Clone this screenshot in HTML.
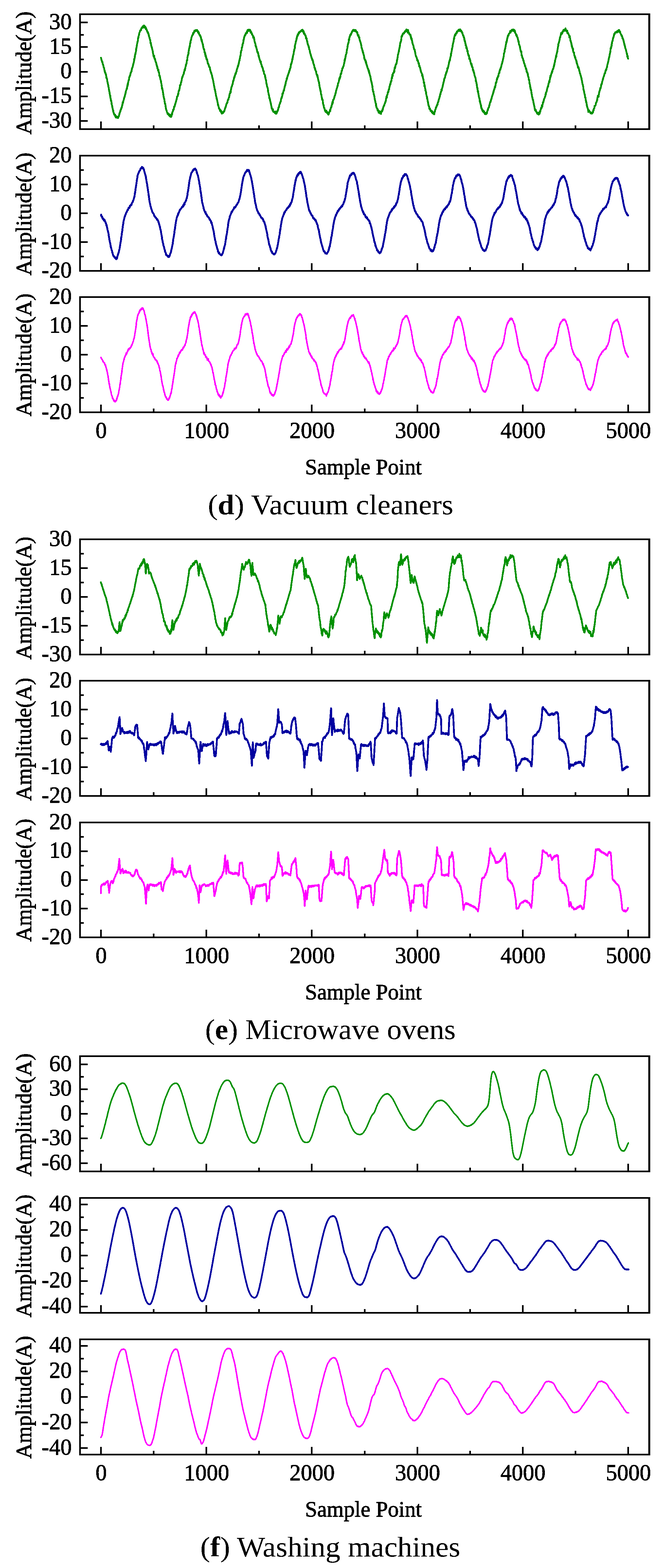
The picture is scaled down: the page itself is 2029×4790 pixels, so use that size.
<!DOCTYPE html><html><head><meta charset="utf-8"><style>html,body{margin:0;padding:0;background:#fff;}svg{display:block}text{font-family:"Liberation Serif","DejaVu Serif",serif;fill:#000}.t{font-size:67.5px;stroke:#000;stroke-width:1.3px;stroke-linejoin:round}.n{font-size:69px}.c{font-size:86px}</style></head><body><svg width="2029" height="4790" viewBox="0 0 2029 4790"><rect x="0" y="0" width="2029" height="4790" fill="#fff"/><defs><filter id="bin" x="0" y="0" width="100%" height="100%" filterUnits="userSpaceOnUse"><feComponentTransfer><feFuncA type="discrete" tableValues="0 1"/></feComponentTransfer></filter></defs><g filter="url(#bin)"><polyline fill="none" stroke="#009100" stroke-width="5.6" stroke-linejoin="round" stroke-linecap="round" points="308.5,176.4 309.1,178.1 309.8,181.3 310.4,184.5 311.1,185.8 311.7,188.9 312.4,189.2 313.0,189.1 313.7,194.4 314.3,196.8 314.9,197.1 315.6,199.5 316.2,202.2 316.9,206.2 317.5,206.7 318.2,207.6 318.8,213.3 319.5,213.9 320.1,218.6 320.7,219.7 321.4,222.8 322.0,222.3 322.7,226.4 323.3,226.0 324.0,228.6 324.6,231.7 325.3,238.4 325.9,237.6 326.5,239.5 327.2,242.2 327.8,248.2 328.5,249.6 329.1,253.9 329.8,257.1 330.4,257.4 331.1,264.3 331.7,266.5 332.3,268.5 333.0,274.6 333.6,277.2 334.3,280.3 334.9,283.8 335.6,289.6 336.2,290.8 336.9,292.1 337.5,300.7 338.1,299.9 338.8,304.6 339.4,309.3 340.1,307.9 340.7,313.2 341.4,319.8 342.0,320.7 342.7,323.2 343.3,327.8 343.9,329.6 344.6,334.1 345.2,335.8 345.9,337.2 346.5,343.4 347.2,344.0 347.8,346.8 348.5,347.0 349.1,350.4 349.7,350.4 350.4,350.8 351.0,349.9 351.7,350.4 352.3,355.6 353.0,355.6 353.6,353.9 354.3,359.3 354.9,357.3 355.5,357.3 356.2,355.5 356.8,357.0 357.5,359.3 358.1,359.7 358.8,359.8 359.4,357.0 360.1,360.6 360.7,360.4 361.3,358.4 362.0,357.3 362.6,355.6 363.3,355.3 363.9,351.4 364.6,350.3 365.2,345.5 365.9,344.4 366.5,343.6 367.1,340.4 367.8,340.1 368.4,335.6 369.1,335.4 369.7,332.3 370.4,333.5 371.0,328.5 371.7,329.9 372.3,328.4 372.9,323.2 373.6,322.1 374.2,318.0 374.9,312.2 375.5,315.4 376.2,312.7 376.8,309.0 377.5,306.2 378.1,305.0 378.7,302.7 379.4,298.8 380.0,296.7 380.7,297.0 381.3,292.9 382.0,290.2 382.6,289.7 383.3,284.9 383.9,284.4 384.5,278.7 385.2,277.6 385.8,275.3 386.5,273.9 387.1,270.5 387.8,271.2 388.4,267.0 389.1,261.8 389.7,263.5 390.3,255.6 391.0,257.5 391.6,250.4 392.3,250.6 392.9,245.2 393.6,243.8 394.2,244.2 394.8,236.9 395.5,234.2 396.1,234.5 396.8,232.6 397.4,230.3 398.1,229.6 398.7,223.9 399.4,224.7 400.0,221.8 400.6,221.0 401.3,218.7 401.9,217.7 402.6,211.1 403.2,211.5 403.9,207.3 404.5,206.7 405.2,205.5 405.8,202.4 406.4,200.3 407.1,196.6 407.7,194.4 408.4,191.4 409.0,190.2 409.7,186.1 410.3,178.6 411.0,179.5 411.6,176.8 412.2,171.1 412.9,165.8 413.5,167.5 414.2,161.9 414.8,159.3 415.5,157.7 416.1,149.6 416.8,147.2 417.4,143.2 418.0,140.8 418.7,135.0 419.3,133.0 420.0,128.8 420.6,127.1 421.3,124.1 421.9,116.5 422.6,116.6 423.2,112.0 423.8,109.5 424.5,107.3 425.1,104.6 425.8,100.1 426.4,99.6 427.1,97.6 427.7,95.9 428.4,92.6 429.0,92.3 429.6,91.7 430.3,92.2 430.9,92.5 431.6,87.4 432.2,86.3 432.9,87.3 433.5,85.2 434.2,84.0 434.8,83.1 435.4,82.2 436.1,84.0 436.7,80.0 437.4,84.4 438.0,80.2 438.7,80.6 439.3,79.7 440.0,77.8 440.6,78.4 441.2,83.1 441.9,84.3 442.5,80.3 443.2,84.0 443.8,83.0 444.5,82.3 445.1,87.5 445.8,89.3 446.4,86.3 447.0,87.9 447.7,89.7 448.3,90.5 449.0,93.5 449.6,96.1 450.3,95.2 450.9,98.2 451.6,100.9 452.2,98.7 452.8,101.3 453.5,102.1 454.1,106.4 454.8,108.0 455.4,111.0 456.1,113.4 456.7,114.3 457.4,118.8 458.0,119.7 458.6,122.7 459.3,122.5 459.9,131.3 460.6,129.9 461.2,134.3 461.9,136.8 462.5,142.0 463.2,142.9 463.8,143.5 464.4,147.6 465.1,150.0 465.7,153.3 466.4,153.4 467.0,158.1 467.7,164.4 468.3,164.3 469.0,169.0 469.6,173.6 470.2,171.2 470.9,170.2 471.5,174.7 472.2,179.0 472.8,180.8 473.5,179.3 474.1,183.1 474.8,185.4 475.4,187.7 476.0,189.7 476.7,190.5 477.3,193.1 478.0,195.9 478.6,200.4 479.3,199.9 479.9,204.1 480.6,203.2 481.2,209.5 481.8,209.6 482.5,211.5 483.1,216.0 483.8,212.8 484.4,215.5 485.1,221.2 485.7,221.3 486.4,224.4 487.0,232.1 487.6,229.6 488.3,232.7 488.9,235.2 489.6,240.1 490.2,241.8 490.9,244.8 491.5,245.8 492.2,250.8 492.8,254.9 493.4,255.8 494.1,263.1 494.7,266.4 495.4,272.5 496.0,270.0 496.7,274.5 497.3,278.1 498.0,282.0 498.6,286.5 499.2,289.9 499.9,294.2 500.5,297.6 501.2,300.6 501.8,301.4 502.5,306.3 503.1,310.6 503.8,314.6 504.4,317.9 505.0,317.3 505.7,322.5 506.3,326.6 507.0,330.5 507.6,334.9 508.3,335.8 508.9,336.6 509.6,340.9 510.2,342.3 510.8,343.5 511.5,344.0 512.1,348.0 512.8,346.7 513.4,348.8 514.1,346.7 514.7,350.5 515.4,349.0 516.0,348.1 516.6,352.1 517.3,353.3 517.9,352.5 518.6,353.4 519.2,355.7 519.9,353.6 520.5,351.2 521.2,355.5 521.8,355.6 522.4,357.2 523.1,354.8 523.7,355.8 524.4,353.7 525.0,347.7 525.7,349.7 526.3,344.3 527.0,341.6 527.6,341.9 528.2,339.5 528.9,335.1 529.5,336.9 530.2,335.6 530.8,334.9 531.5,330.4 532.1,325.9 532.8,324.7 533.4,326.0 534.0,323.8 534.7,321.1 535.3,317.5 536.0,316.3 536.6,313.4 537.3,311.1 537.9,310.0 538.6,307.3 539.2,304.6 539.8,302.8 540.5,299.5 541.1,294.8 541.8,294.7 542.4,293.3 543.1,294.0 543.7,287.9 544.4,289.6 545.0,286.3 545.6,279.9 546.3,277.8 546.9,276.8 547.6,277.1 548.2,272.3 548.9,270.3 549.5,265.4 550.1,260.0 550.8,261.0 551.4,260.1 552.1,258.2 552.7,253.7 553.4,251.4 554.0,250.6 554.7,245.9 555.3,245.7 555.9,239.3 556.6,237.1 557.2,234.8 557.9,235.4 558.5,231.6 559.2,230.7 559.8,229.1 560.5,227.0 561.1,226.7 561.7,225.0 562.4,219.0 563.0,218.7 563.7,215.9 564.3,212.4 565.0,215.0 565.6,211.1 566.3,207.0 566.9,204.2 567.5,203.0 568.2,197.8 568.8,196.4 569.5,196.0 570.1,192.5 570.8,186.4 571.4,183.8 572.1,184.8 572.7,175.9 573.3,173.9 574.0,169.3 574.6,169.1 575.3,165.6 575.9,163.6 576.6,153.6 577.2,154.7 577.9,147.9 578.5,148.1 579.1,143.0 579.8,142.7 580.4,137.0 581.1,131.4 581.7,132.3 582.4,125.2 583.0,123.4 583.7,122.7 584.3,118.8 584.9,116.0 585.6,112.7 586.2,111.3 586.9,109.9 587.5,107.6 588.2,107.6 588.8,106.9 589.5,103.5 590.1,100.8 590.7,104.0 591.4,100.2 592.0,100.4 592.7,100.0 593.3,95.9 594.0,97.5 594.6,93.2 595.3,96.5 595.9,93.9 596.5,94.4 597.2,94.9 597.8,92.1 598.5,93.1 599.1,91.6 599.8,92.6 600.4,94.4 601.1,92.8 601.7,92.8 602.3,91.6 603.0,95.4 603.6,94.5 604.3,98.2 604.9,94.9 605.6,98.9 606.2,101.2 606.9,99.2 607.5,98.4 608.1,104.2 608.8,104.8 609.4,105.5 610.1,107.6 610.7,106.3 611.4,109.9 612.0,111.2 612.7,110.3 613.3,114.2 613.9,113.9 614.6,118.4 615.2,121.1 615.9,124.6 616.5,120.7 617.2,127.1 617.8,128.8 618.5,131.9 619.1,134.2 619.7,136.9 620.4,136.0 621.0,143.6 621.7,146.9 622.3,148.4 623.0,151.5 623.6,150.3 624.3,152.6 624.9,158.2 625.5,161.4 626.2,162.0 626.8,161.3 627.5,171.0 628.1,167.4 628.8,172.5 629.4,171.0 630.1,176.8 630.7,177.5 631.3,181.7 632.0,182.8 632.6,180.6 633.3,183.6 633.9,187.7 634.6,190.4 635.2,194.2 635.9,193.5 636.5,194.9 637.1,196.9 637.8,199.0 638.4,202.8 639.1,203.0 639.7,205.0 640.4,204.6 641.0,205.5 641.7,211.0 642.3,214.1 642.9,214.9 643.6,217.8 644.2,220.1 644.9,221.0 645.5,224.9 646.2,224.1 646.8,227.6 647.5,229.4 648.1,232.5 648.7,236.0 649.4,239.0 650.0,240.6 650.7,244.1 651.3,245.9 652.0,249.5 652.6,255.1 653.3,255.9 653.9,261.7 654.5,263.8 655.2,266.5 655.8,272.8 656.5,272.1 657.1,275.2 657.8,279.0 658.4,282.7 659.1,285.8 659.7,290.1 660.3,292.1 661.0,295.7 661.6,297.6 662.3,302.9 662.9,303.3 663.6,306.3 664.2,309.8 664.9,313.3 665.5,314.6 666.1,321.6 666.8,320.7 667.4,323.9 668.1,326.3 668.7,328.4 669.4,332.1 670.0,332.9 670.7,332.4 671.3,333.8 671.9,335.2 672.6,339.2 673.2,336.5 673.9,336.2 674.5,337.3 675.2,339.5 675.8,343.4 676.5,339.7 677.1,342.2 677.7,347.0 678.4,342.4 679.0,346.1 679.7,346.2 680.3,345.4 681.0,342.3 681.6,345.4 682.3,344.3 682.9,341.8 683.5,340.4 684.2,341.7 684.8,340.2 685.5,340.2 686.1,337.5 686.8,333.7 687.4,332.0 688.1,330.7 688.7,327.3 689.3,328.6 690.0,325.4 690.6,322.2 691.3,320.6 691.9,317.8 692.6,317.1 693.2,316.4 693.9,313.2 694.5,313.7 695.1,312.8 695.8,306.9 696.4,306.0 697.1,303.4 697.7,304.9 698.4,300.5 699.0,298.8 699.7,297.1 700.3,297.4 700.9,291.9 701.6,287.5 702.2,286.3 702.9,285.8 703.5,282.5 704.2,278.9 704.8,282.9 705.5,276.0 706.1,272.5 706.7,270.0 707.4,266.0 708.0,264.7 708.7,263.8 709.3,261.4 710.0,258.1 710.6,258.0 711.2,254.7 711.9,250.6 712.5,246.4 713.2,247.7 713.8,245.1 714.5,242.3 715.1,238.0 715.8,238.1 716.4,233.3 717.0,235.4 717.7,231.9 718.3,229.9 719.0,226.2 719.6,223.8 720.3,226.4 720.9,223.5 721.6,219.4 722.2,219.3 722.8,218.9 723.5,212.5 724.1,211.6 724.8,209.6 725.4,209.2 726.1,204.5 726.7,204.6 727.4,200.0 728.0,201.1 728.6,198.5 729.3,194.1 729.9,193.0 730.6,187.8 731.2,185.7 731.9,184.9 732.5,180.2 733.2,177.9 733.8,172.6 734.4,172.3 735.1,168.9 735.7,162.9 736.4,158.0 737.0,155.1 737.7,155.1 738.3,151.4 739.0,145.6 739.6,145.1 740.2,143.2 740.9,137.9 741.5,134.2 742.2,133.4 742.8,132.0 743.5,128.8 744.1,122.2 744.8,121.8 745.4,118.0 746.0,114.7 746.7,111.6 747.3,111.1 748.0,107.9 748.6,108.9 749.3,106.8 749.9,106.9 750.6,102.0 751.2,103.0 751.8,103.2 752.5,101.6 753.1,100.4 753.8,97.9 754.4,101.1 755.1,99.3 755.7,97.4 756.4,91.7 757.0,93.8 757.6,95.2 758.3,93.2 758.9,90.5 759.6,94.2 760.2,94.2 760.9,91.2 761.5,92.4 762.2,92.2 762.8,94.4 763.4,90.4 764.1,91.3 764.7,93.8 765.4,94.3 766.0,99.9 766.7,96.1 767.3,98.5 768.0,98.5 768.6,99.2 769.2,102.2 769.9,105.8 770.5,103.5 771.2,106.8 771.8,107.5 772.5,109.4 773.1,110.3 773.8,115.2 774.4,110.5 775.0,113.7 775.7,114.1 776.3,114.7 777.0,120.4 777.6,126.1 778.3,127.0 778.9,130.2 779.6,131.6 780.2,133.2 780.8,139.4 781.5,137.8 782.1,143.4 782.8,142.6 783.4,145.7 784.1,148.5 784.7,150.6 785.4,153.8 786.0,156.4 786.6,160.7 787.3,160.2 787.9,159.3 788.6,161.4 789.2,164.9 789.9,168.3 790.5,172.9 791.2,171.4 791.8,176.1 792.4,178.2 793.1,180.6 793.7,181.9 794.4,184.8 795.0,186.2 795.7,189.9 796.3,190.5 797.0,187.8 797.6,193.9 798.2,196.2 798.9,196.8 799.5,198.5 800.2,203.7 800.8,204.2 801.5,204.2 802.1,207.3 802.8,209.5 803.4,208.9 804.0,214.8 804.7,215.4 805.3,218.5 806.0,217.0 806.6,225.1 807.3,225.0 807.9,226.9 808.6,227.0 809.2,229.4 809.8,230.4 810.5,238.1 811.1,236.7 811.8,241.3 812.4,244.9 813.1,245.8 813.7,251.6 814.4,256.8 815.0,257.1 815.6,262.4 816.3,264.2 816.9,265.7 817.6,268.9 818.2,269.8 818.9,276.1 819.5,281.7 820.2,283.5 820.8,287.0 821.4,290.7 822.1,291.0 822.7,296.0 823.4,301.5 824.0,299.8 824.7,304.1 825.3,306.1 826.0,309.4 826.6,311.5 827.2,315.6 827.9,316.5 828.5,320.9 829.2,323.8 829.8,326.3 830.5,331.9 831.1,331.7 831.8,333.5 832.4,333.8 833.0,337.6 833.7,333.3 834.3,337.0 835.0,340.2 835.6,341.9 836.3,340.3 836.9,340.7 837.6,342.6 838.2,341.9 838.8,343.8 839.5,342.3 840.1,345.1 840.8,344.4 841.4,343.0 842.1,340.6 842.7,347.2 843.4,346.4 844.0,347.2 844.6,344.5 845.3,347.0 845.9,344.1 846.6,341.6 847.2,341.5 847.9,339.6 848.5,337.0 849.2,338.0 849.8,335.0 850.4,331.3 851.1,328.5 851.7,327.2 852.4,328.0 853.0,323.8 853.7,319.7 854.3,318.1 855.0,317.3 855.6,316.7 856.2,312.0 856.9,312.1 857.5,311.1 858.2,308.4 858.8,302.4 859.5,302.5 860.1,298.7 860.8,299.5 861.4,294.8 862.0,295.3 862.7,292.3 863.3,285.5 864.0,286.2 864.6,286.2 865.3,283.2 865.9,280.2 866.6,276.3 867.2,277.0 867.8,276.9 868.5,272.0 869.1,269.2 869.8,266.6 870.4,262.1 871.1,261.4 871.7,258.1 872.4,259.0 873.0,253.0 873.6,248.4 874.3,248.2 874.9,246.7 875.6,244.4 876.2,239.2 876.9,241.6 877.5,237.9 878.1,234.6 878.8,231.9 879.4,231.9 880.1,228.6 880.7,227.6 881.4,225.0 882.0,223.5 882.7,223.3 883.3,219.5 883.9,216.0 884.6,217.3 885.2,214.0 885.9,210.4 886.5,211.4 887.2,207.1 887.8,207.0 888.5,200.9 889.1,196.4 889.7,194.4 890.4,195.7 891.0,191.3 891.7,189.6 892.3,186.7 893.0,181.2 893.6,183.2 894.3,175.9 894.9,174.8 895.5,169.1 896.2,168.1 896.8,166.4 897.5,161.5 898.1,157.4 898.8,155.1 899.4,150.8 900.1,149.0 900.7,148.3 901.3,139.5 902.0,136.5 902.6,134.3 903.3,131.4 903.9,126.8 904.6,126.5 905.2,124.0 905.9,120.2 906.5,115.0 907.1,116.9 907.8,110.0 908.4,111.2 909.1,110.4 909.7,105.0 910.4,106.2 911.0,107.2 911.7,104.4 912.3,101.1 912.9,99.7 913.6,101.5 914.2,99.1 914.9,97.7 915.5,99.3 916.2,96.8 916.8,96.7 917.5,97.0 918.1,96.3 918.7,94.9 919.4,94.5 920.0,95.2 920.7,94.7 921.3,91.8 922.0,93.3 922.6,92.2 923.3,91.8 923.9,93.2 924.5,90.6 925.2,96.6 925.8,94.5 926.5,97.2 927.1,94.3 927.8,95.5 928.4,103.0 929.1,102.4 929.7,100.8 930.3,101.8 931.0,103.2 931.6,106.0 932.3,106.5 932.9,107.5 933.6,110.2 934.2,109.7 934.9,117.0 935.5,113.5 936.1,118.3 936.8,116.9 937.4,121.3 938.1,124.9 938.7,125.2 939.4,130.1 940.0,132.8 940.7,136.6 941.3,136.4 941.9,138.0 942.6,139.5 943.2,143.9 943.9,144.3 944.5,148.5 945.2,151.2 945.8,152.5 946.5,154.1 947.1,159.0 947.7,161.2 948.4,163.5 949.0,165.4 949.7,169.5 950.3,168.4 951.0,173.1 951.6,173.8 952.3,178.1 952.9,178.1 953.5,180.1 954.2,183.5 954.8,181.2 955.5,186.1 956.1,185.6 956.8,188.9 957.4,193.7 958.1,195.2 958.7,195.7 959.3,198.4 960.0,200.5 960.6,203.1 961.3,207.8 961.9,207.0 962.6,212.4 963.2,209.9 963.9,213.8 964.5,215.7 965.1,216.8 965.8,218.0 966.4,223.0 967.1,225.7 967.7,226.6 968.4,230.5 969.0,230.9 969.7,228.7 970.3,235.8 970.9,235.3 971.6,241.5 972.2,241.5 972.9,245.5 973.5,248.2 974.2,250.3 974.8,251.5 975.5,257.5 976.1,261.0 976.7,266.2 977.4,266.7 978.0,271.4 978.7,272.6 979.3,277.3 980.0,277.4 980.6,287.2 981.3,287.5 981.9,288.6 982.5,293.9 983.2,297.8 983.8,300.0 984.5,304.9 985.1,305.2 985.8,304.0 986.4,309.2 987.1,316.2 987.7,318.8 988.3,321.0 989.0,321.5 989.6,327.4 990.3,329.7 990.9,329.1 991.6,331.1 992.2,334.7 992.9,337.1 993.5,338.8 994.1,338.3 994.8,341.9 995.4,337.6 996.1,340.9 996.7,339.8 997.4,338.1 998.0,340.1 998.7,344.9 999.3,341.9 999.9,342.0 1000.6,345.9 1001.2,346.7 1001.9,345.6 1002.5,348.6 1003.2,343.4 1003.8,350.4 1004.5,348.3 1005.1,346.8 1005.7,345.1 1006.4,342.6 1007.0,340.7 1007.7,339.8 1008.3,335.6 1009.0,339.6 1009.6,334.0 1010.3,333.4 1010.9,330.1 1011.5,328.1 1012.2,328.2 1012.8,325.8 1013.5,321.4 1014.1,320.2 1014.8,320.1 1015.4,313.3 1016.1,310.9 1016.7,315.5 1017.3,310.4 1018.0,304.5 1018.6,305.5 1019.3,304.4 1019.9,303.1 1020.6,301.6 1021.2,298.9 1021.9,297.4 1022.5,292.9 1023.1,292.7 1023.8,290.6 1024.4,289.7 1025.1,285.4 1025.7,284.6 1026.4,281.1 1027.0,276.7 1027.7,275.6 1028.3,273.1 1028.9,271.0 1029.6,269.2 1030.2,267.2 1030.9,265.1 1031.5,260.9 1032.2,261.7 1032.8,254.9 1033.4,254.8 1034.1,253.7 1034.7,250.8 1035.4,248.7 1036.0,244.8 1036.7,243.9 1037.3,238.3 1038.0,239.4 1038.6,239.7 1039.2,234.9 1039.9,235.0 1040.5,229.5 1041.2,225.6 1041.8,224.3 1042.5,225.9 1043.1,223.0 1043.8,216.6 1044.4,217.3 1045.0,215.9 1045.7,212.1 1046.3,207.7 1047.0,207.7 1047.6,207.7 1048.3,205.2 1048.9,202.5 1049.6,202.4 1050.2,200.7 1050.8,196.2 1051.5,195.4 1052.1,191.1 1052.8,188.0 1053.4,181.1 1054.1,183.8 1054.7,179.5 1055.4,176.5 1056.0,172.3 1056.6,168.1 1057.3,167.7 1057.9,165.2 1058.6,163.4 1059.2,158.8 1059.9,152.8 1060.5,150.1 1061.2,148.5 1061.8,143.9 1062.4,139.7 1063.1,135.5 1063.7,134.3 1064.4,130.7 1065.0,130.6 1065.7,126.5 1066.3,118.7 1067.0,122.5 1067.6,116.4 1068.2,112.9 1068.9,111.5 1069.5,110.2 1070.2,107.1 1070.8,105.7 1071.5,104.7 1072.1,106.7 1072.8,102.6 1073.4,102.8 1074.0,101.2 1074.7,98.9 1075.3,97.2 1076.0,95.9 1076.6,97.5 1077.3,94.2 1077.9,93.1 1078.6,92.5 1079.2,91.4 1079.8,93.6 1080.5,93.2 1081.1,91.0 1081.8,94.6 1082.4,91.6 1083.1,92.8 1083.7,92.4 1084.4,94.9 1085.0,93.7 1085.6,92.5 1086.3,91.4 1086.9,91.9 1087.6,94.5 1088.2,95.5 1088.9,97.6 1089.5,96.5 1090.2,98.8 1090.8,98.5 1091.4,97.7 1092.1,102.2 1092.7,106.1 1093.4,106.4 1094.0,108.9 1094.7,109.9 1095.3,107.0 1096.0,110.3 1096.6,115.0 1097.2,113.0 1097.9,114.0 1098.5,119.2 1099.2,122.2 1099.8,124.2 1100.5,125.8 1101.1,127.9 1101.8,129.6 1102.4,132.2 1103.0,134.8 1103.7,136.9 1104.3,140.6 1105.0,146.9 1105.6,147.0 1106.3,148.7 1106.9,152.4 1107.6,152.7 1108.2,157.4 1108.8,160.9 1109.5,159.2 1110.1,162.9 1110.8,166.1 1111.4,167.2 1112.1,169.2 1112.7,172.7 1113.4,179.7 1114.0,178.7 1114.6,180.4 1115.3,183.4 1115.9,183.3 1116.6,183.5 1117.2,188.5 1117.9,191.6 1118.5,188.0 1119.2,194.4 1119.8,197.8 1120.4,197.3 1121.1,199.0 1121.7,203.1 1122.4,202.5 1123.0,206.8 1123.7,209.5 1124.3,209.6 1125.0,210.6 1125.6,215.0 1126.2,215.4 1126.9,218.2 1127.5,215.2 1128.2,223.5 1128.8,222.1 1129.5,226.9 1130.1,229.4 1130.8,230.3 1131.4,232.5 1132.0,234.6 1132.7,239.1 1133.3,243.7 1134.0,246.7 1134.6,248.1 1135.3,251.3 1135.9,253.3 1136.6,258.4 1137.2,260.6 1137.8,263.1 1138.5,268.8 1139.1,274.9 1139.8,277.6 1140.4,281.3 1141.1,279.3 1141.7,286.9 1142.4,286.5 1143.0,290.9 1143.6,292.1 1144.3,296.5 1144.9,301.5 1145.6,304.6 1146.2,307.0 1146.9,309.9 1147.5,314.2 1148.2,316.4 1148.8,316.6 1149.4,325.4 1150.1,324.7 1150.7,329.3 1151.4,329.6 1152.0,330.3 1152.7,333.3 1153.3,332.9 1154.0,338.1 1154.6,334.3 1155.2,338.3 1155.9,337.0 1156.5,338.7 1157.2,344.4 1157.8,342.0 1158.5,341.0 1159.1,339.3 1159.8,342.2 1160.4,342.8 1161.0,346.2 1161.7,341.7 1162.3,341.4 1163.0,344.8 1163.6,345.5 1164.3,348.1 1164.9,343.8 1165.6,339.8 1166.2,341.5 1166.8,338.8 1167.5,338.3 1168.1,339.2 1168.8,333.3 1169.4,336.0 1170.1,332.4 1170.7,329.6 1171.4,326.7 1172.0,325.6 1172.6,323.8 1173.3,323.8 1173.9,322.8 1174.6,318.5 1175.2,317.9 1175.9,316.9 1176.5,314.9 1177.2,311.5 1177.8,311.9 1178.4,308.9 1179.1,307.4 1179.7,302.1 1180.4,299.6 1181.0,294.6 1181.7,298.6 1182.3,295.0 1183.0,290.0 1183.6,289.7 1184.2,287.7 1184.9,281.9 1185.5,283.2 1186.2,282.3 1186.8,280.3 1187.5,275.1 1188.1,272.9 1188.8,273.5 1189.4,270.5 1190.0,265.4 1190.7,263.0 1191.3,262.7 1192.0,258.0 1192.6,255.6 1193.3,257.2 1193.9,252.2 1194.5,248.4 1195.2,247.7 1195.8,248.0 1196.5,242.4 1197.1,238.2 1197.8,234.4 1198.4,238.8 1199.1,228.2 1199.7,232.7 1200.3,227.0 1201.0,224.5 1201.6,223.0 1202.3,222.5 1202.9,222.9 1203.6,217.9 1204.2,218.3 1204.9,219.5 1205.5,208.2 1206.1,209.9 1206.8,205.9 1207.4,208.5 1208.1,202.2 1208.7,199.7 1209.4,197.3 1210.0,197.6 1210.7,197.1 1211.3,192.5 1211.9,193.3 1212.6,189.5 1213.2,183.4 1213.9,182.2 1214.5,177.7 1215.2,174.5 1215.8,167.8 1216.5,165.8 1217.1,165.0 1217.7,159.5 1218.4,159.7 1219.0,155.4 1219.7,149.7 1220.3,149.9 1221.0,144.7 1221.6,143.1 1222.3,137.2 1222.9,131.3 1223.5,132.5 1224.2,127.9 1224.8,126.9 1225.5,124.4 1226.1,121.7 1226.8,114.1 1227.4,109.9 1228.1,110.9 1228.7,110.9 1229.3,106.7 1230.0,107.3 1230.6,104.1 1231.3,103.9 1231.9,102.8 1232.6,101.2 1233.2,102.2 1233.9,101.0 1234.5,102.3 1235.1,99.2 1235.8,100.1 1236.4,97.1 1237.1,97.8 1237.7,95.3 1238.4,94.1 1239.0,96.9 1239.7,95.4 1240.3,95.3 1240.9,92.1 1241.6,90.2 1242.2,91.6 1242.9,93.7 1243.5,90.7 1244.2,96.2 1244.8,91.3 1245.5,95.6 1246.1,100.0 1246.7,91.3 1247.4,94.0 1248.0,99.5 1248.7,98.4 1249.3,100.2 1250.0,100.8 1250.6,104.9 1251.3,104.7 1251.9,104.0 1252.5,105.8 1253.2,105.5 1253.8,108.9 1254.5,106.3 1255.1,113.1 1255.8,112.9 1256.4,118.5 1257.1,119.3 1257.7,117.0 1258.3,123.3 1259.0,123.2 1259.6,126.8 1260.3,131.2 1260.9,132.6 1261.6,135.4 1262.2,137.9 1262.9,138.1 1263.5,140.7 1264.1,145.2 1264.8,148.2 1265.4,148.5 1266.1,151.6 1266.7,152.1 1267.4,151.7 1268.0,157.2 1268.7,161.2 1269.3,163.8 1269.9,167.3 1270.6,169.7 1271.2,172.1 1271.9,173.2 1272.5,175.4 1273.2,175.4 1273.8,179.4 1274.5,181.1 1275.1,184.9 1275.7,181.8 1276.4,185.7 1277.0,185.4 1277.7,189.1 1278.3,189.8 1279.0,194.8 1279.6,195.0 1280.3,193.5 1280.9,202.4 1281.5,200.2 1282.2,201.3 1282.8,205.5 1283.5,206.8 1284.1,207.9 1284.8,213.2 1285.4,213.3 1286.1,217.5 1286.7,219.2 1287.3,221.1 1288.0,222.3 1288.6,223.9 1289.3,225.5 1289.9,231.1 1290.6,227.3 1291.2,231.1 1291.9,234.3 1292.5,238.9 1293.1,241.2 1293.8,243.0 1294.4,246.3 1295.1,253.2 1295.7,252.0 1296.4,251.4 1297.0,263.2 1297.7,261.4 1298.3,265.7 1298.9,269.8 1299.6,270.2 1300.2,277.9 1300.9,278.7 1301.5,279.5 1302.2,285.7 1302.8,289.3 1303.5,291.5 1304.1,295.6 1304.7,295.1 1305.4,302.5 1306.0,302.2 1306.7,308.8 1307.3,308.2 1308.0,312.6 1308.6,320.1 1309.3,318.4 1309.9,323.3 1310.5,325.0 1311.2,324.1 1311.8,331.2 1312.5,333.2 1313.1,330.4 1313.8,334.1 1314.4,332.6 1315.1,335.8 1315.7,338.9 1316.3,338.3 1317.0,336.9 1317.6,338.3 1318.3,340.8 1318.9,341.4 1319.6,342.5 1320.2,344.0 1320.9,340.1 1321.5,344.1 1322.1,346.7 1322.8,345.9 1323.4,344.1 1324.1,344.6 1324.7,346.3 1325.4,347.4 1326.0,346.3 1326.7,349.4 1327.3,347.0 1327.9,341.4 1328.6,341.9 1329.2,338.6 1329.9,335.3 1330.5,334.5 1331.2,333.7 1331.8,328.1 1332.5,328.8 1333.1,328.7 1333.7,324.8 1334.4,323.5 1335.0,323.8 1335.7,320.2 1336.3,318.6 1337.0,319.8 1337.6,314.6 1338.3,312.8 1338.9,311.0 1339.5,311.1 1340.2,306.7 1340.8,304.0 1341.5,301.7 1342.1,301.7 1342.8,296.4 1343.4,297.5 1344.1,293.5 1344.7,288.5 1345.3,289.8 1346.0,287.2 1346.6,282.1 1347.3,282.4 1347.9,279.9 1348.6,276.7 1349.2,272.8 1349.9,276.4 1350.5,271.5 1351.1,269.5 1351.8,267.2 1352.4,264.3 1353.1,261.8 1353.7,257.3 1354.4,256.9 1355.0,252.6 1355.6,249.6 1356.3,249.1 1356.9,245.1 1357.6,239.9 1358.2,239.9 1358.9,239.3 1359.5,235.9 1360.2,235.2 1360.8,230.9 1361.4,227.8 1362.1,228.8 1362.7,225.7 1363.4,221.3 1364.0,222.3 1364.7,219.1 1365.3,219.4 1366.0,217.0 1366.6,214.5 1367.2,207.8 1367.9,210.2 1368.5,208.3 1369.2,206.2 1369.8,203.2 1370.5,199.4 1371.1,197.8 1371.8,191.9 1372.4,192.4 1373.0,187.5 1373.7,186.6 1374.3,183.1 1375.0,183.6 1375.6,178.2 1376.3,175.0 1376.9,172.1 1377.6,172.3 1378.2,163.8 1378.8,162.9 1379.5,159.6 1380.1,155.8 1380.8,152.2 1381.4,147.5 1382.1,146.9 1382.7,142.8 1383.4,137.2 1384.0,134.1 1384.6,131.8 1385.3,129.2 1385.9,126.7 1386.6,122.4 1387.2,117.2 1387.9,118.3 1388.5,111.0 1389.2,109.7 1389.8,109.7 1390.4,105.6 1391.1,108.1 1391.7,107.3 1392.4,105.4 1393.0,102.7 1393.7,101.5 1394.3,100.8 1395.0,98.7 1395.6,101.7 1396.2,96.1 1396.9,98.6 1397.5,96.5 1398.2,95.3 1398.8,95.9 1399.5,95.7 1400.1,94.5 1400.8,92.3 1401.4,90.8 1402.0,90.6 1402.7,93.1 1403.3,92.6 1404.0,92.8 1404.6,90.4 1405.3,95.0 1405.9,89.6 1406.6,93.2 1407.2,94.3 1407.8,93.1 1408.5,92.8 1409.1,94.9 1409.8,94.7 1410.4,97.5 1411.1,96.8 1411.7,98.0 1412.4,101.7 1413.0,100.4 1413.6,104.0 1414.3,105.6 1414.9,108.9 1415.6,109.2 1416.2,108.8 1416.9,114.1 1417.5,112.5 1418.2,115.1 1418.8,117.5 1419.4,124.4 1420.1,123.3 1420.7,124.7 1421.4,129.9 1422.0,131.1 1422.7,138.1 1423.3,135.3 1424.0,140.1 1424.6,139.9 1425.2,147.2 1425.9,145.2 1426.5,149.4 1427.2,150.1 1427.8,155.7 1428.5,157.6 1429.1,155.1 1429.8,163.0 1430.4,165.2 1431.0,166.8 1431.7,170.5 1432.3,168.9 1433.0,170.2 1433.6,176.6 1434.3,180.6 1434.9,177.6 1435.6,179.7 1436.2,182.3 1436.8,183.7 1437.5,189.3 1438.1,190.1 1438.8,194.2 1439.4,196.3 1440.1,194.1 1440.7,199.1 1441.4,196.0 1442.0,201.9 1442.6,205.3 1443.3,204.8 1443.9,205.0 1444.6,209.4 1445.2,214.4 1445.9,213.6 1446.5,213.9 1447.2,219.3 1447.8,221.9 1448.4,220.9 1449.1,224.6 1449.7,229.1 1450.4,230.2 1451.0,233.3 1451.7,234.0 1452.3,236.9 1453.0,237.9 1453.6,241.7 1454.2,248.8 1454.9,248.6 1455.5,251.1 1456.2,255.2 1456.8,257.6 1457.5,263.8 1458.1,267.9 1458.8,267.9 1459.4,274.6 1460.0,279.8 1460.7,277.5 1461.3,283.9 1462.0,286.5 1462.6,291.7 1463.3,294.9 1463.9,297.8 1464.6,299.6 1465.2,301.4 1465.8,309.1 1466.5,306.7 1467.1,313.1 1467.8,316.0 1468.4,316.1 1469.1,320.5 1469.7,326.1 1470.4,323.1 1471.0,330.5 1471.6,330.9 1472.3,333.0 1472.9,332.5 1473.6,337.0 1474.2,335.5 1474.9,339.5 1475.5,337.2 1476.2,341.5 1476.8,341.7 1477.4,338.6 1478.1,342.2 1478.7,343.3 1479.4,340.3 1480.0,344.2 1480.7,346.9 1481.3,344.7 1482.0,348.6 1482.6,344.9 1483.2,345.1 1483.9,348.5 1484.5,348.8 1485.2,347.5 1485.8,347.8 1486.5,347.9 1487.1,343.5 1487.8,346.4 1488.4,341.9 1489.0,340.1 1489.7,338.1 1490.3,335.4 1491.0,336.3 1491.6,331.3 1492.3,330.8 1492.9,329.9 1493.6,329.3 1494.2,327.1 1494.8,322.5 1495.5,323.0 1496.1,319.3 1496.8,315.6 1497.4,313.7 1498.1,310.9 1498.7,312.2 1499.4,311.6 1500.0,305.9 1500.6,305.2 1501.3,301.8 1501.9,301.7 1502.6,297.5 1503.2,296.1 1503.9,294.2 1504.5,292.4 1505.2,290.5 1505.8,288.6 1506.4,286.4 1507.1,282.9 1507.7,283.4 1508.4,277.2 1509.0,278.2 1509.7,274.1 1510.3,273.7 1511.0,271.8 1511.6,265.5 1512.2,267.3 1512.9,266.7 1513.5,263.4 1514.2,260.3 1514.8,253.6 1515.5,254.6 1516.1,250.9 1516.8,252.0 1517.4,247.2 1518.0,244.3 1518.7,240.0 1519.3,242.1 1520.0,237.6 1520.6,236.0 1521.3,236.2 1521.9,232.3 1522.5,230.8 1523.2,232.5 1523.8,225.4 1524.5,223.7 1525.1,223.5 1525.8,223.3 1526.4,216.5 1527.1,216.8 1527.7,213.6 1528.3,211.0 1529.0,212.5 1529.6,208.1 1530.3,208.0 1530.9,205.5 1531.6,203.4 1532.2,201.0 1532.9,196.7 1533.5,195.9 1534.1,193.9 1534.8,191.4 1535.4,187.6 1536.1,186.9 1536.7,183.4 1537.4,179.6 1538.0,177.6 1538.7,173.8 1539.3,171.6 1539.9,164.0 1540.6,162.2 1541.2,160.7 1541.9,158.3 1542.5,151.1 1543.2,151.0 1543.8,148.3 1544.5,144.2 1545.1,140.8 1545.7,135.6 1546.4,134.9 1547.0,128.2 1547.7,130.5 1548.3,125.0 1549.0,125.1 1549.6,117.4 1550.3,118.3 1550.9,115.2 1551.5,110.9 1552.2,108.1 1552.8,110.2 1553.5,107.2 1554.1,107.7 1554.8,103.9 1555.4,103.3 1556.1,102.6 1556.7,102.2 1557.3,100.7 1558.0,100.3 1558.6,97.2 1559.3,94.6 1559.9,99.8 1560.6,95.8 1561.2,95.6 1561.9,93.3 1562.5,95.3 1563.1,93.3 1563.8,94.4 1564.4,90.9 1565.1,91.6 1565.7,91.8 1566.4,90.7 1567.0,91.6 1567.7,93.9 1568.3,90.2 1568.9,91.1 1569.6,92.2 1570.2,90.8 1570.9,91.1 1571.5,95.9 1572.2,96.3 1572.8,93.2 1573.5,94.5 1574.1,99.5 1574.7,101.5 1575.4,101.9 1576.0,103.0 1576.7,106.3 1577.3,105.0 1578.0,108.7 1578.6,110.1 1579.3,107.9 1579.9,112.2 1580.5,112.9 1581.2,113.7 1581.8,115.6 1582.5,120.1 1583.1,122.0 1583.8,126.3 1584.4,124.5 1585.1,129.2 1585.7,135.1 1586.3,135.8 1587.0,137.1 1587.6,140.0 1588.3,140.2 1588.9,143.5 1589.6,149.4 1590.2,151.2 1590.9,155.9 1591.5,155.8 1592.1,158.5 1592.8,156.5 1593.4,163.6 1594.1,169.9 1594.7,169.8 1595.4,170.8 1596.0,175.4 1596.7,177.0 1597.3,178.3 1597.9,179.1 1598.6,182.1 1599.2,185.5 1599.9,184.6 1600.5,189.0 1601.2,190.9 1601.8,194.5 1602.5,195.5 1603.1,195.1 1603.7,201.2 1604.4,200.6 1605.0,201.4 1605.7,205.4 1606.3,206.4 1607.0,210.8 1607.6,208.6 1608.3,211.0 1608.9,214.6 1609.5,220.2 1610.2,221.1 1610.8,219.7 1611.5,220.7 1612.1,225.4 1612.8,226.1 1613.4,231.8 1614.1,233.6 1614.7,235.9 1615.3,237.9 1616.0,244.3 1616.6,243.1 1617.3,245.7 1617.9,253.4 1618.6,257.2 1619.2,257.7 1619.9,262.9 1620.5,269.4 1621.1,267.2 1621.8,271.6 1622.4,276.1 1623.1,274.9 1623.7,281.7 1624.4,286.7 1625.0,288.5 1625.7,293.9 1626.3,296.7 1626.9,298.0 1627.6,302.8 1628.2,305.7 1628.9,304.9 1629.5,309.4 1630.2,312.7 1630.8,316.4 1631.5,319.6 1632.1,321.0 1632.7,326.5 1633.4,325.9 1634.0,333.2 1634.7,334.0 1635.3,337.6 1636.0,336.9 1636.6,336.5 1637.3,335.9 1637.9,340.6 1638.5,340.4 1639.2,341.9 1639.8,343.4 1640.5,345.0 1641.1,343.6 1641.8,347.5 1642.4,344.9 1643.1,345.6 1643.7,347.3 1644.3,348.4 1645.0,349.5 1645.6,344.1 1646.3,350.0 1646.9,345.0 1647.6,346.8 1648.2,347.7 1648.9,347.3 1649.5,341.7 1650.1,338.8 1650.8,341.7 1651.4,338.8 1652.1,334.6 1652.7,334.0 1653.4,329.3 1654.0,331.9 1654.7,328.1 1655.3,329.3 1655.9,321.5 1656.6,324.6 1657.2,325.2 1657.9,319.6 1658.5,317.7 1659.2,312.1 1659.8,314.1 1660.5,311.5 1661.1,308.4 1661.7,304.6 1662.4,305.4 1663.0,301.4 1663.7,300.2 1664.3,299.5 1665.0,296.7 1665.6,294.6 1666.3,294.1 1666.9,288.1 1667.5,290.5 1668.2,283.7 1668.8,281.8 1669.5,281.4 1670.1,280.3 1670.8,277.1 1671.4,273.6 1672.1,270.8 1672.7,269.3 1673.3,265.7 1674.0,266.0 1674.6,262.2 1675.3,262.9 1675.9,256.4 1676.6,255.0 1677.2,253.5 1677.8,248.3 1678.5,246.7 1679.1,250.4 1679.8,243.0 1680.4,243.3 1681.1,236.6 1681.7,231.8 1682.4,234.9 1683.0,231.8 1683.6,230.3 1684.3,227.2 1684.9,224.8 1685.6,221.7 1686.2,223.8 1686.9,217.4 1687.5,219.9 1688.2,215.9 1688.8,212.4 1689.4,211.2 1690.1,212.1 1690.7,209.6 1691.4,207.1 1692.0,204.1 1692.7,199.7 1693.3,201.6 1694.0,196.0 1694.6,193.1 1695.2,190.5 1695.9,187.8 1696.5,183.1 1697.2,181.9 1697.8,178.3 1698.5,175.7 1699.1,170.5 1699.8,173.9 1700.4,165.1 1701.0,164.7 1701.7,161.6 1702.3,159.5 1703.0,157.6 1703.6,151.5 1704.3,148.5 1704.9,142.9 1705.6,142.9 1706.2,134.5 1706.8,133.3 1707.5,131.1 1708.1,129.1 1708.8,126.3 1709.4,124.0 1710.1,120.0 1710.7,116.3 1711.4,113.9 1712.0,113.6 1712.6,109.4 1713.3,108.7 1713.9,105.3 1714.6,101.2 1715.2,102.2 1715.9,102.8 1716.5,104.0 1717.2,102.6 1717.8,102.1 1718.4,96.9 1719.1,98.6 1719.7,96.3 1720.4,96.7 1721.0,94.7 1721.7,91.7 1722.3,94.7 1723.0,93.6 1723.6,93.9 1724.2,90.5 1724.9,93.5 1725.5,93.5 1726.2,93.7 1726.8,93.7 1727.5,90.4 1728.1,86.8 1728.8,93.4 1729.4,90.4 1730.0,92.2 1730.7,95.3 1731.3,94.6 1732.0,95.4 1732.6,97.2 1733.3,93.7 1733.9,101.5 1734.6,98.7 1735.2,100.1 1735.8,103.0 1736.5,103.1 1737.1,103.2 1737.8,105.9 1738.4,106.9 1739.1,107.9 1739.7,114.2 1740.4,109.6 1741.0,110.1 1741.6,114.5 1742.3,116.7 1742.9,123.5 1743.6,123.8 1744.2,127.7 1744.9,130.0 1745.5,129.9 1746.2,135.6 1746.8,136.9 1747.4,142.5 1748.1,141.9 1748.7,143.9 1749.4,147.8 1750.0,150.3 1750.7,148.2 1751.3,156.1 1752.0,158.3 1752.6,160.3 1753.2,159.3 1753.9,160.1 1754.5,165.5 1755.2,169.7 1755.8,171.4 1756.5,171.0 1757.1,176.6 1757.8,174.6 1758.4,176.7 1759.0,181.1 1759.7,182.1 1760.3,183.9 1761.0,184.5 1761.6,191.0 1762.3,189.1 1762.9,193.8 1763.6,196.5 1764.2,197.0 1764.8,199.6 1765.5,203.0 1766.1,206.1 1766.8,207.0 1767.4,204.8 1768.1,205.9 1768.7,210.1 1769.4,211.2 1770.0,216.2 1770.6,217.5 1771.3,218.9 1771.9,223.4 1772.6,225.4 1773.2,225.7 1773.9,228.7 1774.5,232.4 1775.2,232.3 1775.8,236.0 1776.4,236.5 1777.1,241.1 1777.7,244.7 1778.4,247.1 1779.0,250.8 1779.7,255.0 1780.3,257.9 1781.0,259.2 1781.6,262.8 1782.2,264.9 1782.9,273.4 1783.5,274.3 1784.2,277.6 1784.8,279.8 1785.5,284.2 1786.1,287.5 1786.8,288.5 1787.4,292.8 1788.0,298.3 1788.7,297.0 1789.3,300.7 1790.0,306.4 1790.6,306.8 1791.3,312.5 1791.9,312.3 1792.6,317.8 1793.2,321.9 1793.8,324.1 1794.5,327.5 1795.1,328.4 1795.8,330.7 1796.4,332.8 1797.1,335.3 1797.7,341.9 1798.4,336.3 1799.0,340.8 1799.6,338.0 1800.3,337.4 1800.9,339.7 1801.6,341.7 1802.2,342.2 1802.9,342.8 1803.5,344.3 1804.2,345.0 1804.8,346.1 1805.4,343.0 1806.1,345.5 1806.7,344.2 1807.4,346.7 1808.0,346.4 1808.7,347.0 1809.3,346.0 1810.0,345.4 1810.6,344.8 1811.2,344.7 1811.9,343.1 1812.5,337.1 1813.2,338.8 1813.8,337.0 1814.5,332.2 1815.1,331.0 1815.8,330.2 1816.4,330.0 1817.0,323.3 1817.7,324.9 1818.3,322.7 1819.0,322.1 1819.6,322.3 1820.3,320.3 1820.9,315.3 1821.6,313.3 1822.2,312.5 1822.8,312.1 1823.5,310.6 1824.1,306.7 1824.8,306.6 1825.4,300.4 1826.1,297.9 1826.7,292.8 1827.4,294.1 1828.0,294.6 1828.6,292.9 1829.3,295.2 1829.9,288.0 1830.6,285.1 1831.2,280.8 1831.9,279.2 1832.5,277.0 1833.2,275.4 1833.8,272.4 1834.4,268.7 1835.1,270.9 1835.7,267.5 1836.4,266.7 1837.0,259.1 1837.7,257.2 1838.3,255.8 1839.0,256.8 1839.6,251.9 1840.2,250.2 1840.9,247.3 1841.5,245.4 1842.2,241.8 1842.8,241.2 1843.5,236.7 1844.1,235.6 1844.7,234.4 1845.4,232.1 1846.0,230.7 1846.7,226.5 1847.3,226.5 1848.0,223.6 1848.6,223.0 1849.3,223.0 1849.9,217.0 1850.5,218.5 1851.2,213.6 1851.8,212.1 1852.5,213.7 1853.1,210.4 1853.8,207.5 1854.4,205.9 1855.1,204.2 1855.7,198.4 1856.3,197.7 1857.0,193.9 1857.6,192.7 1858.3,188.6 1858.9,187.6 1859.6,183.4 1860.2,179.3 1860.9,177.3 1861.5,175.1 1862.1,173.2 1862.8,167.9 1863.4,164.5 1864.1,162.4 1864.7,160.0 1865.4,154.3 1866.0,147.4 1866.7,148.9 1867.3,144.3 1867.9,140.9 1868.6,142.7 1869.2,134.9 1869.9,133.4 1870.5,126.9 1871.2,126.9 1871.8,125.0 1872.5,121.1 1873.1,117.7 1873.7,116.4 1874.4,113.1 1875.0,113.3 1875.7,109.6 1876.3,106.5 1877.0,103.3 1877.6,104.4 1878.3,104.1 1878.9,101.4 1879.5,100.7 1880.2,98.6 1880.8,98.7 1881.5,99.9 1882.1,98.4 1882.8,97.8 1883.4,96.8 1884.1,96.4 1884.7,97.5 1885.3,99.3 1886.0,96.3 1886.6,98.3 1887.3,94.3 1887.9,94.1 1888.6,96.9 1889.2,92.7 1889.9,92.4 1890.5,93.9 1891.1,91.5 1891.8,91.6 1892.4,97.6 1893.1,94.4 1893.7,96.2 1894.4,97.2 1895.0,97.3 1895.7,101.3 1896.3,102.2 1896.9,103.9 1897.6,105.0 1898.2,105.2 1898.9,109.0 1899.5,109.7 1900.2,108.3 1900.8,110.9 1901.5,111.6 1902.1,117.1 1902.7,116.8 1903.4,118.5 1904.0,119.6 1904.7,123.1 1905.3,123.0 1906.0,127.4 1906.6,130.0 1907.3,132.7 1907.9,134.1 1908.5,138.8 1909.2,138.4 1909.8,142.0 1910.5,145.0 1911.1,147.7 1911.8,149.3 1912.4,151.0 1913.1,153.6 1913.7,157.1 1914.3,158.7 1915.0,162.5 1915.6,162.9 1916.3,167.5 1916.9,173.4 1917.6,169.7 1918.2,174.1 1918.9,178.5 1919.5,178.9"/><g fill="#000" shape-rendering="crispEdges"><rect x="242" y="41" width="1745" height="5"/><rect x="242" y="392" width="1745" height="5"/><rect x="242" y="41" width="5" height="356"/><rect x="1981" y="41" width="6" height="356"/><rect x="247" y="66.1" width="21" height="5"/><rect x="247" y="141.3" width="21" height="5"/><rect x="247" y="216.5" width="21" height="5"/><rect x="247" y="291.7" width="21" height="5"/><rect x="247" y="366.9" width="21" height="5"/><rect x="247" y="103.7" width="9" height="5"/><rect x="247" y="178.9" width="9" height="5"/><rect x="247" y="254.1" width="9" height="5"/><rect x="247" y="329.3" width="9" height="5"/><rect x="306" y="371" width="5" height="21"/><rect x="628" y="371" width="5" height="21"/><rect x="950" y="371" width="5" height="21"/><rect x="1273" y="371" width="5" height="21"/><rect x="1595" y="371" width="5" height="21"/><rect x="1917" y="371" width="5" height="21"/><rect x="467" y="383" width="5" height="9"/><rect x="789" y="383" width="5" height="9"/><rect x="1112" y="383" width="5" height="9"/><rect x="1434" y="383" width="5" height="9"/><rect x="1756" y="383" width="5" height="9"/></g><text x="219.3" y="88.7" class="t n" text-anchor="end">30</text><text x="219.3" y="163.9" class="t n" text-anchor="end">15</text><text x="219.3" y="239.1" class="t n" text-anchor="end">0</text><text x="219.3" y="314.3" class="t n" text-anchor="end">-15</text><text x="219.3" y="389.5" class="t n" text-anchor="end">-30</text><text transform="translate(95,223.0) rotate(-90)" class="t" text-anchor="middle" textLength="376" lengthAdjust="spacingAndGlyphs">Amplitude(A)</text><polyline fill="none" stroke="#0000a0" stroke-width="5.8" stroke-linejoin="round" stroke-linecap="round" points="308.5,657.9 309.1,655.9 309.8,658.8 310.4,662.1 311.1,661.0 311.7,663.2 312.4,661.8 313.0,666.0 313.7,668.2 314.3,666.7 314.9,668.0 315.6,669.0 316.2,671.7 316.9,669.9 317.5,669.5 318.2,674.2 318.8,671.9 319.5,674.8 320.1,672.7 320.7,675.9 321.4,677.8 322.0,677.7 322.7,679.7 323.3,682.3 324.0,682.6 324.6,685.8 325.3,689.2 325.9,687.4 326.5,692.3 327.2,695.1 327.8,696.8 328.5,701.5 329.1,704.1 329.8,706.1 330.4,709.1 331.1,711.8 331.7,714.4 332.3,719.9 333.0,722.9 333.6,726.8 334.3,732.4 334.9,734.7 335.6,739.3 336.2,740.4 336.9,744.3 337.5,747.8 338.1,752.3 338.8,753.7 339.4,757.4 340.1,758.5 340.7,761.8 341.4,765.0 342.0,765.6 342.7,768.2 343.3,772.0 343.9,772.4 344.6,776.0 345.2,778.0 345.9,779.3 346.5,781.7 347.2,782.7 347.8,783.4 348.5,782.6 349.1,783.6 349.7,786.4 350.4,785.2 351.0,787.8 351.7,788.1 352.3,788.2 353.0,789.3 353.6,787.5 354.3,790.1 354.9,791.8 355.5,788.8 356.2,789.8 356.8,788.7 357.5,790.2 358.1,784.5 358.8,783.1 359.4,781.3 360.1,779.1 360.7,776.2 361.3,775.9 362.0,772.5 362.6,771.9 363.3,769.0 363.9,765.0 364.6,762.9 365.2,761.4 365.9,755.9 366.5,752.6 367.1,749.1 367.8,743.6 368.4,740.3 369.1,737.4 369.7,732.8 370.4,725.4 371.0,724.4 371.7,718.0 372.3,713.0 372.9,708.5 373.6,705.9 374.2,700.1 374.9,694.7 375.5,689.1 376.2,685.9 376.8,682.3 377.5,676.4 378.1,673.1 378.7,671.0 379.4,669.3 380.0,665.7 380.7,663.6 381.3,660.7 382.0,660.8 382.6,657.5 383.3,656.1 383.9,655.4 384.5,652.5 385.2,651.2 385.8,650.3 386.5,648.1 387.1,648.7 387.8,646.0 388.4,644.3 389.1,643.2 389.7,641.3 390.3,642.5 391.0,641.7 391.6,638.8 392.3,637.5 392.9,634.7 393.6,635.3 394.2,636.0 394.8,633.3 395.5,634.2 396.1,634.0 396.8,628.9 397.4,630.4 398.1,629.2 398.7,628.5 399.4,626.3 400.0,626.9 400.6,625.0 401.3,626.3 401.9,625.6 402.6,621.5 403.2,620.2 403.9,620.0 404.5,619.0 405.2,617.6 405.8,617.1 406.4,613.2 407.1,612.4 407.7,610.8 408.4,609.0 409.0,606.3 409.7,604.6 410.3,601.9 411.0,600.8 411.6,595.4 412.2,589.6 412.9,588.3 413.5,583.5 414.2,578.2 414.8,573.8 415.5,569.4 416.1,566.9 416.8,559.8 417.4,556.8 418.0,552.2 418.7,547.1 419.3,544.6 420.0,540.1 420.6,534.5 421.3,534.1 421.9,531.4 422.6,530.8 423.2,528.6 423.8,527.5 424.5,525.6 425.1,524.9 425.8,523.2 426.4,521.5 427.1,521.2 427.7,520.6 428.4,519.5 429.0,516.6 429.6,516.0 430.3,514.2 430.9,513.4 431.6,514.2 432.2,512.5 432.9,514.2 433.5,509.8 434.2,510.7 434.8,511.9 435.4,512.8 436.1,511.2 436.7,514.1 437.4,513.8 438.0,513.4 438.7,515.6 439.3,518.0 440.0,518.5 440.6,522.7 441.2,523.6 441.9,526.8 442.5,529.5 443.2,530.5 443.8,534.3 444.5,533.8 445.1,539.3 445.8,539.7 446.4,546.2 447.0,547.9 447.7,553.4 448.3,557.1 449.0,559.3 449.6,562.8 450.3,569.1 450.9,570.9 451.6,577.5 452.2,581.1 452.8,585.2 453.5,589.5 454.1,596.7 454.8,597.8 455.4,603.6 456.1,609.1 456.7,613.8 457.4,618.1 458.0,621.0 458.6,622.2 459.3,626.2 459.9,629.9 460.6,632.0 461.2,632.4 461.9,636.7 462.5,639.2 463.2,639.1 463.8,641.7 464.4,643.8 465.1,646.1 465.7,648.5 466.4,649.5 467.0,650.0 467.7,651.0 468.3,651.6 469.0,652.5 469.6,654.0 470.2,655.2 470.9,657.6 471.5,659.9 472.2,659.4 472.8,660.9 473.5,661.6 474.1,662.2 474.8,664.2 475.4,664.9 476.0,664.8 476.7,665.4 477.3,667.1 478.0,666.8 478.6,668.4 479.3,670.2 479.9,670.1 480.6,669.2 481.2,672.9 481.8,672.1 482.5,673.2 483.1,674.4 483.8,678.2 484.4,676.8 485.1,680.6 485.7,682.9 486.4,685.1 487.0,686.5 487.6,689.5 488.3,692.3 488.9,693.4 489.6,698.3 490.2,701.5 490.9,702.4 491.5,705.7 492.2,708.8 492.8,714.9 493.4,716.5 494.1,721.1 494.7,723.6 495.4,730.4 496.0,732.3 496.7,736.0 497.3,740.6 498.0,742.7 498.6,743.8 499.2,748.4 499.9,751.4 500.5,752.4 501.2,754.7 501.8,757.1 502.5,761.4 503.1,763.0 503.8,764.2 504.4,768.2 505.0,770.4 505.7,770.7 506.3,771.6 507.0,776.0 507.6,778.9 508.3,778.7 508.9,779.2 509.6,779.2 510.2,779.3 510.8,781.0 511.5,782.4 512.1,782.2 512.8,784.0 513.4,783.5 514.1,784.6 514.7,781.4 515.4,783.5 516.0,785.0 516.6,784.3 517.3,782.7 517.9,782.8 518.6,780.4 519.2,778.8 519.9,775.4 520.5,774.9 521.2,773.2 521.8,771.7 522.4,769.3 523.1,765.9 523.7,763.7 524.4,759.8 525.0,759.0 525.7,754.1 526.3,751.4 527.0,747.9 527.6,746.1 528.2,741.4 528.9,735.2 529.5,730.6 530.2,727.8 530.8,723.0 531.5,720.0 532.1,715.6 532.8,711.6 533.4,705.5 534.0,701.8 534.7,697.8 535.3,693.2 536.0,687.5 536.6,683.3 537.3,680.4 537.9,674.2 538.6,672.7 539.2,670.1 539.8,665.9 540.5,663.9 541.1,662.8 541.8,660.0 542.4,659.8 543.1,657.5 543.7,657.5 544.4,652.3 545.0,654.0 545.6,649.9 546.3,650.1 546.9,649.0 547.6,646.9 548.2,645.2 548.9,643.7 549.5,641.3 550.1,641.7 550.8,640.1 551.4,640.5 552.1,638.1 552.7,637.6 553.4,637.3 554.0,636.0 554.7,635.1 555.3,634.0 555.9,632.9 556.6,633.0 557.2,632.5 557.9,630.1 558.5,631.9 559.2,629.9 559.8,626.8 560.5,630.4 561.1,627.3 561.7,624.9 562.4,626.4 563.0,620.8 563.7,625.1 564.3,619.6 565.0,618.3 565.6,617.6 566.3,617.5 566.9,615.4 567.5,615.2 568.2,611.7 568.8,611.9 569.5,609.1 570.1,605.7 570.8,605.7 571.4,602.1 572.1,598.2 572.7,596.1 573.3,589.5 574.0,586.2 574.6,584.0 575.3,578.4 575.9,574.8 576.6,570.0 577.2,564.5 577.9,560.8 578.5,554.7 579.1,552.8 579.8,547.7 580.4,545.6 581.1,541.5 581.7,540.1 582.4,537.4 583.0,535.7 583.7,531.8 584.3,529.8 584.9,527.2 585.6,526.9 586.2,526.8 586.9,526.1 587.5,524.3 588.2,523.7 588.8,521.1 589.5,520.7 590.1,521.6 590.7,520.6 591.4,517.7 592.0,518.1 592.7,518.0 593.3,516.0 594.0,517.2 594.6,516.8 595.3,516.7 595.9,518.1 596.5,515.1 597.2,517.5 597.8,517.4 598.5,518.6 599.1,518.4 599.8,520.9 600.4,522.6 601.1,526.4 601.7,526.9 602.3,530.6 603.0,531.0 603.6,533.2 604.3,535.8 604.9,536.0 605.6,540.3 606.2,543.1 606.9,546.6 607.5,550.3 608.1,552.4 608.8,555.8 609.4,561.9 610.1,563.1 610.7,567.7 611.4,571.4 612.0,576.3 612.7,582.5 613.3,586.8 613.9,587.9 614.6,594.0 615.2,600.3 615.9,603.0 616.5,608.2 617.2,613.9 617.8,618.1 618.5,620.6 619.1,621.8 619.7,625.1 620.4,628.2 621.0,630.4 621.7,632.6 622.3,637.9 623.0,638.1 623.6,640.7 624.3,642.9 624.9,643.8 625.5,644.9 626.2,646.5 626.8,649.1 627.5,649.4 628.1,647.9 628.8,652.4 629.4,654.2 630.1,653.2 630.7,654.0 631.3,655.2 632.0,658.0 632.6,656.9 633.3,659.8 633.9,661.2 634.6,661.6 635.2,662.0 635.9,662.1 636.5,663.0 637.1,664.6 637.8,664.4 638.4,666.2 639.1,666.2 639.7,669.5 640.4,670.6 641.0,669.1 641.7,672.4 642.3,672.3 642.9,673.3 643.6,674.9 644.2,676.2 644.9,675.7 645.5,681.4 646.2,679.7 646.8,680.2 647.5,684.7 648.1,687.0 648.7,688.7 649.4,690.0 650.0,695.9 650.7,697.2 651.3,700.3 652.0,702.4 652.6,706.0 653.3,709.1 653.9,713.9 654.5,717.2 655.2,721.8 655.8,725.4 656.5,728.3 657.1,731.5 657.8,735.7 658.4,735.8 659.1,740.6 659.7,744.7 660.3,744.9 661.0,749.4 661.6,750.5 662.3,753.4 662.9,755.5 663.6,757.9 664.2,761.0 664.9,762.5 665.5,762.5 666.1,769.0 666.8,768.4 667.4,769.6 668.1,772.5 668.7,773.9 669.4,771.2 670.0,774.8 670.7,773.1 671.3,775.6 671.9,776.8 672.6,777.2 673.2,777.6 673.9,777.6 674.5,778.9 675.2,779.5 675.8,779.7 676.5,778.6 677.1,778.5 677.7,779.5 678.4,778.1 679.0,775.8 679.7,775.4 680.3,773.6 681.0,772.5 681.6,769.9 682.3,767.2 682.9,764.5 683.5,763.4 684.2,759.1 684.8,759.1 685.5,753.3 686.1,752.9 686.8,750.3 687.4,748.0 688.1,746.8 688.7,740.2 689.3,736.1 690.0,730.4 690.6,730.1 691.3,722.8 691.9,721.1 692.6,716.0 693.2,715.3 693.9,708.3 694.5,704.7 695.1,699.4 695.8,695.7 696.4,692.4 697.1,685.7 697.7,681.7 698.4,677.9 699.0,674.1 699.7,671.1 700.3,669.6 700.9,668.5 701.6,666.1 702.2,661.1 702.9,659.7 703.5,658.4 704.2,657.3 704.8,655.2 705.5,653.6 706.1,652.6 706.7,651.6 707.4,647.2 708.0,648.0 708.7,647.7 709.3,647.3 710.0,645.6 710.6,642.9 711.2,641.8 711.9,641.8 712.5,640.5 713.2,639.9 713.8,639.7 714.5,636.2 715.1,636.3 715.8,633.2 716.4,635.8 717.0,634.4 717.7,632.5 718.3,632.9 719.0,633.3 719.6,632.1 720.3,630.2 720.9,629.2 721.6,628.8 722.2,626.8 722.8,625.9 723.5,625.7 724.1,625.0 724.8,624.2 725.4,622.2 726.1,620.7 726.7,620.4 727.4,618.7 728.0,618.2 728.6,617.9 729.3,616.0 729.9,612.5 730.6,611.1 731.2,608.0 731.9,607.6 732.5,604.5 733.2,601.2 733.8,598.4 734.4,596.4 735.1,592.1 735.7,587.9 736.4,585.1 737.0,579.7 737.7,574.9 738.3,572.0 739.0,564.9 739.6,563.0 740.2,558.8 740.9,555.3 741.5,552.7 742.2,548.5 742.8,545.9 743.5,541.4 744.1,540.0 744.8,537.8 745.4,536.6 746.0,536.3 746.7,533.6 747.3,533.2 748.0,530.2 748.6,530.1 749.3,527.2 749.9,527.2 750.6,526.1 751.2,525.8 751.8,524.9 752.5,523.6 753.1,522.6 753.8,523.6 754.4,521.8 755.1,519.0 755.7,521.4 756.4,521.2 757.0,521.4 757.6,522.0 758.3,519.1 758.9,520.4 759.6,520.6 760.2,519.9 760.9,520.4 761.5,525.4 762.2,525.1 762.8,527.4 763.4,529.7 764.1,531.8 764.7,534.5 765.4,535.0 766.0,538.3 766.7,540.7 767.3,542.3 768.0,545.4 768.6,548.8 769.2,552.0 769.9,553.8 770.5,558.4 771.2,562.5 771.8,566.8 772.5,570.1 773.1,574.9 773.8,577.8 774.4,581.9 775.0,588.6 775.7,590.6 776.3,594.2 777.0,599.1 777.6,604.7 778.3,606.8 778.9,613.0 779.6,617.3 780.2,620.5 780.8,622.5 781.5,624.4 782.1,627.1 782.8,630.8 783.4,634.8 784.1,636.6 784.7,639.1 785.4,640.3 786.0,643.8 786.6,643.5 787.3,644.5 787.9,646.7 788.6,647.4 789.2,650.2 789.9,652.0 790.5,652.3 791.2,651.5 791.8,652.7 792.4,655.3 793.1,654.7 793.7,657.3 794.4,656.5 795.0,658.6 795.7,660.7 796.3,660.3 797.0,662.9 797.6,663.9 798.2,665.3 798.9,664.4 799.5,665.5 800.2,666.4 800.8,667.5 801.5,666.5 802.1,669.3 802.8,670.5 803.4,669.4 804.0,670.3 804.7,672.5 805.3,675.9 806.0,675.9 806.6,676.0 807.3,678.1 807.9,678.2 808.6,683.1 809.2,683.0 809.8,686.5 810.5,686.8 811.1,690.6 811.8,692.0 812.4,696.4 813.1,699.8 813.7,702.2 814.4,704.7 815.0,708.5 815.6,709.7 816.3,713.2 816.9,718.0 817.6,723.1 818.2,725.5 818.9,729.3 819.5,730.1 820.2,734.2 820.8,737.0 821.4,740.7 822.1,745.2 822.7,746.5 823.4,749.3 824.0,750.0 824.7,752.6 825.3,755.8 826.0,757.6 826.6,757.7 827.2,762.5 827.9,764.4 828.5,765.5 829.2,767.7 829.8,768.8 830.5,769.0 831.1,768.7 831.8,773.3 832.4,772.3 833.0,773.1 833.7,774.1 834.3,774.9 835.0,775.8 835.6,775.0 836.3,777.0 836.9,777.0 837.6,777.2 838.2,777.2 838.8,777.2 839.5,775.3 840.1,775.4 840.8,774.0 841.4,772.9 842.1,772.4 842.7,770.6 843.4,769.0 844.0,765.8 844.6,764.7 845.3,763.0 845.9,759.5 846.6,756.9 847.2,757.1 847.9,750.8 848.5,749.5 849.2,746.4 849.8,741.5 850.4,738.9 851.1,735.8 851.7,729.1 852.4,728.8 853.0,723.9 853.7,719.0 854.3,717.0 855.0,711.8 855.6,707.2 856.2,701.0 856.9,700.3 857.5,695.0 858.2,689.8 858.8,686.0 859.5,683.2 860.1,677.8 860.8,675.0 861.4,671.8 862.0,668.5 862.7,666.2 863.3,664.6 864.0,662.6 864.6,662.1 865.3,659.3 865.9,657.2 866.6,656.4 867.2,654.4 867.8,653.9 868.5,650.1 869.1,648.2 869.8,649.7 870.4,647.7 871.1,647.3 871.7,644.6 872.4,644.4 873.0,643.8 873.6,643.0 874.3,641.7 874.9,641.9 875.6,639.1 876.2,639.7 876.9,637.5 877.5,637.2 878.1,635.3 878.8,635.7 879.4,633.9 880.1,635.2 880.7,632.8 881.4,632.9 882.0,631.7 882.7,631.0 883.3,629.2 883.9,631.4 884.6,628.0 885.2,628.9 885.9,625.0 886.5,627.2 887.2,625.0 887.8,624.5 888.5,619.8 889.1,621.5 889.7,618.6 890.4,617.7 891.0,617.4 891.7,614.0 892.3,611.0 893.0,609.8 893.6,606.2 894.3,604.5 894.9,600.7 895.5,597.3 896.2,592.7 896.8,587.1 897.5,584.9 898.1,581.0 898.8,577.5 899.4,573.2 900.1,566.5 900.7,565.1 901.3,561.4 902.0,557.4 902.6,554.7 903.3,549.3 903.9,551.1 904.6,545.7 905.2,543.0 905.9,543.1 906.5,541.0 907.1,538.7 907.8,536.2 908.4,537.8 909.1,537.4 909.7,533.6 910.4,532.0 911.0,533.0 911.7,534.1 912.3,529.4 912.9,530.3 913.6,528.2 914.2,528.8 914.9,528.6 915.5,528.1 916.2,525.7 916.8,525.4 917.5,529.0 918.1,527.6 918.7,524.7 919.4,527.2 920.0,529.0 920.7,528.5 921.3,530.0 922.0,531.5 922.6,533.7 923.3,535.5 923.9,537.7 924.5,539.0 925.2,542.3 925.8,543.9 926.5,545.9 927.1,546.7 927.8,550.2 928.4,553.5 929.1,555.8 929.7,559.0 930.3,561.5 931.0,565.5 931.6,567.5 932.3,571.6 932.9,576.9 933.6,581.3 934.2,584.0 934.9,588.6 935.5,593.3 936.1,598.8 936.8,603.4 937.4,605.5 938.1,609.3 938.7,613.4 939.4,619.4 940.0,620.4 940.7,625.1 941.3,627.0 941.9,629.8 942.6,633.8 943.2,636.1 943.9,640.0 944.5,641.0 945.2,644.0 945.8,643.4 946.5,645.4 947.1,646.1 947.7,648.1 948.4,650.5 949.0,650.7 949.7,652.7 950.3,652.8 951.0,654.2 951.6,656.6 952.3,656.6 952.9,657.6 953.5,659.0 954.2,658.8 954.8,659.0 955.5,662.2 956.1,663.1 956.8,666.0 957.4,664.6 958.1,665.8 958.7,668.4 959.3,666.7 960.0,667.1 960.6,669.4 961.3,669.8 961.9,671.3 962.6,670.3 963.2,673.7 963.9,673.4 964.5,672.0 965.1,675.2 965.8,675.9 966.4,677.9 967.1,680.4 967.7,680.8 968.4,682.1 969.0,685.6 969.7,686.2 970.3,687.5 970.9,690.0 971.6,695.2 972.2,697.1 972.9,700.3 973.5,700.1 974.2,703.5 974.8,706.6 975.5,711.7 976.1,715.6 976.7,717.9 977.4,721.4 978.0,725.8 978.7,727.8 979.3,730.3 980.0,733.6 980.6,737.8 981.3,741.7 981.9,742.4 982.5,744.5 983.2,747.3 983.8,749.8 984.5,752.2 985.1,753.0 985.8,756.0 986.4,757.9 987.1,761.1 987.7,762.7 988.3,763.6 989.0,766.5 989.6,768.1 990.3,768.3 990.9,767.7 991.6,769.6 992.2,769.2 992.9,771.7 993.5,772.6 994.1,774.5 994.8,774.3 995.4,772.8 996.1,774.4 996.7,774.4 997.4,774.7 998.0,775.6 998.7,775.5 999.3,774.5 999.9,773.0 1000.6,772.1 1001.2,770.7 1001.9,769.7 1002.5,769.0 1003.2,766.8 1003.8,765.7 1004.5,761.7 1005.1,762.9 1005.7,758.9 1006.4,754.0 1007.0,754.7 1007.7,753.1 1008.3,749.1 1009.0,744.5 1009.6,742.7 1010.3,738.3 1010.9,735.2 1011.5,732.0 1012.2,724.6 1012.8,724.2 1013.5,721.1 1014.1,717.2 1014.8,712.3 1015.4,708.3 1016.1,703.9 1016.7,700.6 1017.3,698.1 1018.0,691.7 1018.6,688.3 1019.3,684.1 1019.9,681.5 1020.6,677.1 1021.2,674.5 1021.9,671.1 1022.5,670.1 1023.1,666.2 1023.8,664.0 1024.4,663.3 1025.1,661.0 1025.7,659.5 1026.4,656.1 1027.0,658.2 1027.7,654.5 1028.3,654.6 1028.9,652.0 1029.6,649.4 1030.2,649.8 1030.9,647.9 1031.5,647.9 1032.2,643.9 1032.8,643.9 1033.4,642.7 1034.1,644.3 1034.7,643.1 1035.4,639.8 1036.0,640.2 1036.7,639.5 1037.3,638.0 1038.0,638.9 1038.6,636.0 1039.2,636.0 1039.9,634.8 1040.5,635.3 1041.2,633.3 1041.8,633.8 1042.5,631.3 1043.1,630.3 1043.8,629.7 1044.4,629.3 1045.0,628.3 1045.7,630.8 1046.3,626.1 1047.0,626.2 1047.6,624.7 1048.3,623.9 1048.9,623.8 1049.6,621.7 1050.2,619.0 1050.8,616.8 1051.5,617.4 1052.1,616.0 1052.8,611.7 1053.4,612.2 1054.1,606.9 1054.7,606.4 1055.4,604.2 1056.0,598.7 1056.6,594.3 1057.3,593.8 1057.9,586.9 1058.6,585.1 1059.2,579.1 1059.9,576.8 1060.5,573.8 1061.2,567.4 1061.8,563.2 1062.4,558.6 1063.1,556.1 1063.7,554.2 1064.4,552.4 1065.0,550.1 1065.7,547.4 1066.3,545.9 1067.0,543.5 1067.6,544.4 1068.2,540.4 1068.9,539.5 1069.5,535.6 1070.2,536.5 1070.8,536.8 1071.5,534.7 1072.1,535.6 1072.8,534.1 1073.4,534.6 1074.0,530.3 1074.7,530.5 1075.3,531.8 1076.0,530.0 1076.6,528.5 1077.3,528.5 1077.9,528.3 1078.6,529.4 1079.2,529.0 1079.8,528.2 1080.5,527.5 1081.1,529.9 1081.8,531.1 1082.4,529.9 1083.1,533.6 1083.7,533.1 1084.4,535.8 1085.0,537.0 1085.6,538.2 1086.3,541.3 1086.9,543.3 1087.6,547.1 1088.2,549.0 1088.9,549.9 1089.5,551.5 1090.2,554.4 1090.8,556.3 1091.4,561.5 1092.1,564.8 1092.7,567.1 1093.4,571.4 1094.0,575.1 1094.7,579.8 1095.3,581.6 1096.0,587.7 1096.6,590.0 1097.2,596.0 1097.9,597.2 1098.5,603.6 1099.2,605.8 1099.8,612.4 1100.5,615.2 1101.1,617.1 1101.8,622.4 1102.4,624.4 1103.0,627.8 1103.7,632.4 1104.3,632.2 1105.0,634.5 1105.6,638.4 1106.3,638.8 1106.9,642.2 1107.6,644.2 1108.2,644.7 1108.8,646.9 1109.5,645.1 1110.1,650.5 1110.8,649.3 1111.4,650.2 1112.1,654.4 1112.7,655.2 1113.4,653.9 1114.0,656.0 1114.6,656.1 1115.3,656.2 1115.9,658.8 1116.6,660.6 1117.2,663.3 1117.9,661.2 1118.5,663.3 1119.2,662.8 1119.8,663.7 1120.4,666.2 1121.1,663.7 1121.7,665.1 1122.4,666.2 1123.0,669.1 1123.7,669.1 1124.3,670.0 1125.0,670.8 1125.6,672.4 1126.2,671.7 1126.9,673.0 1127.5,673.9 1128.2,676.0 1128.8,675.3 1129.5,677.9 1130.1,682.5 1130.8,682.0 1131.4,683.3 1132.0,684.2 1132.7,687.7 1133.3,689.9 1134.0,692.6 1134.6,693.6 1135.3,697.3 1135.9,699.9 1136.6,702.8 1137.2,704.4 1137.8,708.9 1138.5,713.5 1139.1,714.5 1139.8,719.3 1140.4,721.5 1141.1,724.5 1141.7,726.5 1142.4,729.5 1143.0,733.9 1143.6,736.2 1144.3,740.0 1144.9,739.3 1145.6,743.0 1146.2,744.2 1146.9,748.1 1147.5,752.1 1148.2,750.4 1148.8,754.0 1149.4,756.0 1150.1,758.0 1150.7,759.2 1151.4,760.9 1152.0,764.7 1152.7,763.1 1153.3,765.9 1154.0,766.7 1154.6,765.2 1155.2,766.9 1155.9,769.0 1156.5,771.4 1157.2,769.9 1157.8,770.2 1158.5,771.4 1159.1,773.1 1159.8,772.9 1160.4,773.7 1161.0,772.3 1161.7,771.4 1162.3,770.4 1163.0,771.3 1163.6,769.2 1164.3,767.5 1164.9,767.2 1165.6,765.2 1166.2,761.0 1166.8,761.2 1167.5,758.5 1168.1,757.8 1168.8,755.2 1169.4,754.9 1170.1,750.9 1170.7,746.9 1171.4,743.0 1172.0,740.6 1172.6,737.6 1173.3,734.7 1173.9,731.7 1174.6,727.6 1175.2,723.1 1175.9,720.8 1176.5,715.1 1177.2,713.2 1177.8,710.1 1178.4,705.3 1179.1,702.0 1179.7,697.5 1180.4,690.6 1181.0,687.6 1181.7,683.0 1182.3,678.2 1183.0,674.7 1183.6,673.8 1184.2,669.2 1184.9,667.8 1185.5,665.9 1186.2,663.4 1186.8,663.4 1187.5,660.9 1188.1,658.5 1188.8,656.2 1189.4,655.8 1190.0,654.2 1190.7,651.7 1191.3,650.0 1192.0,649.5 1192.6,647.9 1193.3,648.5 1193.9,647.4 1194.5,645.7 1195.2,645.3 1195.8,644.6 1196.5,641.3 1197.1,642.3 1197.8,642.2 1198.4,639.8 1199.1,637.5 1199.7,638.6 1200.3,636.6 1201.0,637.6 1201.6,636.9 1202.3,636.4 1202.9,635.0 1203.6,632.2 1204.2,634.6 1204.9,630.8 1205.5,632.8 1206.1,631.1 1206.8,629.0 1207.4,628.3 1208.1,627.6 1208.7,628.5 1209.4,625.3 1210.0,625.5 1210.7,620.5 1211.3,622.1 1211.9,620.2 1212.6,620.1 1213.2,617.8 1213.9,616.8 1214.5,612.5 1215.2,611.7 1215.8,608.2 1216.5,606.4 1217.1,602.8 1217.7,597.2 1218.4,595.8 1219.0,592.9 1219.7,586.8 1220.3,584.3 1221.0,579.2 1221.6,573.5 1222.3,571.2 1222.9,565.7 1223.5,564.2 1224.2,558.9 1224.8,556.2 1225.5,555.4 1226.1,552.5 1226.8,550.9 1227.4,547.8 1228.1,545.1 1228.7,546.6 1229.3,543.0 1230.0,544.2 1230.6,542.7 1231.3,542.6 1231.9,537.5 1232.6,538.7 1233.2,537.6 1233.9,537.7 1234.5,535.1 1235.1,537.8 1235.8,534.9 1236.4,532.0 1237.1,534.2 1237.7,533.4 1238.4,532.4 1239.0,533.7 1239.7,532.7 1240.3,531.7 1240.9,532.7 1241.6,533.2 1242.2,534.8 1242.9,535.3 1243.5,537.0 1244.2,537.1 1244.8,539.7 1245.5,542.6 1246.1,546.9 1246.7,545.5 1247.4,547.5 1248.0,551.2 1248.7,554.4 1249.3,555.8 1250.0,556.1 1250.6,560.9 1251.3,563.1 1251.9,565.3 1252.5,567.3 1253.2,571.7 1253.8,575.0 1254.5,579.0 1255.1,580.3 1255.8,584.7 1256.4,589.7 1257.1,594.9 1257.7,598.0 1258.3,600.4 1259.0,605.8 1259.6,608.1 1260.3,612.6 1260.9,616.4 1261.6,619.4 1262.2,622.6 1262.9,626.8 1263.5,628.9 1264.1,628.7 1264.8,634.9 1265.4,636.4 1266.1,637.0 1266.7,640.3 1267.4,642.8 1268.0,645.0 1268.7,644.5 1269.3,645.4 1269.9,646.3 1270.6,649.0 1271.2,649.1 1271.9,652.4 1272.5,652.2 1273.2,654.1 1273.8,654.2 1274.5,654.5 1275.1,655.2 1275.7,658.3 1276.4,656.9 1277.0,659.7 1277.7,661.2 1278.3,661.2 1279.0,663.4 1279.6,662.7 1280.3,663.2 1280.9,664.4 1281.5,664.4 1282.2,666.0 1282.8,666.4 1283.5,668.7 1284.1,667.9 1284.8,669.7 1285.4,670.1 1286.1,670.6 1286.7,671.3 1287.3,674.2 1288.0,675.2 1288.6,675.0 1289.3,675.4 1289.9,677.0 1290.6,678.0 1291.2,679.2 1291.9,681.9 1292.5,684.5 1293.1,687.6 1293.8,689.7 1294.4,691.5 1295.1,693.1 1295.7,695.5 1296.4,698.2 1297.0,701.1 1297.7,703.3 1298.3,707.0 1298.9,710.2 1299.6,713.5 1300.2,717.7 1300.9,721.3 1301.5,722.5 1302.2,725.3 1302.8,728.7 1303.5,731.5 1304.1,731.2 1304.7,736.9 1305.4,738.7 1306.0,740.4 1306.7,744.0 1307.3,744.7 1308.0,744.9 1308.6,747.9 1309.3,750.2 1309.9,752.1 1310.5,754.4 1311.2,755.2 1311.8,757.9 1312.5,759.6 1313.1,760.1 1313.8,760.2 1314.4,761.6 1315.1,762.1 1315.7,765.7 1316.3,763.1 1317.0,762.6 1317.6,764.3 1318.3,766.6 1318.9,767.6 1319.6,766.8 1320.2,768.5 1320.9,766.8 1321.5,768.2 1322.1,766.1 1322.8,764.8 1323.4,767.4 1324.1,763.8 1324.7,763.6 1325.4,762.8 1326.0,760.4 1326.7,758.3 1327.3,755.1 1327.9,755.9 1328.6,751.2 1329.2,748.2 1329.9,747.6 1330.5,745.4 1331.2,743.4 1331.8,741.7 1332.5,736.7 1333.1,733.5 1333.7,729.6 1334.4,724.1 1335.0,722.6 1335.7,719.4 1336.3,714.6 1337.0,714.0 1337.6,710.0 1338.3,705.3 1338.9,701.8 1339.5,696.6 1340.2,693.7 1340.8,687.4 1341.5,683.5 1342.1,680.2 1342.8,677.7 1343.4,673.4 1344.1,670.4 1344.7,669.8 1345.3,665.9 1346.0,663.4 1346.6,661.8 1347.3,658.5 1347.9,657.1 1348.6,657.6 1349.2,655.1 1349.9,654.7 1350.5,651.8 1351.1,652.1 1351.8,649.0 1352.4,648.4 1353.1,646.6 1353.7,646.8 1354.4,647.1 1355.0,642.7 1355.6,643.8 1356.3,641.2 1356.9,641.2 1357.6,640.0 1358.2,637.9 1358.9,638.6 1359.5,636.7 1360.2,638.9 1360.8,635.7 1361.4,636.1 1362.1,635.3 1362.7,634.4 1363.4,633.4 1364.0,631.3 1364.7,634.2 1365.3,631.5 1366.0,631.5 1366.6,628.7 1367.2,629.6 1367.9,627.8 1368.5,627.7 1369.2,625.6 1369.8,624.2 1370.5,624.6 1371.1,623.0 1371.8,623.3 1372.4,620.3 1373.0,618.3 1373.7,618.4 1374.3,615.1 1375.0,616.8 1375.6,614.7 1376.3,612.3 1376.9,609.0 1377.6,605.6 1378.2,602.5 1378.8,599.0 1379.5,594.6 1380.1,592.2 1380.8,589.5 1381.4,585.6 1382.1,578.0 1382.7,578.6 1383.4,572.3 1384.0,566.8 1384.6,564.4 1385.3,562.9 1385.9,559.2 1386.6,555.6 1387.2,552.7 1387.9,552.5 1388.5,548.6 1389.2,547.4 1389.8,545.0 1390.4,543.5 1391.1,544.3 1391.7,544.4 1392.4,541.4 1393.0,539.0 1393.7,539.2 1394.3,538.7 1395.0,535.6 1395.6,538.4 1396.2,535.6 1396.9,536.5 1397.5,535.2 1398.2,534.6 1398.8,532.7 1399.5,534.9 1400.1,534.1 1400.8,535.0 1401.4,532.7 1402.0,533.6 1402.7,532.9 1403.3,535.0 1404.0,535.2 1404.6,534.9 1405.3,537.6 1405.9,538.4 1406.6,540.3 1407.2,543.1 1407.8,546.4 1408.5,545.8 1409.1,548.6 1409.8,549.8 1410.4,555.0 1411.1,557.0 1411.7,560.1 1412.4,561.5 1413.0,562.4 1413.6,565.9 1414.3,569.7 1414.9,572.6 1415.6,575.3 1416.2,580.0 1416.9,583.0 1417.5,587.2 1418.2,593.5 1418.8,595.5 1419.4,597.4 1420.1,603.3 1420.7,607.1 1421.4,611.6 1422.0,615.4 1422.7,617.3 1423.3,622.0 1424.0,625.7 1424.6,630.7 1425.2,630.7 1425.9,634.7 1426.5,636.9 1427.2,636.4 1427.8,638.6 1428.5,643.3 1429.1,642.1 1429.8,644.1 1430.4,646.8 1431.0,646.6 1431.7,650.3 1432.3,651.1 1433.0,652.5 1433.6,653.2 1434.3,652.1 1434.9,655.5 1435.6,656.3 1436.2,657.0 1436.8,656.8 1437.5,658.3 1438.1,658.1 1438.8,660.7 1439.4,662.2 1440.1,662.2 1440.7,662.5 1441.4,664.3 1442.0,663.8 1442.6,662.9 1443.3,666.2 1443.9,666.3 1444.6,665.7 1445.2,668.6 1445.9,669.6 1446.5,670.8 1447.2,670.1 1447.8,671.0 1448.4,672.7 1449.1,673.6 1449.7,673.5 1450.4,675.3 1451.0,679.2 1451.7,679.4 1452.3,681.1 1453.0,682.4 1453.6,685.5 1454.2,688.1 1454.9,690.2 1455.5,693.9 1456.2,694.5 1456.8,697.6 1457.5,699.1 1458.1,703.7 1458.8,706.3 1459.4,710.2 1460.0,713.7 1460.7,715.2 1461.3,719.6 1462.0,721.6 1462.6,726.0 1463.3,727.4 1463.9,732.0 1464.6,733.3 1465.2,735.8 1465.8,737.1 1466.5,739.8 1467.1,742.3 1467.8,743.3 1468.4,746.0 1469.1,747.7 1469.7,749.5 1470.4,752.3 1471.0,754.4 1471.6,755.4 1472.3,757.7 1472.9,758.2 1473.6,758.5 1474.2,759.7 1474.9,761.8 1475.5,763.6 1476.2,763.1 1476.8,763.9 1477.4,763.3 1478.1,765.5 1478.7,765.8 1479.4,765.3 1480.0,766.9 1480.7,766.8 1481.3,765.0 1482.0,765.0 1482.6,765.2 1483.2,764.7 1483.9,765.0 1484.5,762.1 1485.2,761.3 1485.8,759.6 1486.5,758.7 1487.1,756.4 1487.8,754.8 1488.4,752.3 1489.0,749.2 1489.7,748.3 1490.3,748.3 1491.0,745.2 1491.6,743.0 1492.3,739.2 1492.9,734.5 1493.6,731.2 1494.2,728.8 1494.8,724.4 1495.5,722.1 1496.1,719.3 1496.8,715.6 1497.4,711.3 1498.1,705.2 1498.7,704.3 1499.4,697.8 1500.0,693.9 1500.6,691.5 1501.3,687.3 1501.9,683.8 1502.6,679.4 1503.2,675.2 1503.9,673.0 1504.5,669.4 1505.2,666.8 1505.8,665.4 1506.4,663.3 1507.1,661.8 1507.7,659.6 1508.4,659.5 1509.0,656.3 1509.7,655.1 1510.3,654.9 1511.0,650.4 1511.6,652.5 1512.2,651.2 1512.9,648.9 1513.5,650.2 1514.2,647.9 1514.8,647.7 1515.5,646.2 1516.1,644.3 1516.8,642.9 1517.4,641.1 1518.0,640.5 1518.7,639.3 1519.3,639.1 1520.0,639.4 1520.6,637.0 1521.3,638.0 1521.9,637.4 1522.5,634.4 1523.2,634.5 1523.8,634.4 1524.5,633.1 1525.1,632.3 1525.8,633.9 1526.4,631.8 1527.1,632.1 1527.7,629.8 1528.3,629.8 1529.0,626.7 1529.6,626.5 1530.3,626.8 1530.9,624.9 1531.6,625.0 1532.2,622.4 1532.9,620.6 1533.5,619.5 1534.1,620.3 1534.8,617.0 1535.4,614.3 1536.1,612.6 1536.7,609.5 1537.4,609.4 1538.0,604.3 1538.7,602.2 1539.3,597.7 1539.9,593.9 1540.6,590.1 1541.2,587.7 1541.9,582.9 1542.5,580.3 1543.2,576.5 1543.8,570.7 1544.5,567.9 1545.1,566.7 1545.7,563.1 1546.4,559.5 1547.0,555.3 1547.7,553.5 1548.3,551.6 1549.0,552.5 1549.6,549.3 1550.3,547.5 1550.9,546.5 1551.5,545.5 1552.2,545.1 1552.8,542.0 1553.5,541.4 1554.1,542.2 1554.8,542.3 1555.4,538.3 1556.1,540.3 1556.7,537.8 1557.3,536.4 1558.0,538.9 1558.6,537.1 1559.3,537.4 1559.9,536.2 1560.6,536.1 1561.2,534.3 1561.9,535.7 1562.5,536.5 1563.1,535.8 1563.8,538.1 1564.4,539.3 1565.1,537.9 1565.7,542.6 1566.4,544.0 1567.0,545.2 1567.7,548.2 1568.3,551.3 1568.9,549.8 1569.6,553.7 1570.2,555.3 1570.9,557.3 1571.5,560.3 1572.2,563.0 1572.8,564.4 1573.5,564.8 1574.1,569.5 1574.7,572.4 1575.4,577.8 1576.0,579.6 1576.7,584.2 1577.3,585.8 1578.0,590.5 1578.6,593.9 1579.3,597.7 1579.9,601.8 1580.5,606.6 1581.2,608.2 1581.8,614.1 1582.5,617.5 1583.1,620.0 1583.8,623.4 1584.4,625.0 1585.1,626.9 1585.7,630.2 1586.3,632.6 1587.0,635.0 1587.6,636.3 1588.3,641.1 1588.9,640.6 1589.6,643.6 1590.2,645.4 1590.9,645.4 1591.5,647.1 1592.1,647.3 1592.8,647.9 1593.4,652.6 1594.1,651.2 1594.7,650.1 1595.4,652.2 1596.0,652.5 1596.7,654.9 1597.3,657.4 1597.9,658.0 1598.6,657.0 1599.2,657.7 1599.9,660.3 1600.5,660.6 1601.2,660.9 1601.8,663.8 1602.5,663.0 1603.1,661.7 1603.7,661.8 1604.4,664.9 1605.0,663.6 1605.7,666.8 1606.3,667.9 1607.0,670.2 1607.6,667.6 1608.3,669.9 1608.9,668.0 1609.5,671.1 1610.2,672.4 1610.8,675.6 1611.5,673.4 1612.1,676.8 1612.8,678.2 1613.4,682.1 1614.1,680.6 1614.7,682.5 1615.3,686.3 1616.0,687.7 1616.6,689.6 1617.3,691.3 1617.9,694.5 1618.6,695.3 1619.2,700.2 1619.9,703.6 1620.5,706.6 1621.1,712.0 1621.8,713.4 1622.4,714.5 1623.1,718.1 1623.7,721.9 1624.4,723.3 1625.0,728.3 1625.7,729.0 1626.3,730.5 1626.9,732.6 1627.6,736.4 1628.2,736.6 1628.9,737.6 1629.5,742.0 1630.2,742.7 1630.8,747.1 1631.5,749.3 1632.1,748.4 1632.7,750.7 1633.4,752.0 1634.0,754.2 1634.7,755.1 1635.3,754.9 1636.0,754.8 1636.6,757.6 1637.3,759.9 1637.9,757.5 1638.5,758.9 1639.2,759.5 1639.8,760.6 1640.5,758.9 1641.1,761.7 1641.8,761.5 1642.4,764.3 1643.1,763.0 1643.7,762.9 1644.3,761.5 1645.0,760.3 1645.6,760.4 1646.3,756.5 1646.9,758.1 1647.6,756.0 1648.2,753.6 1648.9,753.5 1649.5,749.7 1650.1,747.8 1650.8,746.8 1651.4,742.5 1652.1,742.3 1652.7,739.7 1653.4,738.2 1654.0,735.9 1654.7,731.6 1655.3,727.9 1655.9,724.6 1656.6,719.9 1657.2,719.9 1657.9,715.1 1658.5,712.3 1659.2,705.3 1659.8,703.6 1660.5,699.8 1661.1,696.8 1661.7,690.8 1662.4,688.2 1663.0,683.5 1663.7,682.0 1664.3,675.0 1665.0,672.6 1665.6,669.8 1666.3,666.6 1666.9,665.8 1667.5,663.7 1668.2,660.8 1668.8,659.2 1669.5,658.2 1670.1,656.4 1670.8,655.5 1671.4,652.9 1672.1,651.3 1672.7,651.1 1673.3,648.0 1674.0,650.5 1674.6,648.0 1675.3,644.9 1675.9,646.2 1676.6,646.5 1677.2,642.4 1677.8,642.4 1678.5,643.3 1679.1,640.3 1679.8,641.3 1680.4,640.8 1681.1,638.8 1681.7,638.4 1682.4,638.3 1683.0,636.8 1683.6,636.8 1684.3,635.0 1684.9,634.4 1685.6,632.9 1686.2,633.5 1686.9,633.7 1687.5,632.9 1688.2,631.0 1688.8,628.2 1689.4,628.1 1690.1,628.7 1690.7,626.0 1691.4,627.2 1692.0,623.8 1692.7,624.2 1693.3,621.7 1694.0,620.6 1694.6,620.2 1695.2,618.1 1695.9,617.9 1696.5,615.1 1697.2,612.0 1697.8,606.7 1698.5,607.6 1699.1,605.2 1699.8,603.0 1700.4,597.3 1701.0,596.6 1701.7,592.3 1702.3,587.4 1703.0,585.1 1703.6,578.2 1704.3,574.7 1704.9,572.8 1705.6,569.6 1706.2,567.6 1706.8,565.0 1707.5,560.4 1708.1,557.8 1708.8,555.8 1709.4,553.9 1710.1,553.0 1710.7,550.7 1711.4,551.6 1712.0,548.9 1712.6,546.4 1713.3,545.5 1713.9,546.5 1714.6,545.4 1715.2,542.8 1715.9,541.5 1716.5,544.2 1717.2,542.4 1717.8,541.1 1718.4,539.5 1719.1,541.1 1719.7,539.1 1720.4,539.8 1721.0,536.7 1721.7,538.6 1722.3,539.1 1723.0,539.3 1723.6,538.2 1724.2,539.3 1724.9,542.1 1725.5,541.9 1726.2,545.0 1726.8,545.9 1727.5,548.2 1728.1,550.1 1728.8,551.3 1729.4,553.5 1730.0,553.8 1730.7,555.3 1731.3,558.5 1732.0,561.6 1732.6,562.0 1733.3,567.6 1733.9,570.2 1734.6,570.3 1735.2,573.2 1735.8,575.8 1736.5,580.2 1737.1,584.7 1737.8,587.4 1738.4,589.8 1739.1,594.9 1739.7,598.4 1740.4,602.7 1741.0,606.1 1741.6,607.8 1742.3,612.0 1742.9,617.4 1743.6,620.8 1744.2,623.4 1744.9,625.0 1745.5,629.4 1746.2,630.9 1746.8,635.4 1747.4,636.8 1748.1,637.2 1748.7,638.7 1749.4,642.7 1750.0,644.0 1750.7,643.9 1751.3,646.5 1752.0,648.0 1752.6,648.1 1753.2,649.6 1753.9,649.7 1754.5,651.1 1755.2,653.6 1755.8,654.0 1756.5,654.9 1757.1,657.2 1757.8,657.7 1758.4,656.5 1759.0,660.2 1759.7,658.4 1760.3,660.0 1761.0,661.3 1761.6,661.4 1762.3,662.2 1762.9,662.1 1763.6,664.6 1764.2,665.1 1764.8,665.8 1765.5,664.3 1766.1,666.0 1766.8,668.7 1767.4,668.9 1768.1,670.1 1768.7,670.1 1769.4,670.8 1770.0,669.6 1770.6,675.0 1771.3,673.1 1771.9,674.9 1772.6,677.4 1773.2,678.3 1773.9,680.4 1774.5,681.6 1775.2,682.4 1775.8,687.1 1776.4,686.2 1777.1,690.1 1777.7,690.4 1778.4,693.8 1779.0,695.3 1779.7,698.6 1780.3,701.0 1781.0,705.1 1781.6,709.2 1782.2,710.8 1782.9,713.8 1783.5,715.3 1784.2,722.3 1784.8,723.0 1785.5,724.2 1786.1,729.1 1786.8,730.5 1787.4,730.3 1788.0,733.3 1788.7,737.8 1789.3,737.3 1790.0,739.5 1790.6,741.9 1791.3,744.2 1791.9,746.3 1792.6,749.2 1793.2,750.6 1793.8,750.8 1794.5,752.9 1795.1,752.4 1795.8,755.8 1796.4,758.8 1797.1,757.4 1797.7,757.5 1798.4,758.1 1799.0,759.2 1799.6,760.8 1800.3,758.9 1800.9,761.8 1801.6,760.8 1802.2,762.2 1802.9,763.4 1803.5,760.9 1804.2,765.1 1804.8,762.8 1805.4,760.7 1806.1,760.6 1806.7,758.3 1807.4,758.0 1808.0,757.0 1808.7,752.7 1809.3,753.6 1810.0,751.8 1810.6,751.0 1811.2,748.8 1811.9,745.4 1812.5,743.5 1813.2,742.0 1813.8,740.3 1814.5,736.1 1815.1,735.6 1815.8,731.0 1816.4,727.6 1817.0,724.9 1817.7,720.6 1818.3,718.2 1819.0,714.9 1819.6,708.7 1820.3,706.2 1820.9,702.2 1821.6,699.8 1822.2,695.3 1822.8,691.7 1823.5,687.4 1824.1,682.3 1824.8,681.3 1825.4,677.3 1826.1,674.6 1826.7,675.7 1827.4,671.1 1828.0,667.4 1828.6,664.7 1829.3,664.0 1829.9,660.4 1830.6,658.6 1831.2,658.9 1831.9,655.6 1832.5,653.9 1833.2,654.0 1833.8,654.4 1834.4,650.6 1835.1,651.3 1835.7,650.5 1836.4,649.0 1837.0,648.7 1837.7,646.1 1838.3,645.5 1839.0,644.1 1839.6,643.9 1840.2,644.4 1840.9,642.9 1841.5,641.0 1842.2,641.6 1842.8,637.4 1843.5,640.0 1844.1,639.7 1844.7,637.2 1845.4,636.9 1846.0,637.1 1846.7,636.6 1847.3,635.3 1848.0,634.1 1848.6,633.5 1849.3,633.8 1849.9,632.3 1850.5,631.0 1851.2,630.2 1851.8,633.3 1852.5,630.0 1853.1,628.8 1853.8,627.2 1854.4,625.6 1855.1,623.6 1855.7,622.6 1856.3,622.0 1857.0,620.4 1857.6,616.9 1858.3,617.7 1858.9,614.8 1859.6,611.1 1860.2,609.6 1860.9,609.0 1861.5,603.2 1862.1,600.5 1862.8,596.9 1863.4,592.3 1864.1,589.2 1864.7,586.1 1865.4,581.0 1866.0,577.8 1866.7,574.7 1867.3,571.6 1867.9,569.0 1868.6,567.0 1869.2,564.6 1869.9,561.7 1870.5,560.6 1871.2,559.1 1871.8,554.8 1872.5,555.2 1873.1,553.9 1873.7,553.0 1874.4,551.9 1875.0,550.9 1875.7,550.0 1876.3,550.0 1877.0,547.4 1877.6,548.3 1878.3,545.8 1878.9,548.2 1879.5,546.7 1880.2,544.0 1880.8,544.7 1881.5,544.8 1882.1,543.4 1882.8,544.6 1883.4,543.3 1884.1,545.6 1884.7,543.8 1885.3,544.3 1886.0,543.8 1886.6,544.4 1887.3,547.4 1887.9,546.2 1888.6,550.1 1889.2,553.3 1889.9,555.5 1890.5,553.2 1891.1,556.8 1891.8,559.2 1892.4,561.2 1893.1,563.6 1893.7,563.2 1894.4,567.2 1895.0,567.8 1895.7,572.6 1896.3,577.6 1896.9,577.1 1897.6,581.3 1898.2,584.3 1898.9,585.8 1899.5,591.2 1900.2,593.3 1900.8,598.1 1901.5,602.4 1902.1,604.6 1902.7,609.4 1903.4,611.3 1904.0,615.3 1904.7,619.9 1905.3,622.6 1906.0,625.7 1906.6,629.2 1907.3,630.6 1907.9,634.2 1908.5,635.7 1909.2,639.6 1909.8,640.5 1910.5,642.2 1911.1,645.2 1911.8,646.5 1912.4,648.0 1913.1,648.1 1913.7,650.9 1914.3,650.8 1915.0,650.8 1915.6,653.1 1916.3,656.2 1916.9,655.3 1917.6,655.3 1918.2,657.6 1918.9,657.0 1919.5,658.4"/><g fill="#000" shape-rendering="crispEdges"><rect x="242" y="473" width="1745" height="5"/><rect x="242" y="825" width="1745" height="5"/><rect x="242" y="473" width="5" height="357"/><rect x="1981" y="473" width="6" height="357"/><rect x="247" y="473.0" width="21" height="5"/><rect x="247" y="561.0" width="21" height="5"/><rect x="247" y="649.0" width="21" height="5"/><rect x="247" y="737.0" width="21" height="5"/><rect x="247" y="825.0" width="21" height="5"/><rect x="247" y="517.0" width="9" height="5"/><rect x="247" y="605.0" width="9" height="5"/><rect x="247" y="693.0" width="9" height="5"/><rect x="247" y="781.0" width="9" height="5"/><rect x="306" y="804" width="5" height="21"/><rect x="628" y="804" width="5" height="21"/><rect x="950" y="804" width="5" height="21"/><rect x="1273" y="804" width="5" height="21"/><rect x="1595" y="804" width="5" height="21"/><rect x="1917" y="804" width="5" height="21"/><rect x="467" y="816" width="5" height="9"/><rect x="789" y="816" width="5" height="9"/><rect x="1112" y="816" width="5" height="9"/><rect x="1434" y="816" width="5" height="9"/><rect x="1756" y="816" width="5" height="9"/></g><text x="219.3" y="495.6" class="t n" text-anchor="end">20</text><text x="219.3" y="583.6" class="t n" text-anchor="end">10</text><text x="219.3" y="671.6" class="t n" text-anchor="end">0</text><text x="219.3" y="759.6" class="t n" text-anchor="end">-10</text><text x="219.3" y="847.6" class="t n" text-anchor="end">-20</text><text transform="translate(95,653.8) rotate(-90)" class="t" text-anchor="middle" textLength="376" lengthAdjust="spacingAndGlyphs">Amplitude(A)</text><polyline fill="none" stroke="#ff00ff" stroke-width="4.6" stroke-linejoin="round" stroke-linecap="round" points="308.5,1091.7 309.1,1093.8 309.8,1095.3 310.4,1096.2 311.1,1096.9 311.7,1097.4 312.4,1098.6 313.0,1100.5 313.7,1101.0 314.3,1101.5 314.9,1105.1 315.6,1104.9 316.2,1105.9 316.9,1106.1 317.5,1107.2 318.2,1108.2 318.8,1110.2 319.5,1109.3 320.1,1111.1 320.7,1115.0 321.4,1114.3 322.0,1117.4 322.7,1115.4 323.3,1120.3 324.0,1122.4 324.6,1124.2 325.3,1127.1 325.9,1129.6 326.5,1130.3 327.2,1134.9 327.8,1137.1 328.5,1139.8 329.1,1145.8 329.8,1146.0 330.4,1151.3 331.1,1155.1 331.7,1161.7 332.3,1163.6 333.0,1168.1 333.6,1173.0 334.3,1172.7 334.9,1178.4 335.6,1182.7 336.2,1185.4 336.9,1187.5 337.5,1190.2 338.1,1193.7 338.8,1195.5 339.4,1197.7 340.1,1203.9 340.7,1205.4 341.4,1208.5 342.0,1209.5 342.7,1209.9 343.3,1213.0 343.9,1217.1 344.6,1217.7 345.2,1217.2 345.9,1220.3 346.5,1220.8 347.2,1221.2 347.8,1225.0 348.5,1222.5 349.1,1223.9 349.7,1224.3 350.4,1227.0 351.0,1227.2 351.7,1227.4 352.3,1226.5 353.0,1226.8 353.6,1226.1 354.3,1222.9 354.9,1222.4 355.5,1223.7 356.2,1222.1 356.8,1217.3 357.5,1218.1 358.1,1213.9 358.8,1211.4 359.4,1212.0 360.1,1209.4 360.7,1206.5 361.3,1205.3 362.0,1203.0 362.6,1199.3 363.3,1194.3 363.9,1192.4 364.6,1188.1 365.2,1184.4 365.9,1181.4 366.5,1173.5 367.1,1174.5 367.8,1168.1 368.4,1162.1 369.1,1160.3 369.7,1153.2 370.4,1147.8 371.0,1146.1 371.7,1140.2 372.3,1137.2 372.9,1130.1 373.6,1125.8 374.2,1120.9 374.9,1115.0 375.5,1112.3 376.2,1107.8 376.8,1105.8 377.5,1105.4 378.1,1100.8 378.7,1098.1 379.4,1098.3 380.0,1092.6 380.7,1092.3 381.3,1090.1 382.0,1090.0 382.6,1087.1 383.3,1085.3 383.9,1084.7 384.5,1082.7 385.2,1084.3 385.8,1078.4 386.5,1080.5 387.1,1080.7 387.8,1077.9 388.4,1076.6 389.1,1073.6 389.7,1074.4 390.3,1071.8 391.0,1072.3 391.6,1067.2 392.3,1068.4 392.9,1065.6 393.6,1068.6 394.2,1065.6 394.8,1066.9 395.5,1064.0 396.1,1063.0 396.8,1065.2 397.4,1063.7 398.1,1062.9 398.7,1062.4 399.4,1060.4 400.0,1059.8 400.6,1059.4 401.3,1056.2 401.9,1054.5 402.6,1055.7 403.2,1053.4 403.9,1051.3 404.5,1050.2 405.2,1049.4 405.8,1045.8 406.4,1044.1 407.1,1042.5 407.7,1041.7 408.4,1036.7 409.0,1034.8 409.7,1035.1 410.3,1031.6 411.0,1026.3 411.6,1024.9 412.2,1019.1 412.9,1015.3 413.5,1012.0 414.2,1007.1 414.8,1004.2 415.5,998.0 416.1,995.1 416.8,984.7 417.4,981.4 418.0,978.0 418.7,975.8 419.3,971.6 420.0,968.0 420.6,965.3 421.3,962.7 421.9,962.6 422.6,958.7 423.2,958.3 423.8,957.8 424.5,956.4 425.1,953.1 425.8,951.1 426.4,953.1 427.1,947.9 427.7,947.1 428.4,948.6 429.0,947.7 429.6,946.3 430.3,944.1 430.9,945.1 431.6,945.4 432.2,942.9 432.9,945.6 433.5,942.3 434.2,940.6 434.8,941.5 435.4,940.8 436.1,941.2 436.7,941.4 437.4,943.1 438.0,945.6 438.7,946.4 439.3,948.1 440.0,948.4 440.6,950.2 441.2,954.2 441.9,958.2 442.5,960.6 443.2,962.3 443.8,962.7 444.5,966.8 445.1,970.4 445.8,974.6 446.4,975.9 447.0,980.3 447.7,984.4 448.3,988.0 449.0,989.9 449.6,996.6 450.3,998.7 450.9,1003.9 451.6,1010.2 452.2,1013.8 452.8,1019.7 453.5,1025.4 454.1,1029.5 454.8,1035.3 455.4,1038.2 456.1,1043.3 456.7,1046.5 457.4,1049.7 458.0,1058.3 458.6,1057.0 459.3,1062.8 459.9,1063.1 460.6,1067.2 461.2,1068.5 461.9,1069.1 462.5,1075.3 463.2,1074.6 463.8,1076.7 464.4,1080.8 465.1,1078.9 465.7,1081.2 466.4,1083.3 467.0,1084.8 467.7,1080.9 468.3,1086.9 469.0,1089.9 469.6,1089.9 470.2,1090.4 470.9,1091.6 471.5,1092.4 472.2,1094.8 472.8,1093.8 473.5,1096.2 474.1,1098.3 474.8,1098.5 475.4,1098.9 476.0,1098.2 476.7,1099.5 477.3,1101.6 478.0,1102.0 478.6,1102.7 479.3,1101.4 479.9,1105.9 480.6,1105.6 481.2,1106.5 481.8,1110.0 482.5,1109.9 483.1,1111.4 483.8,1114.0 484.4,1114.5 485.1,1116.0 485.7,1118.1 486.4,1122.3 487.0,1124.4 487.6,1124.2 488.3,1131.6 488.9,1132.7 489.6,1134.8 490.2,1138.8 490.9,1141.6 491.5,1146.0 492.2,1149.3 492.8,1152.7 493.4,1158.7 494.1,1162.1 494.7,1166.1 495.4,1170.0 496.0,1172.8 496.7,1177.5 497.3,1178.2 498.0,1180.0 498.6,1182.9 499.2,1186.3 499.9,1191.8 500.5,1191.1 501.2,1196.5 501.8,1198.1 502.5,1198.1 503.1,1204.3 503.8,1204.0 504.4,1206.8 505.0,1209.2 505.7,1211.8 506.3,1211.5 507.0,1213.8 507.6,1212.8 508.3,1213.6 508.9,1218.0 509.6,1217.7 510.2,1218.3 510.8,1220.2 511.5,1220.8 512.1,1219.7 512.8,1220.6 513.4,1222.8 514.1,1221.5 514.7,1219.8 515.4,1221.3 516.0,1219.9 516.6,1215.4 517.3,1214.3 517.9,1216.6 518.6,1214.5 519.2,1210.3 519.9,1210.4 520.5,1207.0 521.2,1205.1 521.8,1201.4 522.4,1203.2 523.1,1200.3 523.7,1196.3 524.4,1190.2 525.0,1188.2 525.7,1186.5 526.3,1179.7 527.0,1175.4 527.6,1172.6 528.2,1168.8 528.9,1163.8 529.5,1158.6 530.2,1155.7 530.8,1150.8 531.5,1147.3 532.1,1143.4 532.8,1139.7 533.4,1133.5 534.0,1129.5 534.7,1124.8 535.3,1118.7 536.0,1115.3 536.6,1111.3 537.3,1111.6 537.9,1106.0 538.6,1104.9 539.2,1102.7 539.8,1100.5 540.5,1095.7 541.1,1094.2 541.8,1094.5 542.4,1093.4 543.1,1090.3 543.7,1089.4 544.4,1085.2 545.0,1088.0 545.6,1087.2 546.3,1083.9 546.9,1082.3 547.6,1081.0 548.2,1079.1 548.9,1076.2 549.5,1078.3 550.1,1077.5 550.8,1078.0 551.4,1074.4 552.1,1072.6 552.7,1073.2 553.4,1070.4 554.0,1071.0 554.7,1068.3 555.3,1069.0 555.9,1070.0 556.6,1068.7 557.2,1069.0 557.9,1068.5 558.5,1065.0 559.2,1063.3 559.8,1060.9 560.5,1062.6 561.1,1061.8 561.7,1061.9 562.4,1057.9 563.0,1057.5 563.7,1057.5 564.3,1054.5 565.0,1053.3 565.6,1055.0 566.3,1050.0 566.9,1049.1 567.5,1047.9 568.2,1046.0 568.8,1041.0 569.5,1038.9 570.1,1035.5 570.8,1036.0 571.4,1031.5 572.1,1025.4 572.7,1024.0 573.3,1019.3 574.0,1016.6 574.6,1007.3 575.3,1003.6 575.9,999.7 576.6,995.6 577.2,992.3 577.9,988.8 578.5,984.2 579.1,982.8 579.8,977.2 580.4,976.7 581.1,974.6 581.7,969.5 582.4,969.5 583.0,967.1 583.7,967.1 584.3,968.3 584.9,963.4 585.6,964.8 586.2,960.5 586.9,962.9 587.5,962.3 588.2,958.5 588.8,957.5 589.5,957.1 590.1,958.1 590.7,954.7 591.4,957.2 592.0,955.4 592.7,955.4 593.3,954.5 594.0,952.7 594.6,954.6 595.3,953.0 595.9,953.3 596.5,957.2 597.2,957.7 597.8,958.0 598.5,960.0 599.1,960.7 599.8,965.7 600.4,964.3 601.1,966.5 601.7,969.9 602.3,973.7 603.0,974.1 603.6,977.2 604.3,978.4 604.9,982.2 605.6,984.2 606.2,988.9 606.9,989.8 607.5,998.1 608.1,999.9 608.8,1001.7 609.4,1008.3 610.1,1009.5 610.7,1016.3 611.4,1018.8 612.0,1024.4 612.7,1027.9 613.3,1031.5 613.9,1036.3 614.6,1041.1 615.2,1042.0 615.9,1048.8 616.5,1053.6 617.2,1054.2 617.8,1057.4 618.5,1059.8 619.1,1061.8 619.7,1068.0 620.4,1067.9 621.0,1070.0 621.7,1073.6 622.3,1075.2 623.0,1081.2 623.6,1079.6 624.3,1078.0 624.9,1084.1 625.5,1083.7 626.2,1083.9 626.8,1084.7 627.5,1084.4 628.1,1090.0 628.8,1088.7 629.4,1088.7 630.1,1092.7 630.7,1092.0 631.3,1090.6 632.0,1092.4 632.6,1094.4 633.3,1099.5 633.9,1097.2 634.6,1097.3 635.2,1099.1 635.9,1099.6 636.5,1096.3 637.1,1101.5 637.8,1103.3 638.4,1102.6 639.1,1104.2 639.7,1105.1 640.4,1105.8 641.0,1105.8 641.7,1107.6 642.3,1110.7 642.9,1110.6 643.6,1111.1 644.2,1113.9 644.9,1113.6 645.5,1116.0 646.2,1120.4 646.8,1120.9 647.5,1121.0 648.1,1124.0 648.7,1128.7 649.4,1130.0 650.0,1134.8 650.7,1138.6 651.3,1139.0 652.0,1142.9 652.6,1146.1 653.3,1150.5 653.9,1153.8 654.5,1158.5 655.2,1160.6 655.8,1163.2 656.5,1167.4 657.1,1169.2 657.8,1175.6 658.4,1177.1 659.1,1176.8 659.7,1179.0 660.3,1183.4 661.0,1186.2 661.6,1190.0 662.3,1190.1 662.9,1191.8 663.6,1197.0 664.2,1196.4 664.9,1198.4 665.5,1200.3 666.1,1204.0 666.8,1203.2 667.4,1207.1 668.1,1204.1 668.7,1206.8 669.4,1209.4 670.0,1206.9 670.7,1208.0 671.3,1211.1 671.9,1208.0 672.6,1212.9 673.2,1211.6 673.9,1210.9 674.5,1215.7 675.2,1211.5 675.8,1212.7 676.5,1211.8 677.1,1212.2 677.7,1209.2 678.4,1209.7 679.0,1208.0 679.7,1205.6 680.3,1204.8 681.0,1199.1 681.6,1200.9 682.3,1198.0 682.9,1195.2 683.5,1192.5 684.2,1189.1 684.8,1186.3 685.5,1184.7 686.1,1181.3 686.8,1177.1 687.4,1172.3 688.1,1168.5 688.7,1166.3 689.3,1164.5 690.0,1155.0 690.6,1152.5 691.3,1149.3 691.9,1145.0 692.6,1141.9 693.2,1138.3 693.9,1133.2 694.5,1128.5 695.1,1124.4 695.8,1121.1 696.4,1115.4 697.1,1110.5 697.7,1108.8 698.4,1105.3 699.0,1105.5 699.7,1100.5 700.3,1098.2 700.9,1097.5 701.6,1096.2 702.2,1091.6 702.9,1091.5 703.5,1088.2 704.2,1088.0 704.8,1085.2 705.5,1085.1 706.1,1085.4 706.7,1082.3 707.4,1081.5 708.0,1079.0 708.7,1079.4 709.3,1078.2 710.0,1075.5 710.6,1074.1 711.2,1073.6 711.9,1072.2 712.5,1072.0 713.2,1070.7 713.8,1069.7 714.5,1069.5 715.1,1069.2 715.8,1068.3 716.4,1064.5 717.0,1066.9 717.7,1066.4 718.3,1065.8 719.0,1064.5 719.6,1063.3 720.3,1064.2 720.9,1064.4 721.6,1060.4 722.2,1061.9 722.8,1058.3 723.5,1057.2 724.1,1054.7 724.8,1052.7 725.4,1053.1 726.1,1052.9 726.7,1052.2 727.4,1050.0 728.0,1047.2 728.6,1048.0 729.3,1043.1 729.9,1040.9 730.6,1037.2 731.2,1035.1 731.9,1030.8 732.5,1028.0 733.2,1023.6 733.8,1021.4 734.4,1014.9 735.1,1008.6 735.7,1005.9 736.4,1001.1 737.0,998.6 737.7,991.5 738.3,991.1 739.0,985.9 739.6,983.8 740.2,982.3 740.9,977.0 741.5,975.9 742.2,973.6 742.8,971.6 743.5,970.9 744.1,970.1 744.8,967.8 745.4,967.8 746.0,966.1 746.7,966.0 747.3,966.1 748.0,964.1 748.6,963.0 749.3,961.5 749.9,959.2 750.6,962.3 751.2,959.3 751.8,961.8 752.5,959.9 753.1,958.8 753.8,960.8 754.4,960.2 755.1,957.5 755.7,957.8 756.4,958.6 757.0,960.5 757.6,957.8 758.3,962.4 758.9,965.1 759.6,963.6 760.2,967.1 760.9,970.5 761.5,970.6 762.2,974.1 762.8,975.6 763.4,978.4 764.1,982.5 764.7,982.6 765.4,986.6 766.0,991.2 766.7,994.1 767.3,995.1 768.0,1000.2 768.6,1003.2 769.2,1006.2 769.9,1010.9 770.5,1017.1 771.2,1018.4 771.8,1022.2 772.5,1026.3 773.1,1029.5 773.8,1035.5 774.4,1039.3 775.0,1042.4 775.7,1048.9 776.3,1049.8 777.0,1052.9 777.6,1057.2 778.3,1058.7 778.9,1062.7 779.6,1067.6 780.2,1067.4 780.8,1070.7 781.5,1072.7 782.1,1075.0 782.8,1075.1 783.4,1077.8 784.1,1080.9 784.7,1080.7 785.4,1081.7 786.0,1084.8 786.6,1085.6 787.3,1086.7 787.9,1088.1 788.6,1087.9 789.2,1088.0 789.9,1087.9 790.5,1089.9 791.2,1091.1 791.8,1092.0 792.4,1092.8 793.1,1096.0 793.7,1095.4 794.4,1096.8 795.0,1098.2 795.7,1099.4 796.3,1100.3 797.0,1100.8 797.6,1102.9 798.2,1101.4 798.9,1103.0 799.5,1103.7 800.2,1104.4 800.8,1104.9 801.5,1107.7 802.1,1108.2 802.8,1111.4 803.4,1113.5 804.0,1114.7 804.7,1111.7 805.3,1118.0 806.0,1117.0 806.6,1117.8 807.3,1122.6 807.9,1122.2 808.6,1124.4 809.2,1128.1 809.8,1128.8 810.5,1133.8 811.1,1138.5 811.8,1140.2 812.4,1144.9 813.1,1149.7 813.7,1153.2 814.4,1152.0 815.0,1159.1 815.6,1161.5 816.3,1165.3 816.9,1167.1 817.6,1170.5 818.2,1173.4 818.9,1177.1 819.5,1179.9 820.2,1181.4 820.8,1182.3 821.4,1182.2 822.1,1185.7 822.7,1186.9 823.4,1190.8 824.0,1193.6 824.7,1197.1 825.3,1197.2 826.0,1201.6 826.6,1200.5 827.2,1199.2 827.9,1201.8 828.5,1201.6 829.2,1204.5 829.8,1206.6 830.5,1206.2 831.1,1206.9 831.8,1205.4 832.4,1205.0 833.0,1209.0 833.7,1208.9 834.3,1208.9 835.0,1209.3 835.6,1210.2 836.3,1207.8 836.9,1206.5 837.6,1205.4 838.2,1206.2 838.8,1203.4 839.5,1203.9 840.1,1198.7 840.8,1199.5 841.4,1196.6 842.1,1194.9 842.7,1193.0 843.4,1191.5 844.0,1190.3 844.6,1183.3 845.3,1182.6 845.9,1179.5 846.6,1173.8 847.2,1173.2 847.9,1168.7 848.5,1165.8 849.2,1160.6 849.8,1158.0 850.4,1154.5 851.1,1151.5 851.7,1146.9 852.4,1141.8 853.0,1142.1 853.7,1135.6 854.3,1132.0 855.0,1127.6 855.6,1125.5 856.2,1117.7 856.9,1115.8 857.5,1111.4 858.2,1108.6 858.8,1107.5 859.5,1103.3 860.1,1102.8 860.8,1099.4 861.4,1096.5 862.0,1094.2 862.7,1092.3 863.3,1090.9 864.0,1086.4 864.6,1087.2 865.3,1088.0 865.9,1085.9 866.6,1084.7 867.2,1082.9 867.8,1082.3 868.5,1081.6 869.1,1077.2 869.8,1078.3 870.4,1077.8 871.1,1076.7 871.7,1075.6 872.4,1072.5 873.0,1072.8 873.6,1071.0 874.3,1075.8 874.9,1070.4 875.6,1068.7 876.2,1066.7 876.9,1068.5 877.5,1070.1 878.1,1066.3 878.8,1067.2 879.4,1068.0 880.1,1065.7 880.7,1062.7 881.4,1061.7 882.0,1061.5 882.7,1062.9 883.3,1057.3 883.9,1061.2 884.6,1058.7 885.2,1059.4 885.9,1054.6 886.5,1054.5 887.2,1052.7 887.8,1052.4 888.5,1051.2 889.1,1049.4 889.7,1050.5 890.4,1044.9 891.0,1043.1 891.7,1042.8 892.3,1039.9 893.0,1036.5 893.6,1031.5 894.3,1029.4 894.9,1026.2 895.5,1023.2 896.2,1020.8 896.8,1015.7 897.5,1010.7 898.1,1006.8 898.8,1002.2 899.4,997.3 900.1,994.2 900.7,991.3 901.3,987.9 902.0,985.7 902.6,983.3 903.3,980.1 903.9,980.7 904.6,974.7 905.2,976.4 905.9,972.3 906.5,972.2 907.1,969.7 907.8,970.0 908.4,970.3 909.1,966.6 909.7,966.8 910.4,966.0 911.0,965.2 911.7,963.1 912.3,962.6 912.9,962.7 913.6,964.4 914.2,962.4 914.9,961.2 915.5,958.6 916.2,960.1 916.8,960.5 917.5,958.7 918.1,960.4 918.7,960.5 919.4,960.8 920.0,964.0 920.7,962.0 921.3,964.2 922.0,966.9 922.6,970.0 923.3,970.2 923.9,970.8 924.5,975.6 925.2,978.4 925.8,978.5 926.5,983.4 927.1,986.8 927.8,987.2 928.4,990.5 929.1,993.0 929.7,996.6 930.3,998.8 931.0,1002.9 931.6,1007.0 932.3,1010.6 932.9,1013.2 933.6,1016.9 934.2,1021.1 934.9,1025.5 935.5,1034.8 936.1,1036.0 936.8,1039.5 937.4,1043.1 938.1,1049.6 938.7,1049.3 939.4,1054.1 940.0,1058.4 940.7,1060.2 941.3,1063.7 941.9,1066.9 942.6,1067.8 943.2,1071.4 943.9,1074.8 944.5,1075.7 945.2,1076.8 945.8,1079.7 946.5,1078.1 947.1,1082.6 947.7,1080.2 948.4,1082.5 949.0,1086.2 949.7,1085.9 950.3,1085.6 951.0,1088.4 951.6,1090.8 952.3,1090.1 952.9,1088.7 953.5,1094.3 954.2,1092.7 954.8,1094.4 955.5,1095.5 956.1,1096.7 956.8,1097.5 957.4,1096.5 958.1,1097.9 958.7,1100.8 959.3,1098.2 960.0,1102.8 960.6,1101.1 961.3,1102.6 961.9,1102.1 962.6,1104.2 963.2,1104.3 963.9,1106.8 964.5,1106.6 965.1,1108.7 965.8,1107.7 966.4,1112.9 967.1,1112.1 967.7,1115.0 968.4,1117.4 969.0,1120.5 969.7,1121.5 970.3,1126.4 970.9,1128.7 971.6,1128.5 972.2,1134.1 972.9,1132.9 973.5,1138.3 974.2,1141.0 974.8,1144.7 975.5,1147.9 976.1,1152.4 976.7,1155.9 977.4,1158.8 978.0,1160.2 978.7,1163.0 979.3,1165.7 980.0,1169.7 980.6,1173.1 981.3,1177.6 981.9,1177.0 982.5,1179.0 983.2,1182.9 983.8,1183.5 984.5,1185.0 985.1,1188.7 985.8,1189.5 986.4,1192.5 987.1,1197.0 987.7,1196.9 988.3,1198.3 989.0,1198.3 989.6,1201.1 990.3,1201.4 990.9,1203.0 991.6,1202.6 992.2,1203.2 992.9,1202.8 993.5,1203.7 994.1,1205.1 994.8,1205.5 995.4,1206.0 996.1,1206.3 996.7,1204.5 997.4,1209.6 998.0,1205.8 998.7,1204.3 999.3,1202.1 999.9,1203.8 1000.6,1200.4 1001.2,1198.2 1001.9,1198.2 1002.5,1198.3 1003.2,1194.3 1003.8,1193.5 1004.5,1188.9 1005.1,1188.8 1005.7,1183.2 1006.4,1182.9 1007.0,1181.3 1007.7,1177.8 1008.3,1175.2 1009.0,1169.7 1009.6,1164.6 1010.3,1163.2 1010.9,1158.1 1011.5,1157.0 1012.2,1151.6 1012.8,1145.1 1013.5,1146.1 1014.1,1138.6 1014.8,1134.8 1015.4,1134.9 1016.1,1130.2 1016.7,1125.3 1017.3,1118.4 1018.0,1116.2 1018.6,1112.1 1019.3,1107.6 1019.9,1105.6 1020.6,1102.9 1021.2,1101.2 1021.9,1097.0 1022.5,1097.5 1023.1,1092.3 1023.8,1093.1 1024.4,1092.1 1025.1,1088.6 1025.7,1087.4 1026.4,1089.3 1027.0,1085.0 1027.7,1085.9 1028.3,1084.0 1028.9,1080.7 1029.6,1081.8 1030.2,1079.1 1030.9,1079.1 1031.5,1075.0 1032.2,1076.7 1032.8,1077.2 1033.4,1076.1 1034.1,1074.9 1034.7,1072.6 1035.4,1072.0 1036.0,1069.9 1036.7,1070.1 1037.3,1069.4 1038.0,1068.4 1038.6,1068.3 1039.2,1067.0 1039.9,1065.6 1040.5,1064.9 1041.2,1065.9 1041.8,1066.7 1042.5,1064.6 1043.1,1062.3 1043.8,1065.1 1044.4,1061.5 1045.0,1059.2 1045.7,1059.5 1046.3,1059.1 1047.0,1054.1 1047.6,1053.4 1048.3,1054.3 1048.9,1050.8 1049.6,1049.4 1050.2,1051.0 1050.8,1044.2 1051.5,1047.2 1052.1,1044.3 1052.8,1043.1 1053.4,1038.7 1054.1,1037.3 1054.7,1032.1 1055.4,1026.9 1056.0,1024.3 1056.6,1021.3 1057.3,1015.0 1057.9,1014.1 1058.6,1007.4 1059.2,1004.8 1059.9,1000.2 1060.5,996.8 1061.2,993.6 1061.8,990.9 1062.4,989.1 1063.1,986.1 1063.7,982.2 1064.4,980.7 1065.0,980.1 1065.7,977.8 1066.3,976.5 1067.0,974.6 1067.6,973.1 1068.2,972.2 1068.9,972.1 1069.5,970.3 1070.2,971.1 1070.8,972.2 1071.5,967.7 1072.1,969.0 1072.8,967.3 1073.4,967.0 1074.0,964.0 1074.7,965.9 1075.3,963.5 1076.0,964.1 1076.6,964.8 1077.3,965.1 1077.9,962.3 1078.6,962.4 1079.2,962.3 1079.8,961.6 1080.5,964.7 1081.1,966.0 1081.8,968.1 1082.4,969.5 1083.1,971.9 1083.7,974.6 1084.4,972.8 1085.0,979.9 1085.6,979.2 1086.3,980.9 1086.9,983.5 1087.6,987.3 1088.2,988.9 1088.9,992.1 1089.5,995.8 1090.2,997.5 1090.8,1001.1 1091.4,1004.5 1092.1,1006.2 1092.7,1012.1 1093.4,1013.9 1094.0,1019.1 1094.7,1021.7 1095.3,1026.0 1096.0,1029.6 1096.6,1035.2 1097.2,1039.0 1097.9,1043.2 1098.5,1045.8 1099.2,1048.8 1099.8,1051.7 1100.5,1056.8 1101.1,1058.8 1101.8,1063.8 1102.4,1067.2 1103.0,1067.8 1103.7,1069.9 1104.3,1073.2 1105.0,1075.6 1105.6,1074.3 1106.3,1077.7 1106.9,1080.4 1107.6,1076.5 1108.2,1080.7 1108.8,1082.6 1109.5,1082.4 1110.1,1085.5 1110.8,1083.4 1111.4,1088.6 1112.1,1089.3 1112.7,1088.7 1113.4,1090.5 1114.0,1088.7 1114.6,1093.6 1115.3,1093.5 1115.9,1093.1 1116.6,1093.6 1117.2,1093.9 1117.9,1095.6 1118.5,1093.9 1119.2,1098.2 1119.8,1098.1 1120.4,1098.0 1121.1,1100.3 1121.7,1101.0 1122.4,1102.1 1123.0,1103.1 1123.7,1104.6 1124.3,1104.8 1125.0,1107.1 1125.6,1105.6 1126.2,1109.3 1126.9,1105.6 1127.5,1107.4 1128.2,1109.6 1128.8,1113.0 1129.5,1115.2 1130.1,1114.8 1130.8,1118.2 1131.4,1119.8 1132.0,1123.8 1132.7,1123.7 1133.3,1128.6 1134.0,1129.8 1134.6,1134.8 1135.3,1136.2 1135.9,1137.8 1136.6,1142.3 1137.2,1145.7 1137.8,1147.5 1138.5,1151.9 1139.1,1153.3 1139.8,1161.0 1140.4,1159.9 1141.1,1162.7 1141.7,1168.1 1142.4,1170.3 1143.0,1170.0 1143.6,1174.9 1144.3,1176.6 1144.9,1177.1 1145.6,1180.4 1146.2,1181.5 1146.9,1185.3 1147.5,1185.8 1148.2,1186.7 1148.8,1189.5 1149.4,1194.5 1150.1,1192.3 1150.7,1194.5 1151.4,1196.9 1152.0,1194.8 1152.7,1199.8 1153.3,1195.8 1154.0,1199.9 1154.6,1197.8 1155.2,1200.6 1155.9,1203.0 1156.5,1201.7 1157.2,1201.9 1157.8,1202.0 1158.5,1201.6 1159.1,1204.4 1159.8,1202.6 1160.4,1201.7 1161.0,1202.3 1161.7,1202.2 1162.3,1201.1 1163.0,1197.5 1163.6,1196.1 1164.3,1196.6 1164.9,1195.6 1165.6,1190.5 1166.2,1192.3 1166.8,1188.1 1167.5,1187.4 1168.1,1186.6 1168.8,1182.0 1169.4,1180.0 1170.1,1175.1 1170.7,1171.0 1171.4,1171.0 1172.0,1166.0 1172.6,1162.5 1173.3,1161.1 1173.9,1158.1 1174.6,1151.4 1175.2,1150.4 1175.9,1146.2 1176.5,1142.8 1177.2,1138.9 1177.8,1135.7 1178.4,1130.2 1179.1,1125.6 1179.7,1123.7 1180.4,1120.9 1181.0,1115.1 1181.7,1113.4 1182.3,1109.1 1183.0,1103.9 1183.6,1100.0 1184.2,1100.2 1184.9,1099.9 1185.5,1095.4 1186.2,1097.5 1186.8,1093.7 1187.5,1089.1 1188.1,1088.6 1188.8,1090.0 1189.4,1089.0 1190.0,1084.5 1190.7,1084.4 1191.3,1084.0 1192.0,1081.6 1192.6,1081.8 1193.3,1082.5 1193.9,1077.9 1194.5,1078.9 1195.2,1078.4 1195.8,1077.9 1196.5,1074.9 1197.1,1075.3 1197.8,1072.6 1198.4,1072.9 1199.1,1070.3 1199.7,1071.5 1200.3,1071.1 1201.0,1072.1 1201.6,1070.3 1202.3,1067.2 1202.9,1063.4 1203.6,1068.4 1204.2,1067.4 1204.9,1064.8 1205.5,1063.9 1206.1,1064.6 1206.8,1062.8 1207.4,1064.1 1208.1,1061.5 1208.7,1058.9 1209.4,1056.9 1210.0,1058.2 1210.7,1057.2 1211.3,1055.1 1211.9,1053.1 1212.6,1052.6 1213.2,1052.8 1213.9,1049.8 1214.5,1047.4 1215.2,1047.9 1215.8,1046.8 1216.5,1042.3 1217.1,1039.9 1217.7,1036.1 1218.4,1033.9 1219.0,1031.4 1219.7,1027.5 1220.3,1024.7 1221.0,1021.1 1221.6,1016.7 1222.3,1012.5 1222.9,1006.4 1223.5,1005.5 1224.2,1000.3 1224.8,997.9 1225.5,992.4 1226.1,991.2 1226.8,989.4 1227.4,985.3 1228.1,984.0 1228.7,982.6 1229.3,978.2 1230.0,977.9 1230.6,975.4 1231.3,975.1 1231.9,974.5 1232.6,974.3 1233.2,975.0 1233.9,971.7 1234.5,971.6 1235.1,970.0 1235.8,970.1 1236.4,970.2 1237.1,969.9 1237.7,967.1 1238.4,965.7 1239.0,967.3 1239.7,965.9 1240.3,964.4 1240.9,967.0 1241.6,966.2 1242.2,967.1 1242.9,964.1 1243.5,965.7 1244.2,967.4 1244.8,970.0 1245.5,969.4 1246.1,969.3 1246.7,972.7 1247.4,974.7 1248.0,975.3 1248.7,979.8 1249.3,980.1 1250.0,981.4 1250.6,985.2 1251.3,987.4 1251.9,988.4 1252.5,991.5 1253.2,994.5 1253.8,996.9 1254.5,999.9 1255.1,1004.5 1255.8,1007.3 1256.4,1009.3 1257.1,1012.0 1257.7,1015.5 1258.3,1022.2 1259.0,1023.5 1259.6,1027.8 1260.3,1032.6 1260.9,1035.9 1261.6,1039.5 1262.2,1042.3 1262.9,1049.8 1263.5,1051.2 1264.1,1055.3 1264.8,1058.2 1265.4,1059.2 1266.1,1062.2 1266.7,1067.1 1267.4,1068.5 1268.0,1070.0 1268.7,1074.2 1269.3,1073.1 1269.9,1076.1 1270.6,1077.3 1271.2,1078.5 1271.9,1077.9 1272.5,1081.4 1273.2,1083.1 1273.8,1081.5 1274.5,1085.5 1275.1,1086.6 1275.7,1088.7 1276.4,1086.4 1277.0,1088.5 1277.7,1089.2 1278.3,1090.5 1279.0,1091.9 1279.6,1093.7 1280.3,1094.6 1280.9,1093.9 1281.5,1095.1 1282.2,1093.9 1282.8,1097.8 1283.5,1098.2 1284.1,1099.6 1284.8,1097.2 1285.4,1101.4 1286.1,1099.6 1286.7,1099.5 1287.3,1102.5 1288.0,1102.2 1288.6,1106.9 1289.3,1105.7 1289.9,1108.5 1290.6,1107.3 1291.2,1108.8 1291.9,1111.3 1292.5,1110.7 1293.1,1113.2 1293.8,1116.3 1294.4,1118.3 1295.1,1121.7 1295.7,1122.3 1296.4,1121.6 1297.0,1127.7 1297.7,1128.7 1298.3,1132.5 1298.9,1133.7 1299.6,1137.3 1300.2,1141.5 1300.9,1146.9 1301.5,1148.6 1302.2,1149.6 1302.8,1154.4 1303.5,1156.1 1304.1,1160.2 1304.7,1164.7 1305.4,1164.3 1306.0,1167.0 1306.7,1170.6 1307.3,1172.6 1308.0,1173.9 1308.6,1177.1 1309.3,1177.9 1309.9,1180.7 1310.5,1185.5 1311.2,1184.6 1311.8,1187.0 1312.5,1189.1 1313.1,1189.0 1313.8,1191.6 1314.4,1191.4 1315.1,1191.7 1315.7,1193.7 1316.3,1196.8 1317.0,1196.5 1317.6,1195.1 1318.3,1197.3 1318.9,1198.7 1319.6,1198.3 1320.2,1198.1 1320.9,1198.8 1321.5,1198.6 1322.1,1200.7 1322.8,1200.0 1323.4,1199.4 1324.1,1198.4 1324.7,1200.1 1325.4,1196.5 1326.0,1196.7 1326.7,1191.7 1327.3,1189.9 1327.9,1188.0 1328.6,1187.4 1329.2,1187.2 1329.9,1183.4 1330.5,1182.9 1331.2,1179.8 1331.8,1179.6 1332.5,1176.6 1333.1,1172.4 1333.7,1167.5 1334.4,1166.6 1335.0,1160.2 1335.7,1156.0 1336.3,1157.9 1337.0,1152.8 1337.6,1150.5 1338.3,1145.8 1338.9,1142.6 1339.5,1138.2 1340.2,1133.1 1340.8,1129.5 1341.5,1126.5 1342.1,1122.8 1342.8,1118.5 1343.4,1114.5 1344.1,1110.3 1344.7,1107.8 1345.3,1104.4 1346.0,1104.3 1346.6,1099.2 1347.3,1095.8 1347.9,1095.8 1348.6,1096.0 1349.2,1090.7 1349.9,1091.2 1350.5,1093.2 1351.1,1088.2 1351.8,1085.8 1352.4,1084.9 1353.1,1082.5 1353.7,1082.2 1354.4,1081.8 1355.0,1083.5 1355.6,1081.3 1356.3,1078.7 1356.9,1077.1 1357.6,1078.3 1358.2,1076.9 1358.9,1074.5 1359.5,1076.7 1360.2,1075.9 1360.8,1072.9 1361.4,1071.5 1362.1,1071.7 1362.7,1073.3 1363.4,1069.6 1364.0,1070.7 1364.7,1067.4 1365.3,1067.7 1366.0,1066.5 1366.6,1065.3 1367.2,1066.0 1367.9,1063.5 1368.5,1062.1 1369.2,1062.4 1369.8,1060.2 1370.5,1061.8 1371.1,1058.8 1371.8,1058.5 1372.4,1059.1 1373.0,1056.7 1373.7,1056.0 1374.3,1054.8 1375.0,1052.5 1375.6,1049.7 1376.3,1049.9 1376.9,1047.5 1377.6,1047.7 1378.2,1043.3 1378.8,1039.2 1379.5,1036.5 1380.1,1033.5 1380.8,1031.3 1381.4,1028.3 1382.1,1023.6 1382.7,1021.5 1383.4,1017.4 1384.0,1010.5 1384.6,1009.0 1385.3,1001.7 1385.9,1002.6 1386.6,997.4 1387.2,996.7 1387.9,992.3 1388.5,991.3 1389.2,987.6 1389.8,985.8 1390.4,984.4 1391.1,981.7 1391.7,979.2 1392.4,980.9 1393.0,977.9 1393.7,978.0 1394.3,977.1 1395.0,973.3 1395.6,978.1 1396.2,975.3 1396.9,976.0 1397.5,973.3 1398.2,972.6 1398.8,966.7 1399.5,970.7 1400.1,968.3 1400.8,968.6 1401.4,970.5 1402.0,969.1 1402.7,967.4 1403.3,969.3 1404.0,969.5 1404.6,969.7 1405.3,973.2 1405.9,973.4 1406.6,973.3 1407.2,974.7 1407.8,978.4 1408.5,979.5 1409.1,981.2 1409.8,983.2 1410.4,984.1 1411.1,986.8 1411.7,988.8 1412.4,993.2 1413.0,995.3 1413.6,996.2 1414.3,1001.6 1414.9,1002.1 1415.6,1006.4 1416.2,1009.7 1416.9,1011.1 1417.5,1016.4 1418.2,1020.4 1418.8,1023.9 1419.4,1026.8 1420.1,1027.1 1420.7,1037.2 1421.4,1038.4 1422.0,1042.7 1422.7,1045.1 1423.3,1050.6 1424.0,1056.8 1424.6,1054.9 1425.2,1060.8 1425.9,1062.2 1426.5,1066.5 1427.2,1068.6 1427.8,1070.1 1428.5,1070.5 1429.1,1072.5 1429.8,1076.2 1430.4,1076.4 1431.0,1079.0 1431.7,1079.8 1432.3,1081.0 1433.0,1081.6 1433.6,1084.4 1434.3,1084.9 1434.9,1085.4 1435.6,1086.6 1436.2,1088.8 1436.8,1086.4 1437.5,1090.2 1438.1,1089.6 1438.8,1091.3 1439.4,1090.9 1440.1,1096.3 1440.7,1091.6 1441.4,1095.4 1442.0,1097.5 1442.6,1096.5 1443.3,1094.5 1443.9,1097.5 1444.6,1100.5 1445.2,1100.3 1445.9,1098.7 1446.5,1103.1 1447.2,1102.3 1447.8,1103.3 1448.4,1101.0 1449.1,1105.3 1449.7,1104.2 1450.4,1108.0 1451.0,1109.4 1451.7,1108.4 1452.3,1110.5 1453.0,1115.3 1453.6,1114.1 1454.2,1116.1 1454.9,1119.8 1455.5,1120.9 1456.2,1123.2 1456.8,1126.5 1457.5,1129.0 1458.1,1131.7 1458.8,1134.0 1459.4,1138.5 1460.0,1140.1 1460.7,1145.3 1461.3,1146.5 1462.0,1149.9 1462.6,1154.1 1463.3,1154.4 1463.9,1155.7 1464.6,1159.1 1465.2,1165.2 1465.8,1164.2 1466.5,1168.0 1467.1,1170.6 1467.8,1173.4 1468.4,1174.7 1469.1,1174.9 1469.7,1178.0 1470.4,1181.2 1471.0,1183.5 1471.6,1184.9 1472.3,1185.3 1472.9,1185.1 1473.6,1190.3 1474.2,1190.0 1474.9,1191.4 1475.5,1192.7 1476.2,1192.0 1476.8,1192.6 1477.4,1195.9 1478.1,1196.1 1478.7,1193.8 1479.4,1195.4 1480.0,1195.6 1480.7,1197.3 1481.3,1197.4 1482.0,1196.4 1482.6,1197.5 1483.2,1197.6 1483.9,1195.3 1484.5,1193.1 1485.2,1194.5 1485.8,1190.4 1486.5,1189.5 1487.1,1189.9 1487.8,1187.1 1488.4,1185.4 1489.0,1182.7 1489.7,1180.8 1490.3,1181.4 1491.0,1179.5 1491.6,1174.2 1492.3,1172.8 1492.9,1169.5 1493.6,1166.5 1494.2,1161.7 1494.8,1161.9 1495.5,1155.6 1496.1,1154.8 1496.8,1149.5 1497.4,1145.2 1498.1,1145.3 1498.7,1139.3 1499.4,1136.6 1500.0,1133.0 1500.6,1129.0 1501.3,1126.6 1501.9,1122.6 1502.6,1116.5 1503.2,1112.5 1503.9,1110.9 1504.5,1109.1 1505.2,1101.6 1505.8,1100.8 1506.4,1099.6 1507.1,1099.3 1507.7,1096.8 1508.4,1093.9 1509.0,1093.9 1509.7,1089.0 1510.3,1089.5 1511.0,1087.8 1511.6,1088.4 1512.2,1087.1 1512.9,1085.8 1513.5,1083.3 1514.2,1082.9 1514.8,1082.0 1515.5,1080.2 1516.1,1079.4 1516.8,1076.8 1517.4,1078.1 1518.0,1078.3 1518.7,1076.1 1519.3,1073.3 1520.0,1075.1 1520.6,1073.5 1521.3,1073.3 1521.9,1071.6 1522.5,1071.1 1523.2,1071.8 1523.8,1070.4 1524.5,1068.2 1525.1,1067.3 1525.8,1066.9 1526.4,1066.2 1527.1,1067.1 1527.7,1066.4 1528.3,1063.9 1529.0,1065.8 1529.6,1063.5 1530.3,1064.9 1530.9,1061.9 1531.6,1061.3 1532.2,1060.9 1532.9,1057.5 1533.5,1058.0 1534.1,1056.3 1534.8,1054.8 1535.4,1053.9 1536.1,1049.6 1536.7,1050.4 1537.4,1047.6 1538.0,1047.5 1538.7,1043.8 1539.3,1040.6 1539.9,1037.4 1540.6,1034.3 1541.2,1029.9 1541.9,1024.7 1542.5,1023.4 1543.2,1019.6 1543.8,1016.0 1544.5,1008.4 1545.1,1005.9 1545.7,1004.0 1546.4,1001.0 1547.0,1000.1 1547.7,996.8 1548.3,993.8 1549.0,991.7 1549.6,990.8 1550.3,988.9 1550.9,985.7 1551.5,984.8 1552.2,986.9 1552.8,983.0 1553.5,980.5 1554.1,982.1 1554.8,980.0 1555.4,981.3 1556.1,977.5 1556.7,979.3 1557.3,978.7 1558.0,976.9 1558.6,972.8 1559.3,976.1 1559.9,976.4 1560.6,973.8 1561.2,973.8 1561.9,971.7 1562.5,975.3 1563.1,975.6 1563.8,974.0 1564.4,973.5 1565.1,974.2 1565.7,974.3 1566.4,978.8 1567.0,979.4 1567.7,980.2 1568.3,980.7 1568.9,983.0 1569.6,986.1 1570.2,988.8 1570.9,988.2 1571.5,990.1 1572.2,989.9 1572.8,996.0 1573.5,996.3 1574.1,1002.6 1574.7,1004.6 1575.4,1007.7 1576.0,1010.4 1576.7,1014.0 1577.3,1016.9 1578.0,1019.8 1578.6,1023.9 1579.3,1026.2 1579.9,1030.8 1580.5,1034.3 1581.2,1036.1 1581.8,1041.4 1582.5,1045.5 1583.1,1049.5 1583.8,1052.9 1584.4,1055.4 1585.1,1060.0 1585.7,1060.1 1586.3,1062.1 1587.0,1065.1 1587.6,1069.5 1588.3,1073.1 1588.9,1073.6 1589.6,1074.7 1590.2,1075.5 1590.9,1078.3 1591.5,1079.8 1592.1,1078.7 1592.8,1082.8 1593.4,1081.7 1594.1,1083.0 1594.7,1086.9 1595.4,1085.8 1596.0,1087.8 1596.7,1089.3 1597.3,1091.3 1597.9,1091.9 1598.6,1090.3 1599.2,1092.2 1599.9,1092.3 1600.5,1094.9 1601.2,1094.7 1601.8,1095.4 1602.5,1097.8 1603.1,1098.7 1603.7,1096.7 1604.4,1097.8 1605.0,1099.9 1605.7,1099.6 1606.3,1099.4 1607.0,1098.6 1607.6,1103.0 1608.3,1101.9 1608.9,1100.9 1609.5,1104.5 1610.2,1103.8 1610.8,1110.2 1611.5,1106.2 1612.1,1109.6 1612.8,1113.6 1613.4,1111.9 1614.1,1113.4 1614.7,1115.2 1615.3,1117.3 1616.0,1121.0 1616.6,1124.2 1617.3,1126.1 1617.9,1127.9 1618.6,1130.0 1619.2,1134.0 1619.9,1136.4 1620.5,1138.5 1621.1,1142.4 1621.8,1143.0 1622.4,1146.2 1623.1,1153.2 1623.7,1155.0 1624.4,1158.6 1625.0,1160.9 1625.7,1161.1 1626.3,1165.5 1626.9,1167.8 1627.6,1168.9 1628.2,1169.4 1628.9,1172.9 1629.5,1174.9 1630.2,1175.2 1630.8,1177.6 1631.5,1179.4 1632.1,1180.5 1632.7,1184.5 1633.4,1184.3 1634.0,1186.6 1634.7,1185.4 1635.3,1186.5 1636.0,1189.7 1636.6,1187.4 1637.3,1191.3 1637.9,1189.0 1638.5,1190.9 1639.2,1192.8 1639.8,1193.6 1640.5,1193.0 1641.1,1192.9 1641.8,1194.0 1642.4,1192.4 1643.1,1194.4 1643.7,1191.9 1644.3,1191.0 1645.0,1192.4 1645.6,1188.3 1646.3,1189.1 1646.9,1189.2 1647.6,1185.3 1648.2,1183.1 1648.9,1179.9 1649.5,1180.0 1650.1,1175.6 1650.8,1173.8 1651.4,1172.3 1652.1,1169.7 1652.7,1168.4 1653.4,1166.8 1654.0,1162.2 1654.7,1158.7 1655.3,1156.4 1655.9,1153.9 1656.6,1152.4 1657.2,1146.3 1657.9,1143.4 1658.5,1142.2 1659.2,1136.9 1659.8,1132.6 1660.5,1130.2 1661.1,1125.6 1661.7,1122.0 1662.4,1121.2 1663.0,1115.9 1663.7,1111.2 1664.3,1107.3 1665.0,1103.8 1665.6,1105.7 1666.3,1101.0 1666.9,1097.8 1667.5,1095.2 1668.2,1092.7 1668.8,1094.4 1669.5,1092.0 1670.1,1091.4 1670.8,1087.6 1671.4,1089.1 1672.1,1084.6 1672.7,1083.8 1673.3,1083.3 1674.0,1085.7 1674.6,1082.7 1675.3,1079.9 1675.9,1081.8 1676.6,1079.3 1677.2,1078.3 1677.8,1076.1 1678.5,1076.0 1679.1,1075.2 1679.8,1075.2 1680.4,1073.9 1681.1,1073.3 1681.7,1071.4 1682.4,1071.9 1683.0,1069.7 1683.6,1072.6 1684.3,1068.1 1684.9,1069.3 1685.6,1067.0 1686.2,1067.7 1686.9,1066.0 1687.5,1064.5 1688.2,1066.4 1688.8,1064.9 1689.4,1064.4 1690.1,1063.1 1690.7,1064.7 1691.4,1061.9 1692.0,1061.0 1692.7,1060.7 1693.3,1058.9 1694.0,1059.5 1694.6,1054.6 1695.2,1054.6 1695.9,1051.4 1696.5,1053.6 1697.2,1052.4 1697.8,1048.9 1698.5,1049.7 1699.1,1045.1 1699.8,1043.8 1700.4,1040.4 1701.0,1036.5 1701.7,1033.5 1702.3,1027.9 1703.0,1026.2 1703.6,1025.4 1704.3,1018.8 1704.9,1018.0 1705.6,1012.5 1706.2,1010.7 1706.8,1006.9 1707.5,1001.4 1708.1,1001.3 1708.8,998.9 1709.4,996.4 1710.1,993.8 1710.7,989.5 1711.4,991.1 1712.0,989.7 1712.6,986.1 1713.3,988.0 1713.9,985.4 1714.6,982.5 1715.2,983.0 1715.9,982.8 1716.5,982.2 1717.2,981.7 1717.8,980.5 1718.4,978.9 1719.1,976.8 1719.7,976.5 1720.4,978.0 1721.0,977.7 1721.7,975.4 1722.3,978.3 1723.0,976.3 1723.6,975.9 1724.2,976.8 1724.9,976.6 1725.5,975.1 1726.2,978.2 1726.8,978.1 1727.5,978.8 1728.1,979.2 1728.8,982.7 1729.4,981.1 1730.0,984.7 1730.7,986.5 1731.3,988.6 1732.0,990.8 1732.6,993.1 1733.3,992.3 1733.9,995.8 1734.6,998.6 1735.2,999.7 1735.8,1004.7 1736.5,1005.7 1737.1,1009.4 1737.8,1013.6 1738.4,1014.6 1739.1,1020.9 1739.7,1021.6 1740.4,1027.2 1741.0,1029.1 1741.6,1031.5 1742.3,1036.1 1742.9,1041.3 1743.6,1044.4 1744.2,1048.6 1744.9,1053.2 1745.5,1056.4 1746.2,1057.8 1746.8,1059.8 1747.4,1065.4 1748.1,1065.6 1748.7,1067.2 1749.4,1069.9 1750.0,1073.4 1750.7,1072.6 1751.3,1077.3 1752.0,1076.4 1752.6,1076.6 1753.2,1082.6 1753.9,1080.9 1754.5,1081.9 1755.2,1083.1 1755.8,1085.5 1756.5,1085.9 1757.1,1088.2 1757.8,1087.2 1758.4,1087.6 1759.0,1090.0 1759.7,1091.3 1760.3,1091.6 1761.0,1091.9 1761.6,1092.7 1762.3,1093.7 1762.9,1094.3 1763.6,1096.8 1764.2,1099.4 1764.8,1095.7 1765.5,1095.4 1766.1,1099.8 1766.8,1099.5 1767.4,1099.0 1768.1,1098.9 1768.7,1100.1 1769.4,1100.1 1770.0,1102.7 1770.6,1103.1 1771.3,1104.1 1771.9,1106.3 1772.6,1105.3 1773.2,1107.4 1773.9,1108.4 1774.5,1111.9 1775.2,1111.8 1775.8,1116.4 1776.4,1116.5 1777.1,1122.5 1777.7,1122.6 1778.4,1122.6 1779.0,1126.4 1779.7,1128.0 1780.3,1133.0 1781.0,1131.8 1781.6,1136.2 1782.2,1140.1 1782.9,1142.7 1783.5,1145.8 1784.2,1147.2 1784.8,1151.3 1785.5,1156.1 1786.1,1157.0 1786.8,1157.4 1787.4,1160.7 1788.0,1164.2 1788.7,1165.0 1789.3,1167.7 1790.0,1169.0 1790.6,1173.7 1791.3,1174.8 1791.9,1174.6 1792.6,1177.6 1793.2,1178.5 1793.8,1178.0 1794.5,1182.4 1795.1,1182.9 1795.8,1185.0 1796.4,1186.0 1797.1,1186.0 1797.7,1188.6 1798.4,1190.1 1799.0,1186.4 1799.6,1188.9 1800.3,1187.9 1800.9,1189.7 1801.6,1190.1 1802.2,1189.8 1802.9,1189.9 1803.5,1192.5 1804.2,1189.2 1804.8,1191.4 1805.4,1189.1 1806.1,1185.1 1806.7,1187.1 1807.4,1183.8 1808.0,1185.1 1808.7,1182.3 1809.3,1181.5 1810.0,1179.3 1810.6,1179.2 1811.2,1177.5 1811.9,1174.0 1812.5,1174.6 1813.2,1171.5 1813.8,1167.1 1814.5,1166.0 1815.1,1163.4 1815.8,1160.6 1816.4,1155.8 1817.0,1153.2 1817.7,1149.5 1818.3,1146.7 1819.0,1140.8 1819.6,1140.4 1820.3,1138.9 1820.9,1132.8 1821.6,1129.5 1822.2,1125.8 1822.8,1124.5 1823.5,1117.2 1824.1,1115.0 1824.8,1111.4 1825.4,1110.1 1826.1,1104.6 1826.7,1102.8 1827.4,1098.7 1828.0,1098.9 1828.6,1098.0 1829.3,1094.4 1829.9,1094.0 1830.6,1090.7 1831.2,1091.2 1831.9,1088.6 1832.5,1087.5 1833.2,1086.0 1833.8,1085.5 1834.4,1084.8 1835.1,1082.8 1835.7,1082.4 1836.4,1080.5 1837.0,1080.2 1837.7,1081.8 1838.3,1078.1 1839.0,1075.4 1839.6,1075.9 1840.2,1074.7 1840.9,1074.0 1841.5,1074.4 1842.2,1074.8 1842.8,1071.4 1843.5,1070.4 1844.1,1070.3 1844.7,1069.9 1845.4,1069.3 1846.0,1069.2 1846.7,1068.1 1847.3,1067.8 1848.0,1066.7 1848.6,1067.7 1849.3,1066.5 1849.9,1064.3 1850.5,1064.6 1851.2,1066.4 1851.8,1062.3 1852.5,1064.4 1853.1,1058.1 1853.8,1058.6 1854.4,1057.6 1855.1,1058.2 1855.7,1057.5 1856.3,1055.1 1857.0,1053.4 1857.6,1052.9 1858.3,1050.1 1858.9,1047.7 1859.6,1045.8 1860.2,1045.4 1860.9,1044.0 1861.5,1038.1 1862.1,1035.7 1862.8,1031.0 1863.4,1026.3 1864.1,1023.0 1864.7,1021.0 1865.4,1016.3 1866.0,1011.9 1866.7,1010.4 1867.3,1007.0 1867.9,1003.6 1868.6,1002.1 1869.2,1000.2 1869.9,998.2 1870.5,995.0 1871.2,993.8 1871.8,990.3 1872.5,990.3 1873.1,986.9 1873.7,986.2 1874.4,988.3 1875.0,984.5 1875.7,985.4 1876.3,982.3 1877.0,982.6 1877.6,982.5 1878.3,980.8 1878.9,981.7 1879.5,979.9 1880.2,979.3 1880.8,979.4 1881.5,978.3 1882.1,979.6 1882.8,977.4 1883.4,979.3 1884.1,976.9 1884.7,977.0 1885.3,976.7 1886.0,978.7 1886.6,974.8 1887.3,979.9 1887.9,980.6 1888.6,983.1 1889.2,981.9 1889.9,986.0 1890.5,985.9 1891.1,990.2 1891.8,990.5 1892.4,993.2 1893.1,993.3 1893.7,996.9 1894.4,999.8 1895.0,1000.6 1895.7,1005.2 1896.3,1007.6 1896.9,1008.3 1897.6,1014.4 1898.2,1014.0 1898.9,1018.6 1899.5,1022.6 1900.2,1024.6 1900.8,1027.7 1901.5,1032.7 1902.1,1035.7 1902.7,1038.0 1903.4,1041.7 1904.0,1046.4 1904.7,1050.9 1905.3,1054.6 1906.0,1057.4 1906.6,1058.6 1907.3,1061.3 1907.9,1064.1 1908.5,1065.2 1909.2,1069.5 1909.8,1071.8 1910.5,1073.8 1911.1,1072.7 1911.8,1079.4 1912.4,1078.0 1913.1,1079.2 1913.7,1080.9 1914.3,1079.3 1915.0,1081.9 1915.6,1083.4 1916.3,1086.5 1916.9,1085.8 1917.6,1087.8 1918.2,1088.2 1918.9,1088.9 1919.5,1090.6"/><g fill="#000" shape-rendering="crispEdges"><rect x="242" y="905" width="1745" height="5"/><rect x="242" y="1257" width="1745" height="5"/><rect x="242" y="905" width="5" height="357"/><rect x="1981" y="905" width="6" height="357"/><rect x="247" y="905.0" width="21" height="5"/><rect x="247" y="993.0" width="21" height="5"/><rect x="247" y="1081.0" width="21" height="5"/><rect x="247" y="1169.0" width="21" height="5"/><rect x="247" y="1257.0" width="21" height="5"/><rect x="247" y="949.0" width="9" height="5"/><rect x="247" y="1037.0" width="9" height="5"/><rect x="247" y="1125.0" width="9" height="5"/><rect x="247" y="1213.0" width="9" height="5"/><rect x="306" y="1236" width="5" height="21"/><rect x="628" y="1236" width="5" height="21"/><rect x="950" y="1236" width="5" height="21"/><rect x="1273" y="1236" width="5" height="21"/><rect x="1595" y="1236" width="5" height="21"/><rect x="1917" y="1236" width="5" height="21"/><rect x="467" y="1248" width="5" height="9"/><rect x="789" y="1248" width="5" height="9"/><rect x="1112" y="1248" width="5" height="9"/><rect x="1434" y="1248" width="5" height="9"/><rect x="1756" y="1248" width="5" height="9"/></g><text x="219.3" y="927.6" class="t n" text-anchor="end">20</text><text x="219.3" y="1015.6" class="t n" text-anchor="end">10</text><text x="219.3" y="1103.6" class="t n" text-anchor="end">0</text><text x="219.3" y="1191.6" class="t n" text-anchor="end">-10</text><text x="219.3" y="1279.6" class="t n" text-anchor="end">-20</text><text transform="translate(95,1084.4) rotate(-90)" class="t" text-anchor="middle" textLength="376" lengthAdjust="spacingAndGlyphs">Amplitude(A)</text><polyline fill="none" stroke="#009100" stroke-width="5.4" stroke-linejoin="round" stroke-linecap="round" points="308.2,1778.8 308.9,1781.9 309.5,1783.2 310.1,1784.4 310.7,1784.2 311.3,1789.3 312.0,1791.2 312.6,1792.0 313.2,1793.8 313.8,1796.9 314.4,1797.5 315.1,1801.0 315.7,1801.3 316.3,1803.5 316.9,1806.2 317.5,1806.8 318.2,1809.9 318.8,1812.2 319.4,1812.5 320.0,1816.3 320.6,1816.9 321.3,1819.7 321.9,1821.2 322.5,1822.5 323.1,1824.3 323.7,1825.2 324.4,1827.9 325.0,1830.3 325.6,1834.8 326.2,1836.6 326.8,1837.0 327.4,1841.3 328.0,1843.2 328.6,1845.1 329.2,1848.3 329.8,1851.0 330.4,1852.2 331.0,1855.3 331.6,1858.5 332.2,1860.2 332.8,1864.2 333.4,1866.7 334.0,1868.9 334.6,1871.5 335.3,1875.7 335.9,1879.2 336.5,1881.4 337.1,1882.3 337.7,1886.8 338.3,1888.4 338.9,1891.5 339.5,1894.7 340.1,1894.1 340.7,1897.7 341.3,1899.4 341.9,1901.3 342.5,1908.5 343.1,1908.3 343.7,1905.3 344.3,1910.7 344.9,1910.6 345.5,1915.3 346.1,1915.0 346.7,1916.1 347.4,1918.3 348.0,1920.4 348.6,1921.3 349.2,1921.7 349.8,1922.8 350.4,1925.0 351.0,1922.4 351.6,1925.7 352.2,1926.3 352.8,1926.4 353.4,1930.0 354.0,1926.4 354.6,1929.3 355.2,1928.7 355.8,1932.4 356.4,1930.6 357.0,1932.3 357.6,1933.6 358.2,1929.5 358.8,1934.7 359.5,1932.4 360.1,1931.8 360.7,1930.4 361.4,1930.6 362.0,1928.7 362.7,1929.1 363.4,1919.1 364.1,1911.3 364.8,1904.8 365.5,1900.1 366.1,1908.9 366.7,1913.8 367.3,1919.1 367.9,1927.9 368.6,1925.3 369.3,1922.4 370.0,1918.3 370.7,1912.4 371.4,1912.9 372.1,1912.4 372.8,1907.5 373.4,1900.2 374.1,1900.4 374.8,1894.3 375.4,1899.2 376.0,1895.7 376.6,1892.9 377.2,1895.0 377.8,1891.9 378.4,1893.0 379.0,1891.5 379.6,1889.0 380.2,1890.7 380.8,1887.2 381.4,1889.3 382.1,1886.0 382.7,1883.0 383.3,1880.5 383.9,1883.3 384.5,1881.5 385.2,1876.6 385.8,1878.6 386.4,1875.2 387.0,1873.2 387.7,1871.9 388.3,1870.1 388.9,1870.4 389.5,1867.1 390.1,1863.2 390.8,1865.4 391.4,1862.3 392.0,1858.5 392.6,1857.3 393.2,1854.9 393.9,1854.0 394.5,1852.5 395.1,1850.5 395.7,1847.8 396.3,1845.8 397.0,1845.4 397.6,1842.7 398.2,1842.9 398.8,1838.4 399.4,1837.9 400.1,1835.4 400.7,1832.8 401.3,1832.8 401.9,1829.9 402.5,1827.1 403.2,1825.8 403.8,1825.0 404.4,1821.3 405.0,1821.6 405.6,1818.6 406.2,1815.4 406.8,1814.4 407.4,1812.3 408.0,1808.9 408.7,1806.1 409.3,1805.2 409.9,1802.4 410.5,1797.8 411.1,1796.1 411.7,1792.8 412.3,1789.4 412.9,1785.1 413.5,1784.3 414.1,1780.2 414.7,1777.0 415.3,1775.3 415.9,1769.8 416.5,1767.1 417.1,1764.3 417.7,1760.8 418.3,1758.6 418.9,1757.2 419.5,1753.5 420.1,1752.9 420.8,1747.1 421.4,1746.0 422.0,1740.7 422.6,1740.2 423.2,1736.5 423.8,1739.3 424.4,1737.3 425.0,1735.9 425.7,1737.4 426.3,1735.8 426.9,1733.5 427.5,1729.9 428.1,1727.5 428.8,1729.3 429.4,1727.8 430.0,1726.2 430.6,1726.0 431.2,1722.3 431.8,1727.7 432.4,1721.3 433.1,1721.2 433.7,1722.9 434.3,1717.1 434.9,1721.6 435.5,1720.7 436.1,1716.9 436.7,1714.2 437.3,1714.5 438.0,1709.7 438.7,1715.8 439.4,1711.2 440.1,1707.8 440.8,1710.2 441.4,1716.5 442.0,1721.4 442.7,1718.1 443.3,1722.5 444.0,1729.8 444.7,1743.6 445.4,1752.1 446.0,1750.2 446.6,1741.2 447.3,1735.4 447.9,1729.6 448.6,1727.4 449.3,1722.7 449.9,1727.9 450.6,1727.2 451.3,1726.0 451.9,1725.5 452.6,1729.8 453.3,1736.7 454.0,1738.0 454.7,1745.2 455.4,1752.5 456.1,1748.9 456.8,1749.5 457.5,1748.0 458.1,1749.6 458.8,1749.7 459.5,1749.2 460.1,1750.6 460.7,1751.2 461.3,1753.4 461.9,1755.8 462.5,1759.8 463.1,1760.1 463.7,1761.5 464.3,1765.2 464.9,1766.9 465.5,1767.1 466.1,1768.8 466.8,1771.9 467.4,1773.1 468.0,1773.3 468.6,1776.1 469.2,1777.3 469.9,1780.1 470.5,1779.5 471.1,1782.9 471.7,1784.0 472.3,1784.0 473.0,1787.7 473.6,1789.1 474.2,1788.7 474.8,1793.9 475.4,1792.7 476.1,1794.8 476.7,1797.2 477.3,1800.1 477.9,1801.8 478.5,1803.0 479.2,1806.2 479.8,1807.2 480.4,1809.9 481.0,1813.0 481.6,1812.6 482.3,1812.3 482.9,1816.3 483.5,1818.0 484.1,1821.2 484.8,1823.3 485.4,1824.4 486.0,1826.6 486.6,1829.5 487.2,1831.8 487.9,1831.8 488.5,1837.1 489.1,1838.5 489.7,1840.6 490.3,1844.1 490.9,1846.1 491.5,1850.2 492.1,1854.5 492.7,1857.8 493.3,1860.5 494.0,1862.9 494.6,1865.5 495.2,1871.2 495.8,1873.5 496.4,1874.8 497.0,1875.0 497.6,1879.0 498.2,1880.0 498.8,1886.7 499.4,1887.7 500.0,1888.7 500.6,1891.8 501.2,1898.6 501.8,1899.0 502.4,1896.5 503.0,1900.1 503.6,1899.9 504.2,1900.6 504.8,1905.4 505.4,1911.0 506.0,1911.2 506.7,1910.1 507.3,1910.9 507.9,1913.6 508.5,1916.4 509.1,1912.7 509.7,1913.1 510.3,1921.9 510.9,1919.8 511.5,1923.8 512.1,1922.2 512.7,1926.1 513.3,1922.8 513.9,1926.4 514.5,1929.8 515.1,1929.7 515.7,1927.3 516.3,1931.4 516.9,1928.8 517.5,1927.9 518.1,1933.6 518.8,1936.8 519.4,1936.5 520.0,1932.3 520.6,1935.9 521.3,1933.7 522.0,1929.3 522.7,1922.9 523.3,1929.3 524.0,1927.3 524.7,1918.3 525.4,1906.0 526.1,1898.6 526.8,1894.6 527.5,1900.8 528.1,1906.8 528.8,1911.9 529.4,1919.7 530.0,1924.1 530.7,1920.6 531.4,1915.5 532.1,1913.7 532.7,1908.4 533.4,1906.8 534.1,1902.3 534.7,1898.9 535.3,1902.5 535.9,1896.9 536.5,1898.6 537.1,1898.8 537.7,1898.3 538.3,1892.0 538.9,1896.2 539.5,1895.7 540.1,1895.3 540.7,1888.4 541.4,1889.6 542.0,1889.2 542.6,1887.4 543.2,1888.8 543.9,1884.6 544.5,1886.1 545.1,1883.9 545.7,1879.9 546.3,1879.3 547.0,1878.8 547.6,1878.3 548.2,1878.2 548.8,1874.7 549.5,1874.0 550.1,1869.0 550.7,1865.3 551.3,1866.4 552.0,1865.3 552.6,1862.4 553.2,1859.7 553.9,1859.2 554.5,1858.8 555.1,1854.6 555.8,1852.0 556.4,1849.9 557.0,1850.6 557.6,1846.6 558.3,1845.2 558.9,1843.6 559.5,1841.3 560.1,1837.3 560.8,1836.8 561.4,1834.6 562.0,1832.1 562.6,1830.4 563.2,1826.8 563.9,1825.0 564.5,1822.5 565.1,1821.4 565.7,1818.0 566.3,1816.8 566.9,1812.2 567.6,1809.9 568.2,1806.4 568.8,1803.4 569.4,1800.4 570.0,1796.9 570.6,1793.6 571.2,1788.4 571.8,1788.6 572.4,1783.5 573.0,1779.4 573.6,1774.3 574.2,1772.1 574.8,1765.2 575.4,1762.7 576.0,1759.3 576.6,1755.7 577.2,1750.6 577.8,1745.3 578.4,1737.6 579.0,1741.2 579.7,1740.0 580.3,1738.4 580.9,1737.3 581.5,1734.9 582.1,1732.7 582.7,1734.9 583.3,1734.3 583.9,1728.6 584.5,1731.6 585.1,1729.6 585.7,1730.3 586.4,1728.4 587.0,1729.6 587.6,1728.8 588.2,1727.9 588.8,1722.4 589.5,1726.6 590.1,1724.3 590.7,1721.0 591.3,1724.5 591.9,1719.2 592.6,1723.7 593.2,1724.8 593.8,1719.0 594.4,1721.5 595.0,1719.6 595.7,1719.3 596.3,1713.8 596.9,1717.7 597.5,1715.8 598.1,1716.5 598.8,1714.0 599.4,1715.9 600.0,1713.1 600.6,1713.3 601.3,1717.4 601.9,1716.9 602.6,1721.2 603.2,1721.8 603.8,1724.9 604.5,1728.3 605.1,1736.6 605.7,1743.0 606.3,1746.4 606.9,1753.5 607.5,1758.6 608.1,1749.8 608.8,1745.7 609.4,1741.1 610.1,1731.2 610.7,1721.9 611.4,1727.9 612.1,1727.8 612.7,1734.6 613.4,1732.4 614.1,1734.1 614.7,1734.6 615.4,1738.6 616.1,1739.5 616.8,1741.3 617.4,1745.1 618.1,1746.3 618.8,1752.0 619.4,1749.8 620.0,1753.2 620.6,1754.0 621.3,1754.7 621.9,1760.8 622.5,1757.2 623.1,1763.9 623.7,1761.7 624.4,1765.4 625.0,1769.9 625.6,1766.0 626.2,1768.7 626.8,1773.7 627.5,1774.2 628.1,1775.2 628.7,1777.6 629.3,1778.4 629.9,1781.5 630.6,1784.9 631.2,1784.7 631.8,1787.1 632.4,1790.1 633.0,1792.7 633.7,1792.0 634.3,1794.7 634.9,1795.7 635.5,1797.5 636.1,1799.6 636.8,1801.3 637.4,1802.1 638.0,1803.8 638.6,1806.8 639.2,1809.4 639.9,1812.3 640.5,1812.6 641.1,1814.8 641.7,1817.3 642.3,1819.3 643.0,1820.4 643.6,1822.5 644.2,1826.2 644.8,1826.2 645.4,1828.1 646.0,1829.1 646.6,1833.0 647.2,1834.4 647.8,1838.3 648.4,1838.3 649.0,1841.4 649.6,1844.7 650.2,1848.7 650.8,1849.1 651.4,1855.1 652.0,1856.8 652.6,1859.9 653.3,1862.9 653.9,1866.0 654.5,1869.3 655.1,1870.1 655.7,1876.8 656.3,1879.5 656.9,1881.3 657.5,1885.7 658.1,1892.4 658.7,1892.9 659.3,1894.9 659.9,1901.5 660.5,1900.6 661.1,1904.9 661.7,1905.6 662.3,1907.6 662.9,1910.8 663.5,1911.9 664.1,1910.9 664.7,1913.4 665.4,1915.3 666.0,1915.7 666.6,1917.8 667.2,1917.8 667.8,1918.4 668.4,1920.6 669.0,1919.0 669.6,1922.6 670.2,1921.9 670.8,1921.0 671.4,1922.2 672.0,1923.1 672.6,1924.4 673.2,1925.6 673.8,1925.8 674.5,1925.3 675.1,1931.4 675.7,1931.2 676.3,1930.3 676.9,1933.2 677.6,1932.7 678.2,1932.2 678.8,1934.0 679.4,1941.2 680.0,1938.0 680.7,1939.1 681.3,1936.5 682.0,1936.9 682.6,1938.9 683.3,1932.4 684.0,1931.9 684.6,1930.2 685.3,1926.8 686.0,1919.4 686.7,1907.6 687.4,1898.9 688.1,1888.2 688.8,1900.4 689.4,1904.1 690.1,1911.1 690.7,1920.9 691.4,1924.3 692.0,1921.3 692.7,1915.7 693.4,1913.3 694.1,1908.5 694.7,1906.1 695.4,1901.0 696.0,1898.8 696.6,1897.9 697.2,1896.7 697.8,1894.7 698.4,1895.5 699.0,1893.7 699.6,1891.5 700.2,1888.2 700.8,1889.2 701.4,1885.3 702.1,1886.7 702.7,1885.9 703.3,1884.4 703.9,1883.5 704.5,1883.1 705.1,1886.1 705.7,1882.4 706.3,1881.9 706.9,1882.8 707.5,1881.5 708.1,1880.3 708.7,1875.4 709.3,1873.6 709.9,1876.8 710.5,1870.8 711.1,1868.6 711.7,1867.0 712.3,1865.9 712.9,1861.6 713.5,1861.1 714.2,1858.5 714.8,1856.9 715.5,1854.1 716.1,1851.1 716.8,1848.5 717.4,1844.7 718.1,1845.6 718.7,1841.2 719.3,1840.0 719.9,1839.6 720.5,1835.6 721.2,1834.4 721.8,1831.5 722.4,1830.1 723.0,1827.3 723.7,1824.7 724.3,1824.1 724.9,1820.6 725.5,1817.5 726.1,1816.2 726.7,1813.3 727.3,1808.2 727.9,1806.3 728.6,1802.6 729.2,1800.3 729.8,1794.0 730.4,1791.7 731.0,1785.7 731.6,1783.3 732.2,1780.3 732.9,1775.3 733.5,1769.3 734.2,1763.9 734.9,1757.8 735.5,1752.6 736.2,1748.4 736.9,1744.8 737.6,1741.0 738.2,1737.6 738.9,1734.1 739.6,1724.1 740.2,1722.6 740.9,1726.1 741.6,1727.8 742.3,1733.8 742.9,1735.9 743.6,1737.0 744.3,1740.1 744.9,1740.5 745.5,1736.0 746.1,1734.4 746.7,1735.1 747.3,1732.7 747.9,1733.0 748.5,1729.3 749.1,1728.5 749.7,1724.2 750.3,1721.7 750.9,1723.1 751.5,1716.8 752.1,1722.8 752.7,1723.4 753.4,1720.9 754.0,1719.6 754.6,1721.9 755.2,1718.8 755.8,1720.5 756.4,1722.7 757.1,1718.0 757.7,1717.2 758.4,1714.8 759.1,1712.9 759.7,1711.6 760.4,1709.8 761.1,1714.6 761.8,1710.5 762.4,1716.0 763.1,1720.5 763.8,1719.5 764.4,1723.5 765.1,1728.4 765.8,1736.6 766.5,1743.3 767.1,1750.2 767.8,1754.7 768.5,1759.0 769.2,1751.3 769.9,1742.8 770.6,1735.5 771.3,1719.2 771.9,1730.9 772.6,1733.3 773.2,1744.3 773.9,1750.2 774.5,1756.7 775.2,1756.6 775.9,1755.2 776.5,1753.0 777.2,1753.8 777.9,1754.4 778.6,1751.8 779.2,1753.2 779.8,1752.6 780.4,1757.2 781.0,1756.1 781.6,1756.9 782.2,1758.6 782.8,1759.2 783.4,1761.3 784.0,1764.5 784.6,1765.1 785.2,1767.5 785.8,1769.1 786.4,1767.8 787.0,1771.1 787.6,1773.9 788.2,1776.4 788.8,1773.7 789.5,1775.3 790.1,1779.1 790.7,1779.8 791.3,1781.5 791.9,1785.4 792.5,1786.6 793.1,1787.6 793.7,1792.2 794.3,1794.8 794.9,1797.7 795.5,1800.4 796.1,1802.1 796.7,1804.1 797.3,1805.8 797.9,1806.9 798.5,1810.0 799.1,1813.3 799.7,1815.0 800.3,1818.2 800.9,1818.3 801.5,1818.9 802.2,1823.2 802.8,1825.4 803.4,1825.4 804.0,1826.8 804.6,1830.2 805.2,1832.6 805.9,1832.8 806.5,1835.4 807.1,1836.8 807.7,1838.3 808.3,1840.1 809.0,1843.2 809.6,1844.6 810.2,1846.2 810.8,1846.3 811.5,1856.1 812.1,1859.0 812.8,1865.5 813.4,1870.0 814.1,1877.4 814.7,1878.6 815.3,1884.1 815.9,1887.3 816.5,1892.4 817.1,1892.9 817.7,1897.1 818.3,1901.3 818.9,1908.7 819.6,1906.6 820.2,1913.8 820.9,1916.0 821.6,1921.9 822.3,1926.8 822.9,1929.7 823.6,1926.6 824.3,1923.2 824.9,1918.1 825.6,1915.5 826.3,1909.5 827.0,1908.6 827.6,1909.8 828.3,1912.8 829.0,1916.7 829.6,1918.0 830.3,1920.2 831.0,1923.6 831.6,1917.1 832.2,1923.8 832.8,1923.7 833.4,1924.3 834.0,1922.5 834.6,1927.3 835.2,1929.5 835.8,1930.0 836.4,1928.4 837.0,1930.8 837.6,1932.5 838.2,1935.6 838.9,1935.3 839.5,1933.7 840.1,1934.6 840.7,1935.8 841.3,1937.0 841.9,1936.2 842.5,1940.3 843.1,1937.8 843.8,1933.8 844.4,1932.9 845.1,1927.1 845.8,1924.1 846.4,1916.7 847.1,1918.8 847.8,1910.0 848.4,1902.5 849.1,1896.2 849.7,1888.5 850.3,1880.1 851.0,1887.7 851.7,1888.4 852.4,1894.5 853.0,1899.9 853.7,1900.1 854.4,1905.3 855.1,1898.8 855.8,1896.6 856.5,1889.6 857.2,1883.5 857.8,1886.3 858.4,1885.4 859.0,1882.6 859.6,1884.9 860.2,1883.2 860.8,1886.1 861.4,1884.4 862.0,1881.0 862.6,1881.0 863.3,1879.8 863.9,1879.5 864.5,1877.8 865.1,1877.0 865.7,1874.6 866.3,1871.2 866.9,1870.3 867.5,1871.3 868.1,1869.3 868.7,1866.3 869.3,1864.7 869.9,1862.6 870.5,1860.8 871.1,1857.1 871.7,1857.6 872.3,1854.1 872.9,1852.9 873.5,1848.3 874.1,1848.9 874.7,1847.9 875.4,1842.6 876.0,1844.0 876.6,1841.0 877.2,1837.9 877.8,1835.2 878.4,1835.6 879.0,1832.8 879.6,1831.0 880.2,1828.3 880.8,1825.8 881.4,1825.2 882.0,1821.6 882.6,1821.2 883.2,1817.0 883.8,1815.6 884.4,1813.1 885.0,1813.5 885.6,1808.8 886.2,1807.3 886.8,1806.9 887.5,1804.5 888.1,1802.3 888.7,1798.0 889.3,1792.8 889.9,1788.9 890.5,1782.2 891.1,1779.2 891.7,1775.7 892.3,1771.8 892.9,1766.3 893.5,1762.8 894.2,1758.1 894.8,1756.1 895.5,1750.5 896.2,1744.6 896.9,1740.0 897.5,1736.3 898.2,1731.2 898.8,1728.7 899.5,1722.4 900.2,1724.1 900.8,1721.5 901.5,1716.9 902.1,1714.0 902.8,1710.4 903.5,1720.8 904.2,1723.1 904.9,1726.6 905.6,1733.8 906.3,1735.1 906.9,1733.8 907.6,1731.2 908.3,1729.4 909.0,1726.1 909.6,1720.5 910.3,1721.4 910.9,1718.2 911.5,1720.5 912.1,1717.5 912.7,1720.0 913.4,1718.6 914.0,1713.8 914.6,1719.1 915.2,1718.4 915.8,1712.7 916.5,1715.5 917.1,1716.0 917.7,1712.9 918.3,1714.8 918.9,1712.4 919.5,1713.7 920.1,1710.8 920.7,1709.1 921.3,1709.9 921.9,1709.8 922.5,1707.7 923.1,1705.2 923.7,1703.6 924.4,1708.3 925.1,1711.5 925.8,1717.1 926.4,1720.7 927.1,1723.8 927.8,1727.7 928.4,1736.1 929.1,1746.4 929.7,1753.7 930.4,1759.1 931.0,1768.5 931.7,1761.9 932.3,1756.6 932.9,1750.7 933.6,1744.4 934.2,1737.4 934.8,1739.7 935.4,1748.2 936.0,1753.7 936.7,1754.6 937.3,1760.6 937.9,1763.5 938.5,1764.1 939.1,1762.5 939.7,1763.1 940.3,1763.0 940.9,1759.8 941.5,1763.0 942.1,1762.4 942.7,1759.0 943.3,1763.0 943.9,1761.9 944.6,1763.6 945.3,1765.1 945.9,1765.4 946.6,1766.0 947.3,1768.1 947.9,1769.5 948.6,1774.7 949.2,1776.2 949.8,1775.5 950.4,1777.6 951.0,1780.5 951.7,1782.7 952.3,1783.4 952.9,1785.1 953.5,1790.2 954.2,1791.2 954.8,1790.6 955.4,1792.5 956.0,1795.4 956.6,1798.6 957.3,1801.1 957.9,1802.4 958.5,1803.4 959.1,1807.3 959.7,1809.8 960.4,1811.4 961.0,1813.2 961.6,1816.3 962.2,1817.9 962.8,1819.1 963.5,1822.4 964.1,1823.3 964.7,1827.5 965.3,1829.2 965.9,1830.1 966.6,1833.3 967.2,1836.4 967.8,1835.6 968.4,1839.5 969.0,1843.3 969.7,1842.6 970.3,1846.0 970.9,1847.0 971.5,1850.4 972.1,1850.3 972.8,1856.7 973.4,1863.4 974.1,1869.8 974.7,1875.7 975.4,1881.5 976.0,1887.2 976.7,1891.3 977.4,1896.2 978.1,1898.1 978.7,1904.1 979.4,1914.9 980.0,1917.2 980.6,1918.3 981.2,1922.0 981.8,1926.4 982.4,1927.1 983.0,1936.5 983.6,1934.7 984.2,1939.1 984.9,1941.7 985.6,1928.2 986.3,1931.1 986.9,1923.3 987.6,1922.8 988.3,1921.0 988.9,1921.5 989.5,1923.6 990.1,1922.5 990.7,1925.0 991.3,1923.6 991.9,1926.4 992.5,1925.1 993.1,1930.8 993.7,1927.2 994.3,1933.0 994.9,1930.9 995.5,1931.8 996.1,1936.0 996.7,1934.0 997.4,1929.6 998.0,1936.1 998.6,1928.4 999.2,1936.8 999.8,1935.7 1000.4,1933.9 1001.0,1938.5 1001.6,1938.6 1002.2,1945.3 1002.8,1940.3 1003.4,1947.2 1004.0,1946.8 1004.6,1942.9 1005.2,1943.4 1005.9,1941.9 1006.6,1931.6 1007.2,1925.6 1007.9,1918.0 1008.6,1909.5 1009.2,1904.4 1009.9,1898.7 1010.5,1893.0 1011.2,1890.1 1011.8,1888.2 1012.5,1883.0 1013.1,1887.5 1013.8,1894.6 1014.5,1901.9 1015.2,1910.3 1015.8,1915.1 1016.5,1920.2 1017.2,1914.4 1017.9,1911.2 1018.5,1907.6 1019.2,1896.0 1019.9,1887.9 1020.5,1886.1 1021.1,1884.0 1021.8,1883.5 1022.4,1884.2 1023.0,1881.8 1023.6,1879.1 1024.2,1877.5 1024.8,1879.2 1025.4,1877.0 1026.0,1878.1 1026.6,1875.3 1027.2,1874.8 1027.8,1871.8 1028.4,1871.6 1029.0,1869.9 1029.6,1869.5 1030.2,1868.7 1030.8,1865.4 1031.4,1863.0 1032.0,1864.5 1032.6,1861.1 1033.2,1859.4 1033.8,1857.4 1034.5,1856.2 1035.1,1853.7 1035.7,1851.3 1036.3,1849.4 1036.9,1845.8 1037.5,1844.0 1038.1,1842.5 1038.7,1840.7 1039.3,1838.6 1039.9,1836.8 1040.5,1834.6 1041.1,1832.1 1041.7,1829.0 1042.3,1829.2 1042.9,1827.0 1043.5,1823.7 1044.1,1822.9 1044.7,1820.8 1045.3,1818.1 1045.9,1814.1 1046.6,1812.3 1047.2,1810.5 1047.8,1810.2 1048.4,1805.5 1049.0,1803.6 1049.6,1800.5 1050.2,1798.8 1050.8,1797.2 1051.4,1792.5 1052.0,1789.3 1052.7,1785.5 1053.3,1777.4 1054.0,1769.2 1054.7,1764.0 1055.4,1756.7 1056.0,1744.3 1056.6,1743.0 1057.2,1740.8 1057.8,1732.9 1058.5,1729.0 1059.1,1727.2 1059.7,1720.0 1060.3,1713.1 1060.9,1709.8 1061.5,1706.8 1062.2,1710.2 1062.9,1703.2 1063.6,1708.6 1064.2,1700.7 1064.9,1703.5 1065.6,1704.5 1066.2,1712.1 1066.9,1720.0 1067.6,1724.8 1068.3,1729.7 1068.9,1731.5 1069.5,1729.9 1070.1,1728.1 1070.8,1727.0 1071.4,1722.7 1072.0,1724.1 1072.6,1720.3 1073.2,1720.3 1073.8,1716.7 1074.4,1715.2 1075.0,1709.7 1075.6,1710.2 1076.3,1707.8 1077.0,1710.0 1077.6,1710.0 1078.3,1712.3 1078.9,1706.8 1079.6,1717.8 1080.2,1709.2 1080.9,1711.3 1081.6,1709.4 1082.2,1699.1 1082.9,1703.4 1083.6,1706.4 1084.3,1695.4 1084.9,1707.0 1085.6,1706.5 1086.3,1711.3 1087.0,1716.7 1087.6,1715.6 1088.3,1724.0 1089.0,1733.4 1089.7,1744.5 1090.4,1757.9 1091.1,1772.6 1091.8,1765.8 1092.5,1763.4 1093.1,1759.8 1093.8,1756.2 1094.5,1754.9 1095.2,1754.2 1095.8,1754.8 1096.5,1758.5 1097.2,1759.6 1097.8,1766.1 1098.5,1763.1 1099.2,1768.7 1099.8,1767.7 1100.5,1766.3 1101.2,1763.4 1101.8,1762.4 1102.5,1762.6 1103.1,1762.1 1103.8,1759.2 1104.4,1758.4 1105.0,1762.2 1105.6,1764.4 1106.2,1763.7 1106.8,1765.0 1107.5,1766.5 1108.1,1772.2 1108.7,1771.1 1109.3,1771.9 1109.9,1775.7 1110.5,1779.6 1111.1,1780.6 1111.7,1780.1 1112.3,1784.0 1112.9,1786.1 1113.5,1788.6 1114.1,1790.1 1114.7,1793.4 1115.3,1795.1 1115.9,1798.6 1116.5,1800.3 1117.1,1800.9 1117.7,1802.7 1118.3,1805.8 1118.9,1808.9 1119.6,1810.8 1120.2,1812.3 1120.8,1811.4 1121.4,1815.9 1122.0,1817.6 1122.6,1819.8 1123.2,1820.9 1123.8,1823.4 1124.5,1825.1 1125.1,1830.0 1125.7,1830.1 1126.3,1831.1 1126.9,1833.1 1127.6,1834.9 1128.2,1837.0 1128.8,1838.3 1129.4,1840.6 1130.0,1843.1 1130.6,1844.4 1131.2,1845.4 1131.9,1847.9 1132.5,1848.4 1133.1,1848.7 1133.7,1849.4 1134.3,1852.0 1134.9,1860.7 1135.6,1869.3 1136.2,1878.2 1136.9,1884.1 1137.5,1891.7 1138.1,1899.9 1138.8,1906.4 1139.4,1909.0 1140.1,1916.2 1140.7,1924.2 1141.4,1926.6 1142.1,1930.5 1142.7,1930.1 1143.4,1943.3 1144.1,1946.3 1144.8,1949.7 1145.4,1942.6 1146.1,1935.0 1146.7,1932.2 1147.4,1926.6 1148.1,1923.6 1148.7,1919.9 1149.4,1927.1 1150.1,1925.3 1150.8,1929.3 1151.4,1925.6 1152.1,1930.1 1152.7,1933.0 1153.3,1931.1 1153.9,1928.1 1154.5,1931.7 1155.1,1934.6 1155.7,1930.6 1156.3,1931.3 1156.9,1936.3 1157.5,1934.1 1158.1,1939.0 1158.8,1935.2 1159.4,1934.3 1160.0,1937.8 1160.6,1944.3 1161.2,1939.2 1161.8,1942.1 1162.4,1943.6 1163.0,1941.4 1163.6,1947.3 1164.2,1945.8 1164.9,1943.1 1165.5,1934.4 1166.2,1930.9 1166.9,1925.2 1167.6,1928.1 1168.2,1924.7 1168.9,1921.4 1169.6,1917.4 1170.2,1908.6 1170.9,1903.3 1171.6,1899.1 1172.3,1895.3 1172.9,1884.4 1173.6,1879.0 1174.3,1870.5 1175.0,1873.4 1175.6,1877.9 1176.3,1878.8 1177.0,1881.4 1177.6,1886.9 1178.3,1888.9 1179.0,1885.9 1179.7,1883.4 1180.3,1881.6 1181.0,1877.7 1181.7,1876.5 1182.3,1873.3 1183.0,1876.2 1183.7,1877.5 1184.3,1878.5 1185.0,1878.6 1185.6,1880.6 1186.3,1881.1 1186.9,1887.3 1187.6,1884.6 1188.3,1882.7 1189.0,1880.7 1189.7,1874.1 1190.4,1871.8 1191.0,1870.4 1191.6,1867.6 1192.2,1865.3 1192.8,1864.2 1193.4,1864.2 1194.0,1861.5 1194.6,1858.8 1195.3,1856.7 1195.9,1853.0 1196.5,1853.4 1197.1,1850.7 1197.7,1846.8 1198.3,1845.6 1198.9,1842.8 1199.5,1840.1 1200.1,1837.2 1200.7,1835.1 1201.3,1832.5 1201.9,1831.3 1202.5,1828.8 1203.1,1826.8 1203.7,1824.3 1204.3,1822.1 1204.9,1822.3 1205.5,1816.7 1206.1,1817.5 1206.7,1814.7 1207.4,1812.4 1208.0,1809.9 1208.6,1808.1 1209.2,1804.5 1209.9,1801.6 1210.6,1800.1 1211.2,1795.9 1211.9,1795.7 1212.6,1793.3 1213.3,1781.7 1213.9,1776.9 1214.6,1772.4 1215.2,1758.2 1215.8,1744.0 1216.5,1737.5 1217.2,1731.2 1217.9,1724.5 1218.6,1719.9 1219.3,1716.9 1220.0,1720.3 1220.7,1715.8 1221.3,1720.6 1222.0,1719.5 1222.7,1726.7 1223.4,1721.7 1224.1,1709.8 1224.8,1697.7 1225.5,1693.1 1226.1,1699.5 1226.8,1705.9 1227.4,1714.2 1228.1,1719.8 1228.7,1717.7 1229.3,1725.3 1229.9,1719.6 1230.5,1718.1 1231.1,1721.3 1231.8,1715.9 1232.4,1711.8 1233.0,1710.4 1233.6,1712.5 1234.2,1713.2 1234.8,1713.2 1235.4,1708.5 1236.0,1707.1 1236.6,1711.7 1237.2,1705.9 1237.8,1710.1 1238.4,1706.4 1239.0,1705.8 1239.6,1704.1 1240.2,1704.8 1240.8,1702.3 1241.4,1701.2 1242.0,1702.1 1242.6,1700.3 1243.2,1702.2 1243.8,1701.1 1244.5,1699.8 1245.1,1699.4 1245.7,1698.8 1246.3,1708.6 1247.0,1709.1 1247.6,1712.4 1248.2,1718.1 1248.9,1725.1 1249.5,1728.8 1250.2,1734.6 1250.8,1740.1 1251.5,1746.5 1252.1,1752.5 1252.8,1760.6 1253.5,1765.9 1254.2,1774.8 1254.9,1781.2 1255.6,1778.0 1256.4,1771.4 1257.1,1764.7 1257.8,1756.1 1258.4,1761.6 1259.1,1763.9 1259.7,1767.8 1260.3,1770.1 1261.0,1775.1 1261.6,1776.2 1262.3,1778.8 1262.9,1780.4 1263.6,1778.7 1264.2,1780.5 1264.9,1775.9 1265.6,1770.0 1266.3,1764.2 1267.0,1760.9 1267.6,1762.2 1268.2,1766.0 1268.9,1768.4 1269.5,1770.6 1270.1,1772.8 1270.7,1775.8 1271.3,1776.4 1271.9,1780.7 1272.5,1780.0 1273.1,1784.2 1273.7,1787.0 1274.3,1788.1 1274.9,1789.7 1275.5,1794.5 1276.1,1795.6 1276.7,1799.4 1277.3,1801.8 1277.9,1803.5 1278.5,1805.9 1279.1,1809.2 1279.7,1810.7 1280.3,1811.5 1281.0,1814.5 1281.6,1816.9 1282.2,1818.6 1282.8,1820.6 1283.4,1822.3 1284.0,1824.4 1284.6,1825.6 1285.2,1827.2 1285.8,1831.1 1286.4,1831.1 1287.0,1833.5 1287.6,1833.6 1288.2,1836.7 1288.8,1837.4 1289.4,1842.5 1290.0,1840.4 1290.6,1842.1 1291.2,1845.5 1291.9,1852.8 1292.6,1856.5 1293.4,1866.1 1294.1,1873.9 1294.7,1879.3 1295.3,1890.0 1295.9,1896.2 1296.5,1903.3 1297.2,1907.1 1297.8,1909.6 1298.5,1910.4 1299.2,1920.4 1299.8,1917.6 1300.5,1919.6 1301.2,1930.3 1301.9,1935.1 1302.5,1945.7 1303.2,1948.8 1303.9,1957.4 1304.5,1963.8 1305.2,1956.2 1305.9,1947.6 1306.6,1940.1 1307.2,1936.8 1307.9,1923.4 1308.6,1916.1 1309.2,1918.7 1309.8,1923.0 1310.4,1924.9 1311.0,1928.4 1311.6,1925.4 1312.2,1931.4 1312.8,1932.6 1313.4,1934.6 1314.0,1935.9 1314.6,1930.8 1315.2,1936.6 1315.8,1936.5 1316.4,1932.8 1317.0,1936.3 1317.7,1940.6 1318.3,1936.0 1318.9,1938.6 1319.5,1936.8 1320.1,1936.5 1320.7,1937.5 1321.3,1940.0 1321.9,1945.4 1322.5,1945.4 1323.1,1942.8 1323.7,1948.3 1324.3,1946.7 1324.9,1946.5 1325.5,1950.5 1326.2,1943.1 1326.9,1937.5 1327.5,1940.5 1328.2,1928.8 1328.9,1930.6 1329.6,1921.8 1330.2,1920.3 1330.8,1915.2 1331.5,1909.9 1332.1,1902.0 1332.8,1900.9 1333.5,1891.9 1334.2,1881.7 1334.9,1873.8 1335.6,1865.9 1336.3,1866.0 1336.9,1869.1 1337.6,1869.5 1338.3,1873.3 1339.0,1875.7 1339.6,1880.0 1340.3,1875.3 1341.0,1872.0 1341.6,1870.4 1342.3,1865.0 1343.0,1864.6 1343.7,1860.2 1344.3,1862.6 1345.0,1867.0 1345.6,1868.6 1346.3,1872.4 1346.9,1871.6 1347.6,1876.2 1348.3,1877.7 1348.9,1880.6 1349.5,1876.0 1350.1,1877.0 1350.7,1873.6 1351.3,1869.7 1351.9,1866.8 1352.5,1864.8 1353.1,1864.8 1353.7,1860.7 1354.4,1858.4 1355.0,1857.2 1355.6,1854.7 1356.2,1852.9 1356.8,1851.4 1357.4,1849.0 1358.0,1847.5 1358.6,1843.5 1359.2,1842.7 1359.8,1840.3 1360.4,1838.7 1361.0,1836.5 1361.6,1834.0 1362.2,1832.2 1362.8,1831.4 1363.4,1828.0 1364.0,1825.4 1364.6,1825.0 1365.2,1823.3 1365.8,1820.2 1366.5,1818.0 1367.1,1814.7 1367.7,1812.7 1368.3,1811.4 1368.9,1808.6 1369.5,1805.5 1370.1,1802.5 1370.7,1798.7 1371.3,1791.5 1371.9,1782.6 1372.5,1774.3 1373.1,1766.7 1373.8,1759.8 1374.5,1756.0 1375.1,1748.1 1375.8,1747.2 1376.5,1742.0 1377.1,1738.3 1377.8,1733.7 1378.5,1730.0 1379.2,1728.8 1379.8,1720.9 1380.5,1720.4 1381.2,1718.2 1381.9,1709.6 1382.6,1704.7 1383.3,1704.6 1384.0,1699.8 1384.7,1705.0 1385.3,1709.1 1386.0,1709.7 1386.7,1716.4 1387.4,1722.2 1388.0,1722.9 1388.7,1721.0 1389.3,1717.1 1390.0,1719.5 1390.7,1720.3 1391.3,1710.3 1392.0,1713.4 1392.6,1711.8 1393.3,1706.2 1393.9,1705.6 1394.5,1703.0 1395.1,1702.6 1395.7,1703.9 1396.3,1704.1 1396.9,1701.8 1397.5,1702.6 1398.1,1700.0 1398.7,1696.4 1399.3,1702.6 1399.9,1701.8 1400.5,1697.0 1401.1,1702.8 1401.7,1699.4 1402.3,1698.4 1403.0,1702.6 1403.6,1691.6 1404.2,1693.6 1404.8,1699.6 1405.5,1697.6 1406.2,1696.2 1406.8,1702.5 1407.5,1700.4 1408.2,1696.4 1408.9,1701.9 1409.5,1709.6 1410.2,1716.0 1410.9,1710.9 1411.6,1720.3 1412.2,1722.9 1412.9,1726.2 1413.6,1735.5 1414.3,1739.1 1415.1,1747.0 1415.7,1755.2 1416.3,1758.3 1417.0,1763.5 1417.6,1768.0 1418.3,1772.5 1418.9,1773.3 1419.6,1770.7 1420.3,1771.7 1421.0,1773.1 1421.6,1771.2 1422.3,1771.6 1422.9,1775.6 1423.5,1777.9 1424.1,1777.5 1424.7,1779.2 1425.3,1782.8 1425.9,1784.5 1426.5,1785.5 1427.1,1788.8 1427.8,1790.8 1428.4,1792.3 1429.0,1797.0 1429.6,1797.3 1430.2,1798.6 1430.8,1800.7 1431.5,1804.4 1432.1,1804.4 1432.7,1804.6 1433.3,1807.4 1433.9,1809.1 1434.6,1810.4 1435.2,1813.0 1435.8,1814.8 1436.4,1816.4 1437.0,1818.4 1437.6,1822.0 1438.2,1822.3 1438.8,1826.9 1439.5,1828.6 1440.1,1831.2 1440.7,1831.3 1441.3,1837.3 1441.9,1836.7 1442.5,1839.9 1443.1,1843.3 1443.7,1844.1 1444.3,1846.3 1444.9,1846.6 1445.5,1850.3 1446.1,1853.0 1446.7,1855.5 1447.3,1856.5 1447.9,1859.0 1448.5,1861.3 1449.1,1862.5 1449.7,1864.8 1450.3,1870.3 1450.9,1869.5 1451.5,1874.4 1452.2,1875.4 1452.8,1879.6 1453.4,1879.4 1454.0,1883.3 1454.6,1885.5 1455.2,1888.8 1455.9,1893.6 1456.6,1895.9 1457.3,1901.1 1457.9,1904.5 1458.6,1910.7 1459.3,1913.1 1460.0,1914.5 1460.6,1920.6 1461.3,1925.2 1462.0,1927.3 1462.6,1936.7 1463.3,1935.8 1464.0,1938.2 1464.7,1935.6 1465.3,1937.9 1466.0,1942.7 1466.7,1938.0 1467.3,1938.0 1468.0,1932.9 1468.6,1927.1 1469.3,1924.0 1469.9,1917.1 1470.5,1921.6 1471.1,1920.3 1471.7,1921.8 1472.3,1929.6 1472.9,1926.6 1473.5,1925.0 1474.1,1934.1 1474.7,1931.6 1475.3,1925.7 1475.9,1935.0 1476.6,1938.2 1477.2,1937.6 1477.8,1941.7 1478.4,1938.0 1479.0,1940.6 1479.6,1937.5 1480.2,1941.2 1480.8,1945.3 1481.4,1943.6 1482.0,1943.6 1482.6,1939.1 1483.2,1943.9 1483.8,1942.4 1484.4,1948.3 1485.0,1945.4 1485.6,1948.9 1486.2,1946.4 1486.8,1954.3 1487.5,1944.1 1488.2,1944.6 1488.9,1948.0 1489.5,1939.4 1490.2,1934.0 1490.9,1935.0 1491.5,1930.4 1492.2,1924.6 1492.9,1913.3 1493.6,1912.4 1494.2,1902.8 1494.9,1904.4 1495.6,1895.9 1496.2,1889.8 1496.9,1886.0 1497.6,1880.3 1498.3,1872.8 1498.9,1870.8 1499.5,1867.4 1500.1,1864.5 1500.8,1866.8 1501.4,1865.8 1502.0,1864.2 1502.6,1862.2 1503.2,1859.5 1503.8,1860.2 1504.4,1860.0 1505.0,1857.6 1505.6,1857.2 1506.2,1853.6 1506.8,1854.2 1507.4,1852.9 1508.0,1849.3 1508.6,1847.9 1509.2,1847.6 1509.8,1847.2 1510.4,1846.3 1511.0,1844.5 1511.7,1842.8 1512.3,1840.9 1512.9,1839.2 1513.5,1837.8 1514.1,1835.8 1514.8,1833.5 1515.4,1831.9 1516.0,1829.4 1516.6,1828.7 1517.2,1825.6 1517.9,1825.7 1518.5,1822.3 1519.1,1820.7 1519.7,1818.0 1520.3,1816.5 1521.0,1815.1 1521.6,1813.1 1522.2,1810.6 1522.8,1808.3 1523.4,1807.5 1524.1,1805.8 1524.7,1804.3 1525.3,1803.1 1525.9,1799.7 1526.5,1796.2 1527.2,1796.2 1527.8,1792.0 1528.4,1790.1 1529.0,1790.1 1529.6,1787.2 1530.2,1783.5 1530.8,1781.1 1531.4,1779.3 1532.0,1774.9 1532.6,1775.1 1533.2,1771.7 1533.9,1770.5 1534.6,1762.6 1535.2,1761.5 1535.9,1755.0 1536.6,1753.6 1537.3,1746.3 1537.9,1745.2 1538.6,1739.1 1539.3,1734.3 1539.9,1731.5 1540.6,1728.8 1541.3,1724.7 1542.0,1724.1 1542.6,1719.0 1543.3,1707.2 1544.0,1709.4 1544.6,1702.0 1545.3,1702.7 1546.0,1708.5 1546.7,1707.0 1547.3,1710.8 1548.0,1717.4 1548.7,1719.8 1549.3,1727.3 1550.0,1722.5 1550.7,1721.0 1551.4,1721.9 1552.0,1714.5 1552.7,1713.7 1553.4,1709.2 1554.0,1711.3 1554.6,1712.3 1555.2,1712.1 1555.8,1707.6 1556.4,1704.9 1557.0,1703.7 1557.6,1701.2 1558.2,1703.9 1558.8,1706.0 1559.4,1695.7 1560.1,1695.9 1560.8,1704.4 1561.4,1696.6 1562.1,1701.1 1562.8,1696.8 1563.5,1701.6 1564.1,1700.9 1564.8,1698.7 1565.5,1699.7 1566.2,1697.1 1566.8,1697.7 1567.5,1700.1 1568.2,1701.7 1568.8,1700.7 1569.5,1703.7 1570.2,1708.4 1570.9,1711.8 1571.5,1715.9 1572.2,1720.0 1572.8,1728.4 1573.5,1732.7 1574.1,1739.0 1574.8,1744.0 1575.5,1750.6 1576.1,1753.4 1576.8,1763.1 1577.4,1767.0 1578.1,1772.7 1578.7,1774.5 1579.3,1776.7 1579.9,1777.9 1580.5,1778.9 1581.1,1780.0 1581.7,1780.0 1582.3,1783.7 1582.9,1784.7 1583.5,1786.3 1584.1,1790.8 1584.7,1787.9 1585.3,1791.5 1585.9,1794.3 1586.5,1795.7 1587.1,1797.6 1587.7,1796.7 1588.4,1798.6 1589.0,1801.8 1589.6,1802.5 1590.2,1806.0 1590.8,1806.2 1591.4,1807.8 1592.0,1809.6 1592.6,1810.6 1593.2,1812.6 1593.8,1813.5 1594.4,1815.7 1595.0,1816.9 1595.6,1819.1 1596.2,1819.2 1596.8,1821.6 1597.4,1825.8 1598.0,1828.0 1598.6,1829.3 1599.2,1832.4 1599.8,1834.1 1600.4,1839.4 1601.1,1838.4 1601.7,1843.9 1602.3,1843.9 1602.9,1847.6 1603.5,1849.3 1604.1,1851.6 1604.7,1855.4 1605.3,1857.7 1605.9,1859.0 1606.5,1860.7 1607.1,1866.4 1607.7,1868.1 1608.3,1869.1 1608.9,1870.2 1609.5,1872.5 1610.1,1873.9 1610.7,1876.9 1611.3,1875.8 1611.9,1878.7 1612.5,1879.2 1613.2,1883.6 1613.8,1886.0 1614.4,1885.0 1615.0,1889.9 1615.7,1895.3 1616.4,1896.7 1617.1,1899.7 1617.7,1907.2 1618.4,1910.3 1619.1,1912.3 1619.7,1919.0 1620.4,1920.0 1621.1,1918.9 1621.8,1927.0 1622.4,1929.4 1623.1,1937.4 1623.7,1936.0 1624.4,1938.7 1625.0,1943.6 1625.7,1946.3 1626.4,1937.1 1627.1,1935.9 1627.8,1929.8 1628.5,1928.7 1629.2,1927.4 1629.8,1916.4 1630.5,1913.5 1631.2,1916.0 1631.8,1918.7 1632.5,1921.0 1633.2,1925.0 1633.9,1929.7 1634.5,1926.5 1635.1,1926.9 1635.7,1927.1 1636.3,1935.3 1636.9,1936.9 1637.6,1930.8 1638.2,1931.5 1638.8,1937.0 1639.4,1940.4 1640.0,1941.2 1640.6,1940.1 1641.2,1942.0 1641.8,1941.7 1642.4,1940.1 1643.1,1946.9 1643.7,1942.8 1644.3,1940.6 1644.9,1942.8 1645.5,1940.8 1646.2,1945.3 1646.8,1948.6 1647.4,1943.3 1648.0,1949.9 1648.6,1953.0 1649.3,1945.0 1650.0,1937.4 1650.7,1934.5 1651.3,1932.1 1652.0,1926.2 1652.7,1922.7 1653.3,1916.9 1654.0,1909.0 1654.7,1902.3 1655.4,1894.0 1656.0,1893.3 1656.7,1886.6 1657.4,1880.9 1658.1,1873.5 1658.7,1871.0 1659.3,1867.4 1659.9,1868.6 1660.5,1866.5 1661.1,1863.1 1661.8,1862.4 1662.4,1863.7 1663.0,1861.6 1663.6,1859.1 1664.2,1858.3 1664.8,1857.1 1665.4,1854.4 1666.0,1853.4 1666.6,1851.3 1667.2,1850.0 1667.8,1849.2 1668.4,1846.2 1669.0,1846.2 1669.6,1844.0 1670.2,1843.0 1670.8,1841.5 1671.4,1839.8 1672.0,1837.3 1672.6,1835.3 1673.2,1832.5 1673.8,1831.1 1674.5,1827.8 1675.1,1826.4 1675.7,1825.2 1676.3,1822.5 1676.9,1820.9 1677.5,1818.0 1678.1,1818.6 1678.7,1815.2 1679.3,1814.4 1679.9,1812.5 1680.5,1811.7 1681.1,1808.9 1681.7,1806.7 1682.3,1804.2 1682.9,1804.1 1683.5,1800.8 1684.1,1800.1 1684.7,1798.6 1685.3,1792.5 1685.9,1791.0 1686.6,1790.2 1687.2,1788.8 1687.8,1785.4 1688.4,1783.0 1689.0,1780.8 1689.6,1779.3 1690.2,1779.0 1690.8,1776.1 1691.4,1772.3 1692.0,1771.6 1692.6,1770.8 1693.2,1767.9 1693.8,1767.0 1694.4,1765.0 1695.0,1763.2 1695.7,1761.8 1696.4,1756.8 1697.0,1752.4 1697.7,1749.5 1698.4,1747.4 1699.1,1747.7 1699.7,1741.1 1700.4,1740.1 1701.1,1734.9 1701.7,1726.2 1702.4,1728.0 1703.1,1722.0 1703.8,1717.7 1704.4,1715.3 1705.1,1719.3 1705.8,1707.8 1706.4,1707.2 1707.1,1708.7 1707.8,1711.8 1708.5,1710.2 1709.1,1718.6 1709.8,1722.0 1710.5,1727.1 1711.2,1733.4 1711.8,1728.0 1712.5,1725.9 1713.2,1727.1 1713.8,1716.9 1714.5,1717.6 1715.2,1717.0 1715.8,1711.9 1716.4,1712.6 1717.0,1710.1 1717.6,1713.0 1718.2,1710.2 1718.8,1713.0 1719.4,1712.7 1720.0,1709.5 1720.6,1707.6 1721.2,1708.4 1721.8,1707.1 1722.4,1703.1 1723.1,1708.0 1723.7,1705.1 1724.3,1705.7 1724.9,1699.5 1725.5,1704.3 1726.1,1706.6 1726.7,1702.0 1727.3,1696.0 1728.0,1700.5 1728.6,1700.9 1729.3,1702.3 1730.0,1701.8 1730.6,1704.3 1731.3,1702.5 1732.0,1707.7 1732.7,1708.7 1733.3,1714.0 1734.0,1719.6 1734.7,1719.4 1735.4,1725.3 1736.0,1727.6 1736.6,1734.4 1737.3,1740.3 1737.9,1748.5 1738.6,1750.8 1739.3,1759.9 1740.0,1762.1 1740.7,1769.9 1741.4,1777.3 1742.1,1777.7 1742.7,1776.3 1743.4,1776.8 1744.1,1779.9 1744.8,1778.1 1745.4,1780.9 1746.1,1783.0 1746.8,1786.9 1747.5,1792.7 1748.1,1795.2 1748.8,1797.9 1749.5,1799.0 1750.1,1802.3 1750.7,1803.6 1751.3,1805.1 1751.9,1808.1 1752.5,1806.8 1753.1,1810.3 1753.7,1811.8 1754.3,1812.6 1754.9,1816.5 1755.5,1815.3 1756.1,1818.5 1756.7,1820.6 1757.3,1820.5 1757.9,1823.3 1758.5,1825.7 1759.1,1829.3 1759.8,1831.5 1760.4,1833.2 1761.0,1834.9 1761.6,1834.6 1762.2,1839.3 1762.8,1841.0 1763.4,1845.1 1764.0,1847.7 1764.6,1851.0 1765.2,1851.9 1765.8,1854.4 1766.4,1854.9 1767.0,1858.5 1767.6,1859.5 1768.2,1863.9 1768.8,1863.5 1769.4,1866.7 1770.0,1868.0 1770.6,1870.4 1771.2,1873.5 1771.9,1874.3 1772.5,1877.3 1773.1,1877.7 1773.7,1882.9 1774.3,1882.8 1775.0,1887.9 1775.7,1892.3 1776.4,1888.1 1777.0,1892.9 1777.7,1896.9 1778.4,1903.3 1779.0,1904.4 1779.7,1910.0 1780.4,1911.9 1781.1,1918.6 1781.7,1918.8 1782.4,1924.7 1783.1,1917.3 1783.7,1921.1 1784.4,1931.1 1785.1,1928.6 1785.8,1927.4 1786.4,1932.4 1787.1,1927.4 1787.7,1925.2 1788.4,1919.5 1789.0,1919.5 1789.7,1916.9 1790.4,1910.3 1791.0,1912.5 1791.6,1912.7 1792.2,1917.5 1792.8,1919.4 1793.4,1917.0 1794.0,1918.9 1794.6,1922.4 1795.2,1925.2 1795.8,1924.5 1796.5,1926.0 1797.1,1928.5 1797.7,1928.9 1798.3,1931.5 1798.9,1930.1 1799.5,1928.1 1800.1,1926.8 1800.7,1934.0 1801.3,1931.9 1801.9,1932.7 1802.5,1933.6 1803.1,1931.1 1803.8,1934.9 1804.4,1930.0 1805.0,1936.4 1805.6,1935.9 1806.2,1943.7 1806.9,1940.9 1807.5,1940.0 1808.1,1941.7 1808.7,1943.9 1809.3,1940.9 1810.0,1943.0 1810.6,1939.7 1811.3,1943.9 1812.0,1934.7 1812.7,1926.6 1813.3,1930.4 1814.0,1931.5 1814.7,1919.3 1815.3,1924.7 1816.0,1913.2 1816.7,1911.2 1817.4,1904.2 1818.0,1900.8 1818.7,1893.2 1819.4,1887.5 1820.0,1880.0 1820.7,1878.5 1821.4,1869.5 1822.1,1865.3 1822.7,1864.1 1823.3,1861.7 1823.9,1861.3 1824.5,1859.9 1825.1,1858.3 1825.7,1857.7 1826.3,1856.5 1826.9,1854.1 1827.5,1852.6 1828.1,1851.9 1828.7,1851.3 1829.3,1851.0 1829.9,1849.4 1830.5,1846.6 1831.1,1845.6 1831.7,1843.2 1832.3,1842.6 1833.0,1840.0 1833.6,1838.6 1834.2,1836.4 1834.8,1834.6 1835.4,1834.4 1836.0,1829.5 1836.6,1828.6 1837.2,1826.0 1837.8,1825.4 1838.4,1824.2 1839.0,1820.2 1839.6,1815.9 1840.2,1817.0 1840.8,1815.4 1841.4,1811.7 1842.0,1811.4 1842.6,1810.0 1843.2,1806.2 1843.8,1807.4 1844.4,1805.6 1845.1,1803.8 1845.7,1800.9 1846.3,1799.6 1846.9,1797.7 1847.5,1796.8 1848.1,1793.3 1848.7,1793.8 1849.3,1790.7 1849.9,1785.8 1850.5,1788.1 1851.1,1784.4 1851.7,1781.6 1852.3,1780.3 1852.9,1775.1 1853.5,1774.8 1854.1,1768.5 1854.7,1767.5 1855.3,1768.0 1855.9,1765.1 1856.5,1759.9 1857.1,1756.1 1857.8,1756.3 1858.4,1751.9 1859.0,1747.6 1859.7,1743.7 1860.4,1735.8 1861.0,1734.8 1861.7,1723.9 1862.4,1727.1 1863.1,1718.7 1863.7,1719.6 1864.4,1718.1 1865.1,1720.2 1865.8,1718.9 1866.4,1716.6 1867.1,1720.7 1867.8,1724.2 1868.4,1726.6 1869.1,1726.4 1869.8,1729.5 1870.5,1733.4 1871.1,1736.0 1871.8,1733.9 1872.4,1732.3 1873.1,1731.3 1873.7,1728.5 1874.4,1725.1 1875.0,1722.1 1875.7,1719.4 1876.3,1725.9 1876.9,1724.4 1877.6,1718.3 1878.2,1720.2 1878.8,1721.1 1879.4,1723.2 1880.1,1717.1 1880.7,1718.3 1881.3,1720.0 1881.9,1712.0 1882.6,1713.8 1883.2,1714.6 1883.8,1711.8 1884.4,1718.2 1885.0,1713.9 1885.6,1711.2 1886.2,1707.1 1886.8,1710.9 1887.4,1709.3 1888.0,1705.3 1888.6,1704.5 1889.3,1702.1 1890.0,1706.1 1890.6,1708.9 1891.3,1709.5 1892.0,1708.8 1892.6,1709.8 1893.3,1710.1 1894.0,1714.5 1894.7,1722.6 1895.3,1724.8 1896.0,1726.0 1896.7,1732.8 1897.3,1738.8 1898.0,1743.8 1898.7,1748.1 1899.4,1752.4 1900.0,1759.3 1900.7,1766.4 1901.4,1768.3 1902.0,1771.2 1902.6,1776.5 1903.3,1778.7 1903.9,1784.4 1904.5,1785.4 1905.1,1788.3 1905.7,1788.8 1906.4,1791.4 1907.0,1794.2 1907.6,1793.0 1908.2,1793.9 1908.8,1796.8 1909.4,1798.2 1910.1,1800.5 1910.8,1801.7 1911.5,1804.9 1912.1,1806.4 1912.8,1806.3 1913.5,1810.2 1914.1,1812.7 1914.8,1815.5 1915.5,1815.9 1916.2,1817.7 1916.8,1821.6 1917.5,1821.9 1918.2,1824.6 1918.9,1827.0"/><g fill="#000" shape-rendering="crispEdges"><rect x="242" y="1645" width="1745" height="5"/><rect x="242" y="1997" width="1745" height="5"/><rect x="242" y="1645" width="5" height="357"/><rect x="1981" y="1645" width="6" height="357"/><rect x="247" y="1645.0" width="21" height="5"/><rect x="247" y="1733.0" width="21" height="5"/><rect x="247" y="1821.0" width="21" height="5"/><rect x="247" y="1909.0" width="21" height="5"/><rect x="247" y="1997.0" width="21" height="5"/><rect x="247" y="1689.0" width="9" height="5"/><rect x="247" y="1777.0" width="9" height="5"/><rect x="247" y="1865.0" width="9" height="5"/><rect x="247" y="1953.0" width="9" height="5"/><rect x="306" y="1976" width="5" height="21"/><rect x="628" y="1976" width="5" height="21"/><rect x="950" y="1976" width="5" height="21"/><rect x="1273" y="1976" width="5" height="21"/><rect x="1595" y="1976" width="5" height="21"/><rect x="1917" y="1976" width="5" height="21"/><rect x="467" y="1988" width="5" height="9"/><rect x="789" y="1988" width="5" height="9"/><rect x="1112" y="1988" width="5" height="9"/><rect x="1434" y="1988" width="5" height="9"/><rect x="1756" y="1988" width="5" height="9"/></g><text x="219.3" y="1667.6" class="t n" text-anchor="end">30</text><text x="219.3" y="1755.6" class="t n" text-anchor="end">15</text><text x="219.3" y="1843.6" class="t n" text-anchor="end">0</text><text x="219.3" y="1931.6" class="t n" text-anchor="end">-15</text><text x="219.3" y="2019.6" class="t n" text-anchor="end">-30</text><text transform="translate(95,1827.3) rotate(-90)" class="t" text-anchor="middle" textLength="376" lengthAdjust="spacingAndGlyphs">Amplitude(A)</text><polyline fill="none" stroke="#0000a0" stroke-width="5.6" stroke-linejoin="round" stroke-linecap="round" points="308.2,2273.6 308.9,2272.8 309.5,2271.5 310.1,2274.5 310.8,2272.8 311.4,2272.8 312.0,2276.4 312.6,2275.1 313.3,2272.6 313.9,2273.6 314.5,2274.1 315.2,2273.6 315.8,2272.2 316.4,2276.0 317.1,2276.2 317.7,2275.6 318.3,2274.9 318.9,2275.3 319.5,2275.4 320.1,2272.6 320.7,2273.1 321.3,2272.3 321.9,2273.5 322.5,2272.4 323.2,2269.8 323.8,2270.3 324.4,2273.0 325.0,2268.6 325.6,2269.3 326.2,2267.5 326.8,2269.3 327.4,2266.8 328.0,2265.5 328.6,2263.7 329.2,2264.2 329.8,2271.3 330.5,2276.8 331.1,2279.7 331.8,2289.3 332.4,2292.5 333.1,2289.4 333.8,2288.9 334.4,2285.9 335.1,2284.0 335.8,2281.9 336.5,2280.6 337.1,2285.1 337.8,2288.6 338.5,2296.7 339.2,2288.4 339.8,2283.8 340.5,2276.0 341.2,2269.2 341.8,2261.7 342.5,2256.2 343.1,2253.8 343.7,2252.7 344.3,2254.3 344.9,2250.0 345.5,2253.0 346.1,2253.6 346.7,2252.5 347.4,2254.6 348.0,2253.6 348.6,2252.6 349.2,2250.7 349.8,2251.5 350.4,2247.9 351.0,2247.1 351.6,2247.4 352.2,2246.0 352.8,2246.7 353.4,2242.5 354.0,2239.0 354.6,2241.3 355.2,2240.0 355.8,2236.1 356.4,2236.4 357.0,2234.7 357.6,2229.4 358.2,2227.6 358.8,2224.6 359.5,2225.0 360.1,2223.2 360.7,2221.0 361.3,2214.8 361.9,2211.6 362.5,2206.9 363.1,2202.9 363.7,2199.5 364.3,2195.4 364.9,2193.5 365.5,2190.5 366.1,2203.9 366.7,2216.1 367.3,2228.4 367.9,2242.4 368.5,2240.9 369.1,2237.4 369.7,2235.6 370.3,2232.9 370.9,2230.3 371.5,2228.8 372.2,2225.0 372.8,2225.6 373.4,2224.1 374.1,2228.9 374.8,2228.4 375.4,2234.3 376.1,2235.5 376.8,2235.2 377.4,2235.9 378.0,2235.1 378.7,2236.7 379.3,2237.5 379.9,2240.5 380.5,2235.4 381.1,2239.1 381.8,2236.8 382.4,2238.1 383.0,2239.0 383.6,2238.8 384.2,2238.7 384.9,2238.1 385.5,2238.2 386.1,2238.3 386.7,2239.5 387.3,2235.8 387.9,2237.0 388.5,2235.8 389.1,2236.1 389.7,2236.1 390.3,2238.5 390.9,2239.8 391.5,2238.6 392.1,2235.1 392.7,2236.6 393.3,2234.8 393.9,2236.8 394.5,2237.8 395.1,2236.7 395.7,2237.0 396.4,2235.5 397.0,2232.9 397.6,2233.2 398.2,2236.1 398.8,2237.4 399.4,2238.7 400.1,2236.9 400.7,2237.8 401.3,2238.5 401.9,2239.9 402.5,2238.8 403.2,2237.8 403.8,2241.1 404.4,2240.5 405.0,2240.9 405.6,2239.2 406.2,2241.4 406.8,2239.6 407.4,2239.7 408.0,2242.6 408.7,2242.8 409.3,2244.6 409.9,2246.3 410.5,2240.0 411.2,2238.0 411.9,2230.5 412.6,2227.9 413.2,2220.8 413.9,2218.3 414.6,2217.2 415.2,2216.9 415.9,2217.4 416.5,2213.6 417.2,2215.8 417.8,2214.1 418.5,2214.8 419.1,2214.7 419.8,2223.2 420.5,2232.8 421.3,2241.3 422.0,2253.2 422.6,2252.1 423.2,2254.1 423.8,2252.2 424.4,2256.4 425.1,2253.8 425.7,2257.2 426.3,2255.6 426.9,2257.5 427.5,2257.1 428.1,2258.7 428.8,2258.4 429.4,2260.6 430.0,2260.3 430.6,2260.9 431.2,2262.7 431.9,2260.8 432.5,2264.7 433.1,2264.3 433.7,2263.5 434.3,2267.4 435.0,2267.7 435.6,2271.5 436.2,2269.8 436.8,2271.8 437.4,2273.2 438.1,2271.6 438.7,2276.1 439.3,2275.3 439.9,2283.4 440.5,2288.6 441.1,2291.2 441.7,2293.9 442.3,2301.1 442.9,2305.9 443.5,2311.5 444.1,2315.0 444.7,2318.6 445.4,2324.9 446.0,2314.4 446.7,2308.6 447.4,2295.9 448.0,2286.5 448.7,2277.9 449.4,2266.9 450.1,2271.4 450.7,2275.1 451.4,2278.0 452.1,2281.7 452.7,2287.0 453.4,2289.3 454.1,2284.3 454.8,2282.8 455.4,2281.7 456.1,2277.1 456.8,2275.4 457.5,2272.6 458.1,2273.5 458.7,2272.7 459.3,2272.9 459.9,2272.1 460.6,2273.9 461.2,2272.3 461.8,2276.0 462.4,2273.8 463.0,2273.7 463.7,2275.2 464.3,2274.2 464.9,2274.6 465.5,2274.6 466.1,2273.7 466.7,2273.4 467.3,2273.7 467.9,2276.1 468.5,2273.8 469.1,2274.1 469.8,2274.0 470.4,2275.6 471.0,2277.3 471.6,2273.4 472.2,2275.4 472.8,2274.8 473.4,2274.2 474.0,2275.3 474.6,2272.9 475.2,2275.7 475.8,2274.9 476.4,2273.3 477.0,2276.8 477.6,2275.8 478.2,2275.8 478.9,2271.9 479.5,2273.1 480.1,2272.4 480.8,2273.6 481.4,2274.2 482.0,2269.5 482.7,2271.6 483.3,2271.1 483.9,2272.2 484.5,2270.4 485.2,2268.4 485.8,2269.5 486.4,2268.0 487.1,2267.9 487.7,2268.6 488.4,2267.3 489.0,2267.6 489.7,2264.5 490.4,2269.0 491.1,2266.9 491.7,2265.5 492.3,2266.7 492.9,2269.3 493.5,2274.9 494.2,2279.6 494.8,2286.7 495.4,2289.3 496.0,2290.7 496.6,2296.8 497.2,2300.7 497.8,2302.9 498.4,2299.8 499.0,2294.0 499.6,2288.1 500.2,2282.8 500.8,2279.5 501.4,2276.4 502.0,2268.6 502.6,2263.6 503.2,2261.9 503.8,2252.9 504.5,2258.3 505.1,2254.7 505.7,2255.6 506.3,2256.5 506.9,2251.5 507.6,2251.4 508.2,2255.1 508.8,2251.1 509.4,2250.7 510.0,2250.6 510.7,2251.1 511.3,2250.8 511.9,2248.6 512.5,2246.8 513.1,2246.0 513.7,2245.2 514.3,2245.3 514.9,2242.5 515.5,2243.6 516.1,2238.8 516.7,2239.4 517.3,2239.9 517.9,2238.0 518.6,2233.9 519.2,2229.5 519.8,2226.9 520.4,2224.8 521.0,2222.6 521.6,2219.1 522.2,2214.6 522.8,2212.8 523.4,2211.6 524.0,2209.2 524.7,2199.4 525.4,2193.9 526.1,2185.3 526.8,2179.9 527.5,2197.7 528.1,2205.4 528.8,2217.2 529.4,2229.2 530.0,2240.8 530.7,2237.1 531.3,2236.8 531.9,2233.7 532.5,2233.2 533.1,2226.3 533.7,2226.3 534.3,2224.7 534.9,2217.6 535.5,2223.3 536.2,2222.6 536.9,2227.7 537.5,2231.2 538.2,2231.5 538.8,2234.2 539.5,2235.1 540.1,2238.7 540.8,2239.7 541.4,2237.8 542.0,2237.8 542.6,2238.4 543.3,2238.8 543.9,2235.4 544.5,2237.5 545.2,2236.4 545.8,2237.9 546.4,2238.5 547.1,2237.4 547.7,2238.5 548.3,2235.4 549.0,2236.0 549.6,2235.1 550.2,2236.4 550.8,2236.4 551.5,2236.1 552.1,2234.7 552.7,2236.2 553.4,2235.7 554.0,2237.1 554.6,2236.0 555.3,2237.9 555.9,2236.6 556.5,2233.9 557.1,2236.1 557.8,2234.4 558.4,2237.6 559.0,2238.2 559.7,2236.3 560.3,2236.9 560.9,2234.8 561.6,2234.1 562.2,2236.7 562.8,2237.5 563.4,2236.2 564.1,2238.7 564.7,2239.4 565.3,2240.2 566.0,2241.8 566.6,2241.2 567.2,2240.0 567.9,2241.0 568.5,2242.0 569.1,2240.2 569.7,2243.8 570.4,2243.6 571.0,2237.6 571.7,2232.7 572.3,2234.1 573.0,2225.7 573.6,2221.4 574.2,2220.8 574.8,2218.0 575.4,2215.2 576.0,2214.1 576.6,2210.2 577.2,2210.6 577.8,2205.8 578.4,2206.6 579.1,2209.6 579.7,2209.7 580.4,2217.1 581.0,2215.8 581.7,2221.6 582.4,2227.6 583.1,2236.7 583.8,2243.5 584.5,2255.8 585.1,2254.5 585.7,2256.1 586.4,2255.4 587.0,2255.9 587.6,2255.8 588.2,2255.9 588.8,2257.6 589.5,2257.6 590.1,2257.9 590.7,2256.8 591.3,2258.9 591.9,2260.7 592.6,2259.9 593.2,2261.8 593.8,2262.0 594.4,2261.6 595.0,2262.6 595.6,2263.6 596.2,2265.0 596.8,2265.8 597.4,2268.5 598.0,2266.4 598.6,2265.9 599.2,2271.5 599.8,2272.0 600.4,2274.5 601.0,2280.1 601.6,2280.6 602.2,2281.5 602.8,2284.0 603.4,2284.9 604.1,2288.0 604.7,2288.0 605.3,2289.9 605.9,2292.2 606.6,2304.5 607.3,2314.1 608.0,2320.7 608.7,2332.7 609.4,2320.2 610.0,2311.1 610.7,2298.4 611.4,2289.4 612.1,2277.2 612.7,2266.2 613.4,2271.3 614.1,2276.2 614.7,2279.9 615.4,2283.6 616.1,2292.4 616.8,2294.3 617.4,2289.1 618.1,2285.1 618.8,2281.0 619.4,2280.6 620.1,2279.9 620.8,2272.5 621.4,2274.4 622.0,2272.5 622.7,2276.5 623.3,2275.7 623.9,2275.7 624.6,2277.2 625.2,2277.8 625.8,2277.1 626.5,2275.0 627.1,2274.2 627.7,2274.7 628.4,2273.9 629.0,2278.7 629.6,2276.2 630.2,2276.7 630.9,2277.0 631.5,2279.2 632.1,2275.5 632.7,2277.7 633.3,2276.3 633.9,2275.5 634.5,2272.9 635.1,2276.5 635.7,2274.1 636.3,2274.3 636.9,2275.0 637.5,2274.6 638.1,2275.8 638.7,2273.2 639.3,2274.1 639.9,2274.1 640.5,2273.5 641.2,2274.2 641.8,2272.7 642.4,2274.5 643.0,2271.7 643.6,2270.3 644.2,2271.7 644.8,2272.9 645.5,2270.1 646.1,2269.5 646.7,2269.4 647.3,2269.6 647.9,2268.7 648.6,2268.9 649.2,2265.7 649.8,2269.6 650.4,2267.9 651.0,2265.5 651.7,2275.5 652.4,2281.3 653.1,2289.8 653.7,2293.3 654.4,2304.1 655.1,2309.0 655.7,2306.6 656.4,2310.6 657.1,2309.6 657.8,2309.0 658.4,2310.4 659.1,2308.4 659.8,2302.7 660.4,2292.5 661.1,2283.4 661.8,2276.6 662.5,2265.7 663.1,2255.7 663.8,2254.6 664.4,2255.2 665.0,2256.1 665.6,2253.3 666.2,2252.0 666.9,2254.1 667.5,2252.3 668.1,2251.5 668.7,2253.7 669.3,2248.7 670.0,2250.0 670.6,2246.7 671.2,2248.1 671.8,2248.0 672.4,2247.5 673.1,2243.1 673.7,2244.6 674.3,2243.3 674.9,2240.9 675.5,2243.1 676.2,2238.5 676.8,2236.1 677.4,2236.6 678.0,2232.3 678.6,2235.7 679.3,2233.7 679.9,2229.0 680.5,2227.5 681.1,2224.6 681.7,2223.6 682.3,2217.4 682.9,2213.7 683.5,2209.9 684.1,2209.4 684.7,2204.8 685.3,2203.9 686.0,2197.8 686.7,2189.8 687.4,2182.3 688.1,2178.3 688.8,2190.4 689.4,2204.9 690.1,2219.8 690.7,2230.8 691.4,2245.2 692.0,2242.7 692.7,2232.1 693.4,2223.9 694.1,2217.9 694.7,2210.4 695.4,2202.5 696.1,2209.6 696.7,2216.2 697.4,2222.2 698.1,2229.0 698.8,2232.0 699.4,2238.4 700.1,2241.2 700.7,2239.2 701.3,2241.1 701.9,2239.6 702.5,2237.0 703.2,2239.3 703.8,2236.9 704.4,2238.3 705.0,2239.3 705.6,2240.1 706.3,2236.9 706.9,2237.6 707.5,2236.8 708.1,2237.4 708.7,2233.0 709.3,2235.9 709.9,2236.8 710.5,2237.0 711.1,2235.4 711.7,2237.5 712.3,2237.8 712.9,2236.5 713.5,2236.1 714.2,2235.6 714.8,2236.0 715.5,2237.1 716.1,2237.2 716.8,2234.3 717.4,2233.4 718.1,2233.3 718.7,2235.8 719.3,2235.0 719.9,2235.2 720.5,2235.6 721.2,2235.6 721.8,2235.1 722.4,2234.1 723.0,2234.8 723.7,2235.9 724.3,2236.4 724.9,2235.6 725.5,2235.7 726.1,2238.2 726.8,2236.8 727.5,2238.7 728.1,2239.0 728.8,2239.3 729.5,2239.4 730.2,2241.7 730.8,2231.2 731.5,2223.4 732.2,2210.6 732.8,2210.0 733.4,2209.8 734.0,2207.2 734.6,2206.4 735.2,2205.2 735.8,2200.3 736.4,2200.3 737.0,2198.0 737.6,2199.5 738.2,2195.9 738.9,2199.4 739.6,2203.7 740.2,2203.6 740.9,2206.9 741.6,2210.0 742.3,2211.8 742.9,2223.3 743.6,2232.1 744.3,2241.7 745.0,2243.2 745.6,2245.3 746.3,2248.0 747.0,2250.7 747.6,2251.7 748.3,2257.0 748.9,2257.8 749.5,2256.9 750.1,2256.5 750.7,2257.4 751.3,2257.8 751.9,2258.2 752.5,2260.3 753.2,2257.0 753.8,2258.8 754.4,2259.5 755.0,2260.1 755.6,2261.1 756.2,2261.4 756.8,2263.4 757.4,2266.5 758.0,2268.9 758.6,2267.6 759.2,2270.5 759.8,2271.9 760.4,2274.0 761.0,2275.2 761.6,2277.7 762.2,2280.5 762.8,2280.0 763.4,2283.8 764.0,2283.6 764.6,2285.6 765.3,2289.3 765.9,2290.6 766.5,2295.5 767.1,2305.0 767.8,2312.2 768.4,2321.3 769.0,2330.0 769.7,2338.9 770.4,2321.7 771.1,2304.4 771.8,2285.7 772.5,2267.6 773.2,2279.0 773.9,2291.9 774.6,2301.4 775.3,2314.9 776.0,2310.2 776.6,2309.7 777.3,2303.9 778.0,2302.0 778.6,2301.0 779.3,2298.5 779.9,2295.1 780.6,2295.5 781.2,2286.2 781.9,2279.8 782.6,2271.9 783.2,2275.0 783.8,2274.1 784.5,2273.7 785.1,2271.1 785.7,2273.9 786.3,2273.0 786.9,2274.3 787.6,2275.1 788.2,2273.1 788.8,2274.5 789.4,2275.5 790.0,2274.7 790.7,2274.2 791.3,2273.4 791.9,2274.1 792.6,2273.4 793.2,2276.5 793.8,2275.4 794.4,2273.8 795.1,2275.6 795.7,2274.0 796.3,2271.5 797.0,2277.5 797.6,2277.6 798.2,2274.3 798.9,2275.4 799.5,2276.7 800.1,2276.1 800.7,2275.6 801.3,2275.4 802.0,2275.2 802.6,2274.2 803.2,2274.5 803.8,2273.4 804.4,2272.1 805.0,2272.5 805.6,2269.7 806.2,2273.1 806.8,2268.4 807.4,2270.1 808.0,2270.3 808.6,2270.0 809.2,2269.4 809.8,2270.3 810.4,2266.8 811.0,2267.7 811.6,2267.6 812.2,2266.4 812.8,2265.8 813.5,2278.9 814.3,2286.8 815.0,2297.7 815.7,2308.6 816.3,2310.0 817.0,2311.8 817.7,2312.7 818.4,2314.8 819.0,2315.8 819.7,2317.6 820.3,2309.1 821.0,2296.6 821.6,2290.1 822.3,2277.7 822.9,2269.5 823.6,2266.1 824.3,2262.9 824.9,2258.0 825.6,2260.0 826.3,2254.2 827.0,2251.5 827.6,2253.7 828.2,2252.3 828.8,2254.5 829.4,2254.0 830.1,2252.6 830.7,2251.9 831.3,2252.4 831.9,2249.5 832.5,2251.3 833.2,2251.1 833.8,2250.2 834.4,2250.9 835.0,2248.6 835.6,2250.6 836.2,2250.1 836.8,2245.8 837.4,2246.6 838.0,2247.4 838.7,2245.0 839.3,2242.1 839.9,2241.1 840.5,2242.5 841.1,2242.8 841.7,2236.2 842.3,2234.8 842.9,2230.9 843.5,2228.7 844.1,2226.7 844.7,2223.4 845.3,2219.7 845.9,2220.5 846.5,2214.8 847.1,2211.9 847.8,2204.7 848.4,2194.4 849.1,2185.3 849.7,2177.9 850.3,2166.4 851.1,2178.8 851.8,2189.3 852.5,2198.9 853.2,2207.9 853.8,2207.4 854.5,2204.6 855.2,2205.9 855.9,2205.8 856.5,2205.9 857.2,2204.3 857.9,2204.9 858.5,2205.7 859.2,2208.1 859.9,2209.6 860.6,2212.4 861.2,2212.2 861.9,2220.9 862.6,2230.8 863.3,2239.8 863.9,2239.6 864.5,2236.6 865.1,2236.9 865.7,2237.0 866.4,2238.6 867.0,2237.5 867.6,2237.3 868.2,2238.1 868.8,2234.8 869.5,2237.2 870.1,2235.8 870.7,2233.9 871.3,2236.2 871.9,2232.5 872.6,2232.9 873.2,2234.1 873.8,2234.8 874.4,2234.1 875.0,2231.6 875.7,2233.9 876.3,2234.2 876.9,2237.6 877.5,2236.1 878.1,2234.5 878.8,2232.9 879.4,2234.8 880.0,2233.3 880.6,2235.5 881.2,2236.2 881.9,2235.7 882.5,2237.0 883.1,2236.7 883.7,2236.8 884.3,2240.0 885.0,2239.3 885.6,2238.6 886.2,2238.5 886.8,2240.1 887.5,2241.1 888.1,2236.1 888.8,2231.5 889.5,2224.8 890.1,2217.4 890.8,2216.1 891.5,2209.6 892.1,2207.8 892.7,2207.0 893.3,2202.0 893.9,2202.0 894.5,2200.4 895.1,2201.2 895.7,2196.7 896.3,2196.4 896.9,2197.4 897.5,2194.8 898.2,2193.2 898.9,2195.7 899.6,2191.3 900.2,2193.2 900.9,2192.0 901.6,2192.6 902.3,2197.7 903.0,2203.0 903.7,2210.4 904.4,2214.5 905.0,2224.9 905.7,2231.9 906.3,2241.6 907.0,2247.9 907.6,2255.6 908.2,2257.3 908.9,2258.7 909.5,2254.8 910.1,2257.9 910.7,2258.9 911.3,2256.5 912.0,2257.5 912.6,2259.8 913.2,2258.2 913.8,2258.8 914.4,2262.1 915.1,2259.0 915.7,2259.4 916.3,2258.8 916.9,2261.5 917.5,2262.6 918.1,2267.6 918.7,2268.1 919.3,2266.2 919.9,2271.5 920.5,2271.2 921.1,2271.2 921.7,2273.7 922.3,2275.5 922.9,2276.5 923.5,2277.6 924.2,2281.1 924.8,2284.7 925.4,2286.7 926.0,2288.6 926.6,2293.2 927.2,2293.0 927.8,2298.0 928.4,2308.3 929.0,2321.2 929.6,2331.7 930.2,2345.2 930.8,2335.5 931.4,2325.5 932.0,2319.0 932.6,2310.2 933.2,2302.6 933.8,2293.2 934.5,2293.5 935.2,2296.0 935.8,2295.7 936.5,2299.4 937.2,2304.5 937.9,2306.8 938.5,2302.1 939.2,2297.7 939.8,2294.3 940.5,2290.4 941.1,2283.8 941.8,2281.1 942.5,2279.9 943.1,2276.2 943.7,2274.9 944.4,2274.2 945.0,2274.1 945.6,2273.9 946.3,2273.5 946.9,2272.2 947.5,2274.8 948.2,2274.1 948.8,2274.4 949.4,2276.8 950.1,2275.4 950.7,2273.7 951.3,2275.4 952.0,2272.7 952.6,2276.1 953.2,2275.2 953.8,2274.7 954.4,2275.8 955.0,2277.0 955.6,2274.6 956.2,2274.1 956.8,2278.2 957.4,2275.6 958.0,2277.6 958.6,2274.9 959.2,2276.3 959.8,2275.1 960.4,2276.9 961.1,2275.8 961.7,2275.4 962.3,2278.3 962.9,2276.9 963.5,2273.9 964.1,2276.4 964.7,2275.0 965.3,2274.2 965.9,2274.5 966.6,2274.2 967.2,2274.4 967.8,2272.8 968.4,2271.0 969.0,2272.2 969.7,2273.6 970.3,2270.2 970.9,2272.3 971.5,2271.7 972.1,2270.0 972.8,2278.7 973.5,2285.1 974.2,2293.3 974.8,2300.2 975.5,2309.9 976.2,2318.8 976.8,2316.9 977.4,2320.0 978.0,2316.5 978.6,2318.9 979.2,2319.5 979.8,2323.7 980.4,2321.5 981.0,2324.0 981.7,2309.5 982.3,2301.4 983.0,2291.1 983.6,2279.4 984.2,2265.1 984.9,2266.5 985.6,2264.9 986.3,2263.2 986.9,2259.7 987.6,2254.6 988.3,2254.2 988.9,2255.2 989.5,2252.5 990.1,2253.8 990.8,2252.0 991.4,2252.3 992.0,2252.7 992.6,2250.3 993.2,2254.5 993.9,2250.5 994.5,2250.3 995.1,2248.4 995.7,2249.0 996.3,2248.1 997.0,2245.6 997.6,2244.6 998.2,2246.0 998.8,2244.6 999.4,2240.4 1000.1,2240.1 1000.7,2241.5 1001.3,2240.9 1001.9,2240.8 1002.5,2237.5 1003.2,2239.0 1003.8,2236.9 1004.4,2235.7 1005.1,2231.4 1005.8,2228.2 1006.4,2222.9 1007.1,2218.7 1007.8,2211.9 1008.4,2207.7 1009.1,2197.5 1009.7,2189.3 1010.4,2180.5 1011.0,2171.3 1011.7,2163.8 1012.4,2183.8 1013.1,2204.6 1013.8,2224.2 1014.5,2245.8 1015.2,2236.5 1015.8,2229.5 1016.5,2220.8 1017.2,2213.1 1017.9,2204.0 1018.5,2194.4 1019.2,2200.2 1019.9,2210.6 1020.5,2214.6 1021.2,2220.8 1021.9,2226.0 1022.6,2231.7 1023.2,2236.0 1023.8,2230.8 1024.4,2232.2 1025.1,2232.2 1025.7,2230.8 1026.3,2230.6 1027.0,2231.4 1027.6,2231.8 1028.2,2231.7 1028.9,2233.3 1029.5,2230.8 1030.1,2232.8 1030.7,2234.2 1031.4,2233.4 1032.0,2230.8 1032.6,2228.4 1033.3,2233.3 1033.9,2232.7 1034.5,2231.1 1035.2,2233.4 1035.8,2231.1 1036.4,2231.7 1037.1,2230.1 1037.7,2231.7 1038.3,2230.6 1038.9,2230.4 1039.6,2232.3 1040.2,2231.1 1040.8,2228.7 1041.5,2231.4 1042.1,2231.5 1042.7,2229.2 1043.3,2230.5 1044.0,2231.9 1044.6,2232.3 1045.2,2233.5 1045.8,2235.0 1046.4,2234.3 1047.1,2238.4 1047.7,2235.5 1048.3,2236.5 1048.9,2240.6 1049.5,2241.9 1050.2,2239.6 1050.8,2240.1 1051.5,2231.6 1052.1,2227.1 1052.8,2218.4 1053.5,2209.7 1054.1,2203.9 1054.8,2197.8 1055.4,2195.3 1056.0,2195.6 1056.6,2192.7 1057.2,2190.1 1057.8,2187.9 1058.5,2187.0 1059.1,2186.3 1059.7,2184.2 1060.3,2182.8 1060.9,2180.1 1061.5,2181.7 1062.2,2183.1 1062.8,2182.1 1063.5,2181.4 1064.1,2186.1 1064.8,2202.8 1065.5,2219.6 1066.2,2238.6 1066.9,2256.2 1067.6,2254.5 1068.2,2256.8 1068.8,2255.4 1069.4,2257.8 1070.1,2257.6 1070.7,2259.5 1071.3,2258.1 1072.0,2259.0 1072.6,2258.4 1073.2,2258.5 1073.9,2257.4 1074.5,2260.8 1075.1,2260.0 1075.7,2259.3 1076.4,2260.5 1077.0,2260.0 1077.6,2260.8 1078.2,2263.3 1078.9,2265.8 1079.5,2265.1 1080.1,2264.9 1080.7,2267.2 1081.3,2271.5 1082.0,2269.4 1082.6,2273.2 1083.2,2272.6 1083.8,2275.1 1084.4,2275.3 1085.1,2274.6 1085.7,2280.1 1086.4,2287.5 1087.1,2288.6 1087.8,2293.5 1088.4,2296.4 1089.1,2300.7 1089.8,2314.9 1090.5,2328.7 1091.2,2344.6 1091.9,2355.3 1092.6,2345.0 1093.2,2334.3 1093.9,2323.3 1094.5,2312.9 1095.2,2305.7 1095.8,2304.5 1096.5,2310.7 1097.2,2312.0 1097.8,2312.6 1098.5,2313.5 1099.2,2317.0 1099.9,2310.0 1100.5,2304.3 1101.2,2294.8 1101.9,2288.3 1102.5,2281.6 1103.2,2274.3 1103.8,2274.0 1104.5,2272.7 1105.1,2272.9 1105.7,2274.3 1106.4,2275.0 1107.0,2276.7 1107.6,2278.5 1108.3,2277.9 1108.9,2276.3 1109.5,2278.3 1110.1,2275.9 1110.8,2275.5 1111.4,2279.3 1112.0,2275.0 1112.7,2276.0 1113.3,2276.3 1113.9,2278.7 1114.5,2276.1 1115.1,2278.0 1115.7,2276.5 1116.3,2275.6 1116.9,2277.6 1117.5,2277.6 1118.1,2276.0 1118.7,2276.4 1119.3,2276.6 1120.0,2279.0 1120.6,2278.5 1121.2,2278.3 1121.8,2278.7 1122.4,2277.5 1123.0,2278.9 1123.6,2277.6 1124.2,2276.7 1124.8,2277.7 1125.4,2278.9 1126.0,2277.8 1126.6,2278.0 1127.2,2273.5 1127.8,2274.4 1128.4,2274.1 1129.0,2271.4 1129.6,2271.9 1130.2,2270.1 1130.8,2268.1 1131.4,2270.0 1132.1,2265.8 1132.7,2267.9 1133.4,2278.6 1134.1,2290.6 1134.8,2303.2 1135.5,2316.0 1136.1,2317.9 1136.7,2321.4 1137.3,2320.6 1137.9,2326.7 1138.5,2328.2 1139.1,2330.9 1139.7,2329.8 1140.3,2330.1 1140.9,2334.3 1141.5,2336.9 1142.2,2326.0 1142.8,2313.4 1143.5,2302.5 1144.1,2291.3 1144.8,2277.5 1145.4,2270.4 1146.0,2255.0 1146.7,2256.2 1147.4,2256.6 1148.1,2253.5 1148.7,2253.8 1149.4,2255.3 1150.1,2252.1 1150.7,2253.0 1151.3,2251.2 1151.9,2250.3 1152.5,2250.2 1153.1,2248.1 1153.7,2247.4 1154.3,2248.1 1154.9,2246.4 1155.5,2245.9 1156.1,2242.8 1156.7,2243.6 1157.3,2244.4 1157.9,2243.2 1158.6,2241.6 1159.2,2239.7 1159.8,2238.8 1160.4,2239.3 1161.0,2239.8 1161.6,2237.2 1162.2,2238.0 1162.9,2233.9 1163.5,2233.9 1164.2,2229.0 1164.9,2228.5 1165.5,2224.9 1166.2,2225.1 1166.9,2219.6 1167.6,2212.3 1168.2,2207.1 1168.9,2202.2 1169.6,2195.4 1170.2,2190.8 1171.0,2180.3 1171.7,2171.8 1172.4,2162.0 1173.1,2149.1 1173.7,2158.8 1174.3,2169.1 1174.9,2177.7 1175.5,2187.6 1176.1,2189.8 1176.7,2189.8 1177.3,2190.1 1177.9,2190.2 1178.5,2193.6 1179.1,2191.7 1179.7,2193.4 1180.3,2192.7 1181.0,2193.6 1181.7,2194.8 1182.3,2194.5 1183.0,2196.0 1183.7,2195.8 1184.4,2194.2 1185.2,2235.4 1185.8,2239.6 1186.4,2237.6 1187.0,2240.3 1187.6,2238.4 1188.2,2237.4 1188.8,2239.1 1189.4,2238.0 1190.0,2238.4 1190.6,2237.1 1191.2,2239.2 1191.8,2239.8 1192.4,2237.7 1193.0,2240.1 1193.6,2236.4 1194.2,2236.9 1194.8,2233.8 1195.5,2232.8 1196.1,2237.5 1196.7,2236.0 1197.3,2235.0 1197.9,2230.7 1198.5,2232.6 1199.1,2233.0 1199.7,2232.7 1200.3,2233.2 1201.0,2231.7 1201.6,2232.9 1202.2,2231.8 1202.8,2232.9 1203.4,2234.0 1204.1,2232.7 1204.7,2233.5 1205.3,2233.4 1205.9,2234.2 1206.5,2235.5 1207.2,2235.6 1207.9,2236.8 1208.5,2235.5 1209.2,2237.9 1209.8,2240.4 1210.5,2239.3 1211.1,2240.8 1211.8,2241.1 1212.5,2227.3 1213.1,2208.2 1213.8,2191.0 1214.4,2189.2 1215.0,2186.3 1215.6,2182.0 1216.2,2179.1 1216.8,2174.6 1217.4,2170.6 1218.0,2166.7 1218.6,2163.1 1219.3,2165.0 1220.0,2168.2 1220.7,2169.6 1221.3,2171.9 1222.0,2174.6 1222.7,2175.8 1223.4,2181.1 1224.1,2188.9 1224.8,2195.6 1225.5,2201.6 1226.1,2213.9 1226.8,2221.9 1227.4,2231.4 1228.1,2241.4 1228.7,2253.6 1229.3,2252.5 1230.0,2254.7 1230.6,2253.7 1231.2,2253.8 1231.8,2255.5 1232.4,2256.0 1233.1,2255.9 1233.7,2254.8 1234.3,2256.1 1234.9,2255.6 1235.6,2257.2 1236.2,2258.2 1236.8,2260.4 1237.4,2261.4 1238.0,2261.4 1238.6,2262.8 1239.2,2262.8 1239.8,2267.1 1240.4,2266.5 1241.0,2269.0 1241.6,2267.1 1242.2,2268.1 1242.8,2270.0 1243.5,2272.2 1244.2,2275.7 1244.9,2277.4 1245.5,2283.3 1246.2,2285.6 1246.9,2289.8 1247.5,2293.2 1248.2,2295.9 1248.9,2303.5 1249.6,2309.1 1250.2,2310.6 1250.9,2315.7 1251.6,2325.7 1252.3,2334.8 1252.9,2342.0 1253.6,2355.6 1254.3,2363.7 1254.9,2370.6 1255.6,2354.5 1256.4,2342.7 1257.1,2330.1 1257.8,2314.0 1258.4,2315.5 1259.1,2313.7 1259.7,2316.3 1260.4,2315.0 1261.0,2320.6 1261.7,2319.7 1262.4,2317.3 1263.0,2318.6 1263.7,2313.6 1264.4,2305.1 1265.0,2296.4 1265.7,2289.5 1266.4,2283.3 1267.0,2273.1 1267.7,2270.3 1268.3,2272.4 1268.9,2270.9 1269.5,2271.6 1270.1,2273.0 1270.8,2272.4 1271.4,2271.2 1272.0,2272.6 1272.6,2271.6 1273.2,2273.3 1273.9,2272.3 1274.5,2273.1 1275.1,2272.3 1275.7,2273.6 1276.3,2272.4 1277.0,2272.6 1277.6,2271.9 1278.2,2272.8 1278.8,2270.3 1279.4,2276.1 1280.1,2271.7 1280.7,2272.7 1281.3,2272.0 1281.9,2272.0 1282.6,2273.1 1283.2,2271.9 1283.8,2271.6 1284.4,2270.0 1285.0,2270.2 1285.6,2269.5 1286.2,2272.9 1286.8,2268.4 1287.4,2268.4 1288.0,2269.6 1288.6,2270.8 1289.2,2266.4 1289.9,2265.7 1290.5,2267.1 1291.2,2266.6 1291.8,2263.5 1292.4,2262.2 1293.2,2274.4 1293.9,2287.7 1294.6,2297.7 1295.3,2309.9 1295.9,2311.4 1296.6,2314.2 1297.3,2317.8 1298.0,2319.5 1298.6,2322.6 1299.3,2323.8 1300.0,2328.6 1300.6,2334.4 1301.3,2337.8 1302.0,2341.5 1302.7,2347.7 1303.3,2351.9 1304.0,2342.7 1304.7,2333.1 1305.5,2326.7 1306.2,2320.2 1306.8,2303.0 1307.5,2289.1 1308.1,2277.2 1308.7,2264.1 1309.4,2250.8 1310.0,2250.5 1310.6,2252.7 1311.2,2252.3 1311.8,2252.7 1312.4,2251.4 1313.0,2249.4 1313.6,2251.0 1314.2,2248.4 1314.8,2248.3 1315.4,2246.9 1316.1,2249.4 1316.7,2248.5 1317.3,2245.9 1317.9,2245.5 1318.5,2245.3 1319.2,2244.9 1319.8,2245.1 1320.4,2243.5 1321.0,2243.3 1321.6,2240.2 1322.3,2241.2 1322.9,2238.6 1323.5,2242.6 1324.1,2240.9 1324.7,2238.8 1325.3,2238.1 1325.9,2238.1 1326.5,2235.5 1327.1,2231.0 1327.7,2231.6 1328.3,2227.6 1328.9,2228.4 1329.6,2226.6 1330.2,2222.2 1330.9,2216.6 1331.6,2208.9 1332.2,2203.6 1332.9,2198.3 1333.6,2191.7 1334.3,2174.2 1334.9,2153.8 1335.6,2138.9 1336.3,2154.0 1336.9,2166.7 1337.6,2177.9 1338.2,2179.9 1338.8,2181.0 1339.4,2179.8 1340.0,2182.3 1340.6,2180.8 1341.2,2181.8 1341.9,2182.5 1342.5,2185.9 1343.1,2183.0 1343.7,2183.1 1344.3,2186.8 1345.0,2187.3 1345.7,2190.1 1346.4,2189.0 1347.0,2194.3 1347.7,2195.9 1348.3,2216.4 1348.9,2242.1 1349.5,2240.1 1350.2,2240.2 1350.8,2238.8 1351.4,2238.4 1352.1,2239.9 1352.7,2238.7 1353.3,2241.3 1354.0,2241.9 1354.6,2240.0 1355.2,2238.8 1355.9,2240.4 1356.5,2239.6 1357.1,2241.3 1357.8,2241.3 1358.4,2240.5 1359.0,2241.1 1359.6,2242.3 1360.3,2243.1 1360.9,2240.1 1361.5,2241.7 1362.1,2240.4 1362.7,2239.2 1363.4,2242.2 1364.0,2241.0 1364.6,2240.6 1365.2,2240.8 1365.8,2240.1 1366.5,2239.4 1367.1,2243.6 1367.7,2243.0 1368.3,2242.7 1368.9,2244.1 1369.5,2245.0 1370.1,2243.6 1370.7,2245.1 1371.3,2229.8 1371.9,2216.9 1372.5,2201.7 1373.1,2191.0 1373.7,2186.9 1374.3,2187.5 1374.9,2187.0 1375.5,2185.4 1376.1,2186.6 1376.7,2184.7 1377.3,2183.8 1377.9,2183.8 1378.6,2179.8 1379.3,2179.3 1380.0,2175.6 1380.6,2173.0 1381.3,2167.0 1382.0,2166.0 1382.7,2169.2 1383.4,2174.9 1384.1,2181.0 1384.8,2184.2 1385.4,2197.3 1386.1,2212.7 1386.7,2226.3 1387.4,2241.1 1388.0,2250.0 1388.6,2253.4 1389.2,2253.1 1389.8,2253.1 1390.4,2255.0 1391.1,2253.9 1391.7,2253.1 1392.3,2255.5 1392.9,2256.9 1393.5,2260.3 1394.1,2257.5 1394.7,2257.4 1395.3,2256.8 1395.9,2259.4 1396.6,2260.0 1397.2,2261.0 1397.8,2259.4 1398.4,2260.7 1399.0,2259.2 1399.7,2262.9 1400.3,2261.1 1400.9,2260.0 1401.5,2265.5 1402.1,2265.2 1402.7,2266.2 1403.4,2267.4 1404.0,2266.8 1404.6,2270.7 1405.2,2269.2 1405.8,2274.2 1406.4,2273.3 1407.0,2271.8 1407.6,2276.5 1408.2,2279.2 1408.9,2280.3 1409.5,2286.0 1410.2,2288.4 1410.9,2291.9 1411.6,2293.4 1412.2,2302.4 1412.9,2309.0 1413.6,2318.8 1414.2,2325.5 1414.9,2334.6 1415.6,2345.9 1416.3,2352.7 1417.0,2345.6 1417.7,2337.5 1418.4,2332.3 1419.1,2326.0 1419.7,2324.4 1420.3,2324.8 1420.9,2323.4 1421.5,2326.8 1422.1,2324.2 1422.7,2324.8 1423.3,2327.2 1423.9,2324.7 1424.5,2323.0 1425.1,2323.8 1425.7,2324.5 1426.3,2327.3 1426.9,2324.3 1427.6,2322.7 1428.2,2323.1 1428.8,2322.7 1429.4,2319.0 1430.0,2320.8 1430.6,2319.1 1431.2,2317.5 1431.8,2312.8 1432.4,2315.2 1433.0,2316.5 1433.6,2314.2 1434.2,2317.3 1434.8,2314.2 1435.4,2312.6 1436.0,2314.5 1436.6,2313.9 1437.2,2314.4 1437.8,2312.8 1438.4,2314.6 1439.1,2312.1 1439.7,2312.8 1440.3,2310.9 1441.0,2311.4 1441.6,2312.5 1442.2,2311.3 1442.9,2311.4 1443.5,2311.6 1444.1,2312.1 1444.7,2312.7 1445.4,2312.5 1446.0,2312.7 1446.6,2311.5 1447.3,2310.4 1447.9,2308.9 1448.5,2310.4 1449.1,2310.1 1449.7,2308.9 1450.3,2313.7 1450.9,2309.3 1451.5,2312.4 1452.2,2312.8 1452.8,2312.0 1453.4,2315.9 1454.0,2312.7 1454.6,2311.9 1455.2,2316.0 1455.8,2313.5 1456.4,2313.5 1457.0,2314.8 1457.6,2316.1 1458.2,2317.8 1458.8,2319.0 1459.4,2317.4 1460.0,2320.6 1460.6,2323.9 1461.3,2326.1 1462.0,2332.9 1462.6,2340.0 1463.2,2335.2 1463.8,2327.2 1464.5,2321.2 1465.1,2315.6 1465.7,2307.6 1466.3,2296.6 1466.9,2281.8 1467.5,2271.1 1468.1,2261.5 1468.7,2250.4 1469.3,2252.6 1469.9,2251.9 1470.5,2253.8 1471.1,2251.9 1471.7,2250.6 1472.3,2251.6 1472.9,2248.4 1473.5,2247.4 1474.1,2248.8 1474.7,2249.6 1475.4,2245.8 1476.0,2248.6 1476.6,2248.1 1477.2,2245.9 1477.8,2246.3 1478.5,2245.2 1479.1,2245.2 1479.7,2245.7 1480.3,2243.1 1480.9,2245.1 1481.6,2244.4 1482.2,2244.0 1482.8,2239.7 1483.4,2238.8 1484.0,2241.1 1484.7,2238.3 1485.3,2237.1 1485.9,2235.9 1486.5,2234.1 1487.1,2234.4 1487.8,2232.7 1488.4,2231.7 1489.0,2232.1 1489.6,2228.8 1490.3,2230.8 1490.9,2225.3 1491.5,2227.5 1492.2,2218.4 1492.9,2216.9 1493.6,2213.3 1494.2,2208.1 1494.9,2205.0 1495.5,2193.4 1496.2,2180.7 1496.8,2173.0 1497.5,2163.6 1498.1,2150.9 1498.7,2151.9 1499.3,2155.8 1499.9,2159.6 1500.5,2162.1 1501.2,2165.7 1501.8,2167.5 1502.4,2169.9 1503.0,2169.1 1503.6,2175.6 1504.2,2173.7 1504.8,2175.7 1505.5,2175.0 1506.1,2176.2 1506.7,2177.4 1507.3,2180.4 1507.9,2181.2 1508.6,2181.0 1509.2,2183.7 1509.8,2181.5 1510.4,2183.6 1511.0,2183.3 1511.6,2186.4 1512.2,2185.5 1512.9,2187.6 1513.5,2189.4 1514.1,2185.2 1514.7,2191.6 1515.3,2189.9 1515.9,2189.9 1516.5,2188.6 1517.1,2191.5 1517.7,2189.0 1518.3,2192.4 1518.9,2192.2 1519.6,2195.0 1520.2,2192.3 1520.8,2194.3 1521.4,2194.6 1522.0,2195.9 1522.7,2193.0 1523.3,2194.5 1523.9,2191.6 1524.5,2192.3 1525.2,2193.6 1525.8,2193.5 1526.4,2191.4 1527.0,2192.0 1527.6,2193.0 1528.3,2191.0 1528.9,2191.0 1529.5,2189.5 1530.1,2192.1 1530.7,2192.1 1531.4,2189.6 1532.0,2188.7 1532.6,2190.6 1533.2,2188.6 1533.8,2186.2 1534.4,2184.5 1535.0,2184.7 1535.6,2187.6 1536.2,2183.1 1536.8,2186.9 1537.5,2182.3 1538.1,2181.2 1538.7,2182.4 1539.3,2179.5 1539.9,2179.0 1540.6,2175.8 1541.3,2174.2 1542.0,2173.5 1542.6,2173.4 1543.3,2170.9 1543.9,2172.4 1544.6,2178.9 1545.2,2181.2 1545.9,2184.3 1546.5,2187.1 1547.2,2202.6 1547.9,2225.3 1548.6,2240.2 1549.3,2259.2 1550.0,2260.5 1550.6,2260.3 1551.2,2259.2 1551.8,2259.1 1552.5,2259.7 1553.1,2260.6 1553.7,2260.4 1554.3,2259.1 1554.9,2260.5 1555.6,2260.6 1556.2,2261.1 1556.8,2260.6 1557.4,2262.3 1558.0,2262.0 1558.6,2264.1 1559.2,2264.2 1559.8,2264.6 1560.4,2265.3 1561.0,2267.6 1561.6,2269.7 1562.3,2271.9 1562.9,2271.3 1563.5,2271.9 1564.1,2273.6 1564.7,2277.6 1565.3,2277.6 1565.9,2278.4 1566.5,2281.7 1567.1,2280.5 1567.7,2284.1 1568.3,2285.5 1568.9,2287.0 1569.5,2287.2 1570.2,2293.4 1570.9,2297.7 1571.5,2297.1 1572.2,2302.4 1572.9,2306.4 1573.5,2311.9 1574.2,2310.4 1574.8,2311.7 1575.4,2315.0 1576.0,2319.7 1576.7,2329.2 1577.4,2341.5 1578.1,2355.6 1578.7,2348.1 1579.4,2345.7 1580.1,2347.4 1580.8,2344.9 1581.4,2339.7 1582.1,2339.9 1582.7,2338.6 1583.3,2338.2 1583.9,2336.3 1584.5,2336.1 1585.1,2335.0 1585.7,2335.6 1586.3,2334.6 1586.9,2336.6 1587.5,2334.6 1588.1,2331.0 1588.8,2332.5 1589.4,2332.6 1590.0,2329.9 1590.6,2329.7 1591.2,2327.0 1591.8,2326.8 1592.4,2323.4 1593.0,2324.5 1593.6,2320.4 1594.2,2322.7 1594.8,2318.7 1595.4,2317.6 1596.1,2320.8 1596.7,2319.5 1597.3,2319.6 1597.9,2319.7 1598.5,2318.8 1599.2,2317.4 1599.8,2318.5 1600.4,2318.4 1601.0,2318.3 1601.6,2319.9 1602.3,2316.0 1602.9,2317.2 1603.5,2318.0 1604.1,2316.8 1604.7,2316.0 1605.4,2317.0 1606.0,2319.3 1606.6,2317.7 1607.2,2319.0 1607.8,2317.4 1608.5,2319.1 1609.1,2317.8 1609.7,2317.7 1610.3,2319.1 1610.9,2319.7 1611.5,2322.2 1612.1,2318.6 1612.7,2322.1 1613.4,2324.2 1614.0,2324.4 1614.6,2322.7 1615.2,2322.9 1615.8,2323.8 1616.4,2325.4 1617.1,2326.0 1617.7,2326.9 1618.4,2327.9 1619.1,2326.3 1619.7,2326.9 1620.4,2327.4 1621.1,2329.3 1621.8,2333.0 1622.4,2335.5 1623.1,2340.5 1623.8,2339.9 1624.4,2341.2 1625.1,2333.7 1625.8,2321.4 1626.5,2313.4 1627.1,2294.1 1627.8,2273.7 1628.5,2253.0 1629.2,2251.3 1629.8,2249.5 1630.5,2250.2 1631.2,2249.0 1631.8,2250.0 1632.5,2248.2 1633.1,2248.8 1633.7,2245.5 1634.3,2248.5 1634.9,2245.7 1635.5,2244.3 1636.1,2244.2 1636.7,2244.8 1637.4,2246.7 1638.0,2245.7 1638.6,2242.8 1639.2,2243.7 1639.8,2242.6 1640.4,2239.9 1641.0,2239.8 1641.6,2237.6 1642.2,2238.4 1642.8,2235.2 1643.4,2236.9 1644.0,2235.9 1644.6,2235.3 1645.2,2234.0 1645.8,2235.4 1646.4,2232.2 1647.0,2231.8 1647.6,2231.3 1648.2,2230.3 1648.8,2228.8 1649.5,2225.9 1650.1,2224.0 1650.7,2223.2 1651.3,2219.6 1652.0,2216.2 1652.7,2212.0 1653.3,2209.5 1654.0,2203.9 1654.7,2202.4 1655.3,2193.3 1656.0,2183.2 1656.6,2177.0 1657.3,2163.9 1657.9,2161.5 1658.5,2161.0 1659.1,2161.7 1659.7,2159.7 1660.3,2166.1 1660.9,2163.1 1661.5,2164.0 1662.2,2166.5 1662.8,2165.5 1663.4,2165.2 1664.0,2167.8 1664.6,2166.2 1665.2,2169.1 1665.8,2168.9 1666.4,2170.9 1667.0,2168.4 1667.6,2172.2 1668.2,2171.6 1668.8,2174.4 1669.4,2171.9 1670.0,2176.3 1670.6,2175.8 1671.2,2176.9 1671.8,2175.9 1672.4,2178.6 1673.0,2179.7 1673.6,2178.8 1674.3,2179.3 1674.9,2180.8 1675.5,2184.0 1676.1,2182.5 1676.7,2183.7 1677.3,2183.1 1677.9,2183.0 1678.5,2183.4 1679.1,2182.7 1679.7,2185.1 1680.3,2183.9 1680.9,2184.2 1681.5,2181.6 1682.1,2183.5 1682.7,2181.8 1683.3,2181.6 1683.9,2183.3 1684.5,2180.0 1685.1,2180.8 1685.7,2181.5 1686.4,2181.8 1687.0,2179.2 1687.6,2181.0 1688.3,2181.6 1689.0,2180.4 1689.6,2179.7 1690.3,2180.7 1691.0,2184.7 1691.6,2183.4 1692.2,2180.9 1692.8,2181.2 1693.4,2180.9 1694.0,2180.4 1694.6,2180.2 1695.2,2182.6 1695.8,2178.0 1696.4,2178.6 1697.0,2176.8 1697.7,2176.7 1698.4,2176.0 1699.1,2176.5 1699.7,2175.8 1700.4,2176.6 1701.1,2176.1 1701.7,2175.3 1702.4,2179.7 1703.1,2176.3 1703.8,2179.0 1704.4,2182.1 1705.1,2178.9 1705.8,2191.0 1706.4,2200.6 1707.1,2208.5 1707.8,2221.8 1708.5,2242.2 1709.1,2256.6 1709.7,2256.2 1710.3,2259.0 1711.0,2256.7 1711.6,2259.5 1712.2,2257.8 1712.8,2259.6 1713.4,2257.9 1714.0,2259.2 1714.6,2258.9 1715.2,2259.6 1715.8,2261.2 1716.4,2261.1 1717.0,2262.0 1717.6,2263.8 1718.2,2262.4 1718.8,2260.5 1719.4,2263.0 1720.0,2263.8 1720.6,2265.5 1721.2,2265.9 1721.8,2266.6 1722.4,2265.9 1723.1,2267.8 1723.7,2265.9 1724.3,2270.3 1724.9,2270.0 1725.5,2270.9 1726.1,2270.5 1726.7,2271.9 1727.3,2271.7 1727.9,2275.4 1728.5,2274.9 1729.1,2280.0 1729.7,2281.4 1730.3,2285.4 1730.9,2284.7 1731.5,2286.6 1732.1,2289.0 1732.7,2290.8 1733.3,2292.6 1734.0,2295.3 1734.7,2299.4 1735.4,2304.1 1736.0,2308.5 1736.7,2311.4 1737.4,2315.4 1738.0,2327.4 1738.7,2339.5 1739.4,2349.0 1740.1,2348.1 1740.7,2346.5 1741.4,2344.2 1742.1,2340.6 1742.7,2338.6 1743.4,2334.7 1744.0,2336.2 1744.7,2337.8 1745.3,2335.7 1745.9,2338.9 1746.5,2339.0 1747.1,2336.7 1747.8,2338.4 1748.4,2335.3 1749.0,2335.8 1749.6,2336.7 1750.2,2337.2 1750.9,2336.9 1751.5,2336.0 1752.1,2339.3 1752.7,2336.6 1753.3,2336.1 1754.0,2336.2 1754.6,2335.1 1755.2,2334.0 1755.8,2333.1 1756.4,2331.2 1757.1,2334.9 1757.7,2331.3 1758.3,2329.8 1758.9,2330.5 1759.6,2329.0 1760.2,2333.6 1760.8,2331.3 1761.4,2332.5 1762.0,2332.4 1762.7,2331.1 1763.3,2330.9 1763.9,2329.1 1764.5,2329.7 1765.1,2328.9 1765.8,2329.6 1766.4,2328.5 1767.0,2330.9 1767.6,2330.1 1768.2,2328.9 1768.9,2326.9 1769.5,2330.0 1770.1,2330.3 1770.7,2329.0 1771.3,2327.4 1772.0,2329.7 1772.6,2330.5 1773.2,2326.5 1773.8,2329.8 1774.4,2326.7 1775.1,2329.2 1775.7,2331.4 1776.4,2330.2 1777.0,2331.7 1777.7,2331.7 1778.4,2333.1 1779.0,2337.2 1779.7,2336.9 1780.4,2335.4 1781.1,2336.0 1781.7,2337.2 1782.4,2340.7 1783.1,2338.8 1783.7,2340.6 1784.4,2333.0 1785.1,2326.0 1785.8,2323.8 1786.4,2316.2 1787.1,2309.6 1787.8,2304.0 1788.4,2292.7 1789.1,2281.5 1789.7,2269.0 1790.4,2261.3 1791.0,2248.9 1791.6,2249.5 1792.2,2247.5 1792.8,2248.1 1793.4,2247.6 1794.0,2248.7 1794.6,2248.0 1795.2,2247.1 1795.8,2245.5 1796.5,2244.3 1797.1,2244.4 1797.7,2244.2 1798.3,2243.8 1799.0,2242.4 1799.6,2245.8 1800.2,2243.5 1800.8,2240.0 1801.4,2240.8 1802.1,2240.0 1802.7,2241.6 1803.3,2242.2 1803.9,2239.0 1804.5,2240.6 1805.1,2238.8 1805.7,2240.1 1806.3,2239.7 1806.9,2237.7 1807.5,2237.7 1808.1,2236.1 1808.8,2235.0 1809.4,2233.4 1810.0,2234.7 1810.6,2231.9 1811.3,2229.1 1812.0,2227.1 1812.7,2224.6 1813.3,2221.2 1814.0,2219.5 1814.7,2217.7 1815.3,2211.8 1816.0,2209.9 1816.7,2202.5 1817.4,2198.2 1818.0,2196.2 1818.7,2187.4 1819.4,2176.0 1820.1,2168.1 1820.9,2158.9 1821.5,2160.4 1822.2,2160.1 1822.8,2161.4 1823.5,2160.5 1824.1,2164.0 1824.8,2165.6 1825.4,2168.4 1826.1,2166.1 1826.7,2166.8 1827.3,2166.8 1827.9,2169.5 1828.5,2165.2 1829.1,2167.3 1829.7,2171.7 1830.3,2170.0 1830.9,2167.6 1831.5,2169.5 1832.1,2170.9 1832.7,2170.9 1833.4,2170.3 1834.0,2169.9 1834.6,2172.5 1835.2,2171.8 1835.8,2173.3 1836.4,2173.1 1837.0,2172.4 1837.6,2175.3 1838.2,2173.2 1838.8,2174.6 1839.4,2173.4 1840.0,2174.1 1840.6,2174.3 1841.2,2173.9 1841.8,2175.3 1842.4,2176.9 1843.0,2177.9 1843.6,2177.5 1844.2,2175.6 1844.9,2177.9 1845.5,2176.7 1846.1,2178.6 1846.7,2174.8 1847.3,2178.5 1848.0,2176.0 1848.6,2178.4 1849.2,2176.5 1849.8,2178.4 1850.4,2177.0 1851.1,2175.1 1851.7,2176.4 1852.3,2177.5 1852.9,2177.5 1853.5,2174.1 1854.1,2175.1 1854.7,2175.3 1855.3,2175.5 1855.9,2175.7 1856.5,2173.9 1857.1,2172.6 1857.8,2174.6 1858.4,2173.4 1859.0,2173.6 1859.7,2170.4 1860.4,2170.6 1861.0,2167.3 1861.7,2167.4 1862.4,2165.9 1863.1,2167.3 1863.7,2166.5 1864.4,2168.6 1865.1,2168.7 1865.8,2170.6 1866.4,2172.6 1867.1,2183.8 1867.8,2188.0 1868.4,2196.9 1869.1,2208.2 1869.7,2221.7 1870.4,2232.9 1871.0,2245.8 1871.7,2257.0 1872.3,2260.0 1872.9,2259.0 1873.5,2255.4 1874.2,2258.3 1874.8,2258.4 1875.4,2255.8 1876.0,2257.9 1876.7,2258.8 1877.3,2258.8 1877.9,2260.3 1878.5,2258.2 1879.1,2261.9 1879.7,2262.3 1880.3,2262.2 1880.9,2261.7 1881.5,2262.5 1882.2,2262.3 1882.8,2264.8 1883.4,2264.4 1884.0,2266.8 1884.6,2264.1 1885.2,2267.3 1885.8,2265.4 1886.4,2266.8 1887.0,2266.4 1887.6,2269.3 1888.2,2269.3 1888.8,2271.0 1889.4,2273.0 1890.0,2271.7 1890.6,2273.1 1891.3,2277.2 1892.0,2279.3 1892.6,2282.0 1893.3,2286.5 1894.0,2290.1 1894.7,2293.8 1895.3,2299.3 1896.0,2302.7 1896.7,2309.5 1897.3,2315.9 1898.0,2319.1 1898.7,2325.5 1899.4,2331.3 1900.1,2339.4 1900.8,2348.5 1901.5,2353.5 1902.2,2351.5 1902.8,2352.7 1903.5,2352.1 1904.1,2352.7 1904.8,2349.0 1905.4,2349.1 1906.1,2349.7 1906.8,2347.2 1907.4,2350.3 1908.0,2345.8 1908.6,2347.0 1909.2,2345.7 1909.8,2346.4 1910.4,2347.9 1911.0,2347.2 1911.6,2347.2 1912.2,2346.4 1912.8,2342.6 1913.4,2345.2 1914.0,2342.0 1914.6,2343.4 1915.2,2343.1 1915.8,2342.5 1916.4,2343.4 1917.0,2341.3 1917.6,2344.3 1918.2,2342.4 1918.9,2342.7"/><g fill="#000" shape-rendering="crispEdges"><rect x="242" y="2077" width="1745" height="5"/><rect x="242" y="2429" width="1745" height="5"/><rect x="242" y="2077" width="5" height="357"/><rect x="1981" y="2077" width="6" height="357"/><rect x="247" y="2077.0" width="21" height="5"/><rect x="247" y="2165.0" width="21" height="5"/><rect x="247" y="2253.0" width="21" height="5"/><rect x="247" y="2341.0" width="21" height="5"/><rect x="247" y="2429.0" width="21" height="5"/><rect x="247" y="2121.0" width="9" height="5"/><rect x="247" y="2209.0" width="9" height="5"/><rect x="247" y="2297.0" width="9" height="5"/><rect x="247" y="2385.0" width="9" height="5"/><rect x="306" y="2408" width="5" height="21"/><rect x="628" y="2408" width="5" height="21"/><rect x="950" y="2408" width="5" height="21"/><rect x="1273" y="2408" width="5" height="21"/><rect x="1595" y="2408" width="5" height="21"/><rect x="1917" y="2408" width="5" height="21"/><rect x="467" y="2420" width="5" height="9"/><rect x="789" y="2420" width="5" height="9"/><rect x="1112" y="2420" width="5" height="9"/><rect x="1434" y="2420" width="5" height="9"/><rect x="1756" y="2420" width="5" height="9"/></g><text x="219.3" y="2099.6" class="t n" text-anchor="end">20</text><text x="219.3" y="2187.6" class="t n" text-anchor="end">10</text><text x="219.3" y="2275.6" class="t n" text-anchor="end">0</text><text x="219.3" y="2363.6" class="t n" text-anchor="end">-10</text><text x="219.3" y="2451.6" class="t n" text-anchor="end">-20</text><text transform="translate(95,2258.4) rotate(-90)" class="t" text-anchor="middle" textLength="376" lengthAdjust="spacingAndGlyphs">Amplitude(A)</text><polyline fill="none" stroke="#ff00ff" stroke-width="5.2" stroke-linejoin="round" stroke-linecap="round" points="308.2,2728.8 309.0,2706.8 309.7,2705.1 310.3,2707.2 311.0,2702.7 311.7,2704.2 312.3,2703.1 313.0,2702.3 313.6,2702.5 314.3,2700.6 314.9,2702.5 315.5,2702.2 316.1,2701.1 316.7,2701.7 317.3,2699.2 317.9,2698.0 318.5,2699.4 319.1,2699.7 319.7,2703.0 320.3,2699.3 320.9,2700.3 321.5,2699.5 322.1,2700.5 322.7,2697.3 323.4,2697.4 324.0,2695.7 324.6,2694.2 325.2,2693.4 325.8,2693.1 326.4,2695.4 327.1,2693.4 327.8,2692.3 328.5,2692.0 329.2,2690.8 329.8,2696.0 330.4,2700.5 331.0,2706.0 331.6,2710.8 332.3,2712.9 333.0,2720.7 333.6,2727.6 334.3,2718.4 335.1,2713.4 335.8,2707.9 336.5,2703.0 337.1,2700.4 337.8,2697.3 338.5,2696.2 339.2,2694.9 339.8,2692.0 340.5,2691.9 341.2,2691.4 341.8,2690.8 342.5,2692.5 343.2,2694.7 343.9,2696.0 344.5,2698.4 345.2,2696.0 345.9,2695.8 346.5,2692.6 347.2,2691.4 347.9,2686.5 348.6,2684.9 349.2,2684.7 349.9,2682.2 350.6,2681.2 351.2,2679.1 351.9,2676.3 352.6,2677.6 353.3,2675.5 353.9,2670.7 354.6,2670.6 355.3,2670.0 356.0,2669.6 356.6,2667.2 357.3,2663.9 358.0,2665.0 358.6,2662.0 359.3,2662.2 360.0,2659.3 360.7,2658.5 361.3,2653.0 362.0,2647.6 362.7,2640.5 363.3,2637.1 364.0,2630.6 364.7,2623.4 365.3,2633.3 366.0,2642.3 366.6,2652.2 367.3,2661.4 367.9,2667.9 368.6,2668.3 369.3,2665.2 370.0,2661.9 370.7,2662.4 371.4,2658.9 372.1,2657.0 372.8,2658.2 373.4,2657.1 374.1,2653.7 374.8,2654.6 375.4,2658.6 376.1,2660.6 376.8,2667.9 377.4,2665.0 378.0,2665.2 378.6,2661.6 379.2,2665.3 379.8,2663.5 380.4,2664.7 381.0,2661.7 381.6,2665.2 382.2,2665.4 382.8,2665.8 383.5,2659.6 384.1,2664.4 384.7,2664.2 385.3,2660.0 385.9,2663.1 386.6,2664.1 387.2,2666.2 387.8,2663.5 388.4,2665.0 389.0,2664.8 389.7,2665.5 390.3,2664.7 390.9,2666.5 391.5,2666.6 392.1,2663.6 392.7,2666.8 393.3,2664.4 393.9,2665.0 394.5,2666.8 395.1,2665.5 395.7,2666.1 396.4,2666.4 397.0,2666.1 397.6,2666.0 398.3,2666.8 399.0,2670.3 399.6,2671.7 400.3,2672.5 401.0,2673.2 401.6,2674.9 402.2,2674.2 402.8,2672.8 403.4,2675.4 404.0,2676.1 404.6,2676.8 405.2,2675.1 405.8,2675.7 406.4,2677.5 407.0,2676.9 407.7,2676.0 408.4,2676.0 409.1,2673.9 409.7,2674.4 410.4,2671.1 411.1,2671.6 411.7,2668.8 412.4,2668.7 413.1,2663.4 413.8,2661.2 414.4,2661.0 415.1,2656.6 415.8,2657.0 416.4,2658.3 417.1,2658.8 417.8,2656.8 418.5,2659.3 419.1,2658.9 419.8,2662.7 420.5,2666.3 421.2,2669.2 421.8,2672.2 422.5,2672.7 423.2,2673.2 423.8,2674.9 424.5,2677.5 425.2,2678.5 425.8,2679.9 426.4,2678.9 427.0,2680.1 427.6,2683.3 428.2,2681.5 428.8,2684.5 429.4,2684.2 430.0,2683.4 430.6,2683.0 431.2,2686.4 431.8,2685.7 432.4,2686.7 433.1,2686.4 433.7,2691.1 434.3,2690.8 434.9,2691.7 435.5,2693.2 436.1,2694.0 436.7,2694.8 437.3,2696.3 438.0,2697.0 438.6,2695.7 439.3,2701.7 440.0,2702.9 440.6,2704.1 441.3,2707.8 442.0,2709.3 442.7,2712.8 443.3,2723.8 444.0,2732.0 444.7,2738.9 445.5,2750.1 446.2,2761.0 446.8,2746.0 447.4,2735.7 448.0,2725.1 448.6,2711.6 449.3,2707.7 450.0,2706.2 450.7,2702.5 451.4,2701.9 452.1,2705.3 452.8,2708.5 453.5,2712.1 454.2,2720.3 454.9,2714.7 455.5,2710.1 456.2,2707.6 456.8,2706.9 457.5,2703.8 458.1,2701.1 458.7,2702.3 459.3,2703.3 459.9,2701.9 460.6,2701.0 461.2,2701.4 461.8,2702.8 462.4,2702.0 463.0,2701.4 463.7,2703.0 464.3,2704.6 464.9,2704.5 465.5,2703.4 466.1,2706.4 466.8,2703.0 467.4,2704.1 468.0,2702.6 468.6,2705.5 469.2,2704.5 469.9,2702.6 470.5,2703.9 471.1,2707.4 471.7,2706.2 472.3,2705.6 473.0,2706.7 473.6,2703.7 474.2,2704.4 474.8,2703.4 475.4,2703.7 476.1,2704.0 476.7,2704.9 477.3,2705.2 477.9,2704.8 478.5,2706.7 479.2,2702.3 479.8,2702.6 480.4,2703.0 481.0,2701.0 481.6,2701.3 482.3,2701.8 482.9,2699.8 483.5,2701.1 484.1,2701.7 484.7,2698.3 485.3,2696.3 485.9,2699.0 486.5,2697.1 487.1,2698.3 487.7,2697.1 488.4,2698.1 489.0,2699.1 489.7,2698.7 490.4,2697.2 491.1,2696.2 491.7,2694.5 492.4,2701.6 493.1,2710.1 493.7,2718.0 494.4,2717.6 495.1,2718.4 495.8,2717.8 496.4,2718.4 497.1,2718.9 497.8,2722.6 498.4,2715.2 499.1,2714.6 499.7,2708.6 500.4,2706.4 501.0,2702.0 501.7,2700.6 502.4,2699.1 503.1,2694.6 503.8,2692.3 504.5,2691.7 505.2,2689.9 505.8,2690.4 506.5,2688.0 507.2,2686.8 507.9,2686.0 508.5,2684.1 509.1,2685.3 509.7,2680.7 510.3,2682.5 510.9,2682.1 511.5,2679.6 512.1,2678.9 512.7,2680.2 513.3,2677.8 513.9,2674.9 514.5,2674.6 515.1,2676.7 515.7,2673.2 516.3,2675.1 516.9,2674.1 517.5,2671.1 518.1,2671.0 518.8,2668.3 519.4,2667.8 520.0,2666.4 520.6,2665.7 521.3,2660.9 522.0,2660.1 522.7,2658.0 523.3,2656.2 524.0,2650.4 524.7,2642.8 525.4,2635.9 526.1,2628.7 526.8,2621.1 527.5,2631.7 528.1,2644.5 528.8,2653.2 529.4,2663.6 530.0,2672.7 530.7,2670.3 531.3,2666.2 532.0,2662.1 532.6,2657.1 533.3,2654.0 534.0,2657.7 534.7,2657.2 535.4,2657.9 536.1,2664.3 536.7,2664.2 537.3,2663.0 537.9,2662.7 538.5,2666.8 539.1,2662.7 539.7,2661.7 540.3,2662.6 540.9,2663.9 541.5,2662.5 542.1,2662.7 542.8,2663.6 543.4,2662.7 544.0,2663.4 544.6,2663.2 545.2,2661.9 545.9,2663.3 546.5,2661.8 547.1,2664.5 547.7,2662.0 548.3,2662.9 549.0,2660.9 549.6,2662.7 550.2,2661.6 550.8,2665.2 551.4,2663.1 552.0,2663.9 552.6,2661.0 553.2,2661.6 553.8,2663.0 554.4,2661.5 555.1,2664.7 555.7,2662.7 556.3,2663.4 556.9,2665.0 557.5,2665.9 558.1,2668.5 558.7,2668.0 559.3,2670.8 559.9,2673.3 560.5,2673.4 561.1,2674.7 561.7,2675.5 562.3,2677.4 562.9,2678.2 563.5,2677.0 564.1,2675.2 564.7,2677.6 565.3,2677.2 565.9,2678.0 566.5,2677.4 567.1,2679.4 567.8,2675.8 568.4,2676.1 569.0,2676.8 569.7,2673.3 570.4,2673.7 571.0,2672.0 571.7,2668.1 572.4,2670.1 573.1,2668.4 573.7,2664.2 574.4,2659.4 575.1,2659.5 575.8,2654.5 576.4,2653.0 577.1,2652.3 577.8,2649.5 578.4,2647.0 579.1,2647.6 579.8,2646.4 580.5,2644.0 581.1,2649.5 581.8,2656.8 582.5,2661.1 583.1,2664.0 583.8,2667.2 584.5,2671.5 585.2,2674.8 585.8,2677.8 586.5,2679.6 587.1,2682.1 587.7,2683.0 588.3,2685.1 588.9,2687.7 589.5,2688.6 590.1,2689.5 590.7,2690.0 591.3,2690.6 592.0,2692.7 592.6,2692.9 593.2,2694.3 593.8,2694.8 594.4,2697.0 595.0,2698.2 595.6,2701.9 596.2,2701.4 596.8,2701.5 597.4,2704.1 598.0,2703.8 598.6,2706.9 599.3,2708.6 600.0,2713.3 600.6,2710.3 601.3,2713.5 602.0,2715.5 602.6,2718.0 603.3,2722.6 603.9,2724.5 604.6,2728.9 605.2,2734.2 605.9,2739.1 606.7,2747.5 607.5,2758.1 608.1,2747.8 608.7,2733.9 609.3,2720.6 609.9,2704.3 610.6,2710.4 611.3,2715.9 612.0,2721.3 612.7,2725.6 613.4,2722.3 614.1,2720.3 614.7,2715.1 615.4,2711.6 616.1,2708.4 616.8,2704.9 617.4,2705.3 618.0,2704.5 618.6,2703.8 619.2,2705.7 619.8,2703.9 620.4,2702.7 621.0,2704.3 621.6,2701.7 622.2,2701.9 622.8,2701.4 623.4,2701.1 624.0,2701.7 624.7,2702.6 625.3,2701.0 625.9,2702.6 626.5,2703.7 627.1,2704.1 627.8,2704.4 628.4,2707.3 629.0,2705.5 629.6,2704.8 630.3,2705.1 630.9,2705.6 631.5,2706.0 632.1,2704.9 632.7,2707.0 633.4,2703.6 634.0,2705.6 634.6,2705.3 635.2,2703.1 635.8,2705.1 636.5,2704.9 637.1,2703.2 637.7,2706.7 638.3,2704.6 638.9,2703.1 639.6,2702.7 640.2,2702.0 640.8,2702.9 641.4,2702.4 642.0,2700.3 642.7,2700.4 643.3,2700.5 643.9,2700.6 644.5,2700.3 645.1,2699.6 645.8,2700.9 646.4,2701.0 647.0,2699.6 647.6,2696.8 648.2,2699.3 648.8,2700.2 649.4,2699.4 650.0,2699.9 650.6,2699.6 651.2,2697.7 651.8,2696.4 652.5,2707.9 653.1,2714.2 653.8,2723.0 654.4,2729.8 655.1,2737.6 655.7,2736.8 656.4,2731.0 657.1,2729.8 657.8,2725.7 658.4,2724.5 659.1,2722.3 659.8,2718.5 660.4,2713.8 661.1,2707.9 661.8,2705.9 662.5,2702.6 663.1,2698.7 663.7,2699.1 664.3,2696.2 664.9,2693.2 665.6,2692.8 666.2,2692.6 666.8,2692.7 667.4,2689.0 668.0,2690.6 668.6,2689.2 669.2,2686.3 669.8,2687.4 670.4,2684.9 671.0,2685.1 671.7,2683.9 672.3,2683.8 672.9,2681.3 673.5,2682.6 674.1,2678.5 674.8,2679.9 675.4,2679.0 676.0,2680.8 676.6,2678.8 677.3,2676.7 677.9,2674.6 678.5,2674.2 679.1,2671.7 679.7,2673.6 680.3,2665.8 680.9,2667.7 681.5,2663.0 682.1,2665.7 682.7,2661.8 683.3,2663.2 683.9,2654.7 684.5,2650.9 685.1,2644.1 685.7,2639.5 686.3,2632.2 686.9,2622.8 687.5,2619.7 688.1,2612.9 688.8,2626.9 689.4,2637.3 690.1,2647.5 690.7,2658.9 691.4,2669.5 692.0,2661.8 692.7,2658.2 693.4,2649.4 694.1,2642.1 694.7,2633.9 695.4,2628.2 696.1,2635.0 696.7,2640.8 697.4,2646.5 698.1,2653.1 698.8,2657.8 699.4,2665.2 700.1,2663.5 700.7,2664.5 701.3,2664.8 701.9,2666.9 702.5,2666.6 703.2,2666.3 703.8,2664.9 704.4,2666.0 705.0,2667.6 705.6,2668.3 706.3,2665.1 706.9,2666.6 707.5,2667.4 708.1,2667.9 708.7,2667.7 709.3,2668.7 709.9,2666.3 710.5,2670.2 711.1,2667.1 711.7,2668.7 712.3,2669.5 712.9,2670.5 713.5,2670.4 714.2,2670.1 714.8,2670.3 715.5,2668.2 716.1,2669.1 716.8,2669.7 717.4,2666.6 718.1,2665.5 718.7,2666.2 719.3,2669.3 719.9,2669.3 720.5,2667.4 721.2,2668.3 721.8,2668.8 722.4,2669.7 723.0,2666.2 723.7,2668.0 724.3,2668.5 724.9,2669.4 725.5,2669.2 726.1,2668.9 726.8,2670.3 727.5,2667.4 728.1,2675.1 728.8,2673.0 729.5,2673.7 730.2,2672.5 730.8,2661.7 731.5,2651.7 732.2,2639.3 732.8,2637.1 733.4,2635.4 734.0,2637.0 734.7,2636.4 735.3,2637.8 735.9,2635.1 736.5,2636.4 737.1,2636.9 737.8,2635.9 738.4,2637.7 739.0,2634.9 739.6,2634.8 740.2,2635.8 740.9,2642.9 741.6,2647.1 742.3,2652.4 742.9,2663.6 743.6,2672.3 744.3,2680.7 744.9,2682.0 745.5,2681.9 746.1,2683.4 746.7,2683.2 747.3,2682.4 747.9,2683.2 748.5,2683.7 749.1,2685.1 749.7,2685.5 750.3,2684.4 751.0,2686.9 751.7,2689.2 752.3,2691.8 753.0,2692.5 753.7,2696.3 754.4,2695.5 755.0,2697.4 755.6,2697.1 756.2,2697.3 756.8,2699.7 757.4,2701.2 758.0,2702.0 758.6,2702.7 759.2,2703.2 759.8,2703.6 760.4,2705.2 761.1,2709.5 761.8,2713.5 762.4,2711.6 763.1,2719.8 763.8,2723.7 764.4,2727.3 765.1,2732.6 765.8,2739.4 766.5,2744.4 767.1,2751.2 767.8,2758.3 768.5,2762.7 769.2,2749.5 769.9,2737.1 770.6,2721.6 771.3,2709.7 771.9,2715.0 772.6,2724.4 773.2,2731.4 773.9,2738.0 774.5,2744.7 775.2,2740.6 775.9,2733.7 776.5,2731.3 777.2,2727.2 777.9,2723.9 778.6,2717.1 779.2,2715.5 779.9,2715.4 780.6,2713.8 781.2,2709.0 781.9,2708.9 782.6,2707.1 783.2,2706.2 783.8,2704.4 784.5,2704.4 785.1,2706.3 785.7,2708.5 786.3,2705.4 786.9,2707.5 787.6,2708.0 788.2,2704.0 788.8,2704.8 789.4,2707.5 790.0,2706.8 790.7,2706.3 791.3,2705.6 791.9,2706.4 792.5,2704.8 793.1,2708.7 793.8,2704.2 794.4,2703.4 795.0,2705.8 795.6,2707.4 796.2,2705.0 796.9,2705.5 797.5,2704.3 798.1,2705.5 798.7,2704.3 799.3,2704.0 800.0,2703.1 800.6,2704.0 801.2,2706.7 801.8,2704.0 802.4,2704.0 803.1,2706.2 803.7,2702.3 804.3,2701.6 804.9,2703.1 805.6,2700.6 806.2,2702.3 806.8,2703.0 807.4,2700.2 808.0,2700.9 808.6,2703.7 809.2,2700.2 809.8,2700.7 810.4,2701.9 811.0,2701.2 811.6,2700.5 812.2,2703.6 812.8,2700.8 813.5,2719.4 814.2,2736.0 814.9,2753.7 815.5,2749.6 816.2,2749.8 816.9,2745.4 817.5,2744.8 818.2,2739.1 818.9,2737.3 819.5,2740.1 820.2,2741.2 820.8,2741.9 821.5,2744.1 822.1,2744.3 822.8,2731.9 823.5,2714.4 824.2,2703.8 824.9,2691.2 825.5,2690.0 826.2,2689.3 826.8,2687.1 827.4,2687.7 828.0,2685.9 828.6,2685.7 829.2,2685.1 829.8,2680.4 830.4,2685.2 831.0,2684.0 831.6,2684.0 832.2,2681.3 832.9,2682.9 833.5,2682.2 834.1,2678.3 834.7,2678.4 835.3,2680.2 836.0,2678.9 836.6,2679.2 837.2,2678.0 837.8,2680.2 838.4,2675.4 839.1,2675.7 839.7,2674.1 840.4,2671.6 841.1,2670.6 841.7,2669.3 842.4,2665.6 843.1,2665.7 843.8,2662.9 844.4,2658.6 845.1,2655.7 845.8,2650.6 846.4,2645.1 847.1,2643.3 847.8,2634.7 848.4,2628.9 849.1,2619.0 849.7,2609.4 850.3,2603.3 851.1,2612.1 851.8,2619.6 852.5,2625.7 853.2,2634.3 853.8,2633.6 854.5,2636.2 855.2,2640.3 855.9,2641.1 856.5,2643.2 857.2,2646.9 857.9,2647.2 858.5,2645.5 859.2,2647.4 859.9,2645.7 860.6,2648.5 861.2,2649.6 861.9,2655.0 862.6,2667.2 863.3,2675.8 863.9,2673.3 864.5,2673.3 865.1,2673.4 865.7,2670.6 866.4,2671.5 867.0,2670.1 867.6,2667.1 868.2,2667.3 868.8,2667.1 869.5,2668.5 870.1,2666.7 870.7,2667.1 871.3,2664.7 871.9,2664.0 872.6,2668.5 873.2,2669.6 873.8,2667.0 874.4,2666.6 875.0,2668.6 875.7,2666.1 876.3,2667.5 876.9,2666.3 877.5,2669.0 878.1,2669.0 878.8,2668.5 879.4,2668.5 880.0,2667.7 880.6,2668.9 881.2,2671.8 881.9,2670.1 882.5,2672.5 883.1,2670.1 883.7,2671.4 884.3,2671.2 885.0,2671.8 885.6,2673.4 886.2,2670.2 886.8,2674.0 887.5,2674.2 888.1,2668.0 888.8,2662.7 889.5,2656.9 890.1,2652.7 890.8,2646.5 891.5,2640.0 892.1,2640.5 892.7,2640.7 893.3,2639.1 893.9,2637.9 894.5,2637.3 895.1,2635.6 895.7,2634.9 896.3,2632.3 896.9,2633.6 897.5,2634.3 898.2,2631.0 898.8,2628.9 899.5,2629.6 900.2,2627.2 900.8,2625.6 901.5,2624.5 902.1,2623.3 902.8,2620.9 903.5,2626.9 904.2,2637.2 904.9,2642.2 905.6,2648.2 906.3,2658.8 906.9,2669.5 907.6,2675.6 908.2,2679.8 908.8,2678.8 909.4,2682.3 910.0,2681.4 910.6,2681.3 911.2,2683.8 911.9,2684.6 912.5,2683.4 913.1,2684.9 913.7,2684.8 914.3,2687.8 914.9,2686.1 915.5,2688.9 916.1,2687.6 916.7,2692.2 917.3,2689.9 917.9,2692.6 918.5,2695.5 919.1,2695.9 919.7,2697.0 920.3,2698.4 920.9,2701.0 921.5,2701.4 922.1,2706.0 922.7,2708.6 923.3,2710.6 924.0,2711.6 924.6,2715.2 925.2,2716.3 925.8,2718.9 926.4,2722.2 927.1,2725.8 927.8,2728.9 928.5,2730.6 929.1,2738.7 929.8,2741.8 930.4,2758.5 931.0,2767.7 931.7,2759.1 932.4,2744.8 933.1,2733.8 933.8,2720.7 934.5,2726.2 935.2,2729.8 935.8,2734.9 936.5,2738.1 937.2,2742.5 937.9,2747.5 938.5,2740.5 939.2,2733.7 939.9,2729.3 940.6,2721.6 941.2,2716.2 941.9,2709.3 942.5,2708.6 943.1,2705.5 943.7,2709.9 944.3,2707.4 944.9,2709.6 945.5,2710.7 946.1,2706.6 946.7,2709.1 947.3,2707.7 947.9,2708.2 948.6,2706.0 949.2,2707.4 949.8,2707.4 950.4,2708.8 951.0,2709.5 951.7,2707.1 952.3,2706.1 952.9,2709.1 953.5,2706.1 954.2,2706.0 954.8,2706.1 955.4,2706.4 956.0,2706.5 956.6,2704.9 957.3,2705.5 957.9,2708.0 958.5,2707.6 959.1,2706.2 959.7,2706.0 960.4,2705.3 961.0,2706.9 961.6,2705.0 962.2,2705.8 962.8,2705.1 963.5,2704.9 964.1,2705.7 964.7,2705.5 965.3,2704.7 966.0,2705.2 966.6,2705.2 967.2,2704.4 967.9,2704.1 968.5,2704.6 969.1,2705.5 969.8,2705.9 970.4,2704.6 971.0,2703.9 971.6,2704.1 972.3,2706.4 972.9,2705.0 973.5,2702.6 974.2,2703.6 974.8,2718.4 975.5,2734.1 976.2,2747.9 976.8,2750.4 977.4,2749.1 978.0,2750.5 978.6,2753.5 979.2,2753.3 979.8,2751.3 980.4,2751.5 981.0,2752.1 981.6,2751.3 982.2,2752.8 982.9,2745.0 983.6,2735.3 984.2,2728.8 984.9,2719.0 985.6,2709.7 986.3,2703.8 986.9,2699.8 987.6,2696.3 988.3,2695.8 988.9,2692.5 989.6,2687.3 990.3,2685.9 990.9,2684.3 991.5,2682.5 992.2,2686.0 992.8,2684.9 993.4,2680.8 994.0,2682.4 994.6,2679.1 995.3,2681.8 995.9,2679.8 996.5,2678.9 997.1,2680.2 997.7,2678.0 998.4,2677.1 999.0,2677.7 999.6,2675.4 1000.2,2676.1 1000.8,2674.2 1001.4,2674.4 1002.0,2673.3 1002.6,2672.7 1003.2,2669.7 1003.8,2672.5 1004.4,2669.1 1005.1,2667.5 1005.8,2660.5 1006.4,2656.9 1007.1,2652.9 1007.8,2650.6 1008.4,2644.6 1009.1,2637.0 1009.7,2625.8 1010.4,2618.4 1011.0,2610.6 1011.7,2601.5 1012.4,2612.2 1013.1,2628.0 1013.8,2639.1 1014.5,2655.6 1015.2,2648.6 1015.8,2647.3 1016.5,2640.9 1017.2,2636.3 1017.9,2630.8 1018.5,2626.9 1019.2,2634.0 1019.9,2637.3 1020.5,2647.4 1021.2,2651.1 1021.9,2658.6 1022.6,2661.9 1023.2,2666.1 1023.8,2666.8 1024.4,2666.4 1025.1,2666.7 1025.7,2666.1 1026.3,2667.0 1027.0,2668.6 1027.6,2666.8 1028.2,2668.2 1028.9,2668.7 1029.5,2667.8 1030.1,2668.6 1030.7,2668.9 1031.4,2668.2 1032.0,2672.1 1032.6,2668.8 1033.3,2671.2 1033.9,2670.1 1034.5,2665.9 1035.1,2668.4 1035.7,2669.1 1036.4,2668.5 1037.0,2666.0 1037.6,2667.2 1038.2,2665.0 1038.8,2664.9 1039.5,2665.6 1040.1,2665.9 1040.7,2667.3 1041.3,2666.3 1042.0,2667.7 1042.6,2665.3 1043.2,2665.9 1043.9,2667.2 1044.5,2670.5 1045.1,2667.2 1045.7,2667.3 1046.4,2669.8 1047.0,2671.8 1047.6,2668.8 1048.3,2671.0 1048.9,2670.2 1049.5,2674.2 1050.2,2673.7 1050.8,2673.7 1051.5,2665.2 1052.1,2656.9 1052.8,2649.3 1053.5,2640.3 1054.1,2631.9 1054.8,2623.6 1055.4,2624.4 1056.0,2622.8 1056.6,2624.3 1057.2,2619.9 1057.8,2622.7 1058.5,2622.0 1059.1,2622.3 1059.7,2619.8 1060.3,2617.6 1060.9,2617.8 1061.5,2621.6 1062.2,2621.0 1062.8,2622.0 1063.5,2623.0 1064.1,2624.9 1064.8,2638.8 1065.5,2651.2 1066.2,2666.6 1066.9,2682.7 1067.5,2683.9 1068.2,2682.5 1068.8,2682.6 1069.4,2685.6 1070.0,2684.3 1070.6,2683.7 1071.3,2685.6 1071.9,2687.3 1072.5,2689.0 1073.1,2687.0 1073.7,2688.9 1074.4,2688.5 1075.0,2690.9 1075.6,2691.1 1076.2,2692.3 1076.8,2692.0 1077.5,2694.1 1078.1,2695.3 1078.7,2692.4 1079.3,2699.3 1079.9,2699.4 1080.6,2700.4 1081.2,2701.4 1081.8,2703.2 1082.4,2704.7 1083.1,2704.0 1083.7,2708.5 1084.4,2711.1 1085.1,2713.7 1085.7,2714.5 1086.4,2718.9 1087.1,2720.1 1087.8,2726.2 1088.4,2731.5 1089.1,2735.0 1089.8,2737.5 1090.4,2741.2 1091.1,2745.2 1091.8,2755.8 1092.5,2763.9 1093.1,2773.5 1093.8,2765.0 1094.5,2761.0 1095.2,2755.0 1095.8,2749.3 1096.5,2745.5 1097.2,2736.2 1097.8,2737.6 1098.5,2741.3 1099.2,2740.7 1099.9,2743.1 1100.5,2744.8 1101.2,2746.0 1101.9,2738.9 1102.5,2735.0 1103.2,2729.7 1103.9,2720.5 1104.6,2715.4 1105.2,2710.8 1105.8,2709.8 1106.4,2709.2 1107.0,2710.3 1107.7,2712.3 1108.3,2710.4 1108.9,2712.4 1109.5,2713.0 1110.1,2712.1 1110.7,2714.0 1111.3,2714.5 1111.9,2714.3 1112.5,2713.7 1113.1,2710.0 1113.7,2712.4 1114.3,2711.4 1114.9,2711.3 1115.5,2708.4 1116.1,2710.0 1116.7,2708.7 1117.3,2706.2 1118.0,2709.1 1118.6,2706.3 1119.2,2705.9 1119.8,2707.5 1120.4,2706.1 1121.1,2707.2 1121.7,2706.2 1122.3,2706.8 1122.9,2707.3 1123.5,2706.0 1124.2,2707.0 1124.8,2706.9 1125.4,2704.6 1126.0,2706.7 1126.6,2706.4 1127.2,2705.8 1127.8,2707.0 1128.4,2707.7 1129.0,2706.6 1129.6,2703.8 1130.2,2706.2 1130.8,2705.5 1131.4,2705.3 1132.1,2706.1 1132.7,2705.2 1133.4,2718.8 1134.1,2728.2 1134.8,2738.9 1135.5,2751.0 1136.1,2752.8 1136.8,2755.0 1137.4,2756.1 1138.1,2757.0 1138.8,2759.0 1139.4,2757.9 1140.1,2760.5 1140.7,2765.4 1141.4,2757.3 1142.1,2753.6 1142.7,2747.2 1143.4,2737.0 1144.1,2732.6 1144.8,2729.4 1145.4,2710.7 1146.0,2698.1 1146.7,2695.9 1147.4,2694.6 1148.1,2693.2 1148.7,2692.2 1149.4,2691.8 1150.1,2688.5 1150.7,2688.9 1151.3,2686.2 1151.9,2686.5 1152.5,2685.1 1153.1,2682.5 1153.7,2682.4 1154.3,2680.1 1154.9,2678.8 1155.5,2680.1 1156.1,2675.1 1156.7,2677.3 1157.3,2676.7 1157.9,2674.2 1158.6,2675.6 1159.2,2674.5 1159.8,2670.9 1160.4,2672.4 1161.0,2671.5 1161.6,2669.2 1162.2,2670.1 1162.9,2668.3 1163.5,2664.4 1164.2,2660.8 1164.9,2661.8 1165.5,2658.3 1166.2,2655.1 1166.9,2651.4 1167.6,2643.5 1168.2,2640.7 1168.9,2637.6 1169.6,2626.8 1170.2,2625.6 1170.9,2619.1 1171.6,2615.0 1172.3,2609.7 1172.9,2607.0 1173.6,2601.4 1174.3,2595.8 1175.0,2602.2 1175.7,2610.3 1176.4,2619.4 1177.1,2623.4 1177.7,2625.9 1178.4,2626.2 1179.0,2623.7 1179.7,2628.0 1180.3,2626.9 1181.0,2630.2 1181.6,2630.0 1182.3,2627.9 1182.9,2628.4 1183.6,2627.7 1184.4,2645.4 1185.2,2666.3 1185.8,2666.0 1186.5,2666.8 1187.1,2668.1 1187.8,2670.2 1188.4,2671.5 1189.1,2671.4 1189.8,2672.1 1190.4,2673.5 1191.0,2675.4 1191.6,2669.5 1192.2,2670.1 1192.8,2671.6 1193.4,2670.5 1194.0,2671.3 1194.6,2670.8 1195.3,2671.1 1195.9,2666.9 1196.5,2668.1 1197.1,2667.0 1197.7,2668.6 1198.3,2667.6 1198.9,2668.5 1199.6,2666.4 1200.2,2667.5 1200.8,2666.7 1201.4,2667.0 1202.0,2666.8 1202.7,2666.0 1203.3,2668.8 1203.9,2667.7 1204.5,2668.7 1205.1,2666.6 1205.7,2665.9 1206.3,2668.0 1206.9,2669.2 1207.6,2670.9 1208.2,2671.7 1208.8,2672.4 1209.4,2673.3 1210.0,2672.8 1210.6,2672.5 1211.2,2671.9 1211.8,2674.3 1212.5,2655.3 1213.1,2637.4 1213.8,2621.7 1214.4,2619.0 1215.0,2617.6 1215.6,2613.4 1216.2,2613.6 1216.8,2610.3 1217.4,2607.4 1218.0,2604.5 1218.6,2601.8 1219.2,2599.3 1219.9,2600.6 1220.6,2600.5 1221.3,2606.6 1222.0,2609.0 1222.7,2612.2 1223.4,2616.3 1224.1,2620.8 1224.8,2626.1 1225.5,2629.7 1226.1,2638.7 1226.8,2646.6 1227.4,2655.8 1228.1,2670.1 1228.7,2676.1 1229.3,2676.2 1229.9,2680.5 1230.5,2677.9 1231.1,2681.6 1231.8,2682.6 1232.4,2682.6 1233.0,2684.3 1233.6,2682.1 1234.2,2683.1 1234.8,2685.2 1235.4,2686.3 1236.0,2687.0 1236.6,2688.5 1237.2,2687.8 1237.8,2686.8 1238.4,2690.8 1239.0,2690.8 1239.6,2693.0 1240.2,2695.4 1240.8,2693.7 1241.4,2696.3 1242.0,2696.4 1242.6,2700.8 1243.2,2702.0 1243.8,2703.9 1244.5,2706.8 1245.1,2706.2 1245.7,2710.4 1246.3,2715.0 1247.0,2721.1 1247.7,2721.5 1248.4,2728.4 1249.0,2736.0 1249.7,2737.4 1250.4,2743.1 1251.0,2751.8 1251.7,2758.5 1252.3,2761.2 1253.0,2766.0 1253.6,2771.9 1254.3,2778.0 1254.9,2783.2 1255.6,2774.7 1256.4,2767.4 1257.1,2758.6 1257.8,2750.6 1258.4,2751.0 1259.1,2750.5 1259.7,2754.0 1260.4,2754.4 1261.0,2754.3 1261.7,2755.7 1262.4,2757.5 1263.0,2758.2 1263.7,2749.2 1264.4,2741.6 1265.0,2733.2 1265.7,2722.7 1266.4,2714.4 1267.0,2704.2 1267.7,2705.4 1268.3,2706.2 1268.9,2706.7 1269.5,2705.9 1270.1,2705.5 1270.8,2704.7 1271.4,2705.9 1272.0,2704.2 1272.6,2705.8 1273.2,2705.7 1273.9,2704.5 1274.5,2706.1 1275.1,2705.4 1275.7,2706.4 1276.3,2705.0 1277.0,2706.3 1277.6,2707.6 1278.2,2705.9 1278.8,2706.6 1279.4,2704.8 1280.1,2705.2 1280.7,2703.2 1281.3,2705.4 1281.9,2704.2 1282.6,2705.8 1283.2,2703.0 1283.8,2704.4 1284.4,2705.4 1285.0,2705.7 1285.7,2702.9 1286.3,2704.3 1286.9,2708.0 1287.5,2705.6 1288.1,2704.6 1288.8,2700.7 1289.4,2702.9 1290.0,2704.6 1290.6,2704.1 1291.2,2704.2 1291.9,2705.5 1292.6,2705.1 1293.3,2706.7 1293.9,2723.5 1294.6,2749.2 1295.3,2765.8 1295.9,2766.0 1296.6,2769.4 1297.3,2768.9 1298.0,2770.1 1298.6,2768.7 1299.3,2770.5 1300.0,2771.7 1300.6,2770.1 1301.3,2771.9 1302.0,2772.5 1302.7,2773.2 1303.3,2773.3 1304.0,2762.5 1304.7,2754.6 1305.5,2744.3 1306.2,2735.3 1306.8,2725.7 1307.5,2716.9 1308.1,2707.8 1308.7,2701.7 1309.4,2693.1 1310.0,2695.3 1310.6,2694.8 1311.2,2693.1 1311.8,2689.2 1312.4,2687.7 1313.0,2688.4 1313.6,2686.7 1314.2,2688.9 1314.8,2686.4 1315.4,2684.9 1316.0,2684.6 1316.6,2685.4 1317.3,2681.8 1317.9,2682.9 1318.5,2679.7 1319.1,2680.4 1319.7,2679.0 1320.3,2679.4 1320.9,2678.4 1321.5,2678.9 1322.1,2677.1 1322.7,2674.2 1323.3,2672.1 1323.9,2671.5 1324.5,2670.8 1325.1,2669.8 1325.7,2668.0 1326.3,2669.1 1326.9,2667.7 1327.5,2665.0 1328.2,2660.1 1328.8,2655.9 1329.5,2651.6 1330.2,2647.1 1330.8,2640.6 1331.5,2637.5 1332.1,2631.2 1332.8,2629.0 1333.5,2619.8 1334.2,2607.5 1334.9,2599.0 1335.6,2587.9 1336.3,2593.8 1337.0,2603.3 1337.7,2607.9 1338.4,2613.5 1339.1,2612.8 1339.7,2614.4 1340.4,2614.1 1341.0,2615.5 1341.7,2614.2 1342.4,2615.8 1343.0,2615.9 1343.7,2615.1 1344.3,2621.1 1345.0,2622.0 1345.7,2621.9 1346.4,2623.1 1347.0,2626.1 1347.7,2627.9 1348.4,2643.0 1349.0,2656.6 1349.7,2672.3 1350.3,2673.4 1351.0,2673.9 1351.6,2670.8 1352.2,2673.4 1352.8,2672.1 1353.4,2672.0 1354.1,2673.0 1354.7,2672.5 1355.3,2674.2 1355.9,2674.3 1356.5,2673.0 1357.2,2672.5 1357.8,2675.6 1358.4,2675.6 1359.0,2673.5 1359.6,2672.7 1360.3,2674.0 1360.9,2674.4 1361.5,2671.8 1362.1,2674.6 1362.7,2671.9 1363.4,2673.4 1364.0,2671.1 1364.6,2671.7 1365.2,2670.9 1365.8,2671.4 1366.5,2672.9 1367.1,2670.7 1367.7,2671.7 1368.3,2673.0 1368.9,2672.0 1369.5,2675.5 1370.1,2671.2 1370.7,2676.6 1371.3,2658.9 1371.9,2647.4 1372.5,2634.6 1373.1,2619.6 1373.7,2616.9 1374.3,2618.0 1374.9,2618.2 1375.5,2618.6 1376.1,2618.9 1376.7,2618.8 1377.3,2619.0 1377.9,2615.7 1378.6,2615.8 1379.3,2609.9 1380.0,2610.0 1380.6,2606.1 1381.3,2602.8 1382.0,2604.0 1382.7,2607.8 1383.3,2614.1 1384.0,2615.9 1384.7,2621.4 1385.3,2627.9 1386.0,2632.2 1386.7,2647.9 1387.4,2661.8 1388.0,2677.0 1388.6,2676.7 1389.2,2680.7 1389.8,2679.4 1390.4,2679.1 1391.1,2682.3 1391.7,2682.9 1392.3,2683.3 1392.9,2684.1 1393.5,2684.1 1394.1,2685.3 1394.7,2683.5 1395.3,2685.3 1395.9,2686.7 1396.6,2689.5 1397.2,2691.7 1397.8,2690.8 1398.4,2691.6 1399.0,2694.4 1399.7,2693.4 1400.3,2695.6 1400.9,2696.2 1401.5,2694.9 1402.1,2698.0 1402.7,2699.0 1403.4,2698.5 1404.0,2699.8 1404.6,2700.7 1405.2,2705.4 1405.8,2707.5 1406.4,2706.9 1407.0,2709.3 1407.6,2706.7 1408.2,2711.5 1408.9,2716.2 1409.5,2719.8 1410.2,2720.5 1410.9,2727.2 1411.6,2729.7 1412.2,2735.2 1412.9,2740.4 1413.6,2748.7 1414.2,2755.3 1414.9,2764.0 1415.6,2770.7 1416.3,2779.7 1416.9,2776.6 1417.6,2773.4 1418.3,2770.1 1418.9,2767.1 1419.6,2764.8 1420.3,2763.1 1420.9,2762.0 1421.5,2762.1 1422.1,2761.4 1422.7,2761.2 1423.3,2760.2 1423.9,2758.4 1424.5,2761.4 1425.1,2761.2 1425.7,2759.0 1426.3,2762.5 1426.9,2758.8 1427.6,2761.8 1428.2,2761.0 1428.8,2761.3 1429.4,2762.5 1430.0,2762.5 1430.6,2761.5 1431.2,2760.3 1431.8,2760.3 1432.4,2762.3 1433.0,2764.4 1433.6,2763.8 1434.3,2763.0 1434.9,2763.8 1435.5,2764.5 1436.1,2766.2 1436.7,2763.3 1437.4,2765.5 1438.0,2765.2 1438.6,2764.2 1439.2,2764.2 1439.8,2767.5 1440.5,2766.5 1441.1,2766.2 1441.7,2766.9 1442.3,2768.3 1442.9,2767.5 1443.6,2769.8 1444.2,2767.6 1444.8,2767.3 1445.4,2768.5 1446.0,2767.7 1446.7,2768.8 1447.3,2771.1 1447.9,2772.1 1448.5,2771.0 1449.1,2770.8 1449.7,2769.8 1450.3,2770.1 1450.9,2772.2 1451.5,2772.4 1452.2,2771.8 1452.8,2772.4 1453.4,2775.4 1454.0,2775.1 1454.6,2774.3 1455.2,2775.5 1455.8,2777.9 1456.4,2777.7 1457.0,2778.5 1457.6,2777.2 1458.2,2778.0 1458.8,2778.8 1459.4,2779.3 1460.0,2783.2 1460.6,2784.7 1461.3,2778.8 1462.0,2776.1 1462.6,2771.7 1463.3,2766.7 1464.0,2760.5 1464.7,2759.9 1465.3,2753.1 1466.0,2743.9 1466.7,2740.4 1467.3,2731.2 1468.0,2723.4 1468.7,2717.2 1469.4,2709.9 1470.0,2706.5 1470.7,2699.5 1471.4,2697.7 1472.1,2691.3 1472.7,2683.7 1473.3,2685.6 1474.0,2682.0 1474.6,2683.8 1475.2,2683.6 1475.8,2682.4 1476.4,2680.3 1477.1,2681.0 1477.7,2680.3 1478.3,2680.0 1478.9,2681.2 1479.5,2680.8 1480.2,2680.1 1480.8,2676.6 1481.4,2675.2 1482.0,2675.0 1482.6,2674.3 1483.2,2669.9 1483.8,2670.5 1484.4,2672.5 1485.0,2667.3 1485.6,2666.8 1486.2,2665.6 1486.8,2665.9 1487.4,2662.8 1488.0,2660.0 1488.7,2656.1 1489.3,2656.4 1489.9,2653.2 1490.5,2649.9 1491.1,2648.4 1491.7,2647.0 1492.3,2641.6 1492.9,2639.1 1493.5,2634.0 1494.2,2628.4 1494.9,2619.7 1495.5,2617.1 1496.2,2613.6 1496.8,2605.9 1497.5,2601.8 1498.1,2591.0 1498.7,2596.3 1499.3,2600.0 1499.9,2602.0 1500.5,2601.1 1501.2,2602.5 1501.8,2605.8 1502.4,2605.5 1503.0,2608.4 1503.6,2607.5 1504.2,2610.5 1504.8,2611.3 1505.4,2614.2 1506.0,2613.3 1506.6,2612.8 1507.2,2614.4 1507.8,2613.6 1508.4,2616.1 1509.0,2616.6 1509.6,2619.3 1510.2,2621.7 1510.8,2619.7 1511.4,2624.6 1512.0,2626.9 1512.6,2626.2 1513.3,2632.1 1513.9,2630.5 1514.5,2636.4 1515.1,2636.1 1515.7,2636.3 1516.3,2635.4 1516.9,2636.4 1517.5,2633.7 1518.1,2634.0 1518.7,2632.5 1519.3,2635.7 1519.9,2634.1 1520.5,2636.0 1521.1,2635.8 1521.7,2632.8 1522.4,2635.0 1523.0,2634.0 1523.6,2633.4 1524.2,2633.3 1524.8,2632.2 1525.5,2631.8 1526.1,2632.7 1526.7,2629.6 1527.3,2628.8 1527.9,2628.9 1528.6,2630.8 1529.2,2628.6 1529.8,2630.6 1530.4,2623.1 1531.0,2625.3 1531.7,2624.7 1532.3,2624.7 1532.9,2625.1 1533.5,2622.2 1534.1,2620.2 1534.8,2621.7 1535.4,2621.7 1536.0,2615.4 1536.6,2618.6 1537.3,2617.3 1537.9,2614.8 1538.5,2614.3 1539.1,2614.2 1539.7,2612.9 1540.3,2611.5 1540.9,2609.3 1541.5,2610.2 1542.1,2608.0 1542.7,2607.9 1543.3,2606.0 1544.0,2610.8 1544.6,2615.2 1545.3,2618.2 1546.0,2622.5 1546.7,2623.5 1547.3,2629.6 1548.0,2638.8 1548.7,2647.0 1549.3,2657.0 1550.0,2663.0 1550.7,2676.1 1551.4,2684.9 1552.0,2683.1 1552.6,2687.3 1553.2,2686.5 1553.8,2688.3 1554.5,2688.2 1555.1,2689.8 1555.7,2689.9 1556.3,2690.0 1556.9,2691.7 1557.6,2692.7 1558.2,2689.3 1558.8,2692.9 1559.4,2692.7 1560.0,2692.9 1560.6,2696.8 1561.2,2697.2 1561.9,2695.4 1562.5,2696.1 1563.1,2699.4 1563.7,2698.3 1564.3,2699.5 1564.9,2698.2 1565.5,2701.4 1566.2,2704.4 1566.8,2703.7 1567.5,2705.5 1568.2,2709.2 1568.8,2709.4 1569.5,2711.5 1570.2,2714.5 1570.9,2719.3 1571.5,2719.6 1572.2,2724.7 1572.9,2727.7 1573.5,2736.7 1574.2,2738.1 1574.8,2741.7 1575.4,2745.0 1576.0,2748.7 1576.7,2755.1 1577.4,2770.4 1578.1,2776.1 1578.7,2776.1 1579.3,2774.0 1579.9,2775.5 1580.5,2775.9 1581.1,2775.1 1581.7,2775.8 1582.3,2773.7 1582.9,2775.0 1583.5,2775.5 1584.1,2774.9 1584.7,2773.3 1585.3,2771.2 1585.9,2768.6 1586.5,2769.2 1587.1,2766.6 1587.7,2764.5 1588.4,2765.3 1589.0,2760.8 1589.6,2760.7 1590.2,2761.1 1590.8,2760.9 1591.4,2758.8 1592.0,2758.9 1592.6,2759.1 1593.2,2757.9 1593.8,2756.6 1594.4,2757.8 1595.0,2757.0 1595.6,2756.6 1596.2,2757.5 1596.8,2756.1 1597.5,2754.8 1598.1,2755.3 1598.7,2757.3 1599.3,2753.5 1599.9,2753.8 1600.6,2752.8 1601.2,2754.0 1601.8,2751.6 1602.4,2753.5 1603.0,2753.6 1603.7,2751.3 1604.3,2750.9 1604.9,2750.3 1605.5,2752.4 1606.1,2751.1 1606.7,2752.0 1607.3,2752.4 1607.9,2752.3 1608.5,2754.5 1609.1,2755.7 1609.7,2751.0 1610.3,2752.9 1610.9,2754.7 1611.5,2753.4 1612.1,2754.5 1612.7,2755.9 1613.4,2757.8 1614.0,2758.0 1614.6,2756.4 1615.2,2757.4 1615.8,2757.2 1616.4,2757.8 1617.1,2757.9 1617.7,2758.4 1618.4,2761.6 1619.1,2764.7 1619.7,2765.8 1620.4,2763.7 1621.1,2767.1 1621.7,2767.7 1622.3,2770.1 1623.0,2769.5 1623.6,2773.3 1624.3,2765.3 1625.1,2759.8 1625.8,2753.6 1626.5,2743.4 1627.1,2734.4 1627.8,2725.3 1628.4,2712.1 1629.0,2702.1 1629.7,2690.0 1630.3,2688.1 1630.9,2688.3 1631.5,2688.6 1632.1,2688.1 1632.7,2687.6 1633.3,2683.5 1633.9,2685.3 1634.5,2681.6 1635.1,2682.9 1635.7,2682.4 1636.3,2683.0 1636.9,2682.2 1637.6,2683.0 1638.2,2680.2 1638.8,2681.7 1639.4,2680.7 1640.0,2679.8 1640.6,2677.8 1641.2,2679.5 1641.8,2678.6 1642.4,2678.6 1643.0,2676.9 1643.6,2676.0 1644.2,2676.3 1644.8,2675.8 1645.4,2675.5 1646.0,2676.4 1646.6,2672.5 1647.3,2674.6 1648.0,2666.8 1648.6,2670.6 1649.3,2666.9 1650.0,2669.2 1650.7,2664.1 1651.3,2662.6 1652.0,2655.9 1652.7,2651.7 1653.3,2650.2 1654.0,2646.2 1654.7,2640.2 1655.3,2635.7 1656.0,2623.7 1656.6,2617.7 1657.3,2605.9 1657.9,2597.5 1658.5,2599.2 1659.2,2598.2 1659.8,2600.4 1660.4,2597.4 1661.0,2600.8 1661.7,2600.2 1662.3,2600.1 1662.9,2601.9 1663.5,2601.8 1664.2,2601.8 1664.8,2603.8 1665.4,2603.6 1666.0,2604.1 1666.6,2605.7 1667.2,2604.3 1667.8,2605.9 1668.4,2604.7 1669.0,2606.4 1669.6,2606.7 1670.2,2605.7 1670.8,2604.8 1671.4,2606.2 1672.0,2607.6 1672.6,2610.5 1673.2,2610.7 1673.8,2611.5 1674.5,2613.5 1675.1,2614.8 1675.7,2616.7 1676.3,2613.9 1677.0,2615.2 1677.6,2615.2 1678.2,2612.8 1678.9,2614.0 1679.5,2612.5 1680.2,2613.2 1680.8,2613.8 1681.5,2610.9 1682.1,2611.7 1682.7,2613.6 1683.3,2616.5 1683.9,2617.2 1684.5,2620.4 1685.1,2620.6 1685.7,2622.8 1686.4,2626.0 1687.0,2627.4 1687.6,2625.8 1688.3,2624.2 1689.0,2624.2 1689.6,2623.4 1690.3,2619.8 1691.0,2618.0 1691.6,2617.2 1692.2,2620.3 1692.8,2616.5 1693.4,2615.6 1694.0,2617.2 1694.6,2617.8 1695.2,2614.5 1695.8,2615.5 1696.4,2613.4 1697.0,2614.0 1697.7,2616.6 1698.4,2614.4 1699.1,2613.5 1699.7,2613.6 1700.4,2613.6 1701.1,2612.7 1701.7,2611.7 1702.4,2612.0 1703.1,2616.5 1703.8,2613.2 1704.4,2616.1 1705.1,2613.9 1705.8,2625.3 1706.4,2633.2 1707.1,2640.8 1707.8,2652.6 1708.4,2657.6 1709.1,2667.4 1709.7,2675.5 1710.3,2684.4 1711.0,2685.7 1711.6,2685.7 1712.2,2687.2 1712.8,2690.4 1713.5,2686.9 1714.1,2688.2 1714.7,2689.4 1715.3,2690.7 1716.0,2693.4 1716.6,2693.7 1717.2,2694.1 1717.8,2694.4 1718.4,2697.8 1719.0,2693.9 1719.6,2694.4 1720.2,2696.5 1720.8,2697.4 1721.4,2697.4 1722.0,2697.3 1722.6,2697.3 1723.3,2699.2 1723.9,2699.3 1724.5,2700.2 1725.1,2700.0 1725.7,2703.7 1726.3,2703.2 1726.9,2705.6 1727.5,2703.1 1728.1,2704.5 1728.7,2704.7 1729.3,2705.6 1730.0,2708.0 1730.6,2710.8 1731.3,2711.1 1732.0,2716.0 1732.7,2720.0 1733.3,2719.2 1734.0,2724.7 1734.7,2729.2 1735.4,2733.5 1736.0,2735.1 1736.7,2739.1 1737.4,2744.2 1738.0,2753.0 1738.7,2760.2 1739.4,2769.4 1740.1,2769.1 1740.7,2765.7 1741.4,2762.4 1742.1,2760.4 1742.7,2758.8 1743.4,2755.8 1744.1,2758.1 1744.8,2760.4 1745.4,2761.2 1746.1,2767.7 1746.8,2769.4 1747.5,2772.1 1748.1,2770.6 1748.7,2771.5 1749.3,2772.7 1749.9,2773.6 1750.5,2770.8 1751.1,2774.2 1751.7,2773.1 1752.3,2774.9 1752.9,2774.7 1753.5,2778.4 1754.1,2776.9 1754.7,2776.2 1755.3,2778.0 1755.9,2776.1 1756.5,2775.3 1757.1,2776.0 1757.7,2775.7 1758.3,2776.3 1758.9,2777.3 1759.6,2776.0 1760.2,2775.7 1760.8,2776.7 1761.4,2775.4 1762.0,2775.8 1762.6,2774.4 1763.2,2772.1 1763.8,2771.9 1764.4,2770.8 1765.0,2774.0 1765.6,2772.7 1766.2,2771.1 1766.8,2770.1 1767.4,2771.4 1768.0,2770.4 1768.6,2770.6 1769.2,2768.7 1769.8,2767.9 1770.4,2771.0 1771.0,2767.3 1771.6,2768.1 1772.3,2769.9 1773.0,2765.8 1773.7,2769.0 1774.3,2768.2 1775.0,2767.9 1775.7,2768.5 1776.4,2767.9 1777.0,2768.0 1777.7,2774.6 1778.4,2773.1 1779.0,2776.0 1779.7,2777.6 1780.4,2776.2 1781.1,2776.1 1781.7,2776.1 1782.4,2776.9 1783.1,2775.1 1783.7,2775.8 1784.4,2767.8 1785.1,2761.5 1785.8,2756.1 1786.4,2750.5 1787.1,2744.6 1787.8,2740.4 1788.4,2729.3 1789.1,2718.6 1789.7,2711.4 1790.4,2699.6 1791.0,2689.9 1791.6,2689.6 1792.3,2688.0 1792.9,2686.4 1793.5,2687.5 1794.1,2686.3 1794.7,2685.1 1795.4,2685.8 1796.0,2684.8 1796.6,2683.8 1797.2,2681.7 1797.9,2683.2 1798.5,2685.3 1799.1,2683.8 1799.7,2683.6 1800.3,2681.8 1800.9,2682.8 1801.5,2680.2 1802.1,2680.0 1802.7,2680.9 1803.3,2678.0 1803.9,2679.5 1804.5,2679.2 1805.1,2680.4 1805.7,2676.7 1806.3,2677.5 1806.9,2675.5 1807.5,2675.1 1808.1,2671.7 1808.8,2673.4 1809.4,2675.4 1810.0,2674.0 1810.6,2670.5 1811.3,2670.5 1812.0,2665.0 1812.7,2659.7 1813.3,2658.0 1814.0,2655.1 1814.7,2652.2 1815.3,2644.0 1816.0,2640.6 1816.7,2636.3 1817.4,2629.0 1818.0,2625.1 1818.7,2614.8 1819.4,2610.0 1820.1,2599.4 1820.9,2594.2 1821.5,2596.9 1822.1,2595.2 1822.7,2594.8 1823.3,2594.9 1823.9,2597.5 1824.5,2595.4 1825.1,2596.1 1825.7,2594.2 1826.3,2594.2 1826.9,2593.4 1827.5,2594.5 1828.1,2593.8 1828.7,2596.6 1829.3,2596.8 1829.9,2596.4 1830.5,2596.4 1831.1,2594.0 1831.7,2597.6 1832.3,2599.3 1833.0,2600.4 1833.6,2596.2 1834.2,2597.7 1834.8,2601.3 1835.4,2600.1 1836.0,2601.4 1836.6,2601.4 1837.3,2603.1 1837.9,2600.2 1838.5,2602.2 1839.1,2604.5 1839.7,2603.8 1840.4,2602.8 1841.0,2604.8 1841.6,2604.9 1842.2,2603.7 1842.8,2606.0 1843.5,2606.3 1844.1,2605.6 1844.7,2607.2 1845.3,2604.8 1846.0,2607.6 1846.6,2606.7 1847.2,2606.1 1847.8,2606.8 1848.4,2609.4 1849.1,2607.5 1849.7,2608.1 1850.3,2608.0 1850.9,2608.2 1851.5,2610.9 1852.1,2612.9 1852.7,2612.2 1853.3,2611.5 1853.9,2612.2 1854.5,2611.2 1855.1,2611.4 1855.7,2611.0 1856.3,2614.7 1857.0,2610.8 1857.7,2608.6 1858.4,2607.0 1859.0,2606.4 1859.7,2603.8 1860.4,2602.8 1861.0,2603.2 1861.6,2604.9 1862.2,2601.8 1862.8,2604.0 1863.4,2602.9 1864.0,2603.4 1864.6,2606.3 1865.2,2605.2 1865.8,2604.1 1866.4,2605.4 1867.1,2614.9 1867.8,2626.4 1868.5,2634.4 1869.2,2645.8 1869.9,2654.9 1870.5,2665.3 1871.1,2675.2 1871.7,2684.7 1872.3,2686.3 1872.9,2688.2 1873.5,2686.9 1874.2,2687.9 1874.8,2689.6 1875.4,2688.9 1876.0,2691.7 1876.7,2692.2 1877.3,2689.1 1877.9,2692.0 1878.5,2692.1 1879.1,2695.2 1879.7,2695.9 1880.3,2693.8 1880.9,2695.1 1881.5,2696.5 1882.2,2696.7 1882.8,2698.7 1883.4,2699.6 1884.0,2699.7 1884.6,2701.0 1885.2,2701.4 1885.8,2700.7 1886.4,2700.8 1887.0,2701.1 1887.6,2703.7 1888.2,2704.4 1888.8,2705.1 1889.4,2704.0 1890.0,2704.5 1890.6,2706.0 1891.3,2709.8 1891.9,2711.1 1892.6,2713.5 1893.2,2714.7 1893.9,2718.8 1894.6,2721.4 1895.2,2722.1 1895.9,2728.0 1896.6,2730.7 1897.3,2739.1 1898.0,2743.7 1898.7,2750.2 1899.4,2756.0 1900.1,2763.4 1900.8,2772.1 1901.5,2778.0 1902.2,2778.3 1902.8,2780.4 1903.5,2780.7 1904.1,2780.5 1904.8,2781.0 1905.4,2783.5 1906.1,2781.5 1906.8,2782.8 1907.4,2783.0 1908.0,2780.9 1908.6,2780.4 1909.2,2783.2 1909.8,2784.4 1910.4,2783.7 1911.0,2783.0 1911.6,2783.0 1912.2,2785.1 1912.8,2783.9 1913.5,2781.2 1914.1,2783.1 1914.8,2781.6 1915.5,2780.7 1916.2,2780.6 1916.8,2779.9 1917.5,2778.3 1918.2,2776.7 1918.9,2773.5"/><g fill="#000" shape-rendering="crispEdges"><rect x="242" y="2510" width="1745" height="5"/><rect x="242" y="2861" width="1745" height="5"/><rect x="242" y="2510" width="5" height="356"/><rect x="1981" y="2510" width="6" height="356"/><rect x="247" y="2510.0" width="21" height="5"/><rect x="247" y="2597.8" width="21" height="5"/><rect x="247" y="2685.5" width="21" height="5"/><rect x="247" y="2773.2" width="21" height="5"/><rect x="247" y="2861.0" width="21" height="5"/><rect x="247" y="2553.9" width="9" height="5"/><rect x="247" y="2641.6" width="9" height="5"/><rect x="247" y="2729.4" width="9" height="5"/><rect x="247" y="2817.1" width="9" height="5"/><rect x="306" y="2840" width="5" height="21"/><rect x="628" y="2840" width="5" height="21"/><rect x="950" y="2840" width="5" height="21"/><rect x="1273" y="2840" width="5" height="21"/><rect x="1595" y="2840" width="5" height="21"/><rect x="1917" y="2840" width="5" height="21"/><rect x="467" y="2852" width="5" height="9"/><rect x="789" y="2852" width="5" height="9"/><rect x="1112" y="2852" width="5" height="9"/><rect x="1434" y="2852" width="5" height="9"/><rect x="1756" y="2852" width="5" height="9"/></g><text x="219.3" y="2532.6" class="t n" text-anchor="end">20</text><text x="219.3" y="2620.3" class="t n" text-anchor="end">10</text><text x="219.3" y="2708.1" class="t n" text-anchor="end">0</text><text x="219.3" y="2795.8" class="t n" text-anchor="end">-10</text><text x="219.3" y="2883.6" class="t n" text-anchor="end">-20</text><text transform="translate(95,2689.0) rotate(-90)" class="t" text-anchor="middle" textLength="376" lengthAdjust="spacingAndGlyphs">Amplitude(A)</text><polyline fill="none" stroke="#009100" stroke-width="4.6" stroke-linejoin="round" stroke-linecap="round" points="308.2,3477.5 309.2,3475.5 310.2,3473.2 311.2,3470.2 312.2,3466.8 313.2,3463.7 314.2,3460.0 315.2,3456.5 316.2,3452.8 317.2,3449.3 318.2,3445.7 319.2,3442.2 320.2,3437.9 321.2,3434.4 322.2,3430.8 323.2,3425.9 324.2,3422.2 325.2,3418.2 326.2,3414.4 327.2,3410.6 328.2,3406.4 329.2,3402.1 330.2,3397.9 331.2,3394.1 332.2,3390.2 333.2,3386.4 334.2,3382.2 335.2,3379.1 336.2,3374.9 337.2,3371.7 338.2,3368.3 339.2,3364.9 340.2,3362.3 341.2,3359.5 342.2,3356.8 343.2,3354.5 344.2,3351.7 345.2,3350.0 346.2,3347.2 347.2,3344.3 348.2,3341.6 349.2,3340.3 350.2,3337.8 351.2,3335.6 352.2,3333.2 353.2,3331.1 354.2,3329.0 355.2,3328.1 356.2,3326.0 357.2,3323.7 358.2,3322.6 359.2,3320.0 360.2,3319.1 361.2,3317.7 362.2,3316.1 363.2,3315.0 364.2,3313.9 365.2,3313.2 366.2,3312.7 367.2,3311.9 368.2,3311.2 369.2,3310.9 370.2,3309.7 371.2,3310.3 372.2,3309.4 373.2,3308.9 374.2,3308.9 375.2,3308.7 376.2,3309.0 377.2,3309.2 378.2,3308.9 379.2,3310.3 380.2,3311.1 381.2,3311.2 382.2,3312.9 383.2,3314.2 384.2,3315.8 385.2,3317.9 386.2,3319.2 387.2,3322.0 388.2,3323.9 389.2,3327.3 390.2,3329.1 391.2,3331.8 392.2,3335.3 393.2,3338.0 394.2,3340.7 395.2,3343.7 396.2,3346.8 397.2,3350.1 398.2,3352.7 399.2,3356.0 400.2,3359.5 401.2,3363.2 402.2,3366.8 403.2,3370.2 404.2,3374.4 405.2,3377.7 406.2,3381.6 407.2,3385.3 408.2,3389.0 409.2,3393.1 410.2,3396.8 411.2,3400.3 412.2,3404.1 413.2,3407.4 414.2,3411.5 415.2,3414.8 416.2,3418.4 417.2,3422.0 418.2,3425.1 419.2,3428.7 420.2,3432.1 421.2,3435.6 422.2,3438.7 423.2,3441.7 424.2,3444.8 425.2,3448.1 426.2,3450.9 427.2,3453.8 428.2,3457.0 429.2,3460.0 430.2,3462.6 431.2,3465.1 432.2,3468.3 433.2,3471.1 434.2,3473.3 435.2,3475.8 436.2,3477.6 437.2,3480.7 438.2,3482.3 439.2,3484.7 440.2,3486.1 441.2,3487.8 442.2,3489.1 443.2,3489.9 444.2,3492.1 445.2,3492.0 446.2,3493.2 447.2,3493.8 448.2,3494.6 449.2,3495.6 450.2,3495.4 451.2,3496.3 452.2,3496.9 453.2,3497.2 454.2,3497.7 455.2,3497.6 456.2,3497.6 457.2,3497.6 458.2,3497.6 459.2,3497.4 460.2,3496.5 461.2,3496.0 462.2,3494.5 463.2,3493.2 464.2,3491.6 465.2,3489.4 466.2,3488.0 467.2,3485.3 468.2,3483.2 469.2,3481.5 470.2,3478.1 471.2,3476.0 472.2,3473.4 473.2,3470.7 474.2,3467.8 475.2,3464.7 476.2,3462.2 477.2,3457.8 478.2,3454.5 479.2,3451.4 480.2,3447.4 481.2,3443.2 482.2,3439.3 483.2,3435.5 484.2,3432.2 485.2,3427.7 486.2,3423.3 487.2,3419.6 488.2,3415.3 489.2,3411.8 490.2,3407.5 491.2,3403.7 492.2,3399.4 493.2,3396.0 494.2,3391.7 495.2,3387.9 496.2,3383.8 497.2,3380.2 498.2,3376.9 499.2,3373.2 500.2,3370.6 501.2,3366.7 502.2,3363.4 503.2,3360.8 504.2,3357.5 505.2,3355.0 506.2,3352.2 507.2,3349.6 508.2,3347.7 509.2,3345.0 510.2,3343.0 511.2,3340.3 512.2,3337.7 513.2,3335.4 514.2,3333.2 515.2,3330.9 516.2,3328.6 517.2,3326.6 518.2,3324.2 519.2,3322.7 520.2,3320.6 521.2,3319.2 522.2,3318.6 523.2,3316.9 524.2,3315.4 525.2,3314.9 526.2,3313.8 527.2,3312.8 528.2,3312.3 529.2,3311.2 530.2,3310.7 531.2,3310.1 532.2,3310.1 533.2,3309.3 534.2,3309.2 535.2,3309.2 536.2,3308.8 537.2,3309.0 538.2,3309.4 539.2,3308.9 540.2,3310.0 541.2,3310.1 542.2,3310.8 543.2,3312.1 544.2,3313.4 545.2,3314.4 546.2,3316.1 547.2,3318.1 548.2,3320.1 549.2,3322.6 550.2,3324.8 551.2,3327.3 552.2,3330.0 553.2,3332.4 554.2,3335.5 555.2,3337.9 556.2,3340.8 557.2,3344.6 558.2,3347.7 559.2,3350.6 560.2,3354.2 561.2,3357.5 562.2,3360.8 563.2,3364.7 564.2,3368.2 565.2,3372.1 566.2,3375.0 567.2,3379.3 568.2,3382.9 569.2,3386.4 570.2,3390.1 571.2,3393.8 572.2,3397.3 573.2,3401.1 574.2,3405.0 575.2,3407.9 576.2,3411.6 577.2,3414.4 578.2,3418.2 579.2,3421.7 580.2,3425.0 581.2,3428.3 582.2,3431.4 583.2,3435.2 584.2,3438.2 585.2,3441.9 586.2,3444.8 587.2,3447.7 588.2,3451.0 589.2,3453.2 590.2,3456.2 591.2,3458.6 592.2,3461.1 593.2,3464.0 594.2,3466.4 595.2,3468.8 596.2,3471.3 597.2,3473.7 598.2,3475.9 599.2,3478.0 600.2,3479.8 601.2,3481.3 602.2,3483.6 603.2,3485.2 604.2,3486.9 605.2,3488.0 606.2,3489.2 607.2,3490.3 608.2,3490.7 609.2,3491.1 610.2,3492.1 611.2,3492.1 612.2,3492.4 613.2,3493.0 614.2,3492.9 615.2,3493.1 616.2,3492.5 617.2,3492.7 618.2,3492.5 619.2,3491.3 620.2,3490.9 621.2,3489.9 622.2,3488.1 623.2,3487.7 624.2,3485.6 625.2,3483.9 626.2,3482.3 627.2,3479.3 628.2,3477.6 629.2,3475.0 630.2,3472.7 631.2,3469.9 632.2,3467.8 633.2,3464.4 634.2,3461.9 635.2,3459.0 636.2,3455.7 637.2,3452.5 638.2,3449.1 639.2,3446.0 640.2,3442.4 641.2,3438.6 642.2,3434.5 643.2,3430.9 644.2,3427.0 645.2,3422.8 646.2,3419.1 647.2,3414.2 648.2,3411.3 649.2,3406.6 650.2,3402.4 651.2,3398.2 652.2,3394.9 653.2,3390.8 654.2,3386.5 655.2,3382.5 656.2,3378.5 657.2,3374.4 658.2,3370.9 659.2,3367.1 660.2,3363.3 661.2,3359.5 662.2,3356.8 663.2,3353.1 664.2,3349.7 665.2,3347.1 666.2,3343.8 667.2,3340.0 668.2,3337.0 669.2,3334.4 670.2,3331.4 671.2,3329.0 672.2,3327.1 673.2,3324.8 674.2,3321.8 675.2,3319.9 676.2,3317.9 677.2,3315.7 678.2,3313.5 679.2,3312.3 680.2,3310.4 681.2,3309.0 682.2,3307.6 683.2,3305.9 684.2,3305.3 685.2,3303.8 686.2,3302.9 687.2,3301.9 688.2,3301.5 689.2,3301.1 690.2,3300.4 691.2,3300.5 692.2,3300.1 693.2,3299.8 694.2,3299.9 695.2,3300.1 696.2,3300.1 697.2,3300.3 698.2,3300.1 699.2,3300.7 700.2,3301.5 701.2,3302.5 702.2,3303.4 703.2,3304.6 704.2,3306.1 705.2,3308.7 706.2,3311.0 707.2,3313.0 708.2,3315.9 709.2,3317.7 710.2,3319.8 711.2,3321.6 712.2,3322.7 713.2,3324.1 714.2,3325.5 715.2,3327.9 716.2,3330.2 717.2,3333.0 718.2,3336.2 719.2,3339.7 720.2,3343.8 721.2,3347.3 722.2,3351.6 723.2,3355.6 724.2,3359.5 725.2,3363.9 726.2,3367.6 727.2,3371.9 728.2,3375.8 729.2,3379.6 730.2,3384.1 731.2,3388.0 732.2,3391.7 733.2,3395.6 734.2,3399.2 735.2,3403.3 736.2,3407.0 737.2,3410.8 738.2,3414.3 739.2,3418.1 740.2,3421.5 741.2,3424.6 742.2,3428.3 743.2,3431.5 744.2,3434.8 745.2,3438.3 746.2,3441.8 747.2,3444.4 748.2,3447.3 749.2,3450.8 750.2,3454.6 751.2,3456.6 752.2,3459.6 753.2,3462.2 754.2,3465.3 755.2,3468.0 756.2,3470.1 757.2,3472.8 758.2,3474.4 759.2,3476.8 760.2,3478.2 761.2,3480.3 762.2,3481.7 763.2,3483.3 764.2,3484.3 765.2,3485.8 766.2,3486.9 767.2,3487.7 768.2,3488.5 769.2,3489.1 770.2,3489.8 771.2,3490.4 772.2,3490.6 773.2,3490.9 774.2,3491.3 775.2,3491.1 776.2,3491.3 777.2,3491.5 778.2,3491.3 779.2,3491.0 780.2,3490.4 781.2,3490.3 782.2,3489.0 783.2,3487.9 784.2,3486.9 785.2,3485.6 786.2,3483.6 787.2,3481.2 788.2,3479.2 789.2,3476.7 790.2,3474.2 791.2,3471.8 792.2,3469.1 793.2,3466.1 794.2,3463.6 795.2,3460.1 796.2,3457.4 797.2,3454.3 798.2,3451.0 799.2,3447.1 800.2,3443.5 801.2,3439.6 802.2,3436.4 803.2,3433.4 804.2,3428.7 805.2,3425.0 806.2,3421.9 807.2,3418.2 808.2,3413.8 809.2,3410.6 810.2,3407.0 811.2,3402.9 812.2,3399.9 813.2,3395.9 814.2,3393.0 815.2,3389.4 816.2,3385.9 817.2,3382.3 818.2,3379.3 819.2,3376.0 820.2,3372.7 821.2,3369.2 822.2,3365.9 823.2,3362.9 824.2,3359.2 825.2,3356.4 826.2,3353.6 827.2,3350.7 828.2,3348.3 829.2,3345.8 830.2,3342.8 831.2,3340.5 832.2,3337.4 833.2,3335.7 834.2,3333.7 835.2,3331.1 836.2,3329.7 837.2,3327.0 838.2,3326.0 839.2,3323.8 840.2,3322.0 841.2,3320.6 842.2,3319.2 843.2,3317.6 844.2,3316.2 845.2,3315.2 846.2,3314.5 847.2,3313.3 848.2,3312.7 849.2,3311.5 850.2,3310.9 851.2,3310.4 852.2,3310.1 853.2,3309.8 854.2,3309.8 855.2,3309.2 856.2,3309.0 857.2,3309.2 858.2,3308.8 859.2,3308.8 860.2,3309.6 861.2,3309.9 862.2,3310.4 863.2,3311.2 864.2,3311.7 865.2,3312.8 866.2,3314.2 867.2,3315.7 868.2,3317.4 869.2,3318.9 870.2,3320.8 871.2,3322.3 872.2,3325.4 873.2,3327.1 874.2,3330.1 875.2,3333.3 876.2,3335.3 877.2,3337.8 878.2,3341.6 879.2,3344.1 880.2,3347.3 881.2,3350.6 882.2,3354.2 883.2,3357.8 884.2,3361.2 885.2,3365.2 886.2,3368.4 887.2,3372.5 888.2,3375.9 889.2,3379.9 890.2,3383.3 891.2,3387.0 892.2,3391.1 893.2,3394.2 894.2,3397.8 895.2,3402.0 896.2,3405.5 897.2,3409.1 898.2,3412.8 899.2,3416.9 900.2,3419.6 901.2,3423.3 902.2,3426.8 903.2,3429.8 904.2,3433.3 905.2,3436.6 906.2,3439.5 907.2,3443.1 908.2,3445.6 909.2,3448.8 910.2,3451.9 911.2,3455.5 912.2,3457.1 913.2,3460.4 914.2,3463.8 915.2,3465.7 916.2,3468.6 917.2,3470.8 918.2,3472.7 919.2,3475.3 920.2,3477.0 921.2,3479.2 922.2,3480.5 923.2,3482.6 924.2,3483.2 925.2,3485.0 926.2,3486.5 927.2,3487.2 928.2,3487.8 929.2,3488.5 930.2,3488.9 931.2,3490.0 932.2,3489.5 933.2,3489.7 934.2,3489.7 935.2,3489.9 936.2,3490.2 937.2,3490.0 938.2,3489.9 939.2,3489.8 940.2,3489.6 941.2,3489.4 942.2,3488.8 943.2,3488.3 944.2,3487.4 945.2,3486.8 946.2,3485.1 947.2,3483.4 948.2,3481.6 949.2,3479.5 950.2,3476.9 951.2,3475.0 952.2,3472.9 953.2,3470.0 954.2,3467.4 955.2,3464.0 956.2,3460.8 957.2,3457.9 958.2,3455.2 959.2,3451.3 960.2,3447.9 961.2,3444.9 962.2,3441.0 963.2,3437.5 964.2,3434.0 965.2,3430.2 966.2,3426.4 967.2,3422.9 968.2,3419.2 969.2,3415.9 970.2,3412.6 971.2,3408.9 972.2,3405.8 973.2,3402.2 974.2,3399.4 975.2,3396.0 976.2,3392.7 977.2,3389.4 978.2,3386.1 979.2,3382.7 980.2,3379.1 981.2,3376.4 982.2,3372.8 983.2,3370.6 984.2,3367.1 985.2,3364.3 986.2,3361.0 987.2,3358.7 988.2,3355.9 989.2,3352.5 990.2,3350.1 991.2,3347.6 992.2,3345.2 993.2,3343.4 994.2,3341.5 995.2,3338.6 996.2,3337.2 997.2,3334.9 998.2,3333.5 999.2,3330.8 1000.2,3329.6 1001.2,3328.4 1002.2,3326.4 1003.2,3325.5 1004.2,3323.9 1005.2,3323.3 1006.2,3322.3 1007.2,3321.2 1008.2,3320.5 1009.2,3320.1 1010.2,3320.1 1011.2,3319.5 1012.2,3319.2 1013.2,3320.0 1014.2,3318.7 1015.2,3318.9 1016.2,3319.0 1017.2,3318.6 1018.2,3318.9 1019.2,3318.9 1020.2,3318.8 1021.2,3319.5 1022.2,3319.5 1023.2,3320.0 1024.2,3321.1 1025.2,3321.3 1026.2,3322.7 1027.2,3324.0 1028.2,3325.4 1029.2,3326.8 1030.2,3328.3 1031.2,3329.9 1032.2,3332.3 1033.2,3334.6 1034.2,3336.7 1035.2,3339.1 1036.2,3342.1 1037.2,3344.3 1038.2,3347.5 1039.2,3350.2 1040.2,3352.9 1041.2,3356.9 1042.2,3359.9 1043.2,3363.3 1044.2,3366.4 1045.2,3370.4 1046.2,3374.2 1047.2,3377.6 1048.2,3381.7 1049.2,3384.0 1050.2,3387.8 1051.2,3390.1 1052.2,3392.8 1053.2,3395.4 1054.2,3398.0 1055.2,3399.5 1056.2,3401.1 1057.2,3402.5 1058.2,3403.6 1059.2,3405.1 1060.2,3406.6 1061.2,3408.6 1062.2,3410.8 1063.2,3412.7 1064.2,3415.8 1065.2,3419.1 1066.2,3421.5 1067.2,3424.4 1068.2,3427.0 1069.2,3429.8 1070.2,3432.7 1071.2,3435.0 1072.2,3437.8 1073.2,3439.8 1074.2,3442.6 1075.2,3444.2 1076.2,3446.8 1077.2,3448.8 1078.2,3450.0 1079.2,3452.2 1080.2,3453.6 1081.2,3455.4 1082.2,3456.4 1083.2,3457.7 1084.2,3458.8 1085.2,3460.2 1086.2,3460.3 1087.2,3461.8 1088.2,3462.3 1089.2,3462.8 1090.2,3463.4 1091.2,3464.2 1092.2,3464.5 1093.2,3465.1 1094.2,3464.9 1095.2,3464.8 1096.2,3465.4 1097.2,3465.7 1098.2,3465.7 1099.2,3466.2 1100.2,3466.3 1101.2,3465.7 1102.2,3464.9 1103.2,3465.3 1104.2,3464.5 1105.2,3464.2 1106.2,3463.8 1107.2,3463.0 1108.2,3462.1 1109.2,3461.2 1110.2,3460.2 1111.2,3458.9 1112.2,3457.9 1113.2,3455.2 1114.2,3454.3 1115.2,3452.8 1116.2,3451.5 1117.2,3449.6 1118.2,3448.0 1119.2,3445.5 1120.2,3443.7 1121.2,3441.8 1122.2,3439.3 1123.2,3436.8 1124.2,3434.6 1125.2,3432.5 1126.2,3429.2 1127.2,3427.7 1128.2,3425.1 1129.2,3422.4 1130.2,3420.5 1131.2,3418.1 1132.2,3416.2 1133.2,3413.5 1134.2,3411.8 1135.2,3409.4 1136.2,3407.9 1137.2,3406.4 1138.2,3404.9 1139.2,3404.0 1140.2,3402.7 1141.2,3402.1 1142.2,3400.6 1143.2,3399.1 1144.2,3397.4 1145.2,3395.2 1146.2,3392.6 1147.2,3390.4 1148.2,3387.4 1149.2,3384.9 1150.2,3381.7 1151.2,3379.2 1152.2,3377.1 1153.2,3374.6 1154.2,3372.7 1155.2,3370.9 1156.2,3369.1 1157.2,3367.2 1158.2,3365.2 1159.2,3363.1 1160.2,3361.6 1161.2,3359.6 1162.2,3358.3 1163.2,3356.3 1164.2,3355.5 1165.2,3353.8 1166.2,3352.4 1167.2,3350.8 1168.2,3350.1 1169.2,3348.8 1170.2,3347.9 1171.2,3346.7 1172.2,3345.8 1173.2,3345.2 1174.2,3344.7 1175.2,3343.3 1176.2,3343.1 1177.2,3342.8 1178.2,3342.4 1179.2,3342.0 1180.2,3342.4 1181.2,3341.5 1182.2,3341.7 1183.2,3341.4 1184.2,3341.5 1185.2,3341.2 1186.2,3342.3 1187.2,3342.6 1188.2,3343.1 1189.2,3344.5 1190.2,3344.8 1191.2,3345.7 1192.2,3346.6 1193.2,3348.2 1194.2,3349.1 1195.2,3350.2 1196.2,3351.3 1197.2,3352.7 1198.2,3354.5 1199.2,3355.8 1200.2,3356.9 1201.2,3358.8 1202.2,3360.8 1203.2,3363.2 1204.2,3364.2 1205.2,3365.8 1206.2,3368.6 1207.2,3370.4 1208.2,3372.2 1209.2,3374.7 1210.2,3376.5 1211.2,3378.3 1212.2,3380.2 1213.2,3382.5 1214.2,3384.6 1215.2,3386.1 1216.2,3388.9 1217.2,3390.3 1218.2,3393.0 1219.2,3394.7 1220.2,3396.4 1221.2,3398.4 1222.2,3399.9 1223.2,3401.7 1224.2,3403.8 1225.2,3404.9 1226.2,3407.0 1227.2,3408.4 1228.2,3410.6 1229.2,3412.8 1230.2,3414.3 1231.2,3416.7 1232.2,3417.9 1233.2,3419.9 1234.2,3421.7 1235.2,3423.6 1236.2,3425.1 1237.2,3426.2 1238.2,3428.0 1239.2,3429.8 1240.2,3431.0 1241.2,3433.2 1242.2,3435.0 1243.2,3436.6 1244.2,3437.6 1245.2,3439.1 1246.2,3440.3 1247.2,3441.7 1248.2,3442.9 1249.2,3444.2 1250.2,3445.0 1251.2,3445.6 1252.2,3446.9 1253.2,3447.7 1254.2,3448.0 1255.2,3448.8 1256.2,3449.4 1257.2,3449.5 1258.2,3450.4 1259.2,3451.0 1260.2,3451.7 1261.2,3451.7 1262.2,3451.9 1263.2,3452.2 1264.2,3452.6 1265.2,3452.7 1266.2,3452.2 1267.2,3452.2 1268.2,3452.0 1269.2,3450.8 1270.2,3451.0 1271.2,3449.9 1272.2,3449.5 1273.2,3448.5 1274.2,3447.7 1275.2,3447.0 1276.2,3446.2 1277.2,3445.5 1278.2,3444.4 1279.2,3443.3 1280.2,3442.5 1281.2,3441.5 1282.2,3441.0 1283.2,3439.6 1284.2,3439.3 1285.2,3437.9 1286.2,3436.7 1287.2,3435.8 1288.2,3434.0 1289.2,3432.5 1290.2,3431.2 1291.2,3429.4 1292.2,3427.2 1293.2,3426.2 1294.2,3423.8 1295.2,3421.4 1296.2,3419.6 1297.2,3417.9 1298.2,3415.8 1299.2,3414.0 1300.2,3412.6 1301.2,3410.5 1302.2,3409.1 1303.2,3407.1 1304.2,3405.1 1305.2,3404.0 1306.2,3401.8 1307.2,3400.5 1308.2,3398.7 1309.2,3396.7 1310.2,3395.1 1311.2,3393.7 1312.2,3392.4 1313.2,3391.2 1314.2,3389.6 1315.2,3388.7 1316.2,3387.1 1317.2,3385.4 1318.2,3384.1 1319.2,3383.0 1320.2,3381.5 1321.2,3380.3 1322.2,3379.1 1323.2,3377.6 1324.2,3376.5 1325.2,3374.6 1326.2,3373.2 1327.2,3371.7 1328.2,3370.4 1329.2,3369.6 1330.2,3368.6 1331.2,3367.6 1332.2,3366.7 1333.2,3366.4 1334.2,3364.9 1335.2,3364.4 1336.2,3363.8 1337.2,3363.2 1338.2,3363.3 1339.2,3362.7 1340.2,3362.7 1341.2,3361.8 1342.2,3362.3 1343.2,3362.2 1344.2,3361.3 1345.2,3361.3 1346.2,3361.2 1347.2,3361.4 1348.2,3361.0 1349.2,3361.5 1350.2,3361.8 1351.2,3361.8 1352.2,3361.8 1353.2,3362.6 1354.2,3363.1 1355.2,3363.9 1356.2,3364.1 1357.2,3364.6 1358.2,3365.7 1359.2,3366.4 1360.2,3367.3 1361.2,3368.0 1362.2,3369.2 1363.2,3370.0 1364.2,3370.4 1365.2,3371.9 1366.2,3373.2 1367.2,3374.1 1368.2,3375.7 1369.2,3376.4 1370.2,3377.9 1371.2,3378.7 1372.2,3380.3 1373.2,3381.5 1374.2,3382.8 1375.2,3384.0 1376.2,3385.8 1377.2,3387.2 1378.2,3388.2 1379.2,3389.4 1380.2,3390.9 1381.2,3392.6 1382.2,3393.5 1383.2,3395.4 1384.2,3396.1 1385.2,3397.9 1386.2,3399.3 1387.2,3400.7 1388.2,3401.5 1389.2,3402.5 1390.2,3403.4 1391.2,3404.9 1392.2,3405.6 1393.2,3406.5 1394.2,3407.5 1395.2,3408.7 1396.2,3409.8 1397.2,3411.3 1398.2,3411.7 1399.2,3413.8 1400.2,3414.8 1401.2,3416.3 1402.2,3417.6 1403.2,3419.0 1404.2,3420.6 1405.2,3421.8 1406.2,3422.7 1407.2,3424.4 1408.2,3425.6 1409.2,3427.0 1410.2,3428.1 1411.2,3429.3 1412.2,3430.6 1413.2,3431.2 1414.2,3433.0 1415.2,3433.2 1416.2,3434.0 1417.2,3435.3 1418.2,3436.2 1419.2,3437.0 1420.2,3437.7 1421.2,3438.1 1422.2,3438.5 1423.2,3439.0 1424.2,3439.3 1425.2,3439.5 1426.2,3440.4 1427.2,3440.7 1428.2,3440.4 1429.2,3440.4 1430.2,3440.3 1431.2,3439.9 1432.2,3439.9 1433.2,3439.6 1434.2,3439.4 1435.2,3438.8 1436.2,3438.1 1437.2,3438.3 1438.2,3438.1 1439.2,3436.6 1440.2,3436.6 1441.2,3436.2 1442.2,3435.0 1443.2,3434.3 1444.2,3433.9 1445.2,3433.0 1446.2,3432.0 1447.2,3431.6 1448.2,3430.6 1449.2,3429.3 1450.2,3427.9 1451.2,3426.7 1452.2,3425.7 1453.2,3424.1 1454.2,3423.2 1455.2,3421.8 1456.2,3420.0 1457.2,3419.0 1458.2,3417.8 1459.2,3416.3 1460.2,3414.5 1461.2,3413.4 1462.2,3412.0 1463.2,3410.8 1464.2,3409.4 1465.2,3408.0 1466.2,3406.9 1467.2,3405.7 1468.2,3404.0 1469.2,3402.5 1470.2,3401.7 1471.2,3400.4 1472.2,3399.3 1473.2,3397.8 1474.2,3396.9 1475.2,3395.5 1476.2,3395.0 1477.2,3394.1 1478.2,3392.5 1479.2,3391.1 1480.2,3390.6 1481.2,3389.6 1482.2,3388.8 1483.2,3387.8 1484.2,3386.9 1485.2,3386.4 1486.2,3384.4 1487.2,3383.3 1488.2,3382.1 1489.2,3379.8 1490.2,3378.4 1491.2,3375.4 1492.2,3371.7 1493.2,3367.1 1494.2,3361.0 1495.2,3352.6 1496.2,3342.2 1497.2,3330.1 1498.2,3317.6 1499.2,3306.6 1500.2,3296.8 1501.2,3289.8 1502.2,3283.0 1503.2,3279.8 1504.2,3276.8 1505.2,3274.8 1506.2,3273.7 1507.2,3273.2 1508.2,3273.4 1509.2,3274.1 1510.2,3276.2 1511.2,3277.5 1512.2,3279.5 1513.2,3281.8 1514.2,3283.9 1515.2,3287.3 1516.2,3290.6 1517.2,3294.3 1518.2,3297.2 1519.2,3301.0 1520.2,3304.4 1521.2,3308.0 1522.2,3311.6 1523.2,3315.9 1524.2,3320.3 1525.2,3324.6 1526.2,3330.4 1527.2,3335.7 1528.2,3340.1 1529.2,3345.6 1530.2,3350.0 1531.2,3355.0 1532.2,3360.3 1533.2,3364.5 1534.2,3369.2 1535.2,3373.0 1536.2,3377.1 1537.2,3380.4 1538.2,3384.2 1539.2,3387.3 1540.2,3389.8 1541.2,3392.0 1542.2,3394.4 1543.2,3396.5 1544.2,3399.2 1545.2,3401.6 1546.2,3403.7 1547.2,3406.7 1548.2,3409.0 1549.2,3412.4 1550.2,3415.0 1551.2,3418.1 1552.2,3420.6 1553.2,3423.9 1554.2,3427.3 1555.2,3432.1 1556.2,3436.4 1557.2,3442.6 1558.2,3448.6 1559.2,3455.7 1560.2,3463.0 1561.2,3471.5 1562.2,3480.3 1563.2,3489.2 1564.2,3497.2 1565.2,3505.6 1566.2,3512.7 1567.2,3519.4 1568.2,3524.4 1569.2,3528.5 1570.2,3531.8 1571.2,3534.4 1572.2,3535.9 1573.2,3537.7 1574.2,3538.2 1575.2,3539.5 1576.2,3539.9 1577.2,3540.9 1578.2,3541.3 1579.2,3542.1 1580.2,3542.7 1581.2,3542.6 1582.2,3542.6 1583.2,3542.8 1584.2,3542.4 1585.2,3541.3 1586.2,3539.6 1587.2,3538.2 1588.2,3535.6 1589.2,3533.2 1590.2,3529.5 1591.2,3526.2 1592.2,3522.4 1593.2,3517.7 1594.2,3513.4 1595.2,3509.0 1596.2,3504.2 1597.2,3499.3 1598.2,3494.3 1599.2,3488.9 1600.2,3484.3 1601.2,3478.9 1602.2,3474.2 1603.2,3468.7 1604.2,3464.8 1605.2,3460.2 1606.2,3455.3 1607.2,3450.4 1608.2,3446.0 1609.2,3441.8 1610.2,3437.2 1611.2,3432.6 1612.2,3429.0 1613.2,3425.3 1614.2,3422.0 1615.2,3418.8 1616.2,3416.3 1617.2,3413.7 1618.2,3411.8 1619.2,3409.7 1620.2,3408.4 1621.2,3406.7 1622.2,3405.4 1623.2,3404.2 1624.2,3403.0 1625.2,3401.4 1626.2,3400.8 1627.2,3399.0 1628.2,3397.0 1629.2,3394.4 1630.2,3391.5 1631.2,3388.1 1632.2,3384.6 1633.2,3380.6 1634.2,3376.8 1635.2,3372.3 1636.2,3366.7 1637.2,3360.9 1638.2,3352.8 1639.2,3344.9 1640.2,3336.8 1641.2,3329.0 1642.2,3322.0 1643.2,3315.4 1644.2,3308.6 1645.2,3302.5 1646.2,3297.4 1647.2,3291.7 1648.2,3287.7 1649.2,3283.8 1650.2,3280.6 1651.2,3277.6 1652.2,3275.8 1653.2,3274.0 1654.2,3272.8 1655.2,3272.0 1656.2,3270.9 1657.2,3270.2 1658.2,3270.1 1659.2,3269.4 1660.2,3268.6 1661.2,3268.5 1662.2,3268.8 1663.2,3268.8 1664.2,3268.9 1665.2,3269.4 1666.2,3269.8 1667.2,3270.9 1668.2,3271.8 1669.2,3273.3 1670.2,3275.0 1671.2,3277.2 1672.2,3279.7 1673.2,3282.4 1674.2,3285.0 1675.2,3288.5 1676.2,3291.3 1677.2,3295.2 1678.2,3298.7 1679.2,3301.9 1680.2,3306.3 1681.2,3309.8 1682.2,3314.7 1683.2,3318.8 1684.2,3322.9 1685.2,3327.1 1686.2,3332.1 1687.2,3336.5 1688.2,3341.9 1689.2,3346.2 1690.2,3351.3 1691.2,3356.5 1692.2,3361.2 1693.2,3365.9 1694.2,3370.1 1695.2,3374.4 1696.2,3377.9 1697.2,3381.8 1698.2,3384.7 1699.2,3388.1 1700.2,3390.6 1701.2,3393.4 1702.2,3395.9 1703.2,3398.2 1704.2,3399.5 1705.2,3401.7 1706.2,3403.6 1707.2,3406.0 1708.2,3407.4 1709.2,3409.6 1710.2,3411.3 1711.2,3413.1 1712.2,3415.7 1713.2,3417.9 1714.2,3421.3 1715.2,3424.7 1716.2,3428.9 1717.2,3433.3 1718.2,3439.8 1719.2,3446.2 1720.2,3452.3 1721.2,3459.8 1722.2,3466.0 1723.2,3471.1 1724.2,3477.0 1725.2,3481.8 1726.2,3487.0 1727.2,3491.9 1728.2,3496.8 1729.2,3501.0 1730.2,3505.5 1731.2,3509.3 1732.2,3513.3 1733.2,3516.7 1734.2,3519.3 1735.2,3521.9 1736.2,3523.6 1737.2,3525.0 1738.2,3526.5 1739.2,3526.8 1740.2,3527.8 1741.2,3527.7 1742.2,3528.3 1743.2,3528.2 1744.2,3528.5 1745.2,3528.0 1746.2,3527.7 1747.2,3527.3 1748.2,3526.5 1749.2,3525.4 1750.2,3523.4 1751.2,3521.3 1752.2,3519.0 1753.2,3517.2 1754.2,3514.0 1755.2,3511.4 1756.2,3508.2 1757.2,3505.5 1758.2,3501.7 1759.2,3498.4 1760.2,3494.0 1761.2,3490.2 1762.2,3486.1 1763.2,3481.9 1764.2,3477.1 1765.2,3473.1 1766.2,3469.0 1767.2,3464.4 1768.2,3460.9 1769.2,3456.8 1770.2,3452.8 1771.2,3448.5 1772.2,3445.1 1773.2,3441.7 1774.2,3438.6 1775.2,3435.2 1776.2,3432.6 1777.2,3430.3 1778.2,3427.2 1779.2,3424.8 1780.2,3422.5 1781.2,3420.1 1782.2,3418.2 1783.2,3416.7 1784.2,3414.2 1785.2,3412.6 1786.2,3411.2 1787.2,3409.5 1788.2,3407.9 1789.2,3406.2 1790.2,3404.6 1791.2,3402.8 1792.2,3401.0 1793.2,3398.5 1794.2,3396.0 1795.2,3391.9 1796.2,3388.3 1797.2,3382.6 1798.2,3376.0 1799.2,3368.0 1800.2,3359.6 1801.2,3350.6 1802.2,3342.5 1803.2,3334.9 1804.2,3328.7 1805.2,3323.0 1806.2,3317.5 1807.2,3311.8 1808.2,3306.9 1809.2,3302.3 1810.2,3298.6 1811.2,3295.4 1812.2,3292.9 1813.2,3290.5 1814.2,3288.8 1815.2,3287.2 1816.2,3285.2 1817.2,3284.5 1818.2,3283.5 1819.2,3282.7 1820.2,3282.5 1821.2,3282.5 1822.2,3283.1 1823.2,3282.8 1824.2,3282.9 1825.2,3283.3 1826.2,3283.6 1827.2,3284.6 1828.2,3285.6 1829.2,3286.7 1830.2,3288.6 1831.2,3291.4 1832.2,3292.9 1833.2,3295.0 1834.2,3297.7 1835.2,3299.9 1836.2,3302.9 1837.2,3305.9 1838.2,3308.1 1839.2,3311.2 1840.2,3314.4 1841.2,3317.5 1842.2,3320.7 1843.2,3324.2 1844.2,3327.9 1845.2,3331.4 1846.2,3335.5 1847.2,3339.6 1848.2,3343.6 1849.2,3348.3 1850.2,3352.5 1851.2,3357.1 1852.2,3360.9 1853.2,3364.8 1854.2,3368.8 1855.2,3371.6 1856.2,3374.2 1857.2,3377.4 1858.2,3380.0 1859.2,3382.3 1860.2,3384.8 1861.2,3387.3 1862.2,3389.1 1863.2,3391.3 1864.2,3393.2 1865.2,3395.5 1866.2,3397.3 1867.2,3399.0 1868.2,3401.1 1869.2,3403.6 1870.2,3404.7 1871.2,3406.8 1872.2,3409.3 1873.2,3411.2 1874.2,3414.5 1875.2,3416.5 1876.2,3419.9 1877.2,3424.0 1878.2,3429.0 1879.2,3434.2 1880.2,3440.1 1881.2,3446.5 1882.2,3453.5 1883.2,3459.4 1884.2,3466.2 1885.2,3472.5 1886.2,3477.5 1887.2,3483.1 1888.2,3488.2 1889.2,3492.6 1890.2,3496.1 1891.2,3500.0 1892.2,3502.6 1893.2,3505.2 1894.2,3506.9 1895.2,3508.8 1896.2,3510.5 1897.2,3512.6 1898.2,3512.8 1899.2,3513.9 1900.2,3515.2 1901.2,3515.6 1902.2,3515.1 1903.2,3516.0 1904.2,3516.1 1905.2,3516.5 1906.2,3515.6 1907.2,3515.5 1908.2,3515.1 1909.2,3513.9 1910.2,3512.0 1911.2,3510.4 1912.2,3508.2 1913.2,3506.9 1914.2,3504.3 1915.2,3502.4 1916.2,3500.0 1917.2,3497.2 1918.2,3495.1 1919.2,3493.3 1920.1,3491.7"/><g fill="#000" shape-rendering="crispEdges"><rect x="242" y="3224" width="1745" height="5"/><rect x="242" y="3576" width="1745" height="5"/><rect x="242" y="3224" width="5" height="357"/><rect x="1981" y="3224" width="6" height="357"/><rect x="247" y="3249.1" width="21" height="5"/><rect x="247" y="3324.6" width="21" height="5"/><rect x="247" y="3400.0" width="21" height="5"/><rect x="247" y="3475.4" width="21" height="5"/><rect x="247" y="3550.9" width="21" height="5"/><rect x="247" y="3286.9" width="9" height="5"/><rect x="247" y="3362.3" width="9" height="5"/><rect x="247" y="3437.7" width="9" height="5"/><rect x="247" y="3513.1" width="9" height="5"/><rect x="306" y="3555" width="5" height="21"/><rect x="628" y="3555" width="5" height="21"/><rect x="950" y="3555" width="5" height="21"/><rect x="1273" y="3555" width="5" height="21"/><rect x="1595" y="3555" width="5" height="21"/><rect x="1917" y="3555" width="5" height="21"/><rect x="467" y="3567" width="5" height="9"/><rect x="789" y="3567" width="5" height="9"/><rect x="1112" y="3567" width="5" height="9"/><rect x="1434" y="3567" width="5" height="9"/><rect x="1756" y="3567" width="5" height="9"/></g><text x="219.3" y="3271.7" class="t n" text-anchor="end">60</text><text x="219.3" y="3347.2" class="t n" text-anchor="end">30</text><text x="219.3" y="3422.6" class="t n" text-anchor="end">0</text><text x="219.3" y="3498.0" class="t n" text-anchor="end">-30</text><text x="219.3" y="3573.5" class="t n" text-anchor="end">-60</text><text transform="translate(95,3405.9) rotate(-90)" class="t" text-anchor="middle" textLength="376" lengthAdjust="spacingAndGlyphs">Amplitude(A)</text><polyline fill="none" stroke="#0000a0" stroke-width="5.2" stroke-linejoin="round" stroke-linecap="round" points="308.2,3952.2 309.2,3949.6 310.2,3946.0 311.2,3942.2 312.2,3937.8 313.2,3933.5 314.2,3929.5 315.2,3925.0 316.2,3920.1 317.2,3915.7 318.2,3910.8 319.2,3906.1 320.2,3901.8 321.2,3896.3 322.2,3891.5 323.2,3886.8 324.2,3881.7 325.2,3876.6 326.2,3871.1 327.2,3866.2 328.2,3860.9 329.2,3855.5 330.2,3850.2 331.2,3844.9 332.2,3839.8 333.2,3834.7 334.2,3828.9 335.2,3823.8 336.2,3818.2 337.2,3812.5 338.2,3807.6 339.2,3802.8 340.2,3797.7 341.2,3792.1 342.2,3787.9 343.2,3782.2 344.2,3777.3 345.2,3772.5 346.2,3768.2 347.2,3763.2 348.2,3758.7 349.2,3753.3 350.2,3749.4 351.2,3745.0 352.2,3741.0 353.2,3736.6 354.2,3733.0 355.2,3728.7 356.2,3724.9 357.2,3721.3 358.2,3718.7 359.2,3715.4 360.2,3712.0 361.2,3709.6 362.2,3706.7 363.2,3704.2 364.2,3701.4 365.2,3699.4 366.2,3697.5 367.2,3695.8 368.2,3694.2 369.2,3693.4 370.2,3692.5 371.2,3691.2 372.2,3690.8 373.2,3689.8 374.2,3689.9 375.2,3689.4 376.2,3689.6 377.2,3689.9 378.2,3690.3 379.2,3691.4 380.2,3691.9 381.2,3693.1 382.2,3694.7 383.2,3696.4 384.2,3698.7 385.2,3701.0 386.2,3703.6 387.2,3706.9 388.2,3710.0 389.2,3713.6 390.2,3717.4 391.2,3720.8 392.2,3724.7 393.2,3729.0 394.2,3733.3 395.2,3737.4 396.2,3743.0 397.2,3747.5 398.2,3752.8 399.2,3757.1 400.2,3762.5 401.2,3767.7 402.2,3772.9 403.2,3778.6 404.2,3783.8 405.2,3789.3 406.2,3795.0 407.2,3800.1 408.2,3806.1 409.2,3811.8 410.2,3818.0 411.2,3823.3 412.2,3828.8 413.2,3834.2 414.2,3839.4 415.2,3845.1 416.2,3849.9 417.2,3854.8 418.2,3860.4 419.2,3865.6 420.2,3870.4 421.2,3875.4 422.2,3880.5 423.2,3885.5 424.2,3890.1 425.2,3895.1 426.2,3899.5 427.2,3904.6 428.2,3908.3 429.2,3913.2 430.2,3917.3 431.2,3921.4 432.2,3925.1 433.2,3929.7 434.2,3933.3 435.2,3936.9 436.2,3940.9 437.2,3944.8 438.2,3948.6 439.2,3952.0 440.2,3955.5 441.2,3959.1 442.2,3962.1 443.2,3965.6 444.2,3967.9 445.2,3970.8 446.2,3973.4 447.2,3975.0 448.2,3977.2 449.2,3978.8 450.2,3980.2 451.2,3981.9 452.2,3982.3 453.2,3983.2 454.2,3983.4 455.2,3984.2 456.2,3984.7 457.2,3984.5 458.2,3984.6 459.2,3983.7 460.2,3983.2 461.2,3981.5 462.2,3979.7 463.2,3978.3 464.2,3975.7 465.2,3973.3 466.2,3970.3 467.2,3967.4 468.2,3964.0 469.2,3960.2 470.2,3957.0 471.2,3953.3 472.2,3949.4 473.2,3945.2 474.2,3941.5 475.2,3936.5 476.2,3932.2 477.2,3927.5 478.2,3922.3 479.2,3917.2 480.2,3912.5 481.2,3907.4 482.2,3902.0 483.2,3896.3 484.2,3891.3 485.2,3886.1 486.2,3880.8 487.2,3875.6 488.2,3870.1 489.2,3864.9 490.2,3859.7 491.2,3853.4 492.2,3848.9 493.2,3843.2 494.2,3838.0 495.2,3832.6 496.2,3827.0 497.2,3821.6 498.2,3816.7 499.2,3811.3 500.2,3806.3 501.2,3800.9 502.2,3796.4 503.2,3790.9 504.2,3786.5 505.2,3780.9 506.2,3776.4 507.2,3771.7 508.2,3766.4 509.2,3761.8 510.2,3757.5 511.2,3753.1 512.2,3748.6 513.2,3743.8 514.2,3739.5 515.2,3734.5 516.2,3730.5 517.2,3727.0 518.2,3722.7 519.2,3719.3 520.2,3715.7 521.2,3713.0 522.2,3709.8 523.2,3707.6 524.2,3705.5 525.2,3702.9 526.2,3700.8 527.2,3698.8 528.2,3697.4 529.2,3695.5 530.2,3694.4 531.2,3694.0 532.2,3692.2 533.2,3691.6 534.2,3690.6 535.2,3690.7 536.2,3689.9 537.2,3689.4 538.2,3689.3 539.2,3690.1 540.2,3690.4 541.2,3691.0 542.2,3691.6 543.2,3692.8 544.2,3694.1 545.2,3695.5 546.2,3696.9 547.2,3699.0 548.2,3701.7 549.2,3704.9 550.2,3707.4 551.2,3710.6 552.2,3714.2 553.2,3717.6 554.2,3721.3 555.2,3725.8 556.2,3729.8 557.2,3734.2 558.2,3738.6 559.2,3743.4 560.2,3747.7 561.2,3752.6 562.2,3757.2 563.2,3762.6 564.2,3767.8 565.2,3773.5 566.2,3778.8 567.2,3784.3 568.2,3789.6 569.2,3795.0 570.2,3800.2 571.2,3805.5 572.2,3810.7 573.2,3816.1 574.2,3821.2 575.2,3826.9 576.2,3832.2 577.2,3837.1 578.2,3842.3 579.2,3848.0 580.2,3853.2 581.2,3858.2 582.2,3863.4 583.2,3867.7 584.2,3872.2 585.2,3877.1 586.2,3881.8 587.2,3886.4 588.2,3890.2 589.2,3894.8 590.2,3899.1 591.2,3903.8 592.2,3907.8 593.2,3911.8 594.2,3916.1 595.2,3919.9 596.2,3923.9 597.2,3927.9 598.2,3931.7 599.2,3935.7 600.2,3939.7 601.2,3943.5 602.2,3947.5 603.2,3950.8 604.2,3953.8 605.2,3956.2 606.2,3959.1 607.2,3961.7 608.2,3964.0 609.2,3965.7 610.2,3967.7 611.2,3969.3 612.2,3970.6 613.2,3971.9 614.2,3973.0 615.2,3973.8 616.2,3974.5 617.2,3975.1 618.2,3975.3 619.2,3974.7 620.2,3974.0 621.2,3973.6 622.2,3972.9 623.2,3971.2 624.2,3970.2 625.2,3967.8 626.2,3965.4 627.2,3962.3 628.2,3959.5 629.2,3956.0 630.2,3952.4 631.2,3948.1 632.2,3944.7 633.2,3940.0 634.2,3936.0 635.2,3931.9 636.2,3927.3 637.2,3922.9 638.2,3918.1 639.2,3913.4 640.2,3908.3 641.2,3903.7 642.2,3898.6 643.2,3893.0 644.2,3887.6 645.2,3882.5 646.2,3876.8 647.2,3871.4 648.2,3866.0 649.2,3860.3 650.2,3854.8 651.2,3848.9 652.2,3842.9 653.2,3837.4 654.2,3832.3 655.2,3827.2 656.2,3821.4 657.2,3815.9 658.2,3811.2 659.2,3805.5 660.2,3800.3 661.2,3795.0 662.2,3789.2 663.2,3784.0 664.2,3778.7 665.2,3773.7 666.2,3768.5 667.2,3763.1 668.2,3758.3 669.2,3752.8 670.2,3748.5 671.2,3743.9 672.2,3739.4 673.2,3734.8 674.2,3731.0 675.2,3726.9 676.2,3723.7 677.2,3719.7 678.2,3716.3 679.2,3713.0 680.2,3710.0 681.2,3707.0 682.2,3704.4 683.2,3701.6 684.2,3699.8 685.2,3697.3 686.2,3695.7 687.2,3693.8 688.2,3692.3 689.2,3690.6 690.2,3689.1 691.2,3688.1 692.2,3687.5 693.2,3687.1 694.2,3686.0 695.2,3685.5 696.2,3685.3 697.2,3684.5 698.2,3684.5 699.2,3684.4 700.2,3684.4 701.2,3685.1 702.2,3686.0 703.2,3687.0 704.2,3687.8 705.2,3689.9 706.2,3690.9 707.2,3692.6 708.2,3694.7 709.2,3697.2 710.2,3700.7 711.2,3703.4 712.2,3708.2 713.2,3712.5 714.2,3717.9 715.2,3723.1 716.2,3728.1 717.2,3733.5 718.2,3739.3 719.2,3744.2 720.2,3749.7 721.2,3755.1 722.2,3760.9 723.2,3766.5 724.2,3772.1 725.2,3777.6 726.2,3783.3 727.2,3788.6 728.2,3794.9 729.2,3800.2 730.2,3805.8 731.2,3811.6 732.2,3817.2 733.2,3823.1 734.2,3828.7 735.2,3834.3 736.2,3839.4 737.2,3844.6 738.2,3850.0 739.2,3855.1 740.2,3860.4 741.2,3866.2 742.2,3870.6 743.2,3875.8 744.2,3881.0 745.2,3885.8 746.2,3890.6 747.2,3894.9 748.2,3899.3 749.2,3904.3 750.2,3908.1 751.2,3912.5 752.2,3916.6 753.2,3920.2 754.2,3924.5 755.2,3928.2 756.2,3932.1 757.2,3935.3 758.2,3938.0 759.2,3941.6 760.2,3943.5 761.2,3946.5 762.2,3948.7 763.2,3950.8 764.2,3952.9 765.2,3954.8 766.2,3956.0 767.2,3957.6 768.2,3959.2 769.2,3960.3 770.2,3961.2 771.2,3961.9 772.2,3962.4 773.2,3962.9 774.2,3963.4 775.2,3964.1 776.2,3964.6 777.2,3964.9 778.2,3964.2 779.2,3964.2 780.2,3963.8 781.2,3963.1 782.2,3961.9 783.2,3961.5 784.2,3959.9 785.2,3957.7 786.2,3955.4 787.2,3952.8 788.2,3949.4 789.2,3946.2 790.2,3942.9 791.2,3939.3 792.2,3935.2 793.2,3931.1 794.2,3926.2 795.2,3921.1 796.2,3917.6 797.2,3912.6 798.2,3907.7 799.2,3903.2 800.2,3897.6 801.2,3892.5 802.2,3887.4 803.2,3882.7 804.2,3877.3 805.2,3871.4 806.2,3866.8 807.2,3861.1 808.2,3855.8 809.2,3850.2 810.2,3845.5 811.2,3839.8 812.2,3834.7 813.2,3828.8 814.2,3823.8 815.2,3818.3 816.2,3812.9 817.2,3807.3 818.2,3802.0 819.2,3796.6 820.2,3791.5 821.2,3786.6 822.2,3781.8 823.2,3776.5 824.2,3772.0 825.2,3767.5 826.2,3762.8 827.2,3758.7 828.2,3754.4 829.2,3750.3 830.2,3746.4 831.2,3742.6 832.2,3738.8 833.2,3735.2 834.2,3731.8 835.2,3728.3 836.2,3725.2 837.2,3722.7 838.2,3719.9 839.2,3717.8 840.2,3714.8 841.2,3712.4 842.2,3710.6 843.2,3708.6 844.2,3706.7 845.2,3705.7 846.2,3704.5 847.2,3702.8 848.2,3701.5 849.2,3700.8 850.2,3700.0 851.2,3699.2 852.2,3699.5 853.2,3699.1 854.2,3699.2 855.2,3698.7 856.2,3698.7 857.2,3698.6 858.2,3698.3 859.2,3699.4 860.2,3698.6 861.2,3699.3 862.2,3700.2 863.2,3700.9 864.2,3702.5 865.2,3703.7 866.2,3705.6 867.2,3707.7 868.2,3710.2 869.2,3713.1 870.2,3716.1 871.2,3719.6 872.2,3723.1 873.2,3726.6 874.2,3730.5 875.2,3734.6 876.2,3739.0 877.2,3743.1 878.2,3747.5 879.2,3751.7 880.2,3757.2 881.2,3761.1 882.2,3766.6 883.2,3771.4 884.2,3776.5 885.2,3781.5 886.2,3786.9 887.2,3792.2 888.2,3797.7 889.2,3803.1 890.2,3808.7 891.2,3813.4 892.2,3819.2 893.2,3824.8 894.2,3830.0 895.2,3834.7 896.2,3840.1 897.2,3845.2 898.2,3850.3 899.2,3854.7 900.2,3860.4 901.2,3864.7 902.2,3870.4 903.2,3874.9 904.2,3879.4 905.2,3884.3 906.2,3888.7 907.2,3893.0 908.2,3897.4 909.2,3901.8 910.2,3905.6 911.2,3909.9 912.2,3913.9 913.2,3917.7 914.2,3921.4 915.2,3924.9 916.2,3928.2 917.2,3931.7 918.2,3934.7 919.2,3937.9 920.2,3941.2 921.2,3944.3 922.2,3946.7 923.2,3949.1 924.2,3952.4 925.2,3954.3 926.2,3956.4 927.2,3957.7 928.2,3959.0 929.2,3959.9 930.2,3960.8 931.2,3962.1 932.2,3962.5 933.2,3962.7 934.2,3962.6 935.2,3963.0 936.2,3963.1 937.2,3963.3 938.2,3962.6 939.2,3963.2 940.2,3963.1 941.2,3961.8 942.2,3960.9 943.2,3959.6 944.2,3957.5 945.2,3955.7 946.2,3952.7 947.2,3949.5 948.2,3946.1 949.2,3942.2 950.2,3938.4 951.2,3934.3 952.2,3930.8 953.2,3926.3 954.2,3922.7 955.2,3918.2 956.2,3913.7 957.2,3909.6 958.2,3904.8 959.2,3900.3 960.2,3895.6 961.2,3891.0 962.2,3886.2 963.2,3881.2 964.2,3876.0 965.2,3870.7 966.2,3866.0 967.2,3861.0 968.2,3856.2 969.2,3851.2 970.2,3846.5 971.2,3842.1 972.2,3837.0 973.2,3832.7 974.2,3828.5 975.2,3823.6 976.2,3819.1 977.2,3815.0 978.2,3810.6 979.2,3806.5 980.2,3802.4 981.2,3797.7 982.2,3793.4 983.2,3788.8 984.2,3784.5 985.2,3780.5 986.2,3776.1 987.2,3772.6 988.2,3768.4 989.2,3764.7 990.2,3760.9 991.2,3757.5 992.2,3753.9 993.2,3750.8 994.2,3747.2 995.2,3744.6 996.2,3742.0 997.2,3738.4 998.2,3736.6 999.2,3733.7 1000.2,3731.7 1001.2,3729.1 1002.2,3727.9 1003.2,3725.4 1004.2,3724.0 1005.2,3723.0 1006.2,3721.0 1007.2,3719.5 1008.2,3719.0 1009.2,3717.9 1010.2,3717.1 1011.2,3716.5 1012.2,3715.9 1013.2,3716.2 1014.2,3715.9 1015.2,3715.0 1016.2,3715.1 1017.2,3714.8 1018.2,3715.1 1019.2,3714.7 1020.2,3715.5 1021.2,3715.5 1022.2,3716.0 1023.2,3717.1 1024.2,3718.2 1025.2,3720.3 1026.2,3721.6 1027.2,3723.7 1028.2,3726.5 1029.2,3729.7 1030.2,3732.4 1031.2,3735.6 1032.2,3740.0 1033.2,3743.7 1034.2,3747.5 1035.2,3751.7 1036.2,3756.2 1037.2,3759.5 1038.2,3764.8 1039.2,3768.7 1040.2,3773.3 1041.2,3777.5 1042.2,3782.7 1043.2,3786.3 1044.2,3791.3 1045.2,3795.0 1046.2,3800.3 1047.2,3805.1 1048.2,3809.2 1049.2,3813.8 1050.2,3818.7 1051.2,3823.0 1052.2,3826.4 1053.2,3828.7 1054.2,3831.2 1055.2,3833.0 1056.2,3835.9 1057.2,3837.8 1058.2,3840.9 1059.2,3843.5 1060.2,3846.5 1061.2,3850.2 1062.2,3852.8 1063.2,3856.7 1064.2,3859.6 1065.2,3862.8 1066.2,3866.2 1067.2,3870.1 1068.2,3873.2 1069.2,3876.5 1070.2,3879.6 1071.2,3883.6 1072.2,3886.7 1073.2,3889.6 1074.2,3892.7 1075.2,3894.6 1076.2,3898.0 1077.2,3900.7 1078.2,3903.1 1079.2,3905.1 1080.2,3907.3 1081.2,3908.9 1082.2,3910.7 1083.2,3912.1 1084.2,3913.9 1085.2,3915.1 1086.2,3916.4 1087.2,3918.1 1088.2,3918.9 1089.2,3920.0 1090.2,3920.6 1091.2,3921.7 1092.2,3922.8 1093.2,3923.2 1094.2,3923.6 1095.2,3923.9 1096.2,3924.3 1097.2,3924.7 1098.2,3924.7 1099.2,3924.3 1100.2,3925.5 1101.2,3925.3 1102.2,3924.7 1103.2,3924.7 1104.2,3923.4 1105.2,3923.3 1106.2,3922.1 1107.2,3921.1 1108.2,3919.4 1109.2,3917.9 1110.2,3916.1 1111.2,3914.1 1112.2,3911.7 1113.2,3909.3 1114.2,3906.6 1115.2,3904.7 1116.2,3901.7 1117.2,3898.9 1118.2,3896.0 1119.2,3892.8 1120.2,3889.9 1121.2,3886.5 1122.2,3883.6 1123.2,3880.1 1124.2,3876.8 1125.2,3873.0 1126.2,3869.8 1127.2,3866.3 1128.2,3863.3 1129.2,3859.3 1130.2,3856.1 1131.2,3853.9 1132.2,3850.9 1133.2,3847.9 1134.2,3846.2 1135.2,3844.0 1136.2,3841.6 1137.2,3838.5 1138.2,3836.7 1139.2,3834.1 1140.2,3831.8 1141.2,3829.1 1142.2,3827.8 1143.2,3825.1 1144.2,3823.4 1145.2,3821.6 1146.2,3819.2 1147.2,3816.4 1148.2,3812.9 1149.2,3809.4 1150.2,3805.4 1151.2,3801.1 1152.2,3798.3 1153.2,3794.5 1154.2,3791.3 1155.2,3788.3 1156.2,3785.1 1157.2,3782.3 1158.2,3779.5 1159.2,3777.5 1160.2,3775.1 1161.2,3772.5 1162.2,3769.9 1163.2,3768.3 1164.2,3765.9 1165.2,3763.6 1166.2,3761.7 1167.2,3760.5 1168.2,3759.2 1169.2,3757.3 1170.2,3755.8 1171.2,3754.6 1172.2,3753.3 1173.2,3752.3 1174.2,3751.5 1175.2,3750.5 1176.2,3750.2 1177.2,3749.2 1178.2,3749.2 1179.2,3748.7 1180.2,3748.3 1181.2,3748.1 1182.2,3747.9 1183.2,3748.4 1184.2,3748.0 1185.2,3749.0 1186.2,3749.6 1187.2,3750.2 1188.2,3751.7 1189.2,3751.9 1190.2,3753.8 1191.2,3755.1 1192.2,3756.5 1193.2,3758.4 1194.2,3759.8 1195.2,3761.6 1196.2,3763.8 1197.2,3765.3 1198.2,3767.0 1199.2,3769.3 1200.2,3771.2 1201.2,3773.2 1202.2,3775.7 1203.2,3777.7 1204.2,3780.1 1205.2,3782.9 1206.2,3785.6 1207.2,3788.4 1208.2,3791.0 1209.2,3794.6 1210.2,3797.3 1211.2,3800.2 1212.2,3803.2 1213.2,3805.5 1214.2,3809.3 1215.2,3811.7 1216.2,3814.9 1217.2,3817.2 1218.2,3820.5 1219.2,3822.6 1220.2,3825.1 1221.2,3827.8 1222.2,3829.8 1223.2,3831.3 1224.2,3833.4 1225.2,3835.6 1226.2,3837.6 1227.2,3839.9 1228.2,3841.8 1229.2,3843.7 1230.2,3846.3 1231.2,3848.9 1232.2,3851.5 1233.2,3854.1 1234.2,3856.8 1235.2,3859.3 1236.2,3861.8 1237.2,3864.7 1238.2,3867.2 1239.2,3869.6 1240.2,3872.1 1241.2,3874.9 1242.2,3877.4 1243.2,3879.6 1244.2,3881.0 1245.2,3883.7 1246.2,3885.0 1247.2,3887.0 1248.2,3888.9 1249.2,3890.0 1250.2,3891.6 1251.2,3893.2 1252.2,3895.3 1253.2,3896.6 1254.2,3897.5 1255.2,3899.0 1256.2,3900.2 1257.2,3901.2 1258.2,3901.8 1259.2,3903.1 1260.2,3903.4 1261.2,3904.3 1262.2,3904.2 1263.2,3905.2 1264.2,3905.5 1265.2,3905.9 1266.2,3904.9 1267.2,3905.5 1268.2,3905.2 1269.2,3904.4 1270.2,3904.2 1271.2,3903.7 1272.2,3902.7 1273.2,3901.9 1274.2,3901.2 1275.2,3900.0 1276.2,3899.2 1277.2,3898.0 1278.2,3896.5 1279.2,3895.2 1280.2,3894.4 1281.2,3892.8 1282.2,3890.8 1283.2,3889.2 1284.2,3887.5 1285.2,3884.7 1286.2,3882.7 1287.2,3880.9 1288.2,3878.7 1289.2,3875.9 1290.2,3873.6 1291.2,3871.6 1292.2,3869.5 1293.2,3866.8 1294.2,3863.8 1295.2,3862.3 1296.2,3859.7 1297.2,3857.2 1298.2,3854.8 1299.2,3853.1 1300.2,3850.7 1301.2,3848.6 1302.2,3846.5 1303.2,3844.6 1304.2,3842.9 1305.2,3841.4 1306.2,3839.1 1307.2,3837.9 1308.2,3836.5 1309.2,3835.7 1310.2,3833.9 1311.2,3832.2 1312.2,3831.1 1313.2,3829.4 1314.2,3827.7 1315.2,3826.1 1316.2,3824.2 1317.2,3822.2 1318.2,3821.3 1319.2,3818.9 1320.2,3816.7 1321.2,3815.0 1322.2,3813.2 1323.2,3810.4 1324.2,3808.7 1325.2,3806.8 1326.2,3804.5 1327.2,3802.8 1328.2,3800.4 1329.2,3798.7 1330.2,3797.0 1331.2,3795.3 1332.2,3793.5 1333.2,3791.7 1334.2,3790.2 1335.2,3788.1 1336.2,3787.7 1337.2,3785.5 1338.2,3784.1 1339.2,3782.9 1340.2,3781.8 1341.2,3780.7 1342.2,3779.6 1343.2,3778.6 1344.2,3778.4 1345.2,3777.7 1346.2,3777.4 1347.2,3777.2 1348.2,3777.1 1349.2,3777.3 1350.2,3777.0 1351.2,3776.7 1352.2,3777.5 1353.2,3777.8 1354.2,3777.5 1355.2,3778.5 1356.2,3778.8 1357.2,3779.2 1358.2,3780.1 1359.2,3781.0 1360.2,3781.9 1361.2,3783.0 1362.2,3783.7 1363.2,3784.7 1364.2,3786.4 1365.2,3786.6 1366.2,3788.0 1367.2,3789.3 1368.2,3790.9 1369.2,3792.5 1370.2,3793.5 1371.2,3795.8 1372.2,3796.9 1373.2,3799.7 1374.2,3800.7 1375.2,3803.1 1376.2,3804.7 1377.2,3807.0 1378.2,3808.6 1379.2,3810.8 1380.2,3812.7 1381.2,3814.5 1382.2,3816.4 1383.2,3817.8 1384.2,3819.5 1385.2,3820.8 1386.2,3822.5 1387.2,3823.9 1388.2,3825.6 1389.2,3826.8 1390.2,3827.8 1391.2,3829.5 1392.2,3831.1 1393.2,3832.3 1394.2,3833.7 1395.2,3836.2 1396.2,3837.4 1397.2,3839.2 1398.2,3841.3 1399.2,3842.2 1400.2,3844.1 1401.2,3845.2 1402.2,3847.5 1403.2,3849.1 1404.2,3850.5 1405.2,3852.2 1406.2,3854.0 1407.2,3855.7 1408.2,3857.8 1409.2,3859.0 1410.2,3860.7 1411.2,3862.4 1412.2,3863.7 1413.2,3865.6 1414.2,3867.1 1415.2,3869.1 1416.2,3870.2 1417.2,3872.1 1418.2,3874.1 1419.2,3875.1 1420.2,3876.8 1421.2,3878.8 1422.2,3879.4 1423.2,3880.9 1424.2,3881.9 1425.2,3882.5 1426.2,3883.2 1427.2,3884.7 1428.2,3884.7 1429.2,3885.4 1430.2,3885.3 1431.2,3885.7 1432.2,3885.3 1433.2,3885.2 1434.2,3885.2 1435.2,3885.2 1436.2,3885.0 1437.2,3884.9 1438.2,3884.9 1439.2,3884.3 1440.2,3884.2 1441.2,3883.2 1442.2,3882.9 1443.2,3882.2 1444.2,3881.4 1445.2,3879.4 1446.2,3879.2 1447.2,3877.1 1448.2,3876.5 1449.2,3874.7 1450.2,3873.3 1451.2,3871.4 1452.2,3870.3 1453.2,3868.6 1454.2,3866.6 1455.2,3864.9 1456.2,3863.5 1457.2,3861.9 1458.2,3860.2 1459.2,3858.2 1460.2,3856.6 1461.2,3855.2 1462.2,3853.5 1463.2,3851.9 1464.2,3849.9 1465.2,3848.0 1466.2,3846.6 1467.2,3845.0 1468.2,3843.2 1469.2,3842.0 1470.2,3840.2 1471.2,3839.1 1472.2,3837.6 1473.2,3837.0 1474.2,3835.4 1475.2,3833.9 1476.2,3832.2 1477.2,3830.9 1478.2,3830.1 1479.2,3828.5 1480.2,3827.2 1481.2,3825.2 1482.2,3823.7 1483.2,3822.5 1484.2,3820.7 1485.2,3818.7 1486.2,3817.2 1487.2,3815.9 1488.2,3813.9 1489.2,3812.5 1490.2,3811.1 1491.2,3809.1 1492.2,3807.3 1493.2,3805.4 1494.2,3804.2 1495.2,3801.8 1496.2,3800.2 1497.2,3798.8 1498.2,3796.9 1499.2,3796.2 1500.2,3794.5 1501.2,3793.7 1502.2,3792.4 1503.2,3791.5 1504.2,3790.8 1505.2,3789.5 1506.2,3789.1 1507.2,3788.6 1508.2,3788.8 1509.2,3788.0 1510.2,3787.7 1511.2,3787.2 1512.2,3787.6 1513.2,3787.7 1514.2,3787.6 1515.2,3788.2 1516.2,3787.3 1517.2,3787.5 1518.2,3787.9 1519.2,3788.0 1520.2,3788.6 1521.2,3789.1 1522.2,3789.5 1523.2,3790.1 1524.2,3790.8 1525.2,3791.7 1526.2,3792.2 1527.2,3793.3 1528.2,3794.8 1529.2,3795.6 1530.2,3796.7 1531.2,3798.3 1532.2,3799.4 1533.2,3800.8 1534.2,3802.1 1535.2,3803.6 1536.2,3805.1 1537.2,3806.1 1538.2,3807.6 1539.2,3809.9 1540.2,3811.0 1541.2,3812.5 1542.2,3814.0 1543.2,3816.1 1544.2,3817.4 1545.2,3818.5 1546.2,3820.1 1547.2,3821.4 1548.2,3823.2 1549.2,3824.3 1550.2,3825.6 1551.2,3826.6 1552.2,3828.2 1553.2,3829.7 1554.2,3830.9 1555.2,3832.5 1556.2,3833.5 1557.2,3835.0 1558.2,3836.3 1559.2,3837.3 1560.2,3839.2 1561.2,3840.4 1562.2,3842.0 1563.2,3843.1 1564.2,3844.8 1565.2,3846.7 1566.2,3848.3 1567.2,3850.4 1568.2,3852.3 1569.2,3854.4 1570.2,3856.2 1571.2,3857.4 1572.2,3859.3 1573.2,3859.8 1574.2,3860.3 1575.2,3860.9 1576.2,3861.3 1577.2,3862.5 1578.2,3864.2 1579.2,3865.3 1580.2,3867.4 1581.2,3868.9 1582.2,3870.9 1583.2,3872.4 1584.2,3874.0 1585.2,3876.0 1586.2,3877.0 1587.2,3877.9 1588.2,3878.3 1589.2,3879.4 1590.2,3879.1 1591.2,3879.2 1592.2,3879.5 1593.2,3879.7 1594.2,3879.7 1595.2,3879.9 1596.2,3879.1 1597.2,3879.1 1598.2,3879.3 1599.2,3879.2 1600.2,3878.2 1601.2,3877.9 1602.2,3877.1 1603.2,3876.8 1604.2,3876.1 1605.2,3875.6 1606.2,3874.4 1607.2,3874.0 1608.2,3872.7 1609.2,3871.5 1610.2,3870.6 1611.2,3869.0 1612.2,3867.4 1613.2,3866.3 1614.2,3865.5 1615.2,3863.6 1616.2,3862.4 1617.2,3860.8 1618.2,3859.5 1619.2,3858.3 1620.2,3856.2 1621.2,3855.2 1622.2,3854.1 1623.2,3852.8 1624.2,3851.9 1625.2,3850.8 1626.2,3849.0 1627.2,3847.7 1628.2,3846.4 1629.2,3845.3 1630.2,3843.3 1631.2,3842.1 1632.2,3840.9 1633.2,3839.7 1634.2,3837.8 1635.2,3837.1 1636.2,3835.2 1637.2,3834.4 1638.2,3833.0 1639.2,3830.7 1640.2,3829.8 1641.2,3828.1 1642.2,3826.2 1643.2,3824.9 1644.2,3823.6 1645.2,3821.7 1646.2,3819.9 1647.2,3818.4 1648.2,3817.2 1649.2,3815.9 1650.2,3815.1 1651.2,3813.6 1652.2,3812.2 1653.2,3811.1 1654.2,3809.5 1655.2,3808.2 1656.2,3806.7 1657.2,3805.4 1658.2,3804.2 1659.2,3802.5 1660.2,3801.9 1661.2,3800.2 1662.2,3798.7 1663.2,3797.8 1664.2,3795.9 1665.2,3795.2 1666.2,3793.7 1667.2,3793.2 1668.2,3791.8 1669.2,3791.3 1670.2,3790.8 1671.2,3790.4 1672.2,3790.6 1673.2,3790.1 1674.2,3790.3 1675.2,3790.0 1676.2,3790.5 1677.2,3789.6 1678.2,3790.5 1679.2,3790.5 1680.2,3790.7 1681.2,3790.8 1682.2,3791.6 1683.2,3791.4 1684.2,3791.9 1685.2,3792.1 1686.2,3792.6 1687.2,3793.2 1688.2,3793.9 1689.2,3794.2 1690.2,3795.1 1691.2,3795.8 1692.2,3797.2 1693.2,3798.0 1694.2,3799.1 1695.2,3800.7 1696.2,3801.7 1697.2,3803.1 1698.2,3804.3 1699.2,3805.8 1700.2,3807.1 1701.2,3808.2 1702.2,3809.8 1703.2,3811.0 1704.2,3812.4 1705.2,3813.9 1706.2,3815.0 1707.2,3816.2 1708.2,3818.1 1709.2,3819.6 1710.2,3820.3 1711.2,3822.0 1712.2,3823.2 1713.2,3824.3 1714.2,3825.7 1715.2,3827.3 1716.2,3828.7 1717.2,3830.2 1718.2,3831.7 1719.2,3833.0 1720.2,3835.0 1721.2,3836.0 1722.2,3837.5 1723.2,3839.6 1724.2,3841.1 1725.2,3842.9 1726.2,3844.2 1727.2,3845.7 1728.2,3847.8 1729.2,3849.2 1730.2,3850.8 1731.2,3852.1 1732.2,3853.9 1733.2,3854.6 1734.2,3856.6 1735.2,3857.3 1736.2,3859.4 1737.2,3860.2 1738.2,3862.4 1739.2,3864.4 1740.2,3865.4 1741.2,3866.9 1742.2,3869.3 1743.2,3870.2 1744.2,3871.5 1745.2,3873.5 1746.2,3873.7 1747.2,3875.1 1748.2,3876.1 1749.2,3877.1 1750.2,3877.4 1751.2,3878.6 1752.2,3879.1 1753.2,3879.1 1754.2,3879.3 1755.2,3879.1 1756.2,3879.6 1757.2,3879.2 1758.2,3879.4 1759.2,3879.3 1760.2,3878.8 1761.2,3878.0 1762.2,3877.9 1763.2,3878.0 1764.2,3877.2 1765.2,3876.9 1766.2,3875.2 1767.2,3874.9 1768.2,3874.0 1769.2,3872.7 1770.2,3871.8 1771.2,3871.0 1772.2,3869.6 1773.2,3868.0 1774.2,3866.8 1775.2,3865.7 1776.2,3863.7 1777.2,3862.7 1778.2,3861.6 1779.2,3859.8 1780.2,3859.0 1781.2,3857.3 1782.2,3856.3 1783.2,3854.9 1784.2,3853.4 1785.2,3851.9 1786.2,3850.5 1787.2,3849.4 1788.2,3848.0 1789.2,3847.0 1790.2,3845.3 1791.2,3844.1 1792.2,3843.1 1793.2,3841.4 1794.2,3840.1 1795.2,3839.1 1796.2,3837.3 1797.2,3836.1 1798.2,3834.8 1799.2,3833.3 1800.2,3831.7 1801.2,3830.3 1802.2,3829.3 1803.2,3828.3 1804.2,3826.9 1805.2,3825.7 1806.2,3824.2 1807.2,3822.5 1808.2,3821.0 1809.2,3819.9 1810.2,3818.6 1811.2,3817.1 1812.2,3816.2 1813.2,3814.5 1814.2,3813.5 1815.2,3812.3 1816.2,3810.3 1817.2,3809.2 1818.2,3808.1 1819.2,3806.4 1820.2,3804.6 1821.2,3802.6 1822.2,3801.0 1823.2,3799.6 1824.2,3798.4 1825.2,3796.7 1826.2,3795.2 1827.2,3794.1 1828.2,3793.2 1829.2,3791.7 1830.2,3791.3 1831.2,3791.1 1832.2,3791.1 1833.2,3790.8 1834.2,3790.1 1835.2,3790.2 1836.2,3790.0 1837.2,3790.1 1838.2,3790.3 1839.2,3790.3 1840.2,3790.4 1841.2,3790.4 1842.2,3790.5 1843.2,3791.1 1844.2,3791.4 1845.2,3791.8 1846.2,3791.8 1847.2,3792.2 1848.2,3793.2 1849.2,3793.5 1850.2,3794.3 1851.2,3794.5 1852.2,3795.3 1853.2,3796.0 1854.2,3797.5 1855.2,3798.1 1856.2,3799.1 1857.2,3800.6 1858.2,3802.4 1859.2,3803.3 1860.2,3804.7 1861.2,3805.9 1862.2,3807.3 1863.2,3808.6 1864.2,3809.7 1865.2,3811.9 1866.2,3813.0 1867.2,3814.9 1868.2,3815.7 1869.2,3817.8 1870.2,3818.9 1871.2,3820.4 1872.2,3822.2 1873.2,3823.9 1874.2,3825.5 1875.2,3826.9 1876.2,3827.9 1877.2,3829.5 1878.2,3830.5 1879.2,3831.9 1880.2,3833.4 1881.2,3834.7 1882.2,3836.3 1883.2,3837.2 1884.2,3839.5 1885.2,3840.7 1886.2,3842.9 1887.2,3844.5 1888.2,3845.6 1889.2,3847.6 1890.2,3849.4 1891.2,3850.7 1892.2,3852.4 1893.2,3854.2 1894.2,3856.1 1895.2,3857.9 1896.2,3859.2 1897.2,3861.2 1898.2,3863.1 1899.2,3864.6 1900.2,3865.8 1901.2,3867.3 1902.2,3869.1 1903.2,3870.7 1904.2,3871.9 1905.2,3872.9 1906.2,3873.9 1907.2,3875.3 1908.2,3875.8 1909.2,3877.0 1910.2,3876.8 1911.2,3877.4 1912.2,3877.6 1913.2,3878.4 1914.2,3878.3 1915.2,3877.9 1916.2,3877.5 1917.2,3878.3 1918.2,3878.1 1919.2,3877.7 1920.2,3877.6 1920.9,3878.1"/><g fill="#000" shape-rendering="crispEdges"><rect x="242" y="3657" width="1745" height="5"/><rect x="242" y="4008" width="1745" height="5"/><rect x="242" y="3657" width="5" height="356"/><rect x="1981" y="3657" width="6" height="356"/><rect x="247" y="3676.5" width="21" height="5"/><rect x="247" y="3754.5" width="21" height="5"/><rect x="247" y="3832.5" width="21" height="5"/><rect x="247" y="3910.5" width="21" height="5"/><rect x="247" y="3988.5" width="21" height="5"/><rect x="247" y="3715.5" width="9" height="5"/><rect x="247" y="3793.5" width="9" height="5"/><rect x="247" y="3871.5" width="9" height="5"/><rect x="247" y="3949.5" width="9" height="5"/><rect x="306" y="3987" width="5" height="21"/><rect x="628" y="3987" width="5" height="21"/><rect x="950" y="3987" width="5" height="21"/><rect x="1273" y="3987" width="5" height="21"/><rect x="1595" y="3987" width="5" height="21"/><rect x="1917" y="3987" width="5" height="21"/><rect x="467" y="3999" width="5" height="9"/><rect x="789" y="3999" width="5" height="9"/><rect x="1112" y="3999" width="5" height="9"/><rect x="1434" y="3999" width="5" height="9"/><rect x="1756" y="3999" width="5" height="9"/></g><text x="219.3" y="3699.1" class="t n" text-anchor="end">40</text><text x="219.3" y="3777.1" class="t n" text-anchor="end">20</text><text x="219.3" y="3855.1" class="t n" text-anchor="end">0</text><text x="219.3" y="3933.1" class="t n" text-anchor="end">-20</text><text x="219.3" y="4011.1" class="t n" text-anchor="end">-40</text><text transform="translate(95,3836.8) rotate(-90)" class="t" text-anchor="middle" textLength="376" lengthAdjust="spacingAndGlyphs">Amplitude(A)</text><polyline fill="none" stroke="#ff00ff" stroke-width="4.5" stroke-linejoin="round" stroke-linecap="round" points="308.2,4391.1 309.2,4389.7 310.2,4388.1 311.2,4385.8 312.2,4382.5 313.2,4377.8 314.2,4370.9 315.2,4363.9 316.2,4357.8 317.2,4350.5 318.2,4345.9 319.2,4339.6 320.2,4333.1 321.2,4327.6 322.2,4322.6 323.2,4316.9 324.2,4310.7 325.2,4305.9 326.2,4301.1 327.2,4296.2 328.2,4289.9 329.2,4283.7 330.2,4278.3 331.2,4272.6 332.2,4267.2 333.2,4262.5 334.2,4256.6 335.2,4253.3 336.2,4248.5 337.2,4243.6 338.2,4238.9 339.2,4234.3 340.2,4230.4 341.2,4225.9 342.2,4221.6 343.2,4218.1 344.2,4212.3 345.2,4208.8 346.2,4204.5 347.2,4200.7 348.2,4195.4 349.2,4190.2 350.2,4185.8 351.2,4181.1 352.2,4176.9 353.2,4171.9 354.2,4167.4 355.2,4163.4 356.2,4159.5 357.2,4156.6 358.2,4153.4 359.2,4149.7 360.2,4146.6 361.2,4144.3 362.2,4140.8 363.2,4138.2 364.2,4134.9 365.2,4132.6 366.2,4129.7 367.2,4128.1 368.2,4127.1 369.2,4126.0 370.2,4124.1 371.2,4122.8 372.2,4122.7 373.2,4122.7 374.2,4121.9 375.2,4122.1 376.2,4121.5 377.2,4120.9 378.2,4121.0 379.2,4121.4 380.2,4122.9 381.2,4122.8 382.2,4123.6 383.2,4125.7 384.2,4128.6 385.2,4132.2 386.2,4137.0 387.2,4142.0 388.2,4147.7 389.2,4153.1 390.2,4157.7 391.2,4161.3 392.2,4165.8 393.2,4169.5 394.2,4173.6 395.2,4178.6 396.2,4183.4 397.2,4187.7 398.2,4192.8 399.2,4197.4 400.2,4202.0 401.2,4206.2 402.2,4210.3 403.2,4216.3 404.2,4220.1 405.2,4225.5 406.2,4230.3 407.2,4234.9 408.2,4240.9 409.2,4245.4 410.2,4250.2 411.2,4255.0 412.2,4259.8 413.2,4264.7 414.2,4270.5 415.2,4275.0 416.2,4279.9 417.2,4284.9 418.2,4289.0 419.2,4293.7 420.2,4297.3 421.2,4301.7 422.2,4306.8 423.2,4310.8 424.2,4316.3 425.2,4321.3 426.2,4326.2 427.2,4330.5 428.2,4335.6 429.2,4340.5 430.2,4344.9 431.2,4350.0 432.2,4353.2 433.2,4356.9 434.2,4361.2 435.2,4365.7 436.2,4369.6 437.2,4375.4 438.2,4380.3 439.2,4384.2 440.2,4389.0 441.2,4391.7 442.2,4395.6 443.2,4398.9 444.2,4402.0 445.2,4405.1 446.2,4406.8 447.2,4408.4 448.2,4410.5 449.2,4411.8 450.2,4412.9 451.2,4413.3 452.2,4414.2 453.2,4414.3 454.2,4415.2 455.2,4414.9 456.2,4415.1 457.2,4415.9 458.2,4414.9 459.2,4414.8 460.2,4414.3 461.2,4412.8 462.2,4411.8 463.2,4409.4 464.2,4407.9 465.2,4404.1 466.2,4401.1 467.2,4398.4 468.2,4395.4 469.2,4391.7 470.2,4386.5 471.2,4382.6 472.2,4377.8 473.2,4372.3 474.2,4368.5 475.2,4362.9 476.2,4358.3 477.2,4352.4 478.2,4346.6 479.2,4341.0 480.2,4335.7 481.2,4330.4 482.2,4324.6 483.2,4320.7 484.2,4314.3 485.2,4308.6 486.2,4304.0 487.2,4299.2 488.2,4293.4 489.2,4287.3 490.2,4281.3 491.2,4275.5 492.2,4269.7 493.2,4264.7 494.2,4260.0 495.2,4254.8 496.2,4251.1 497.2,4245.9 498.2,4241.0 499.2,4236.7 500.2,4232.9 501.2,4227.0 502.2,4223.4 503.2,4219.9 504.2,4214.7 505.2,4209.4 506.2,4205.3 507.2,4200.6 508.2,4197.4 509.2,4191.4 510.2,4187.1 511.2,4182.7 512.2,4177.9 513.2,4172.9 514.2,4170.2 515.2,4166.7 516.2,4162.5 517.2,4159.2 518.2,4155.8 519.2,4152.4 520.2,4148.0 521.2,4146.2 522.2,4142.9 523.2,4140.1 524.2,4137.2 525.2,4134.8 526.2,4132.5 527.2,4131.0 528.2,4129.5 529.2,4127.2 530.2,4126.3 531.2,4124.4 532.2,4123.7 533.2,4122.5 534.2,4122.3 535.2,4122.4 536.2,4121.5 537.2,4121.2 538.2,4121.4 539.2,4122.1 540.2,4121.9 541.2,4123.4 542.2,4124.6 543.2,4127.4 544.2,4130.3 545.2,4134.3 546.2,4138.8 547.2,4143.9 548.2,4147.8 549.2,4152.9 550.2,4156.0 551.2,4160.8 552.2,4165.2 553.2,4168.7 554.2,4173.6 555.2,4177.6 556.2,4182.7 557.2,4187.2 558.2,4192.3 559.2,4196.2 560.2,4200.5 561.2,4205.6 562.2,4210.5 563.2,4215.1 564.2,4219.7 565.2,4224.9 566.2,4228.8 567.2,4233.5 568.2,4237.8 569.2,4242.3 570.2,4247.4 571.2,4251.3 572.2,4254.2 573.2,4260.1 574.2,4263.1 575.2,4268.5 576.2,4273.9 577.2,4278.5 578.2,4283.7 579.2,4288.8 580.2,4293.4 581.2,4297.5 582.2,4302.8 583.2,4306.8 584.2,4310.4 585.2,4315.5 586.2,4319.8 587.2,4323.5 588.2,4327.3 589.2,4332.0 590.2,4335.3 591.2,4339.6 592.2,4343.5 593.2,4348.3 594.2,4351.6 595.2,4356.6 596.2,4361.2 597.2,4364.4 598.2,4369.0 599.2,4371.6 600.2,4375.6 601.2,4378.8 602.2,4380.9 603.2,4383.1 604.2,4386.5 605.2,4388.9 606.2,4391.6 607.2,4393.8 608.2,4395.7 609.2,4397.1 610.2,4397.3 611.2,4397.5 612.2,4400.5 613.2,4403.5 614.2,4406.9 615.2,4410.3 616.2,4411.0 617.2,4410.6 618.2,4410.0 619.2,4407.6 620.2,4406.7 621.2,4403.8 622.2,4401.7 623.2,4397.9 624.2,4394.1 625.2,4390.1 626.2,4385.6 627.2,4382.1 628.2,4378.5 629.2,4375.0 630.2,4370.9 631.2,4367.1 632.2,4362.9 633.2,4358.0 634.2,4353.8 635.2,4349.0 636.2,4343.8 637.2,4339.1 638.2,4335.5 639.2,4331.1 640.2,4326.5 641.2,4320.8 642.2,4317.1 643.2,4312.3 644.2,4306.3 645.2,4301.8 646.2,4297.3 647.2,4291.6 648.2,4287.0 649.2,4281.1 650.2,4276.3 651.2,4272.0 652.2,4266.9 653.2,4262.6 654.2,4258.3 655.2,4253.6 656.2,4250.5 657.2,4245.6 658.2,4241.3 659.2,4237.0 660.2,4233.0 661.2,4228.4 662.2,4225.0 663.2,4220.3 664.2,4216.7 665.2,4211.7 666.2,4207.4 667.2,4202.9 668.2,4198.7 669.2,4193.1 670.2,4189.1 671.2,4183.6 672.2,4179.2 673.2,4173.7 674.2,4169.4 675.2,4164.0 676.2,4159.7 677.2,4156.4 678.2,4152.3 679.2,4149.6 680.2,4145.7 681.2,4143.3 682.2,4139.8 683.2,4136.6 684.2,4135.2 685.2,4131.8 686.2,4129.9 687.2,4127.4 688.2,4124.9 689.2,4124.3 690.2,4123.4 691.2,4122.4 692.2,4121.7 693.2,4120.5 694.2,4119.8 695.2,4119.5 696.2,4118.9 697.2,4119.7 698.2,4119.7 699.2,4119.6 700.2,4119.3 701.2,4120.0 702.2,4119.8 703.2,4121.1 704.2,4121.2 705.2,4122.6 706.2,4124.7 707.2,4126.9 708.2,4130.1 709.2,4134.1 710.2,4137.2 711.2,4143.3 712.2,4146.6 713.2,4150.2 714.2,4153.2 715.2,4157.3 716.2,4161.2 717.2,4165.8 718.2,4170.1 719.2,4176.1 720.2,4180.9 721.2,4187.4 722.2,4192.9 723.2,4198.8 724.2,4204.8 725.2,4211.1 726.2,4217.2 727.2,4222.5 728.2,4227.9 729.2,4234.9 730.2,4239.3 731.2,4245.3 732.2,4251.0 733.2,4256.2 734.2,4262.5 735.2,4267.5 736.2,4273.2 737.2,4278.0 738.2,4284.0 739.2,4288.9 740.2,4294.2 741.2,4299.4 742.2,4304.2 743.2,4308.9 744.2,4312.9 745.2,4316.5 746.2,4321.2 747.2,4324.2 748.2,4329.2 749.2,4332.9 750.2,4337.4 751.2,4339.7 752.2,4345.6 753.2,4348.4 754.2,4351.8 755.2,4356.5 756.2,4360.4 757.2,4364.1 758.2,4368.5 759.2,4370.7 760.2,4374.6 761.2,4377.7 762.2,4380.2 763.2,4383.4 764.2,4386.2 765.2,4387.5 766.2,4390.1 767.2,4392.0 768.2,4393.1 769.2,4393.2 770.2,4394.8 771.2,4395.1 772.2,4396.4 773.2,4396.2 774.2,4397.4 775.2,4396.3 776.2,4397.3 777.2,4396.8 778.2,4398.1 779.2,4397.9 780.2,4396.5 781.2,4396.4 782.2,4394.7 783.2,4392.0 784.2,4389.8 785.2,4387.5 786.2,4384.6 787.2,4380.8 788.2,4377.5 789.2,4373.7 790.2,4369.5 791.2,4364.6 792.2,4360.6 793.2,4356.2 794.2,4350.8 795.2,4347.7 796.2,4343.4 797.2,4338.7 798.2,4335.3 799.2,4329.8 800.2,4325.3 801.2,4321.0 802.2,4316.4 803.2,4312.9 804.2,4307.3 805.2,4302.5 806.2,4297.8 807.2,4293.4 808.2,4287.7 809.2,4282.3 810.2,4277.4 811.2,4272.5 812.2,4266.5 813.2,4261.8 814.2,4255.9 815.2,4250.4 816.2,4245.5 817.2,4241.1 818.2,4235.2 819.2,4231.3 820.2,4226.6 821.2,4222.3 822.2,4218.3 823.2,4214.8 824.2,4210.8 825.2,4206.7 826.2,4202.7 827.2,4197.9 828.2,4193.7 829.2,4189.4 830.2,4185.7 831.2,4181.9 832.2,4178.2 833.2,4175.0 834.2,4170.8 835.2,4167.5 836.2,4164.4 837.2,4161.1 838.2,4156.8 839.2,4153.9 840.2,4151.0 841.2,4147.4 842.2,4145.8 843.2,4143.4 844.2,4142.2 845.2,4141.1 846.2,4139.0 847.2,4138.5 848.2,4136.9 849.2,4135.6 850.2,4134.7 851.2,4132.9 852.2,4131.3 853.2,4130.8 854.2,4129.4 855.2,4128.7 856.2,4127.6 857.2,4127.4 858.2,4127.4 859.2,4127.7 860.2,4128.5 861.2,4129.3 862.2,4130.8 863.2,4133.6 864.2,4133.8 865.2,4135.6 866.2,4139.0 867.2,4140.8 868.2,4143.6 869.2,4146.7 870.2,4149.8 871.2,4152.9 872.2,4156.2 873.2,4159.5 874.2,4163.8 875.2,4167.7 876.2,4171.2 877.2,4175.7 878.2,4179.6 879.2,4185.0 880.2,4189.1 881.2,4194.6 882.2,4198.2 883.2,4203.9 884.2,4207.7 885.2,4212.3 886.2,4217.6 887.2,4223.1 888.2,4228.2 889.2,4232.1 890.2,4237.5 891.2,4241.5 892.2,4246.3 893.2,4251.4 894.2,4257.8 895.2,4262.9 896.2,4268.7 897.2,4273.6 898.2,4279.6 899.2,4284.7 900.2,4290.0 901.2,4293.4 902.2,4298.0 903.2,4302.5 904.2,4307.1 905.2,4312.3 906.2,4316.2 907.2,4321.8 908.2,4325.8 909.2,4330.0 910.2,4334.8 911.2,4338.9 912.2,4343.3 913.2,4348.7 914.2,4352.7 915.2,4355.8 916.2,4359.7 917.2,4364.1 918.2,4366.3 919.2,4369.7 920.2,4372.7 921.2,4375.0 922.2,4377.5 923.2,4379.8 924.2,4382.3 925.2,4383.7 926.2,4386.4 927.2,4388.1 928.2,4388.9 929.2,4390.9 930.2,4391.2 931.2,4391.3 932.2,4392.3 933.2,4393.7 934.2,4394.2 935.2,4394.0 936.2,4393.6 937.2,4394.1 938.2,4394.5 939.2,4393.9 940.2,4393.1 941.2,4393.5 942.2,4392.6 943.2,4391.5 944.2,4390.0 945.2,4388.1 946.2,4385.4 947.2,4382.3 948.2,4379.5 949.2,4376.1 950.2,4372.8 951.2,4367.7 952.2,4364.1 953.2,4359.7 954.2,4356.0 955.2,4351.5 956.2,4346.3 957.2,4344.1 958.2,4339.5 959.2,4335.4 960.2,4331.4 961.2,4327.6 962.2,4323.4 963.2,4319.6 964.2,4315.2 965.2,4310.5 966.2,4306.0 967.2,4300.6 968.2,4296.4 969.2,4291.1 970.2,4286.4 971.2,4281.4 972.2,4275.9 973.2,4271.6 974.2,4266.4 975.2,4261.0 976.2,4257.2 977.2,4252.7 978.2,4247.0 979.2,4242.5 980.2,4239.1 981.2,4235.6 982.2,4231.9 983.2,4227.9 984.2,4223.8 985.2,4220.4 986.2,4216.4 987.2,4212.0 988.2,4208.4 989.2,4205.0 990.2,4200.4 991.2,4196.8 992.2,4193.1 993.2,4190.6 994.2,4186.9 995.2,4183.7 996.2,4180.0 997.2,4176.9 998.2,4174.4 999.2,4170.9 1000.2,4168.9 1001.2,4166.0 1002.2,4164.0 1003.2,4162.5 1004.2,4161.0 1005.2,4160.0 1006.2,4157.7 1007.2,4157.3 1008.2,4154.9 1009.2,4153.6 1010.2,4151.9 1011.2,4152.3 1012.2,4151.7 1013.2,4149.8 1014.2,4149.6 1015.2,4149.1 1016.2,4148.0 1017.2,4148.3 1018.2,4148.1 1019.2,4147.6 1020.2,4147.3 1021.2,4147.9 1022.2,4148.4 1023.2,4148.1 1024.2,4149.4 1025.2,4150.6 1026.2,4150.3 1027.2,4153.1 1028.2,4155.5 1029.2,4156.3 1030.2,4159.9 1031.2,4162.0 1032.2,4165.5 1033.2,4168.5 1034.2,4171.7 1035.2,4175.3 1036.2,4181.1 1037.2,4183.5 1038.2,4188.1 1039.2,4193.0 1040.2,4196.7 1041.2,4200.8 1042.2,4204.0 1043.2,4208.9 1044.2,4212.8 1045.2,4216.8 1046.2,4222.1 1047.2,4226.8 1048.2,4230.6 1049.2,4235.3 1050.2,4240.3 1051.2,4245.1 1052.2,4248.6 1053.2,4253.8 1054.2,4257.9 1055.2,4261.8 1056.2,4265.9 1057.2,4271.6 1058.2,4277.0 1059.2,4282.6 1060.2,4286.2 1061.2,4290.9 1062.2,4293.0 1063.2,4295.7 1064.2,4297.6 1065.2,4300.1 1066.2,4303.3 1067.2,4305.3 1068.2,4309.1 1069.2,4312.0 1070.2,4315.6 1071.2,4318.7 1072.2,4322.2 1073.2,4323.7 1074.2,4326.5 1075.2,4328.6 1076.2,4329.9 1077.2,4330.1 1078.2,4331.6 1079.2,4333.5 1080.2,4336.2 1081.2,4337.1 1082.2,4339.3 1083.2,4341.2 1084.2,4343.5 1085.2,4345.1 1086.2,4347.8 1087.2,4350.0 1088.2,4352.3 1089.2,4353.2 1090.2,4355.4 1091.2,4356.9 1092.2,4357.0 1093.2,4357.5 1094.2,4356.4 1095.2,4358.3 1096.2,4358.7 1097.2,4358.4 1098.2,4358.0 1099.2,4357.9 1100.2,4358.6 1101.2,4356.6 1102.2,4356.2 1103.2,4356.3 1104.2,4355.2 1105.2,4353.3 1106.2,4353.3 1107.2,4352.1 1108.2,4350.2 1109.2,4349.2 1110.2,4347.5 1111.2,4344.7 1112.2,4343.8 1113.2,4342.5 1114.2,4340.1 1115.2,4336.7 1116.2,4334.4 1117.2,4332.8 1118.2,4330.6 1119.2,4327.5 1120.2,4325.3 1121.2,4323.9 1122.2,4320.9 1123.2,4318.8 1124.2,4315.7 1125.2,4313.5 1126.2,4309.8 1127.2,4306.6 1128.2,4302.8 1129.2,4298.3 1130.2,4294.7 1131.2,4289.8 1132.2,4285.8 1133.2,4281.8 1134.2,4277.8 1135.2,4274.1 1136.2,4270.4 1137.2,4267.7 1138.2,4266.1 1139.2,4264.0 1140.2,4263.0 1141.2,4261.1 1142.2,4260.7 1143.2,4260.3 1144.2,4257.3 1145.2,4254.4 1146.2,4251.7 1147.2,4246.7 1148.2,4243.8 1149.2,4239.7 1150.2,4236.5 1151.2,4233.6 1152.2,4233.2 1153.2,4230.1 1154.2,4228.7 1155.2,4227.8 1156.2,4224.8 1157.2,4223.2 1158.2,4220.3 1159.2,4217.2 1160.2,4213.7 1161.2,4210.7 1162.2,4207.8 1163.2,4204.0 1164.2,4201.4 1165.2,4198.1 1166.2,4195.5 1167.2,4193.1 1168.2,4191.4 1169.2,4189.9 1170.2,4188.9 1171.2,4187.7 1172.2,4186.7 1173.2,4185.2 1174.2,4184.0 1175.2,4183.9 1176.2,4183.6 1177.2,4182.1 1178.2,4181.3 1179.2,4181.3 1180.2,4181.4 1181.2,4181.4 1182.2,4180.7 1183.2,4180.2 1184.2,4180.8 1185.2,4181.4 1186.2,4181.6 1187.2,4182.8 1188.2,4183.1 1189.2,4184.9 1190.2,4186.5 1191.2,4186.8 1192.2,4188.6 1193.2,4191.2 1194.2,4194.4 1195.2,4195.4 1196.2,4197.4 1197.2,4200.3 1198.2,4202.0 1199.2,4203.6 1200.2,4206.3 1201.2,4209.6 1202.2,4210.5 1203.2,4212.8 1204.2,4215.9 1205.2,4217.6 1206.2,4220.1 1207.2,4221.0 1208.2,4223.1 1209.2,4225.3 1210.2,4226.8 1211.2,4229.3 1212.2,4231.3 1213.2,4233.8 1214.2,4235.4 1215.2,4237.4 1216.2,4240.0 1217.2,4242.5 1218.2,4244.9 1219.2,4247.1 1220.2,4249.7 1221.2,4252.7 1222.2,4255.6 1223.2,4259.5 1224.2,4262.7 1225.2,4266.4 1226.2,4268.5 1227.2,4271.3 1228.2,4274.0 1229.2,4274.8 1230.2,4277.5 1231.2,4279.8 1232.2,4282.3 1233.2,4284.7 1234.2,4289.0 1235.2,4292.4 1236.2,4294.8 1237.2,4296.5 1238.2,4296.9 1239.2,4299.5 1240.2,4301.1 1241.2,4303.7 1242.2,4307.9 1243.2,4311.1 1244.2,4313.2 1245.2,4314.9 1246.2,4317.1 1247.2,4319.4 1248.2,4320.1 1249.2,4323.6 1250.2,4325.5 1251.2,4326.7 1252.2,4329.0 1253.2,4330.0 1254.2,4330.9 1255.2,4332.9 1256.2,4333.9 1257.2,4334.2 1258.2,4334.9 1259.2,4335.9 1260.2,4337.5 1261.2,4337.5 1262.2,4339.6 1263.2,4338.6 1264.2,4339.6 1265.2,4339.9 1266.2,4339.8 1267.2,4340.3 1268.2,4339.3 1269.2,4339.2 1270.2,4338.1 1271.2,4336.8 1272.2,4337.0 1273.2,4335.5 1274.2,4334.4 1275.2,4334.2 1276.2,4332.6 1277.2,4331.6 1278.2,4330.9 1279.2,4328.9 1280.2,4327.7 1281.2,4325.5 1282.2,4325.0 1283.2,4323.5 1284.2,4321.1 1285.2,4320.2 1286.2,4318.4 1287.2,4316.3 1288.2,4314.6 1289.2,4313.8 1290.2,4310.5 1291.2,4308.7 1292.2,4306.9 1293.2,4304.8 1294.2,4302.0 1295.2,4301.1 1296.2,4299.3 1297.2,4297.6 1298.2,4294.6 1299.2,4292.3 1300.2,4291.1 1301.2,4288.4 1302.2,4286.8 1303.2,4284.6 1304.2,4282.9 1305.2,4280.5 1306.2,4279.0 1307.2,4276.3 1308.2,4275.9 1309.2,4273.3 1310.2,4270.9 1311.2,4269.0 1312.2,4267.7 1313.2,4265.9 1314.2,4264.0 1315.2,4263.3 1316.2,4261.3 1317.2,4258.4 1318.2,4257.2 1319.2,4254.9 1320.2,4253.2 1321.2,4250.6 1322.2,4249.8 1323.2,4246.9 1324.2,4245.7 1325.2,4242.6 1326.2,4241.4 1327.2,4238.8 1328.2,4237.5 1329.2,4234.7 1330.2,4232.2 1331.2,4230.2 1332.2,4228.5 1333.2,4227.1 1334.2,4225.2 1335.2,4223.4 1336.2,4222.2 1337.2,4220.9 1338.2,4218.3 1339.2,4217.9 1340.2,4217.4 1341.2,4215.1 1342.2,4214.1 1343.2,4213.7 1344.2,4212.9 1345.2,4211.9 1346.2,4211.7 1347.2,4212.2 1348.2,4211.8 1349.2,4211.0 1350.2,4210.7 1351.2,4211.2 1352.2,4212.0 1353.2,4211.8 1354.2,4212.0 1355.2,4213.0 1356.2,4213.0 1357.2,4213.4 1358.2,4214.2 1359.2,4215.3 1360.2,4215.5 1361.2,4216.4 1362.2,4216.9 1363.2,4218.3 1364.2,4217.9 1365.2,4218.7 1366.2,4219.9 1367.2,4221.9 1368.2,4222.7 1369.2,4222.5 1370.2,4224.0 1371.2,4225.7 1372.2,4227.0 1373.2,4229.0 1374.2,4230.2 1375.2,4231.7 1376.2,4234.8 1377.2,4237.2 1378.2,4238.1 1379.2,4240.0 1380.2,4242.7 1381.2,4244.1 1382.2,4247.1 1383.2,4248.3 1384.2,4251.0 1385.2,4252.3 1386.2,4254.3 1387.2,4256.2 1388.2,4257.4 1389.2,4258.6 1390.2,4261.0 1391.2,4261.3 1392.2,4263.9 1393.2,4264.3 1394.2,4265.7 1395.2,4267.6 1396.2,4269.1 1397.2,4270.9 1398.2,4271.9 1399.2,4274.1 1400.2,4276.7 1401.2,4278.8 1402.2,4280.7 1403.2,4283.4 1404.2,4284.8 1405.2,4287.3 1406.2,4289.3 1407.2,4290.9 1408.2,4292.6 1409.2,4294.8 1410.2,4296.4 1411.2,4298.1 1412.2,4299.1 1413.2,4301.3 1414.2,4303.5 1415.2,4304.2 1416.2,4306.0 1417.2,4307.4 1418.2,4309.4 1419.2,4309.6 1420.2,4312.7 1421.2,4313.7 1422.2,4314.8 1423.2,4316.5 1424.2,4318.1 1425.2,4318.8 1426.2,4319.6 1427.2,4320.3 1428.2,4320.0 1429.2,4320.2 1430.2,4320.4 1431.2,4319.9 1432.2,4319.1 1433.2,4319.5 1434.2,4319.8 1435.2,4318.3 1436.2,4318.1 1437.2,4317.5 1438.2,4316.9 1439.2,4315.5 1440.2,4314.9 1441.2,4314.8 1442.2,4313.4 1443.2,4311.9 1444.2,4311.6 1445.2,4310.3 1446.2,4310.0 1447.2,4307.6 1448.2,4307.3 1449.2,4306.6 1450.2,4304.5 1451.2,4303.6 1452.2,4303.0 1453.2,4301.6 1454.2,4300.2 1455.2,4299.2 1456.2,4297.2 1457.2,4296.1 1458.2,4296.0 1459.2,4293.6 1460.2,4292.8 1461.2,4291.3 1462.2,4290.4 1463.2,4288.8 1464.2,4287.3 1465.2,4286.1 1466.2,4284.1 1467.2,4281.4 1468.2,4280.1 1469.2,4279.1 1470.2,4277.1 1471.2,4274.7 1472.2,4272.2 1473.2,4270.7 1474.2,4270.1 1475.2,4267.8 1476.2,4266.0 1477.2,4263.0 1478.2,4261.4 1479.2,4260.0 1480.2,4258.0 1481.2,4257.0 1482.2,4254.8 1483.2,4253.8 1484.2,4251.8 1485.2,4249.9 1486.2,4248.7 1487.2,4247.0 1488.2,4245.4 1489.2,4243.9 1490.2,4242.9 1491.2,4241.1 1492.2,4240.1 1493.2,4239.6 1494.2,4238.8 1495.2,4238.1 1496.2,4235.8 1497.2,4233.2 1498.2,4231.3 1499.2,4229.0 1500.2,4227.6 1501.2,4226.0 1502.2,4224.5 1503.2,4223.4 1504.2,4222.6 1505.2,4221.6 1506.2,4220.2 1507.2,4220.7 1508.2,4219.7 1509.2,4220.3 1510.2,4220.1 1511.2,4220.8 1512.2,4220.1 1513.2,4220.1 1514.2,4220.0 1515.2,4220.5 1516.2,4220.4 1517.2,4220.3 1518.2,4220.9 1519.2,4221.8 1520.2,4221.8 1521.2,4222.1 1522.2,4221.6 1523.2,4222.2 1524.2,4222.8 1525.2,4222.5 1526.2,4224.7 1527.2,4224.0 1528.2,4225.6 1529.2,4225.8 1530.2,4227.4 1531.2,4228.9 1532.2,4230.1 1533.2,4230.9 1534.2,4232.5 1535.2,4234.8 1536.2,4236.2 1537.2,4238.2 1538.2,4240.6 1539.2,4241.1 1540.2,4244.3 1541.2,4246.5 1542.2,4248.4 1543.2,4249.4 1544.2,4250.2 1545.2,4252.2 1546.2,4253.8 1547.2,4253.9 1548.2,4254.9 1549.2,4256.2 1550.2,4257.0 1551.2,4257.3 1552.2,4258.2 1553.2,4259.9 1554.2,4261.6 1555.2,4263.6 1556.2,4264.8 1557.2,4266.8 1558.2,4269.0 1559.2,4271.3 1560.2,4271.9 1561.2,4272.4 1562.2,4274.6 1563.2,4275.5 1564.2,4277.1 1565.2,4278.9 1566.2,4280.6 1567.2,4281.6 1568.2,4283.8 1569.2,4286.4 1570.2,4288.5 1571.2,4290.7 1572.2,4291.4 1573.2,4292.0 1574.2,4292.9 1575.2,4293.8 1576.2,4294.7 1577.2,4296.0 1578.2,4297.9 1579.2,4299.9 1580.2,4301.2 1581.2,4303.3 1582.2,4304.7 1583.2,4306.3 1584.2,4307.7 1585.2,4309.4 1586.2,4310.6 1587.2,4310.6 1588.2,4313.0 1589.2,4313.9 1590.2,4314.6 1591.2,4315.7 1592.2,4315.9 1593.2,4316.6 1594.2,4316.2 1595.2,4316.8 1596.2,4316.5 1597.2,4315.4 1598.2,4315.4 1599.2,4315.6 1600.2,4315.0 1601.2,4314.4 1602.2,4313.2 1603.2,4312.8 1604.2,4312.4 1605.2,4311.7 1606.2,4310.7 1607.2,4309.4 1608.2,4308.7 1609.2,4307.4 1610.2,4305.9 1611.2,4304.6 1612.2,4303.4 1613.2,4301.7 1614.2,4301.2 1615.2,4300.0 1616.2,4298.7 1617.2,4296.6 1618.2,4295.3 1619.2,4294.4 1620.2,4292.7 1621.2,4291.4 1622.2,4289.9 1623.2,4287.9 1624.2,4287.7 1625.2,4285.0 1626.2,4283.4 1627.2,4283.0 1628.2,4280.6 1629.2,4280.0 1630.2,4278.1 1631.2,4276.6 1632.2,4274.8 1633.2,4273.0 1634.2,4271.7 1635.2,4270.9 1636.2,4269.5 1637.2,4267.7 1638.2,4266.4 1639.2,4265.2 1640.2,4264.3 1641.2,4263.2 1642.2,4262.0 1643.2,4260.1 1644.2,4259.5 1645.2,4257.6 1646.2,4256.3 1647.2,4253.6 1648.2,4252.6 1649.2,4251.2 1650.2,4248.4 1651.2,4248.1 1652.2,4246.6 1653.2,4245.5 1654.2,4243.9 1655.2,4242.9 1656.2,4240.6 1657.2,4238.8 1658.2,4237.4 1659.2,4235.5 1660.2,4232.6 1661.2,4231.8 1662.2,4229.8 1663.2,4227.8 1664.2,4225.3 1665.2,4224.7 1666.2,4223.2 1667.2,4222.6 1668.2,4221.6 1669.2,4221.0 1670.2,4220.5 1671.2,4220.3 1672.2,4220.7 1673.2,4219.9 1674.2,4219.9 1675.2,4220.3 1676.2,4220.1 1677.2,4219.4 1678.2,4220.2 1679.2,4220.5 1680.2,4221.5 1681.2,4221.3 1682.2,4220.9 1683.2,4221.2 1684.2,4221.8 1685.2,4222.6 1686.2,4222.6 1687.2,4223.7 1688.2,4223.5 1689.2,4225.0 1690.2,4226.1 1691.2,4225.3 1692.2,4227.6 1693.2,4228.9 1694.2,4230.5 1695.2,4232.2 1696.2,4234.0 1697.2,4236.2 1698.2,4238.2 1699.2,4240.2 1700.2,4242.9 1701.2,4244.5 1702.2,4246.3 1703.2,4247.2 1704.2,4248.6 1705.2,4250.5 1706.2,4250.7 1707.2,4252.7 1708.2,4252.8 1709.2,4255.5 1710.2,4256.4 1711.2,4256.9 1712.2,4258.2 1713.2,4258.9 1714.2,4261.1 1715.2,4263.0 1716.2,4264.1 1717.2,4265.0 1718.2,4267.4 1719.2,4268.1 1720.2,4269.3 1721.2,4270.3 1722.2,4272.0 1723.2,4274.2 1724.2,4274.6 1725.2,4275.0 1726.2,4277.2 1727.2,4279.4 1728.2,4280.6 1729.2,4281.5 1730.2,4283.5 1731.2,4284.4 1732.2,4287.0 1733.2,4288.1 1734.2,4289.9 1735.2,4291.6 1736.2,4293.2 1737.2,4295.9 1738.2,4297.5 1739.2,4298.3 1740.2,4300.1 1741.2,4302.4 1742.2,4303.2 1743.2,4304.6 1744.2,4305.9 1745.2,4308.4 1746.2,4309.1 1747.2,4310.3 1748.2,4311.4 1749.2,4312.4 1750.2,4314.3 1751.2,4314.4 1752.2,4315.1 1753.2,4315.0 1754.2,4315.4 1755.2,4315.6 1756.2,4315.5 1757.2,4314.8 1758.2,4314.9 1759.2,4314.9 1760.2,4313.5 1761.2,4314.5 1762.2,4313.7 1763.2,4312.8 1764.2,4312.7 1765.2,4312.5 1766.2,4311.7 1767.2,4311.0 1768.2,4310.3 1769.2,4309.7 1770.2,4307.9 1771.2,4307.2 1772.2,4306.5 1773.2,4305.2 1774.2,4303.5 1775.2,4302.5 1776.2,4300.9 1777.2,4299.7 1778.2,4297.5 1779.2,4295.9 1780.2,4294.5 1781.2,4293.5 1782.2,4293.1 1783.2,4290.9 1784.2,4289.5 1785.2,4287.5 1786.2,4286.8 1787.2,4284.8 1788.2,4283.4 1789.2,4282.5 1790.2,4280.2 1791.2,4278.3 1792.2,4277.3 1793.2,4276.8 1794.2,4275.0 1795.2,4273.0 1796.2,4271.1 1797.2,4269.5 1798.2,4268.2 1799.2,4266.1 1800.2,4265.3 1801.2,4263.1 1802.2,4262.6 1803.2,4260.4 1804.2,4258.7 1805.2,4257.4 1806.2,4255.6 1807.2,4254.4 1808.2,4252.1 1809.2,4251.3 1810.2,4250.2 1811.2,4249.1 1812.2,4247.6 1813.2,4247.1 1814.2,4244.6 1815.2,4244.0 1816.2,4242.4 1817.2,4241.0 1818.2,4239.2 1819.2,4238.2 1820.2,4235.6 1821.2,4233.2 1822.2,4232.6 1823.2,4229.4 1824.2,4227.5 1825.2,4226.3 1826.2,4224.2 1827.2,4223.2 1828.2,4222.6 1829.2,4220.8 1830.2,4220.5 1831.2,4220.8 1832.2,4221.0 1833.2,4220.1 1834.2,4220.0 1835.2,4220.6 1836.2,4219.4 1837.2,4219.8 1838.2,4219.8 1839.2,4219.4 1840.2,4219.3 1841.2,4220.7 1842.2,4221.7 1843.2,4222.0 1844.2,4222.6 1845.2,4221.3 1846.2,4222.9 1847.2,4224.0 1848.2,4223.5 1849.2,4223.8 1850.2,4225.1 1851.2,4225.6 1852.2,4226.6 1853.2,4227.1 1854.2,4228.6 1855.2,4229.4 1856.2,4230.6 1857.2,4231.9 1858.2,4234.3 1859.2,4235.8 1860.2,4238.5 1861.2,4240.4 1862.2,4242.0 1863.2,4242.4 1864.2,4244.5 1865.2,4245.7 1866.2,4247.1 1867.2,4247.2 1868.2,4248.7 1869.2,4250.1 1870.2,4251.9 1871.2,4252.2 1872.2,4254.0 1873.2,4254.9 1874.2,4257.0 1875.2,4257.8 1876.2,4258.5 1877.2,4260.8 1878.2,4262.7 1879.2,4264.8 1880.2,4266.1 1881.2,4267.2 1882.2,4268.2 1883.2,4270.1 1884.2,4271.4 1885.2,4273.3 1886.2,4274.5 1887.2,4274.8 1888.2,4275.7 1889.2,4277.8 1890.2,4279.5 1891.2,4280.3 1892.2,4281.9 1893.2,4284.0 1894.2,4285.3 1895.2,4285.8 1896.2,4288.2 1897.2,4289.7 1898.2,4291.0 1899.2,4292.9 1900.2,4294.4 1901.2,4296.7 1902.2,4297.2 1903.2,4298.2 1904.2,4299.8 1905.2,4301.9 1906.2,4303.9 1907.2,4304.9 1908.2,4306.4 1909.2,4307.8 1910.2,4309.0 1911.2,4310.7 1912.2,4311.5 1913.2,4313.7 1914.2,4314.7 1915.2,4315.3 1916.2,4315.4 1917.2,4315.8 1918.2,4315.8 1919.2,4316.2 1920.2,4315.9 1920.9,4316.2"/><g fill="#000" shape-rendering="crispEdges"><rect x="242" y="4089" width="1745" height="5"/><rect x="242" y="4441" width="1745" height="5"/><rect x="242" y="4089" width="5" height="357"/><rect x="1981" y="4089" width="6" height="357"/><rect x="247" y="4108.6" width="21" height="5"/><rect x="247" y="4186.8" width="21" height="5"/><rect x="247" y="4265.0" width="21" height="5"/><rect x="247" y="4343.2" width="21" height="5"/><rect x="247" y="4421.4" width="21" height="5"/><rect x="247" y="4147.7" width="9" height="5"/><rect x="247" y="4225.9" width="9" height="5"/><rect x="247" y="4304.1" width="9" height="5"/><rect x="247" y="4382.3" width="9" height="5"/><rect x="306" y="4420" width="5" height="21"/><rect x="628" y="4420" width="5" height="21"/><rect x="950" y="4420" width="5" height="21"/><rect x="1273" y="4420" width="5" height="21"/><rect x="1595" y="4420" width="5" height="21"/><rect x="1917" y="4420" width="5" height="21"/><rect x="467" y="4432" width="5" height="9"/><rect x="789" y="4432" width="5" height="9"/><rect x="1112" y="4432" width="5" height="9"/><rect x="1434" y="4432" width="5" height="9"/><rect x="1756" y="4432" width="5" height="9"/></g><text x="219.3" y="4131.2" class="t n" text-anchor="end">40</text><text x="219.3" y="4209.4" class="t n" text-anchor="end">20</text><text x="219.3" y="4287.6" class="t n" text-anchor="end">0</text><text x="219.3" y="4365.8" class="t n" text-anchor="end">-20</text><text x="219.3" y="4444.0" class="t n" text-anchor="end">-40</text><text transform="translate(95,4268.6) rotate(-90)" class="t" text-anchor="middle" textLength="376" lengthAdjust="spacingAndGlyphs">Amplitude(A)</text><text x="309.3" y="1337.6" class="t n" text-anchor="middle">0</text><text x="631.5" y="1337.6" class="t n" text-anchor="middle">1000</text><text x="953.7" y="1337.6" class="t n" text-anchor="middle">2000</text><text x="1275.9" y="1337.6" class="t n" text-anchor="middle">3000</text><text x="1598.1" y="1337.6" class="t n" text-anchor="middle">4000</text><text x="1920.3" y="1337.6" class="t n" text-anchor="middle">5000</text><text x="1110.5" y="1449" class="t" text-anchor="middle" textLength="356.5" lengthAdjust="spacingAndGlyphs">Sample Point</text><text x="635.3" y="1571.0" class="c" textLength="749.8" lengthAdjust="spacingAndGlyphs">(<tspan font-weight="bold">d</tspan>) Vacuum cleaners</text><text x="309.3" y="2941.6" class="t n" text-anchor="middle">0</text><text x="631.5" y="2941.6" class="t n" text-anchor="middle">1000</text><text x="953.7" y="2941.6" class="t n" text-anchor="middle">2000</text><text x="1275.9" y="2941.6" class="t n" text-anchor="middle">3000</text><text x="1598.1" y="2941.6" class="t n" text-anchor="middle">4000</text><text x="1920.3" y="2941.6" class="t n" text-anchor="middle">5000</text><text x="1110.5" y="3053" class="t" text-anchor="middle" textLength="356.5" lengthAdjust="spacingAndGlyphs">Sample Point</text><text x="627.1" y="3173.5" class="c" textLength="765.2" lengthAdjust="spacingAndGlyphs">(<tspan font-weight="bold">e</tspan>) Microwave ovens</text><text x="309.3" y="4521.6" class="t n" text-anchor="middle">0</text><text x="631.5" y="4521.6" class="t n" text-anchor="middle">1000</text><text x="953.7" y="4521.6" class="t n" text-anchor="middle">2000</text><text x="1275.9" y="4521.6" class="t n" text-anchor="middle">3000</text><text x="1598.1" y="4521.6" class="t n" text-anchor="middle">4000</text><text x="1920.3" y="4521.6" class="t n" text-anchor="middle">5000</text><text x="1110.5" y="4633" class="t" text-anchor="middle" textLength="356.5" lengthAdjust="spacingAndGlyphs">Sample Point</text><text x="612.1" y="4755.0" class="c" textLength="794.2" lengthAdjust="spacingAndGlyphs">(<tspan font-weight="bold">f</tspan>) Washing machines</text></g></svg></body></html>
